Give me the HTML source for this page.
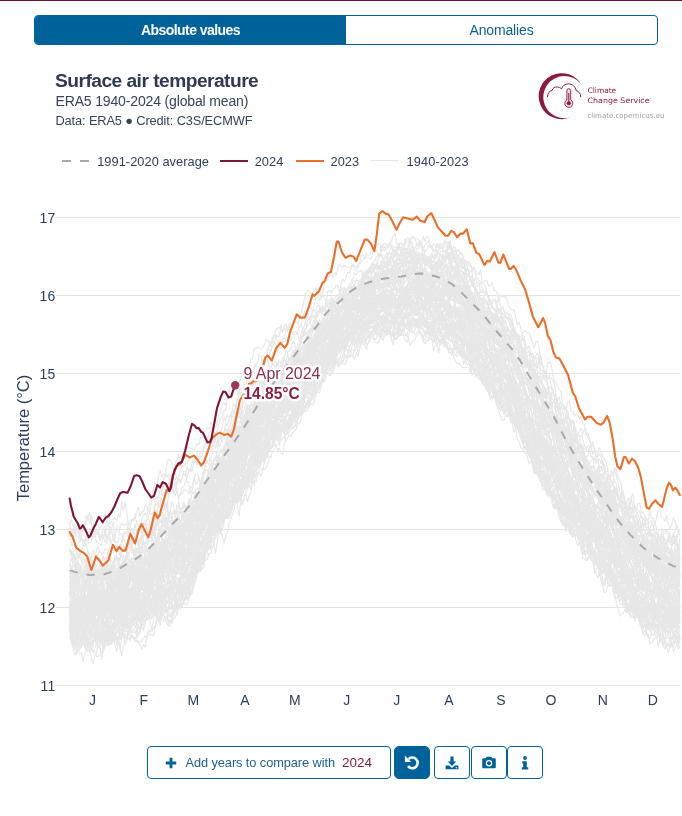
<!DOCTYPE html>
<html><head><meta charset="utf-8"><title>Surface air temperature</title>
<style>
html,body{margin:0;padding:0;background:#fff;}
body{width:682px;height:816px;position:relative;overflow:hidden;font-family:"Liberation Sans",sans-serif;color:#2a3f5f;}
.topline{position:absolute;left:0;top:0;width:682px;height:1px;background:#6e1432;}
.toggle{position:absolute;left:34px;top:15px;width:624px;height:30px;box-sizing:border-box;border:1px solid #00629b;border-radius:4px;display:flex;overflow:hidden;background:#fff;}
.toggle div{flex:1;text-align:center;line-height:29px;font-size:14px;color:#0f5f96;letter-spacing:-0.15px;}
.toggle .on{background:#00629b;color:#fff;font-weight:bold;font-size:14px;letter-spacing:-0.55px;line-height:29.5px;}
.title{position:absolute;left:55px;top:69.6px;font-size:19.2px;font-weight:bold;line-height:22px;white-space:nowrap;color:#2e3a55;letter-spacing:-0.53px;}
.sub{position:absolute;left:55.5px;top:93.2px;font-size:14px;line-height:16px;white-space:nowrap;color:#36435c;letter-spacing:-0.15px;}
.cred{position:absolute;left:55.5px;top:112.9px;font-size:12.8px;line-height:16px;white-space:nowrap;color:#36435c;letter-spacing:-0.12px;}
.legend{position:absolute;left:0;top:152.5px;height:18px;font-size:12.8px;line-height:18px;white-space:nowrap;}
.legend span{position:absolute;top:0;}
.legend i{position:absolute;top:7.5px;height:2px;}
.chart{position:absolute;left:0;top:0;}
.logo{position:absolute;left:520px;top:62px;}
.btn{position:absolute;top:746px;height:33px;box-sizing:border-box;border:1px solid #00629b;border-radius:4px;background:#fff;color:#00629b;}
.btn svg{position:absolute;left:50%;top:50%;margin:-8px 0 0 -8px;}
.add{font-size:12.8px;line-height:31px;white-space:nowrap;}
.add span{position:absolute;top:0;}
</style></head><body>
<div class="topline"></div>
<div class="toggle"><div class="on">Absolute values</div><div>Anomalies</div></div>
<div class="title">Surface air temperature</div>
<div class="sub">ERA5 1940-2024 (global mean)</div>
<div class="cred">Data: ERA5 ● Credit: C3S/ECMWF</div>
<svg class="logo" width="160" height="70" viewBox="520 62 160 70">
<path d="M582.1,85.6A23,23 0 1 0 570.7,117.3A21.1,21.1 0 1 1 582.1,85.6Z" fill="#8a1a3f"/>
<path d="M547.4,97.2C547.4,93.2 549.6,91 552,90.5C552.6,88 555,86.6 557.5,87C559,87.1 560.5,87.8 561.5,88.9C562.5,86 565,83.8 568.2,83.8C572.2,83.8 575.6,86.6 576.1,90.6C578.6,91.1 580.8,93.6 580.8,97.2" fill="none" stroke="#8a1a3f" stroke-width="1"/>
<path d="M566.9,90.6a1.9,1.9 0 0 1 3.8,0v9.3a4,4 0 1 1 -3.8,0z" fill="#f6d9e0" stroke="#8a1a3f" stroke-width="0.9"/>
<circle cx="568.8" cy="103.3" r="2" fill="#8a1a3f"/><rect x="568.3" y="93" width="1" height="9" fill="#8a1a3f"/>
<g font-family="'DejaVu Sans','Liberation Sans',sans-serif" font-size="7.5" fill="#8a1a3f">
<text x="587.6" y="93.4" textLength="28.6" lengthAdjust="spacingAndGlyphs">Climate</text>
<text x="587.6" y="103.2" textLength="62" lengthAdjust="spacingAndGlyphs">Change Service</text>
<text x="587.4" y="118.2" font-size="7.2" fill="#9e9e9e" textLength="77" lengthAdjust="spacingAndGlyphs">climate.copernicus.eu</text>
</g></svg>
<svg class="chart" width="682" height="816" viewBox="0 0 682 816">
<g fill="#e4e4e4"><rect x="56" y="685" width="624" height="1"/><rect x="56" y="607" width="624" height="1"/><rect x="56" y="529" width="624" height="1"/><rect x="56" y="451" width="624" height="1"/><rect x="56" y="373" width="624" height="1"/><rect x="56" y="295" width="624" height="1"/><rect x="56" y="217" width="624" height="1"/></g>
<g fill="none" stroke="#e7e7e7" stroke-width="1.12" stroke-linejoin="round" transform="translate(69.7,0) scale(1.67665,1)">
<path vector-effect="non-scaling-stroke" d="M0,610l1 8.3 1 7 1-4.3 1 7.9 1 .6 1-3.6 1-7 1-.4 1 10 1 1.6 1-5.7 1 1.8 1 11.6 1-7.4 1-4.5 1 7.9 1-1.2 1-2 1-6.6 1-1 1-.7 1 6.9 1-13 1-1.4 1 .1 1 2 1-.6 1-1 1-1 1-3.9 1-.4 1 7.6 1-1.2 1 4 1-8.9 1-6.2 1-9.4 1-2.6 1-10 1 .3 1 10.9 1 .9 1-3 1 .9 1-7.5 1 2.3 1-1.6 1 .5 1 5.8 1 4.8 1 .1 1-.7 1 4 1-3 1 .2 1 2.4 1-2.1 1-10.4 1 1.1 1 2.1 1-7.2 1 7.3 1-10.6 1 5.2 1-3.2 1-5.3 1 .9 1-4.7 1-2.1 1 6.6 1-2.7 1 1.7 1 .9 1-6.6 1-5.3 1-12 1 4.2 1-15.5 1-7.8 1-3.7 1-3.9 1-6.1 1-1.7 1-6.5 1-6.8 1-5.2 1-.5 1 2.8 1 13.3 1-4.3 1-11 1-3.8 1-4.5 1-.4 1 2.5 1-4.1 1-2.9 1 6.2 1-9.1 1 .1 1-4.7 1 3.4 1-3.3 1-2.6 1 .3 1-7.1 1-3 1-12 1-.7 1 2 1-4.7 1 3.4 1 6.9 1-6.3 1-7.5 1-1.8 1-6 1 3.7 1-5.7 1-7.5 1-6.9 1-5.2 1-5.8 1-3 1 3.6 1-4.1 1-6.2 1 1.3 1 7.8 1-4.5 1 1.6 1-5.8 1 9.5 1-9.7 1 1.3 1 2.8 1-3.7 1-8.8 1-10.6 1-.5 1-4 1-2.9 1-3.1 1-.1 1 2.5 1-4 1-8.5 1 7.3 1 0 1-6.6 1-5.1 1-5.1 1-6.4 1-2.1 1 2.4 1 3.6 1 2.4 1-5.2 1-9.6 1 4.7 1 4.4 1-5.3 1-9.5 1-3.8 1-7.1 1 1.9 1 5 1 5.2 1-5.4 1-2.7 1 3.7 1 2.5 1 1.1 1-5.7 1-3.8 1-1.1 1-6 1-1.4 1-3.4 1-3.6 1 4 1 1.9 1-3.1 1-3.3 1-.1 1 1.3 1-1.3 1-2.5 1 5 1-.5 1-2.8 1 3 1-.4 1-.8 1 4.2 1-2.7 1 1.9 1-3.1 1-5.4 1-2 1 2.3 1 1 1-.1 1 7.8 1-3.1 1-1.7 1 1.4 1 3.1 1-.1 1 3.9 1-8.8 1-1.9 1 7.5 1-4.2 1 4.1 1 .1 1 .9 1 2.8 1 5 1-4.9 1-1.7 1-1.5 1 8.6 1 3.1 1 .7 1 2.7 1-1.6 1 1 1 1.2 1-.1 1 7.9 1-4 1 1 1 4.3 1-1 1 1.5 1-1 1 5.7 1 8.7 1-3.1 1 10.5 1 1 1-.5 1 1.8 1 9.5 1 1 1-7.1 1 3.9 1 1 1 5.7 1 8.5 1-5.8 1-3.3 1-3.4 1 6.2 1 2.3 1 .9 1 9.8 1 .8 1 3.7 1-2.2 1 .8 1 .5 1 1.2 1 8.9 1-3.7 1 7.8 1-4.4 1-.3 1 6.8 1 1.6 1 10.2 1 4.4 1 10.4 1 1.6 1 .4 1-3.3 1 4.1 1 4.7 1-6.6 1 2.4 1 1.1 1 5.3 1 8.2 1-.9 1 4.4 1 1.5 1 5.3 1 11 1 3.1 1 5.3 1 7.1 1 0 1 2.3 1-2.7 1 2.4 1 2.5 1-2.9 1 7.2 1-3.4 1 9.5 1-1.5 1-1.6 1 4.7 1-2.6 1 14.1 1 4.7 1 2.5 1-4.5 1 .5 1 12.1 1-4.8 1 8.1 1 .8 1 .2 1 10.2 1-1.1 1-1.1 1 7.8 1 5.9 1 4.7 1 2.8 1 3.2 1-.1 1-13.2 1 5.5 1-6.3 1 4.3 1 5.6 1 8.5 1 2 1-3.9 1-3.9 1 .1 1 5.4 1-9.2 1 9.5 1 2.3 1 10.6 1-2.7 1-4.2 1 19 1-6.3 1 6.5 1 2.5 1-.8 1 8.6 1-3.7 1 1.7 1 9.2 1-8.2 1 .2 1-.4 1 2.3 1 2.7 1-11.4 1 1 1-2.5 1 2.7 1 7.3 1 2.9 1 4.5 1 1.5 1-7.9"/><path vector-effect="non-scaling-stroke" d="M0,616.2l1-3.9 1 11.1 1 3.6 1 5.4 1 3.4 1-8.7 1-14.9 1 5.2 1 1.4 1-1 1 7 1 4.8 1 3 1-8.2 1-3.4 1-2.4 1 4.2 1-2 1-.6 1 11.9 1 7.8 1-8 1 1.2 1-3 1 4 1 7.2 1 .5 1-10.5 1-.6 1-12 1 .8 1 2.3 1-9.8 1-8.8 1-.8 1-2.6 1-4.9 1-3.8 1 11.9 1 4.5 1 1.8 1 1 1-6.3 1 .4 1-11.4 1-12.3 1 7.7 1-6.9 1 3 1 4.6 1-5.2 1 3.2 1-.8 1 5.6 1 4.6 1-3 1 2.4 1-5.6 1 2.2 1-2 1-2.4 1 5.1 1 3.4 1-3.7 1-7.7 1-.1 1 2.2 1-2 1 .9 1-8.4 1 1.8 1-1.6 1-10.7 1-2.5 1 5.5 1-2.4 1-2.8 1-6.2 1 5.4 1-2.5 1-9.6 1-13 1 .3 1-5.4 1-3.7 1-.7 1-4.2 1 3.2 1-12.4 1-2 1-5.5 1-1.4 1-2.6 1-1.1 1-2.2 1-9.2 1-.2 1-.7 1-4.8 1-1.1 1-1.1 1 5.4 1 1.7 1-5.3 1 1 1-10.8 1-2.7 1-10.9 1-2.5 1-9 1-15.1 1 2.9 1-2.5 1-1.1 1 10.1 1-.9 1 1 1-5.6 1-1.6 1 1 1-8.4 1-1.1 1-3.8 1-9.5 1-2.9 1-2.6 1 1.1 1-2.6 1-6 1 4 1-4.2 1 3.1 1 3.1 1-5.4 1 2.5 1 1 1-9.7 1-4.3 1-7.4 1-1.4 1 2.8 1-.1 1-7.8 1-7.8 1-.1 1-1.4 1 .7 1-4.4 1-.8 1-.1 1-1.2 1-4.9 1 3.9 1-6.3 1-2.6 1-5.7 1-1.4 1 1.9 1-1.8 1-.5 1 3.3 1-6.1 1 2.5 1-2.2 1-5.5 1-3.8 1-1.6 1-1.5 1-1.5 1-3.6 1 .2 1-4.9 1 1.4 1-5.2 1 3.1 1-.9 1-2.1 1 1.2 1-3.2 1 2.2 1-1.6 1-5 1 .4 1-1.7 1 7.1 1 4.9 1 3.4 1-.6 1 .6 1 4.5 1-.5 1-5 1-5 1 1.1 1 2.3 1 .5 1 4.9 1 5.1 1-12.8 1-5.5 1 2.8 1-5.8 1-5.3 1-1.3 1 2.1 1-1 1-3.4 1 2.8 1 3.6 1-3.9 1 8 1 4.9 1-3.5 1-.4 1-.1 1-1.1 1 .6 1 3.9 1-1.7 1-3.3 1 2.8 1-4.3 1 8 1 1.6 1 4.8 1 1.5 1 1.2 1 2.1 1 2.5 1 2.1 1 13.2 1-5.4 1 1.2 1-.4 1-5.8 1 5.6 1-3.3 1 8.9 1 .1 1 2.1 1-2.5 1 5.5 1 5.6 1 4.7 1-4 1 4.2 1-1.8 1-.9 1 2.9 1 5.4 1-2.7 1-.2 1 1.5 1 4.2 1-4.5 1 6.5 1-2.5 1 6.4 1 3.2 1 2.8 1 2.9 1 3 1-3.4 1 5.4 1 3.5 1 11.8 1 8.1 1-5.2 1 1.4 1 6.8 1 3.6 1 .4 1 8.6 1 6.9 1 8.4 1-2.2 1-.5 1 .4 1-1 1 3.7 1 3.5 1 4.3 1-1.8 1 12.3 1-3.9 1-2.4 1 8.9 1 1.6 1 2.7 1 1.9 1 6.4 1 6 1-3.7 1 4 1 1.6 1 5 1 12.2 1 2.3 1-1.5 1 .4 1-.2 1-.8 1 2.7 1 .5 1 7.3 1-3.4 1 3.7 1 5.1 1 3.3 1-.8 1-.8 1 2.9 1-1.6 1-.2 1 10.4 1-1.9 1 2 1-2.6 1 9.5 1 3.3 1 4 1 5.8 1-9.4 1 4.5 1 14.4 1 7.7 1 2.9 1-1.7 1-3.2 1 4.9 1-.5 1 1.3 1-4.1 1 7.4 1 .6 1 8.6 1 12.3 1-4.4 1 3.6 1 5 1-9.2 1 4 1 4 1-9.8 1 .1 1-2.6 1 4.9 1 7.6 1-6.9 1-3.9 1 10.9 1-7.8 1 1.6 1 8.1 1-2.3 1 11.4 1 2.7 1 1.7 1 4.8 1-7.3 1 4.4 1 3.5 1-2.9 1-2.5"/><path vector-effect="non-scaling-stroke" d="M0,622.1l1 4.2 1-2.4 1-4.7 1-1.8 1 5.2 1 5.7 1-.2 1 .4 1 .9 1 2.1 1-9.7 1 7.1 1-2 1-1.9 1-14.1 1-.5 1-4.5 1 7.7 1 4 1-5.3 1 5.7 1-.2 1 5.6 1 2 1 1.5 1-4.9 1-6.3 1-4.5 1-2.2 1-11.7 1-8.8 1 8.8 1 11.7 1 1.7 1-2.2 1 .6 1 9.3 1-5.6 1-9.3 1 4.3 1 3.6 1 3.3 1-3.4 1-15 1 1.8 1-3 1-4.7 1-10 1 3.4 1 10.6 1-1.3 1-3.4 1-15.7 1 .6 1 9.3 1 3.1 1 2.9 1 .6 1 1 1-1.7 1-3.5 1-10.1 1 6.8 1-1 1-1.6 1 1.2 1-9 1 1.4 1 2.3 1-9.4 1-6.1 1-3.3 1 1.3 1-5.2 1 .6 1-5.6 1-10.4 1-9.7 1 1.4 1-10.1 1 6.5 1-6.9 1-11.7 1-.4 1 .3 1-8.6 1-7.8 1-1 1 0 1 3.4 1-9.7 1 2.2 1 1.4 1 5.4 1-2 1 4.8 1-6 1-7.6 1 7.4 1-8.3 1-10.6 1 1.9 1 9.9 1-7.2 1-2.9 1 .8 1-5.7 1-9.4 1-1.3 1-.6 1-11.2 1-7.3 1-9.5 1 8 1 1.2 1-2.4 1 .7 1-5.3 1-6.8 1 .6 1 .1 1-4.5 1 .3 1-.8 1-6.9 1 1.1 1-13.5 1 3.9 1-.7 1-1.1 1 5.3 1-3 1-8 1-8.3 1-.8 1-3.3 1-.8 1-.9 1-4.7 1-.4 1 .3 1-2.5 1-5.2 1 5.2 1 1 1-6.6 1-3 1 1.5 1-2.2 1 .1 1-7.9 1-5 1-4.1 1 4.6 1-3 1-5.4 1-3.7 1-4.5 1 1.5 1 0 1-2 1-2.4 1-.6 1-1.8 1-3 1-3.5 1-3.8 1-1.9 1 .7 1-2 1-2.8 1-5.8 1-.3 1-.1 1-1.6 1 .2 1-2.7 1 .3 1 3.7 1-3.7 1 5.7 1-4 1-7.1 1-2.7 1-7.7 1 2.6 1 .8 1-2.7 1 2.1 1 8.5 1 0 1-1.7 1 1.1 1 .6 1 2.2 1 1 1 .1 1 2.8 1-5.4 1 .5 1 4.8 1-2.6 1 2.1 1-4.6 1 1.6 1-.6 1 2.8 1 .2 1 4.1 1-5 1-1.3 1 6.6 1 4.5 1 4.9 1-.7 1-.9 1 1.4 1-2.8 1-5.4 1 1.2 1 9.2 1-.7 1-9.4 1 .9 1 6.9 1-.6 1-2.6 1-.1 1 4.4 1 4.8 1-1.2 1 9.2 1 .3 1-7 1 .6 1 9.8 1 4 1 7.5 1-.9 1-3.2 1 .5 1 1.9 1 1.6 1 6.5 1-2.5 1 5.4 1 7 1 5.5 1-5.4 1 14.1 1-.3 1-2 1-4.4 1 5.9 1 4.1 1 .3 1 1.5 1 .7 1 3.3 1 8 1-8.8 1 7.4 1 .2 1-3.1 1 5.4 1 8 1-2.1 1 10.3 1 1.6 1 4.5 1 4.3 1-5.6 1 3.3 1 7.7 1 .8 1 12 1-3.7 1 1.4 1-1.1 1 5.1 1 11.4 1 1.3 1 3.1 1-4.1 1 1.4 1 .8 1 8 1 10.2 1 1.8 1 4.9 1 8.6 1 4.7 1 2.1 1 2.3 1 10.2 1 1.6 1-3.9 1-2.5 1 1.5 1 1.7 1 4.7 1 6.6 1-8.7 1-3.6 1-.2 1-1.7 1 12 1 .1 1 2 1 13.4 1 .2 1-1.4 1 3.5 1 6.7 1-3.3 1 6.9 1-1.7 1 .4 1-1.7 1-5.6 1 5.5 1-11.5 1 8.2 1 4.3 1 4.4 1-.3 1 7.3 1 1.1 1 13.9 1 8.7 1-14 1 .6 1 4.3 1 3.5 1 4.2 1 7.5 1 6.1 1 3.9 1-10.5 1 1.6 1 3.3 1 1.5 1 0 1 8 1-8.8 1 3.4 1 7.1 1-2.2 1-.8 1-4.6 1 2.6 1 2.1 1 3 1-7.3 1-1.8 1 1.7 1 10.7 1-2.2 1-2.3 1 2.1 1 17.8 1 5.9 1-.5 1 3.3"/><path vector-effect="non-scaling-stroke" d="M0,616.8l1-4.7 1 14.1 1-2.1 1 12.6 1-9.6 1-7.5 1 5.7 1 12.2 1 2.8 1-2.1 1 9.8 1-.9 1-.8 1-1.3 1-9.4 1-1.5 1 6.5 1 .4 1 1.7 1-5.4 1-.1 1 .3 1-1 1-2.1 1-1.5 1-1.6 1-6.9 1-6.6 1 2.6 1-6 1-3.1 1 4.8 1 10.7 1-11.4 1-.7 1-5.7 1 2.7 1-5.4 1-3.1 1 1.7 1-2.5 1 8.1 1 4.5 1-1.3 1-13.8 1 6.4 1 2.6 1-10.8 1-5.8 1 5.4 1 13.2 1-9.4 1 1.8 1-3.2 1-6.7 1 3.2 1 9.2 1 5 1-.1 1 3.2 1 .3 1-6.3 1-5.4 1-12.6 1-2.5 1 5.5 1 .4 1-4.3 1 5.2 1-11 1-4.9 1 1.2 1-3.1 1 8.1 1-16.8 1 2.9 1 1.7 1-6.3 1-6.7 1 5.8 1-14 1-7.9 1-5.6 1-5.4 1 2.5 1-1.4 1-.4 1-1.9 1-12.4 1 .2 1-5 1-4.8 1 .9 1 2.8 1 1.5 1-.4 1-10.6 1-9.5 1-1.1 1 1.1 1-1.7 1-5.5 1-5.9 1-4.2 1-.5 1-7.8 1 7.5 1-4.8 1-3.4 1-1.2 1-5.4 1 2.1 1-6.7 1-.5 1-1.1 1 5.7 1-8.4 1-10.7 1-2.1 1 .3 1-8.5 1-1.2 1 .2 1 4.3 1 1.3 1-4 1-1.7 1 1.4 1-.8 1-4.7 1-3.9 1-1.7 1-5.3 1-5.5 1-1 1-1.6 1-2.6 1-5.2 1-2.5 1-3.6 1-.6 1-3.2 1 1.2 1-1 1-2.5 1-2 1-8.3 1-3.2 1-1.1 1 1.2 1-4.5 1-3.4 1-2.1 1-2.4 1-4.7 1-6 1-3.8 1-1.1 1-.8 1-5.4 1 1.1 1 2.6 1-2.7 1 3.7 1 .7 1-6.6 1 2.1 1-7.8 1-2.4 1 1.3 1 2.7 1-6.7 1-1.7 1 3.6 1-3.5 1 .5 1-5.7 1-1.3 1 3.3 1-.9 1 1.1 1-4.8 1 .5 1-2.9 1 .7 1 4.8 1 .7 1 0 1-1.4 1 .1 1 1.3 1 2.4 1-1.4 1-1.4 1 .3 1 1.9 1-.7 1-1.8 1 4.8 1-7.9 1-6.9 1 4.8 1-2.5 1-1.4 1-.9 1 1.8 1-3 1 8.4 1 2 1 .5 1 .8 1 4.8 1-4.1 1 3.5 1 0 1 .7 1-7.2 1 4.8 1-3.7 1 4.6 1 10 1-12.4 1-1.1 1 5.5 1-2.9 1 2.3 1-.8 1 4.7 1 2.2 1 .9 1 2.8 1 0 1 6.1 1 5.2 1-3.7 1-2 1 12.6 1 2.5 1 5.8 1 3.1 1-1.7 1-3.7 1-2.1 1 7.9 1 1.5 1 3 1 7.6 1 2.6 1 4.3 1 3.6 1-2 1-.1 1 2.1 1 1.8 1 7.9 1-.3 1-4.8 1 1 1 1.2 1 4.1 1 8.1 1-.3 1 4.8 1-3.2 1 11 1-2 1 11.7 1-8.4 1 5.8 1 0 1 11.8 1-.7 1 .9 1 8.8 1-.1 1 13.1 1 4.3 1 8.7 1 .8 1 2.8 1-3.7 1 6.7 1-1.3 1 5.2 1-.5 1 6.8 1 5.8 1 9.4 1 1.1 1 .6 1 1.3 1 8.4 1 4.8 1-8.9 1 3.1 1 6 1 4.2 1-3.1 1 9.2 1-8.4 1 12.6 1-3 1 3.6 1 5.9 1-7.1 1 1.2 1 10.1 1-1.6 1 5.8 1-3 1 .4 1 5.9 1-4.3 1 1.7 1 7.1 1 .6 1-2.9 1 3.5 1 5.7 1 5.4 1 3.4 1 4.1 1-.1 1 8.1 1 5.9 1-1.5 1-1.5 1 6.4 1 .2 1 2.9 1 5.3 1-2 1 .1 1 4.6 1 2.4 1-5.4 1 .6 1 9.7 1-1.5 1 9.9 1-8.5 1 10.4 1 1.9 1 2.7 1-.1 1-.6 1-7.1 1 3.8 1-3.8 1 7 1-6.5 1-.2 1 7.9 1 1.1 1-3.9 1 3.2 1 4.4 1-12.9 1-7.5 1 7.2 1 5.4 1-.6 1-2.6 1-3.7"/><path vector-effect="non-scaling-stroke" d="M0,632.2l1-6.3 1-4.6 1 9 1 5 1-4.9 1-8.7 1 8.3 1 .1 1 5.7 1-1.4 1-1.6 1 1 1-10 1 14.2 1 0 1 3.8 1 4.8 1-.1 1 12.9 1-12.2 1-7.9 1-3.2 1 2.7 1-1.8 1-.2 1-3.8 1 .9 1 1.7 1 6.4 1-12.1 1 .1 1 .4 1 1.3 1-.6 1-4.4 1-2.1 1 7.9 1-.4 1 .8 1-2.8 1 3.6 1-3 1-7.2 1 1.5 1-3.9 1-2.2 1-6.7 1-1.8 1 4.2 1-3.2 1-3.3 1-4.6 1-1.9 1 12.3 1 .4 1-.8 1 6.7 1-4.1 1-10.5 1 2.1 1 1 1 .7 1-.3 1-17.5 1-7.2 1 5.7 1-10.9 1-6.3 1 7.5 1-.9 1-4.9 1-.1 1-.7 1 0 1 3 1-7.1 1-7 1 6.7 1-4.7 1-14.8 1 1.4 1-4.8 1-9.8 1-3.8 1 2 1-2.8 1-7.9 1-.3 1 6.6 1 3.5 1-6.2 1-3.9 1-7.6 1 1.1 1-11.4 1-1.4 1-3.4 1 .4 1-7.3 1 8.6 1-4.6 1-7.1 1-6.4 1 .3 1-8.5 1-8.7 1-9.2 1-.6 1 5.2 1-5.2 1-1.9 1-2.6 1-4.5 1 .3 1-1.1 1 1.6 1-3.6 1-.4 1-1.6 1 .9 1 .7 1-9.4 1 1.4 1-3.4 1-.6 1-2.2 1-2.9 1-6.6 1 3.3 1-2.2 1-6.2 1-1.8 1 .8 1-2 1-4.1 1-1.9 1 6.1 1-.5 1-4.9 1-11.2 1-5.7 1-6.5 1 0 1 4.6 1 1.6 1-.6 1 .1 1 1 1 .7 1-7 1-7.8 1-4 1-5.9 1-2.3 1-2 1-10.1 1 2.2 1 4.7 1 2.6 1 1.5 1-6.6 1-5.5 1-6.2 1 .2 1 1.1 1-6.5 1-.6 1-1.4 1-4.1 1 1.5 1-6.8 1-1.1 1 .7 1 2 1-1.2 1 9 1 .4 1-1.2 1-5.8 1 2.1 1-6.7 1-4.2 1 6.3 1-7.3 1-3 1 4.5 1 .4 1-4 1-5.4 1 3.1 1-3.1 1-1.6 1 5.6 1-5.3 1-4 1 3.7 1 2.5 1-1.6 1-3.4 1-5.9 1 2.7 1 .4 1-.2 1 1.6 1 .4 1 3.3 1 1.1 1-2.8 1 2.9 1 5.5 1 3 1-2.2 1 2.5 1-1.8 1 2.4 1 1 1 3.2 1-6.4 1 .8 1 2.9 1 4.5 1-1 1-1.6 1 1.7 1-3.3 1 6.2 1 3.9 1-7.9 1-.1 1 .5 1 5.7 1 3.4 1 1.2 1 8.1 1-.6 1 7.1 1 2.4 1-2.6 1-.6 1-.1 1 8.4 1-4.3 1 4.9 1 5 1 6.8 1 4.5 1 3.5 1-.8 1 3 1 9.4 1-3.1 1 0 1 6.9 1 2.2 1 1.6 1 2.3 1-6.9 1 6.4 1-1 1 2.1 1 .4 1 .1 1 7.3 1 6.6 1 4.3 1 3.5 1 1.8 1-1.7 1 5.7 1 5.2 1 0 1 3.9 1 4.5 1 4.2 1 4.7 1 3.1 1 8.9 1 0 1 3.8 1 2.5 1 1.6 1 3.9 1-3.4 1 7.6 1 7.3 1-.5 1 4.1 1 6.3 1-4.7 1 3.6 1 5.8 1-.2 1 6.2 1 2.2 1-1.9 1 1.3 1 1.6 1 1.9 1 .4 1 1.9 1 2.1 1 4 1 1.5 1 .8 1 4.1 1 5.9 1-1 1-.2 1 2.6 1 13.2 1 5.7 1-.8 1-5.3 1 8.4 1 7.2 1-2.1 1-.3 1 1.1 1 6.9 1 3.9 1 4.6 1-3.6 1-.4 1 3.7 1 3.5 1 5.5 1 1 1-3.1 1 1.9 1 2.5 1 6.1 1-5.9 1-9.4 1 8.3 1-2.9 1 17.2 1-9.8 1 8.2 1 9.8 1-5.2 1 8.3 1-9.2 1 10.1 1-.6 1 7.3 1-2.9 1-.4 1-5.8 1 3.1 1-5.1 1 1.6 1 5 1 7.3 1 1.6 1 3.5 1-1.2 1 3.9 1-2.6 1-7.2 1 .4 1-1.5 1 1.5 1 2 1 1.3"/><path vector-effect="non-scaling-stroke" d="M0,636.7l1-3.1 1 5.2 1-9 1 14.4 1-8.2 1 3.7 1 7.8 1-5.3 1-3 1-5.8 1 .6 1 .6 1-8.6 1-4.1 1 .1 1-3.1 1 3.8 1 10.4 1 5.7 1-15.7 1 7.9 1 1.7 1 4.3 1-9.5 1-1.6 1 7.2 1 4.8 1-9.6 1-2.7 1-.4 1 1.1 1-7.9 1 2.3 1 4.3 1 3 1-1.7 1 1.8 1-5.6 1 5 1-1.5 1-14.7 1 13.1 1-6.5 1-2.9 1-9.1 1 .1 1-9.1 1-4.2 1 15.1 1-6.7 1 5.9 1 12 1-7.1 1-2.8 1 .2 1-1.8 1-6.1 1-1.2 1 5.7 1 3.4 1-2.9 1-1.7 1-.3 1 1 1-6.8 1-3.5 1-3.5 1-7.7 1 4.5 1-4.7 1 7.2 1 0 1-11.8 1 2.9 1-5.1 1-5.6 1-6.4 1-6.3 1-4.7 1-8.7 1-8.7 1 1.2 1 7.4 1 1.9 1-9.1 1-9.4 1-6.8 1-7.7 1 .1 1 1.3 1-5.2 1-3.4 1-4 1-6.4 1 3.3 1 3.7 1-4.4 1-2.5 1 3.4 1-2.8 1-7.6 1-.8 1 .9 1-1.8 1-2.3 1-11.2 1-6.8 1-3.9 1-7.4 1 4.7 1 5.7 1-.7 1-12.1 1-6.3 1 1 1-5.6 1-1.2 1 7.6 1-8 1-3.4 1 2.6 1-8.9 1-5.7 1 0 1-3 1-.4 1-1.7 1-4.1 1 9.2 1-.9 1-.6 1-9.9 1-11.6 1-7.8 1-5.4 1 2 1 4.1 1-3.5 1-4.5 1-4.7 1-1.9 1-2.4 1 2.6 1-3.5 1-13.8 1 1.4 1 .6 1-5.5 1 1.7 1-3.5 1-8.6 1-4.7 1 2.9 1 .1 1 4.1 1-5 1 1.1 1-3.5 1 2.4 1-5.4 1-3.2 1 .8 1 1.9 1 1.7 1-6.3 1 4.9 1-5.2 1-1.3 1-7.5 1-1.1 1-1.2 1-1 1-3.7 1-.2 1-2.7 1-2 1 5 1 1.1 1 4.6 1-1.4 1-5.8 1-3.2 1-1.6 1 .8 1 3 1 2.2 1-5.4 1 .2 1 .3 1-.9 1-2.4 1 3.8 1-1 1-.9 1-4.7 1-1.9 1 1.1 1 1.2 1-2.5 1-5.3 1 2.6 1-4.6 1 6 1 2.6 1 1.9 1-1.9 1 2.4 1-1.7 1 .3 1-4.5 1 7.1 1 1.8 1 .3 1 2.6 1 2.7 1 4.1 1-3.8 1-.9 1 .7 1-1.4 1 4.1 1 1.5 1 .4 1 2.8 1 4.8 1-3.6 1 .7 1-2.7 1 9.5 1-4.8 1 5.9 1-1.5 1 1.1 1 4.4 1-.7 1 3.5 1 2.2 1 8.4 1 4.9 1 2.8 1 3.9 1 4.7 1 3.9 1-1.8 1 4.3 1-2.7 1 7.6 1-.6 1 2.3 1-2.9 1 .3 1 1.5 1 4.5 1 8.4 1-2.3 1 7.5 1 6.7 1-1.4 1-1.9 1-2.3 1-2.7 1 7.4 1 1.1 1 4.5 1 3.9 1 5.3 1 5.2 1 2 1 2.5 1-3.9 1 10.9 1-3.3 1 3.7 1 2.5 1 10.9 1 4.3 1 .5 1 1.3 1 7.9 1-2.5 1 3.9 1-.1 1-7.5 1 4.9 1 .2 1 5.8 1 1.2 1 1.1 1 5.1 1 8.5 1 3.8 1-3.7 1-5 1 1.4 1 11 1 3.5 1 2.5 1 1.7 1 9.3 1 3 1 5.8 1 4.8 1 5.2 1-1.7 1 9.5 1 8 1-8.5 1 .6 1 1.9 1 3.7 1 9.6 1-4.4 1 5.6 1 5.3 1 1.3 1 .6 1 .9 1-1.4 1 .5 1-3 1 2.2 1 3.1 1 11.4 1 1.4 1 .3 1 2.6 1 7.6 1-5.1 1 2.5 1-2.5 1 7.2 1 3.3 1 5.5 1-3.5 1 2.1 1 2.9 1 5.8 1 7.1 1-7.2 1-2.2 1-1.6 1 1.1 1 12.1 1-6.1 1 1.5 1-5.2 1 6 1 6.2 1-.2 1-.4 1 .6 1 2.8 1 4.6 1 1.8 1 1.8 1-3.6 1 1.2 1 8.1 1-6 1-1.6 1 13.1 1-5.9 1-1.2 1 2.9"/><path vector-effect="non-scaling-stroke" d="M0,628.8l1-.9 1-2.1 1 8.1 1 8.4 1 8.4 1-15 1 5 1-8.8 1 14.7 1-2.4 1-1.5 1 4.3 1 12 1 5.3 1-9.5 1-.9 1-13.5 1-3.9 1-4 1 8.1 1 1.9 1-6.5 1 9.9 1-1.4 1-5.9 1-5.9 1 8.7 1-4.6 1 1.3 1-3.7 1-2 1-7.9 1-1.7 1 1.4 1-12.6 1-6.9 1 5.9 1-.7 1-5.5 1-4.6 1 5.2 1-1.6 1 5.5 1 8.9 1-1.5 1-14 1-4.5 1 6 1 7.8 1 .6 1-1.3 1-.2 1-7.4 1-3.6 1-4.7 1 8 1-5.6 1 11.9 1 12.2 1-1.8 1 3.5 1-5.3 1-.4 1-4.2 1-10.1 1 6.4 1-6.5 1-.1 1-6.3 1-6 1-3.6 1-15.5 1 1.7 1 2.5 1-1.9 1-11.5 1 4.1 1-2.6 1-.7 1-13.2 1 2.4 1-2.7 1-15.1 1-17.7 1 6.2 1-.6 1 1.2 1-3.3 1-6.9 1 4.3 1 3.9 1-3.5 1-4.8 1-16.3 1 5.7 1-.5 1-7.5 1-7.3 1-6.3 1 2.2 1-.6 1-3.3 1 3.2 1-3.5 1-4.1 1-6.7 1-2.6 1-1.6 1-2.5 1 2.4 1 .7 1-1.7 1-10 1-2.2 1-3.2 1 3 1 1.4 1 4.4 1-13.4 1-3.8 1-5 1 1.7 1 3 1-2.8 1-2.1 1-3.9 1-1.4 1 6.1 1-1.8 1 1.2 1-9 1-11.4 1-2.4 1 5.5 1-9.7 1-.7 1-1.8 1 1.3 1 6.9 1-2.8 1-4.8 1-2.5 1-.1 1-7.2 1-1.7 1-7.9 1-3.7 1 1.2 1-3.3 1-.5 1 3.1 1-10.7 1 .8 1-10 1 2.5 1-.5 1-5.2 1 6 1-7.1 1 1 1-1.3 1 .4 1 3.4 1-4 1-.5 1-1.5 1 1.2 1-7.4 1-9 1-.9 1-1 1 .3 1 2.9 1-.8 1-.6 1-1.2 1 4.6 1-.3 1-5.9 1-1.9 1 .1 1-4.8 1 2.3 1-5.5 1 3.2 1-.8 1 .6 1 1.1 1-3.6 1 0 1 3 1 2.1 1-1.6 1 2.1 1-2.5 1 0 1-5 1-.9 1-2.3 1-10.2 1 1.5 1 4.4 1 7.1 1 4.1 1 1.3 1-2.1 1-5.7 1 .8 1 2 1-4.5 1 .9 1 1.6 1-.6 1 1.7 1 1 1 3.7 1 1.6 1 .6 1-.1 1-1.7 1 1.7 1-.2 1 4.4 1-1.6 1-3.8 1 5.5 1 5.2 1-3.7 1 1.7 1 2.2 1 0 1 3.8 1 4.4 1 5.7 1 7.6 1-3.1 1-3 1 3.7 1-1 1-.5 1 1.3 1 2.5 1 .6 1 4.2 1 4 1 .5 1-2.4 1 2.4 1 12 1 1.1 1 4.1 1 1.2 1 0 1 10.1 1 5.4 1 1.5 1 2.2 1 .2 1-2 1 5.8 1 .6 1 1.4 1-1.3 1-3 1 3.9 1-1.7 1 12.1 1 5.3 1-.7 1 3.4 1 2.8 1 .6 1 8 1 4.7 1 4.1 1 7.1 1 9.2 1 1.7 1 0 1-.6 1 1.7 1-1.8 1-1.6 1 7.9 1 12.4 1-1.8 1 4.6 1 3.1 1 6.3 1 .7 1 1.7 1 1.4 1-1.5 1 6.1 1 1.7 1 14.5 1-12.9 1 4.9 1 3.8 1-5.6 1-.3 1 2.5 1 7.8 1-1 1 1.5 1-.6 1 5.5 1 8.6 1-4.3 1 1.1 1 7 1-7.1 1 .9 1-4.6 1 13 1 1.3 1 4.2 1 7.2 1-1.8 1 3.7 1 4.4 1-4.6 1 12.1 1-4 1-7.9 1 5.2 1 7.6 1 6.1 1 1 1 5.6 1 2.8 1 7.6 1 9.7 1-2 1 4.9 1 3.3 1-4.7 1-.3 1-4.9 1 1.4 1 1.7 1-.6 1 4.2 1-7.5 1-1.2 1 6.8 1 .2 1-.3 1 6.6 1 4.5 1-4 1-.3 1 2.5 1 .8 1-4 1 12.7 1-1.4 1 .6 1-7.1 1-7.1 1-3.8 1 3.5 1 2.3 1 1.3"/><path vector-effect="non-scaling-stroke" d="M0,605l1 7.8 1 12.1 1 1.4 1-2.8 1 1.2 1 8.1 1-13.2 1 3.2 1-4.7 1-.3 1-4 1 1.6 1 8.2 1 2.8 1 1.9 1-3.7 1-3.8 1 1.9 1 8.8 1-2 1 1.2 1 2.8 1 0 1-9.4 1-4.6 1-1.8 1 8.4 1-2.7 1-6.4 1-1.5 1 .3 1-5.7 1 4.7 1 4.9 1-4.3 1-8.9 1-7.2 1 6.6 1-1.2 1 5.4 1-5.4 1-8.9 1-.6 1-3.2 1 10.8 1 0 1-1.7 1-5.1 1 8.2 1-7.4 1 4.7 1 3.8 1-1.6 1-5.2 1 9.7 1-6.4 1 3.7 1-2.6 1-1.5 1-1.8 1 .3 1-2.1 1 12 1-7.9 1-2.5 1-2.2 1-1.6 1-4.4 1-1.9 1-7.6 1-7.8 1-3.8 1-6.5 1 1.3 1-11.9 1-9.3 1-5.8 1 9.3 1-4.8 1 4.4 1-8.3 1-5.3 1-.9 1-5.1 1 3.3 1 0 1-9.3 1 2.1 1-11.5 1-14.3 1 6.1 1-.6 1-13.1 1-8.7 1-1.1 1 .2 1-3.5 1-.1 1-6.6 1 1.3 1-1.7 1-.7 1-1.8 1-11.1 1-13.2 1 4 1 .2 1-1.2 1 5.7 1-12.3 1-4.9 1 7.1 1-4.2 1-3.4 1 2.8 1-6 1 1.7 1-7.5 1 3.6 1-1.8 1 3.2 1 3.5 1-4.7 1-3.4 1 7.2 1 .3 1-6.7 1-1.4 1-7.4 1-2.7 1-8 1 .2 1-2.6 1-8.8 1 5.8 1-7.5 1-2.6 1-1.6 1-1.9 1 0 1-.7 1-7.4 1-1.4 1-4.6 1 .2 1 7.9 1-4.9 1 1.6 1-8.9 1 .2 1-2.6 1-6.6 1-1.8 1-.7 1 .4 1-2.6 1-5.1 1 .6 1-1 1-6 1 1.1 1 2.9 1-3.1 1-3.8 1-.3 1-3 1 1.4 1 1 1-1.2 1-4.1 1 3 1-.6 1-7.4 1-1 1-6.9 1 7.3 1 .3 1-7.9 1-3.7 1 2 1-2.9 1 1.3 1 1.4 1 6.8 1-1.3 1-.1 1-4.1 1-4.8 1 1.6 1 4 1-2 1 .9 1-3.4 1 8.3 1 2.1 1 1.3 1-7.7 1-3.8 1-.3 1-4.1 1-5 1-3.7 1-1.5 1-.4 1 4.5 1 7.3 1 .9 1-.6 1-.8 1-1.9 1 3.2 1 4.1 1 4.2 1-1.1 1 2.5 1 2.2 1-4.5 1-1.8 1-1.4 1-3.6 1-1.1 1 2 1 4.9 1-.1 1-1.9 1 .1 1 1.6 1 1.8 1 3.6 1 .2 1 .9 1-.3 1-1.5 1 2.1 1 2.5 1-1.7 1 7.4 1-3.3 1 2.5 1 3.5 1 5.3 1-2.1 1 5.3 1 1.8 1 5.3 1 2.3 1 8.6 1-4.5 1 6.8 1-.1 1 3.3 1-2.5 1-1 1 5.9 1 8.8 1 .9 1 8.1 1-3.4 1 4.7 1-4.7 1-5 1 .9 1 5.1 1 6.5 1 6.3 1 5.7 1 10.9 1 4.4 1 .2 1-.9 1 2.1 1 6.4 1 3.4 1 4.8 1-1 1 6.1 1 7.7 1-2.6 1-1.7 1 2.9 1 14.5 1-3 1-1.6 1 3.9 1 .1 1 1.5 1 4 1 5.8 1 6.6 1 4.8 1 5.3 1-3.9 1 5.2 1-1.6 1 2.2 1 6.5 1 6.6 1 2.4 1-8.2 1 4.5 1 3.5 1 6.5 1 6.7 1-.9 1 1.1 1 1.4 1 .1 1 3.9 1 3.4 1 .8 1 1.5 1-.1 1 5.9 1 4.3 1 8.5 1-10.2 1 5.8 1-2.4 1 .9 1-1.7 1-7.7 1 7.1 1-3.2 1 7 1 4.2 1-1 1 3.5 1 11 1 5.8 1 12.9 1-3 1 16.5 1-2.3 1 6.1 1 6.5 1-5.6 1 0 1 6.6 1 1.4 1 3.7 1-3.6 1 4.6 1-11.9 1-12.6 1 10.4 1 6.5 1 5.2 1 4.9 1 2.3 1-3.7 1-3.5 1 .6 1-1.9 1 4.5 1-3.2 1-2 1-4.3 1-.6 1-.6 1 2.9 1-1.1 1 6.7 1 1.8 1-2.1"/><path vector-effect="non-scaling-stroke" d="M0,625.6l1-11.9 1 5.2 1-2.2 1 9.4 1-1.6 1 8 1-.5 1 .2 1-4.6 1 13.4 1-.4 1-1.5 1-8.6 1 6.3 1 3.4 1 1.4 1-.5 1-3.6 1 5.3 1-6.4 1 4.8 1-6 1 6.9 1-5.1 1 .1 1 1.8 1 .1 1-.5 1-.2 1-11.6 1 6.7 1-6.5 1-1.5 1 1.7 1 5 1 6.3 1-2.7 1 2.2 1-.5 1 1.1 1-3.4 1-1.2 1-13.2 1-2.1 1 4.5 1-11.7 1-.8 1-5.5 1 2.7 1 5.7 1 .6 1-2 1-18.9 1 3.2 1 8.9 1-3.3 1-7.9 1 1.6 1 2.3 1 .8 1-.3 1 .8 1 2.7 1 7.4 1-9 1-10.9 1-2 1-7.4 1-12.1 1-3.1 1 13.5 1-5.8 1-8.9 1-.1 1 4.9 1-3.1 1-7.4 1-5.5 1-.2 1-2.4 1-2.7 1-6.3 1-4.3 1-10 1-3.6 1-6.4 1-.1 1-1.1 1 .6 1-5.6 1 2.9 1-3.4 1-8.7 1 5 1 .3 1-1.5 1-4 1-.8 1-3.4 1-2.3 1 .6 1 2.8 1-5.2 1-8.6 1-7.3 1-5.9 1 6.5 1-1.8 1-5.1 1 .8 1-.9 1-5.1 1-4.2 1-.8 1 .4 1 1.8 1-6 1-6.4 1 .2 1-.2 1-5.6 1-3.5 1-1.6 1-4.5 1-9.8 1 .8 1 4.4 1 .2 1-2.8 1-1.9 1-1.8 1-3.8 1-.5 1-7.5 1 0 1 5.9 1-4.5 1-1.6 1-9.1 1-9.2 1-.9 1-2.8 1-7.2 1 2.2 1-8.9 1-2.6 1 4 1-3.7 1-1.9 1-3.6 1-1.6 1-.8 1 1.1 1-4.3 1 1.9 1-5.4 1-3.6 1 2.3 1 .1 1-7.3 1 2.3 1-3.4 1-2.7 1 5 1-4.2 1 3.8 1-4 1-4.4 1-7.5 1 3.4 1 1.5 1-6 1 3.8 1 .7 1 1.6 1-1.4 1-1.2 1-2.1 1-.3 1-3.2 1 .6 1 7.1 1-2.3 1-4.8 1 2.8 1-6 1-.1 1 2.9 1-2.2 1 .4 1-.6 1 4.2 1-.1 1 .2 1-3.7 1 4.7 1-7.5 1-8.8 1 3.9 1-9.1 1-.3 1 5.9 1-1.4 1 2.1 1-1.3 1 1.4 1-1.2 1-.1 1 .3 1-.1 1 3.8 1 2.2 1-7.4 1 1.6 1-.4 1-.3 1 .8 1 5.4 1-5.2 1-2.9 1 .3 1-1.7 1 4.2 1 2.5 1 6.2 1 4.9 1-3.3 1 4.7 1-2.7 1-2.3 1 5.3 1-.5 1 2.9 1 3.7 1 2.7 1-1.7 1-.2 1-.4 1 6.8 1 5 1 0 1 5.6 1-4.4 1 7.9 1 4.9 1 8.6 1-2.2 1 5.1 1-2.3 1 .3 1-.3 1 4.2 1 5.4 1-2.9 1 1.6 1 4.5 1 5.4 1-2.5 1 1.7 1 9.3 1-2.8 1-.3 1-2.8 1 6.2 1 2.5 1 4.3 1 4.4 1 6.6 1 8.4 1-5.9 1-3.6 1 2.1 1 3.6 1 .8 1 6.6 1 10.3 1 3 1 5 1 7.7 1 4.5 1 6.5 1-5.7 1 .6 1 3.5 1 9.2 1 5.6 1 2.3 1-2.2 1 7.1 1 .5 1-1.6 1 8.3 1 2.4 1 3.6 1-6.9 1 3 1 .9 1-5 1 5.9 1 5.1 1 1.6 1 9 1 11.7 1 6.6 1-1.7 1 2.1 1 2.3 1-.5 1 8 1 3.5 1 9.2 1 3.3 1 11.4 1-4.2 1-2.4 1 5.6 1 7.5 1 7.3 1 5.6 1-1.8 1-5.2 1-2.2 1-3.2 1 5.9 1 11.8 1-.1 1-1.8 1 5.6 1-4 1-.5 1-2 1 6.1 1-5 1 2.5 1 10.1 1-2.9 1 7.2 1-3.5 1 5.1 1-2.8 1-.7 1 8.4 1-3.6 1-.8 1-15.2 1 4.9 1 6.8 1 1.2 1-4.9 1 9.5 1-5.6 1-5.7 1 8.7 1 2.3 1 1.3 1-.8 1-6 1 10.6 1 3.3 1-10.7 1-1 1-1.5 1 13.9 1 5.5"/><path vector-effect="non-scaling-stroke" d="M0,597.3l1-2.7 1 1.4 1 .3 1-2.3 1 2.1 1 15.1 1-6.5 1 8.2 1 1.8 1 .3 1-8.5 1-7.8 1 6.1 1-6.3 1 7 1 4 1-7.5 1 9.7 1 7.5 1 4.9 1-2.9 1 1 1-3.1 1-4.6 1 6.4 1-10.5 1 2.1 1-8.9 1 5.3 1-3 1-6.9 1-3.8 1-8.3 1-4 1 9.1 1 .9 1 1 1 1.7 1-4.3 1 8.2 1-11.5 1-2 1 1.1 1-9.9 1-10.9 1 5.9 1 4.8 1-4.5 1 3 1 .1 1-2.5 1-2.4 1 4.7 1-4.9 1-10.6 1-2.7 1-2.2 1 5.9 1 4.4 1 6.5 1-11.3 1 .9 1-2.5 1-.8 1 3.1 1 1.7 1-1.4 1-.4 1 1.3 1 11.1 1-19.9 1-4.6 1-4.6 1-14.1 1-1.3 1-2.4 1 8.9 1-8.6 1-3.1 1-7.2 1-.8 1 .5 1 3.1 1-3 1-10.4 1-5.6 1 .7 1-4.3 1-11.9 1-2.3 1 2.3 1-2.5 1-4.2 1-1.5 1-1.4 1 2.2 1-8 1-8.8 1 2.4 1-3.5 1-10.5 1 2.1 1-4.5 1 0 1-14 1 6.1 1 1.3 1-.3 1-2.3 1-3.3 1-2.5 1-1.6 1-2.3 1-4.8 1 1.2 1-13.8 1-3.9 1 1.8 1-2.7 1-1 1-.5 1-2.8 1-7.3 1 6.2 1-1.3 1 1.7 1-1.4 1-4.2 1-1.9 1-4.2 1 2.6 1-2.1 1-2.4 1 2.2 1-5.3 1 .2 1-6.8 1-9.5 1-3.6 1 7.6 1 .8 1-8.1 1 1.3 1-4.8 1-5.9 1-6.5 1 .4 1-4.4 1 1.7 1-5.2 1 .3 1-.1 1-3.9 1 0 1 .6 1 1.6 1 1.9 1-10.6 1-4.4 1 5.8 1-5.8 1-7.9 1-2.1 1-4.7 1 1.2 1-7.2 1 2.4 1-1.1 1 1.1 1 .3 1 2.4 1-.9 1 .3 1 1.6 1-.9 1 4.1 1 .7 1-7.7 1-1.8 1-1.8 1 .8 1-1.2 1-2.2 1-.7 1 .5 1-5.2 1-.9 1-.1 1 3.9 1 2.4 1-1.1 1 .9 1-.5 1-4.7 1-2.5 1-4.8 1 1.7 1-1 1 2.8 1-2.8 1 2.7 1-4.3 1 .1 1-2.7 1 .7 1-1.4 1 9.2 1 4.3 1-5.9 1-4.7 1 3.3 1-4.2 1 6.5 1 5.7 1-2.8 1 5.8 1 2.5 1-2.8 1-4.6 1-3.6 1 1.6 1-6.5 1 .6 1 4.2 1-4.7 1 3.8 1 8 1-5.3 1-1.8 1 10.7 1 11 1 3.5 1-.6 1 6.4 1 4.1 1-7 1-5.1 1 6.9 1 6.4 1 4.7 1 4.9 1-1.9 1-4.4 1 8.7 1 4.2 1 2.8 1-4.4 1 5.6 1 2.5 1 1.3 1-5.2 1 3 1 3.8 1 2.7 1 9.5 1 .2 1 2.6 1-.2 1-1 1-2.2 1 3.3 1 .4 1 12.4 1-1.9 1 11.1 1 1.7 1 3.4 1 8 1-4.8 1-3.2 1 8 1 .3 1 2.7 1 2.2 1 10.8 1-1.3 1 8.7 1-1.2 1 2.5 1 4.2 1 1.1 1 10 1-3.5 1 4.2 1 6.2 1 7.1 1-8.3 1 3.8 1-2.8 1-.5 1 2.5 1 6.9 1 1.8 1 .1 1 6.6 1 17.5 1 1.6 1 9.5 1-4.2 1 11.2 1-3.4 1 .8 1 0 1 11.4 1 2.1 1-6.5 1-2.8 1 1.6 1-.3 1 3.9 1-3.5 1 12.9 1 6.6 1-1.9 1 7.3 1 2 1-3.5 1-3.9 1-7.9 1 9.8 1 5.4 1-6.3 1 13.4 1-.2 1 11 1 3.5 1-9.2 1 9.1 1-6.1 1-1.2 1 10.4 1 5.1 1 5.8 1 1.9 1-3.1 1-.4 1 3.3 1 2.7 1-.2 1-2.8 1 2.8 1 9.3 1-8.9 1-2.5 1 4.2 1-1.3 1-.6 1 2.8 1 5.5 1 9.7 1 2.2 1 1.1 1-1.2 1-4.3 1 10.5 1-1.8 1 6.3 1 .4 1-4.5 1-.1 1 9.1 1-11.7 1 .2 1-8.2"/><path vector-effect="non-scaling-stroke" d="M0,620.1l1-3.5 1-9.1 1 11.3 1-6 1 6.7 1-.9 1-.6 1-5.4 1 3.1 1-3.8 1-7.6 1 6.1 1-11.2 1 3.6 1-1.4 1-1.6 1-2.9 1 3.7 1 3.3 1 4 1 3 1-13.2 1 .3 1 4.6 1 7.8 1-3.3 1-3.2 1-1 1 0 1 2.4 1 2.5 1 6.4 1-13 1-3 1-10.4 1 1.1 1 .3 1 1.1 1-5.9 1-4.9 1-6.3 1-.8 1 3.5 1 7.6 1-4.9 1-2.2 1 10.8 1-1.9 1-10.2 1-3.4 1 5.5 1-8.5 1-1.3 1-9.1 1-7.5 1 6.3 1 1.9 1-4.5 1 7.8 1-8 1-11.6 1 3.2 1 3.9 1 2.5 1 3 1-4.8 1 0 1-5.6 1-4.7 1-2.1 1 7.8 1-4.7 1 6.5 1-10.8 1 .3 1-5.6 1-3 1-6.8 1 3.6 1-4.1 1-2.2 1-8 1-8.5 1 2.9 1-1 1 5.3 1-4.1 1-4.7 1-1.5 1-10.4 1-2.2 1-2.5 1-6.7 1-.1 1 7.5 1-6.7 1-2.6 1-6.2 1-3.4 1-6.2 1-5.5 1-.2 1 1.5 1-1.5 1-4.4 1-1.8 1-3.1 1-9.6 1 9.6 1 4.9 1-11.2 1 .2 1-8.2 1 .4 1-6.8 1 6.3 1-6.9 1 1.7 1-11 1 10 1-14.4 1-3.6 1 4.5 1-5.9 1 2.4 1-3.3 1 10.2 1-5.8 1-3.8 1 3.7 1-1.4 1-.7 1 1.5 1-5.7 1-7.1 1-7.3 1-7.9 1-2.6 1 .2 1-1.7 1-4.6 1-1 1-2.5 1-1.9 1-9.6 1-3.8 1 6 1 8 1-13.6 1 5.5 1 1.9 1 2.7 1-3.9 1-7.5 1 3.6 1-3.5 1-3.4 1-2.5 1 2.3 1-7.4 1-1.9 1-13.3 1 .1 1-2.4 1-3.2 1-1.1 1-1.3 1-2 1-1.6 1 1.4 1 7.2 1-2.7 1 2 1-8.9 1-3.2 1-5.7 1 6.6 1 1.8 1-4.2 1 6.4 1-8 1-1.3 1-9.2 1 .3 1 1.5 1-2.5 1 .3 1-4 1 5.8 1 2.1 1-1.6 1 3.5 1-6.7 1 3.1 1-3.9 1-2 1 .9 1-3.3 1-.1 1 2 1-2 1 3.5 1 1 1-4.7 1-.9 1-1.3 1 3.1 1-2.4 1 .2 1 3.6 1 3.7 1 3.6 1 4.3 1-5.8 1 .2 1 4.2 1-4.1 1 1.8 1-3.7 1 1.8 1 3.2 1-1.2 1 5.5 1 5.3 1-4.4 1 4.8 1 3.4 1 .5 1 .3 1-1.5 1 1.4 1-.9 1 4 1 5.7 1 .2 1 4.3 1 5.4 1-4.4 1-1.5 1 8.1 1-3 1 7.5 1-1.9 1 4.5 1-5.9 1 9 1-3 1 6.2 1 11.2 1-10.1 1 6 1-5.4 1 7.2 1 2.8 1 4.6 1-3.1 1 12.5 1 2 1 .2 1 1.1 1 3 1 1.1 1 6 1-.8 1 4.6 1 .8 1 1.7 1 4.4 1 1.1 1 6 1 1.4 1 10.8 1 1.3 1 3.4 1 5.8 1-.1 1 2.5 1 8.9 1-5.6 1 1.4 1 4.5 1 6.6 1 1.3 1-.6 1-3.9 1 1.6 1 8 1 11.9 1-1.7 1-3.4 1 .5 1 2 1-.6 1 2.2 1 3.7 1 9.1 1 10.8 1-.4 1 4.5 1 8.1 1 0 1-1.3 1 6.8 1 2.1 1 10 1-.5 1 1.4 1-6.2 1-2.2 1 3.1 1 8.9 1-.1 1 .1 1 6.7 1-.4 1 11.3 1-.3 1-2.8 1 3.4 1 2.7 1-2.1 1 8.7 1-4.2 1 .5 1 7.1 1 14.3 1-4.3 1 4.3 1 2 1-4.4 1 7.1 1 6.1 1 2.7 1-.6 1 7.1 1 3 1 2.3 1 .5 1 6.1 1 6.5 1 7.3 1-7.4 1 6.1 1 6 1-3.6 1-8.9 1 9.7 1-3.6 1 4.3 1 1.3 1-5.6 1 12 1 1 1-6.4 1-8.2 1 5.7 1-2.7 1 1.1 1 2.6 1 6.8 1-1.1 1-6.2 1 2.7 1-6.3"/><path vector-effect="non-scaling-stroke" d="M0,625.7l1-8.4 1 6.9 1 1.4 1 12.3 1-12.3 1-3.2 1-1.9 1 10 1 2.8 1-2.8 1-2.8 1 7.4 1-2.5 1-3.8 1 .8 1-2.2 1 1.1 1-.1 1-1.9 1 7.6 1-1.7 1-2.7 1-4 1 4.9 1 13.9 1-4.8 1 1.1 1-11.4 1 4.1 1-7.5 1-7.6 1-.2 1-2.7 1-3.1 1-3.5 1 6.7 1 .3 1-7.9 1-1.5 1 5.1 1 1.2 1-2.4 1 5.7 1-5.3 1-2.6 1-14.4 1-7.8 1-3 1 2.1 1 7 1 1.5 1-1 1 3.7 1-6 1-2 1-11.9 1 9.1 1-2.3 1-5.5 1-10.4 1 .4 1-3.8 1-.6 1 5.7 1 1.4 1-3.5 1 2.7 1-6.3 1 12.9 1-6.3 1-9.1 1 2.3 1 7.7 1-18.8 1-8.2 1-.3 1-12.6 1-1.1 1 2.9 1-6.1 1 .9 1 .6 1 .4 1-.3 1-6 1-3.9 1-8.2 1 6.9 1-.7 1-4.5 1-4.3 1-4.3 1 1.8 1-10.5 1 1.9 1-3.7 1-.8 1-7.9 1-3.8 1-4.5 1 4.1 1 6.1 1-10.2 1-4.5 1-9.3 1-5.1 1-11 1 6 1 3.5 1 3.4 1-2.3 1-9 1 2.4 1-9.5 1-9 1 2.9 1-4.2 1-9.4 1-4.7 1 5.3 1-5.8 1 3.7 1-4.1 1-1.6 1-4 1 1 1-6.9 1 1.7 1-4.3 1-8.8 1-2.6 1 .3 1 2.3 1-2.7 1-3.3 1 6.5 1-5.9 1 8 1-5.1 1-10.1 1-7.4 1-4.5 1-1.7 1-2 1-.6 1 2.1 1-3.7 1-5.5 1 7.7 1 2.7 1-1.7 1-6.1 1-6.9 1 1.7 1-5 1-1.6 1-3.6 1-8.8 1-2.2 1-.5 1-.3 1-5.6 1 2.4 1-1.9 1-5 1-.6 1 2.5 1-3.1 1-3.2 1-5.7 1 .3 1 1.4 1-1 1 1.4 1-2.2 1-2.6 1-1.7 1-2.6 1 .7 1-2.2 1 3.2 1 1.9 1-2.6 1-3.8 1 3 1 1.1 1 2.7 1-3.5 1 2.5 1-1.1 1 2.6 1-2.6 1-3 1 3.8 1 2.2 1-1.9 1-10.7 1 4.4 1 2.3 1 4.2 1-6.7 1-1 1-.1 1 6 1-3.3 1 1.3 1 2.2 1-9.1 1-2.2 1 7.1 1 4.9 1-2.2 1 4.3 1 1.3 1 1.7 1 3.4 1-.9 1-.3 1-1.8 1-1.5 1 4.8 1 4.5 1-4.2 1 5.4 1-1.9 1 .9 1 1.6 1 4.8 1 2.6 1-3.9 1 .5 1-2.2 1 2.8 1 1.8 1 5.4 1 2.9 1-1 1 7.4 1 5 1 2 1-2.7 1 6.8 1 8.1 1 1.6 1 1 1-.5 1 2.5 1 7.5 1-1.8 1 2.7 1-3 1 9.1 1-3.7 1 3.8 1 .7 1-3 1 0 1 2 1 .3 1 11.4 1-7.3 1 2.7 1-.5 1 9 1 7.8 1-2.2 1-1.5 1 6.9 1 7.1 1 4.3 1 .6 1-1.7 1 10.2 1-2.1 1 2.7 1 10.9 1 3.5 1-.7 1 5.8 1 3.1 1-4.4 1 7.2 1 3.8 1-2.2 1 5.3 1 4.3 1 11.8 1-6.4 1 .2 1 5 1 1.3 1 2.1 1 4.8 1 10.2 1 1.8 1-8.2 1-2.1 1 6.5 1-.9 1-2.9 1 14.5 1 2.2 1 8.5 1 .5 1 2.5 1 1.8 1 .7 1 5 1 4 1 6.6 1 5 1-4.1 1-3.1 1 4.5 1-7 1 7.5 1-2.3 1-4.6 1-3.2 1 7.1 1 4.6 1-1.7 1 4.9 1 11.7 1 2.4 1-.1 1 7.1 1 1 1-1.2 1-1.7 1 19.6 1-7.6 1 14.4 1 7.6 1 5.7 1-4.8 1-5.9 1 1.4 1-3.5 1 4 1-.6 1 4.4 1 10.6 1 2.2 1-5 1 2.8 1 5.1 1 4.8 1-2.7 1-1.4 1-5.5 1-.9 1 8.9 1 3.4 1-.8 1 8.4 1-11.2 1-7.9 1 5.6 1-2.8 1 5.4 1 3.1 1-2.6 1 5.6"/><path vector-effect="non-scaling-stroke" d="M0,611.5l1 3.9 1-8.6 1-.4 1 10.3 1 10.7 1-7.5 1-8.1 1 1.4 1 10.5 1-1.7 1-4.9 1-6.8 1 .2 1 13.4 1 3 1 2.4 1-1.2 1-.9 1-.8 1-7.8 1 7.2 1-7.2 1-11.8 1 7.2 1 2 1-9 1-11 1 6.4 1 6.2 1 6 1-1.4 1 2 1-9.4 1-4.5 1 .3 1 0 1 1.2 1 5.7 1-1.6 1 4 1 3.5 1-4.4 1-1.4 1 2.2 1-3.3 1-10 1 9.3 1 1.6 1-3 1-1.5 1-10.4 1 7.9 1-9.7 1-6.1 1 .1 1 6.2 1 .7 1-9.1 1-4.8 1-2.7 1 .3 1 3.2 1-1 1-1.6 1 3.5 1-4.4 1-11.4 1 .2 1 .2 1-.8 1 2.1 1-2.9 1 2.5 1 2.8 1-1.3 1-11.6 1-4.6 1-1.2 1 5.8 1-4.9 1-7.7 1-1 1-7.5 1-.5 1-1.6 1-10.5 1 5.9 1 1.1 1-12.8 1-6 1 5.7 1-3.3 1-5.6 1-8.6 1-14.4 1 6.4 1-9.9 1 6.1 1-14.5 1-.9 1-.8 1 .9 1-6.8 1 1.8 1-9.8 1 .5 1-8.3 1 .5 1-.9 1 1.3 1-1.9 1-1.6 1-7.2 1 1.8 1-9.7 1 1.5 1-3.1 1-10.9 1-4.9 1 1.7 1 2 1-1 1 .4 1-10.9 1-10.3 1 5.1 1-5.1 1 1.8 1-2.2 1-.8 1-4.8 1-2.3 1-1.7 1 2.8 1-4.2 1-2 1-.2 1-4.5 1-2.4 1 1.1 1-4.7 1 3.4 1 4.8 1-10.5 1-8.4 1-.7 1 1 1-2.8 1-1.1 1-1.6 1-.5 1-5 1 4.4 1-4.3 1-1.8 1 1.1 1-9.6 1-.6 1-5.8 1 .5 1 3.8 1-9.4 1-1.3 1-3.3 1-2.8 1 3.4 1-2.3 1-1.8 1 2.1 1-.3 1-2.4 1 3.3 1-3.1 1-3.6 1-3.7 1-1.6 1 .6 1-.5 1 6.2 1-.7 1-6.2 1-1.5 1-2.7 1-1.3 1-3.3 1-.9 1 6.6 1 3.5 1-.4 1-3.8 1 2.7 1 1.1 1-5 1-3.7 1 4.4 1 1.4 1-2.4 1 1.5 1-4.9 1-3.7 1-4.1 1-.8 1 7.8 1 3.5 1-1.5 1 4.1 1-4.8 1 3.2 1 .9 1 1.4 1-4.8 1 3.5 1-1.3 1 1.9 1 4.3 1 3.9 1-1.7 1 9.8 1-.8 1-1.3 1-4.1 1-2 1 1.6 1 4.8 1 .9 1 1.9 1 3.2 1-1.1 1-2.9 1 3.8 1 1.6 1-1.2 1 2.6 1-1.1 1-1.2 1 0 1 10.7 1 2.9 1-3.7 1-3.2 1 5.6 1 2.8 1 5 1 7.6 1-2.2 1 3.6 1-1.4 1 .1 1 5.3 1 .6 1-1.3 1 7.2 1 7.6 1 3.7 1 1.9 1-1.8 1 3.3 1 8 1-1.5 1 .3 1-1 1 1.3 1 .3 1-.2 1 7.3 1 5 1-1 1 8 1 13.2 1 2 1-2.8 1 4.1 1 5.4 1 5.9 1 1.6 1 .9 1-6.1 1 8.7 1-1 1 4.1 1 6.6 1-.7 1 4.5 1 .3 1 4.1 1 2.5 1 14.2 1 1.8 1 4 1-1.4 1 13.3 1 3.3 1 5.7 1-4.9 1 11.4 1 2.2 1 1.6 1 .1 1-5.3 1 11.2 1-10 1 7.8 1-1.4 1 1.2 1-3.1 1 3.8 1 4.9 1 6 1 3 1 0 1 5.5 1 .9 1-.2 1-3.2 1 7.9 1-1.2 1-4.9 1 .1 1-.4 1 3 1 4.4 1 8.6 1-.3 1 11.3 1-3.2 1-5.3 1 3.1 1 5.2 1 23.4 1 .4 1 2.4 1 5.6 1 1.4 1-1.4 1 .3 1-9.8 1 7.7 1 3.4 1 4.1 1-4.7 1 4.4 1-2.2 1 9 1 2.9 1 5.8 1-2.5 1-3 1 6.4 1 2.6 1-8.6 1-9.1 1 8.7 1 6.7 1-1.9 1-5.5 1 .8 1-.6 1 3.7 1-5.3 1-4.8 1 15.5 1 7.2 1 8.3 1 .9"/><path vector-effect="non-scaling-stroke" d="M0,606.8l1 10.5 1-20.3 1 6 1 1.9 1-4.7 1-2.5 1 14.1 1-6.8 1-2.6 1-5.8 1-.5 1 2.7 1 4 1 14 1-5.5 1 .9 1-7.2 1 0 1 6.7 1-6.1 1-13.3 1-2 1 5.2 1 5.4 1 8.6 1-6.4 1 .1 1-9 1 9.6 1 4.6 1 0 1-7.8 1-4.3 1-4.5 1-3.7 1 1.4 1-3.5 1 4.2 1 4.9 1 1.1 1-4.8 1-2.4 1-8.3 1 .9 1-2.2 1 .2 1 .8 1-9.6 1 4.1 1 5.7 1-16.3 1 .4 1-4.8 1-5.7 1-4.4 1 6.5 1 5.8 1-8.8 1 2.3 1 7 1-10.5 1-3.2 1 3.1 1 6.3 1-2.8 1-2.3 1-1.2 1-7.1 1 9.8 1 3 1-3.3 1-4.1 1-4.1 1-6.7 1 .7 1-7.4 1 3.9 1-10.9 1 4.1 1-8.9 1 1 1-8.5 1 1.3 1-4.9 1-3.8 1-2.4 1-13.6 1-4.5 1-1.8 1 3 1-6 1-8.2 1 .1 1-8.1 1-1.4 1 1.6 1-3.9 1-4.4 1 2.9 1-10.5 1 7.2 1-6 1-3.2 1 .7 1-6.1 1-5 1 .4 1-4 1-1 1-5.7 1 4.2 1 1 1-9 1-5.1 1-5.8 1 2.2 1-.8 1-3.5 1-3.6 1-3.5 1-.5 1-.8 1-7.3 1 8 1 2.4 1 5.5 1-4 1-6.6 1-4.3 1-.9 1 .5 1 3.5 1-8.1 1-1.2 1 .1 1-6.5 1-7.6 1-.8 1 4.4 1-8.7 1-10.1 1 1.5 1 1.2 1-4.9 1-.7 1-.1 1-5.6 1-1.2 1-3.7 1 1.3 1-5.8 1-2.2 1 4.4 1 2.2 1-4.5 1-2 1-4.1 1-.8 1-5.2 1-1.4 1-1.3 1-2.7 1 1.6 1-.1 1-.5 1-1.4 1-5.9 1 2.5 1 5.7 1 3.2 1-7.7 1 6.6 1-6 1-1.5 1 1.1 1-6.8 1-4.2 1-1.5 1-2.8 1 2.7 1-6.6 1-3.2 1-1.8 1 2 1 2.7 1-3.3 1-3.9 1 4.7 1 7.3 1-5.2 1 1.2 1-2.6 1 1.5 1 1 1-4.1 1 0 1 4.9 1-7.2 1-5.6 1-3.5 1 8.2 1-1.6 1-4.3 1-2.6 1 2.7 1 1.3 1-1.6 1 .6 1 5.7 1-2.4 1-2.5 1 4.7 1-2.3 1-.5 1 4.3 1 5.3 1 5.6 1-2.6 1-1.1 1 6 1-4.2 1-2.9 1 1.2 1 2.1 1-5.2 1 1 1 10.3 1 1.5 1-.9 1 .9 1-3.5 1 5.2 1 3.3 1-2.4 1 5.4 1 2.7 1-.2 1 2.5 1 11.3 1 2.6 1 5.4 1-1.2 1-2.8 1 .1 1 8.2 1-2.1 1 3.2 1-5.5 1 8.3 1 1.6 1 1.8 1 5.2 1 3.5 1-6 1 3 1-.6 1 3.7 1 2.6 1-.2 1-.6 1 1 1 8.3 1-2.6 1 3.8 1 8 1 5.1 1 1.9 1 9 1 1.3 1 3.1 1 8.1 1 9.9 1 2 1 2 1 4.2 1-1.7 1 6.1 1-4.6 1 4.6 1 .3 1-.4 1 2.7 1 5.3 1 .6 1 7.5 1 13.4 1 7.1 1-3.1 1-2.8 1-4.6 1-.7 1 6.5 1 17.6 1-9.4 1-.4 1 7.3 1-7.2 1 5.8 1 7.5 1 .8 1 3.3 1 9.6 1 .3 1 6.8 1 2.1 1 1.8 1 1.1 1 12.7 1-.3 1 1.9 1 4.8 1-.7 1 5.1 1 7.8 1-2.2 1-5.8 1 6.3 1-.5 1 11.1 1-1 1-5 1 6.2 1-3.2 1-3.7 1 7.5 1-2.7 1 4.5 1-7.5 1 3.5 1 4.4 1 5 1 6.9 1-3.9 1 .1 1 5.3 1-7.9 1 5.9 1-5.9 1 12.7 1-3 1 .2 1 .8 1 10.7 1-3.1 1-.6 1 9.1 1-1.1 1 1.7 1-1.8 1-1.8 1 1 1-3.1 1 9.6 1-.1 1-8.7 1 7 1 7.6 1-4.7 1-3.5 1 9.9 1-2.3 1-1.6 1 1.9 1-1.5"/><path vector-effect="non-scaling-stroke" d="M0,626.7l1-2.8 1 9.1 1 9.9 1 11.3 1-3.2 1 2.4 1-1.3 1 9.7 1-9.5 1-.6 1-2.2 1 2.7 1-5.1 1 5.6 1-4 1-6.7 1 6.5 1-5.5 1-5.2 1-1.1 1-.2 1 5.6 1 2.6 1-6.4 1-4 1 6.9 1-1.7 1 1.1 1-4.4 1 11.8 1 8.1 1-9.8 1-2.8 1-3.7 1-7 1 .8 1 1.2 1 1.8 1 4.9 1-.8 1 .6 1 .4 1-1.3 1-2.4 1-2.1 1 3.3 1-9.1 1 2 1-5.6 1-5.2 1-11.9 1 2.8 1 9.1 1-5 1-9 1 1 1 4.4 1-1.5 1 3.7 1 2.3 1-5.5 1 .5 1-1.9 1 4.5 1-10.2 1-.8 1-7 1 1.6 1 1 1-.5 1-1.6 1-3.8 1-2.4 1-18.7 1-5.5 1-15 1 1.9 1 9 1-7.6 1 6.7 1-1.7 1-.8 1-5.8 1-.2 1-4.6 1-6 1 10.7 1-11.9 1-11.2 1 2.1 1 2.4 1 8.9 1-8 1-2.9 1-8.6 1-5.1 1-4.6 1-4.8 1-9 1 2.7 1 12.5 1-14.3 1 3.2 1-5.7 1-5.7 1 8 1-5.5 1-2.6 1-12.6 1 .8 1-.1 1-5 1-5.1 1-1 1-2.7 1 2.3 1-2.3 1-2.3 1-9.4 1 1.3 1-6.4 1-1.5 1-5.6 1 7 1-2.7 1 4.4 1 2.1 1-9.6 1-11.3 1-4.4 1-1.6 1-2.2 1 3.9 1-2.6 1-5.5 1-2.2 1-4.5 1 1.1 1-11.8 1 3 1-4.2 1 1.7 1-6.4 1 1.2 1-3.5 1-1.2 1-6.9 1-9 1 4.3 1-6.3 1-3.6 1-3.1 1 2.1 1-7.2 1-.4 1 2.1 1-.8 1-10.2 1-5.5 1-4.4 1-2.1 1-.9 1 .7 1 3 1-6.1 1 .9 1-4.5 1 3.2 1 1.7 1 3.8 1 1.1 1-3.8 1-6.2 1-.5 1-3.5 1-2.4 1-6.4 1 3.9 1-1 1 .8 1 .6 1-3.7 1-1.1 1-6.7 1-.5 1 6.7 1 .8 1-.2 1-.7 1 2.2 1-4 1-4.3 1 5.3 1 7.2 1-8.1 1-.9 1 3.1 1 1.9 1-1.2 1 .7 1-3.3 1 3.3 1-2.2 1-4.1 1 .7 1 2.8 1 3.5 1 3.6 1-2.5 1-4.4 1-3.8 1 1.7 1 2.5 1 5.7 1-3.6 1 4.8 1 8.1 1 .8 1-2.7 1 5.4 1 1.4 1-6 1-2.6 1 7.4 1 7.4 1 .2 1 4.6 1 2.3 1-5 1-2.2 1 5.8 1-3.7 1 2.6 1-2.1 1 2.8 1 8.1 1-6.2 1 1.5 1 3 1 6.4 1-1.9 1-4.5 1 7.6 1 .6 1 6.5 1 9.2 1-1.4 1-1.2 1 10.1 1 1.3 1 7.2 1-4 1-.4 1 3.1 1 1.9 1 6.2 1 1.9 1 .9 1-6.1 1 .7 1 .2 1 8.8 1-4.7 1 4.8 1-.7 1 4.5 1 7 1 .3 1 5.1 1 2.2 1 5.1 1 3.8 1 3.2 1 10.2 1 4.5 1 4.4 1 2 1 4.4 1 3.4 1-.4 1 4.5 1 1.9 1 3.4 1 7.8 1 7.1 1-9.3 1 6.4 1 10.2 1 4.4 1-5.2 1 3.7 1 2.1 1 1.3 1 13.8 1-.1 1-6.7 1-2.8 1 2.8 1 .7 1 4.7 1 1.4 1 5.1 1 3.2 1 1.3 1 4.7 1 11.4 1-1.3 1 9.2 1 2.4 1-5.2 1 2.7 1 2.6 1 1.8 1-2.9 1 6 1 3.2 1 3.9 1 .4 1-1.2 1 6.6 1-5.5 1-.6 1 5.7 1 7.2 1 3.6 1 5.1 1 .2 1-2.1 1-1.3 1-2.4 1 12.3 1-.7 1-.5 1-1.3 1 7.5 1-6.8 1 1.2 1 5.3 1 .6 1 2.2 1 7.5 1-4.8 1 3.7 1-1.9 1 .6 1-1.7 1 .8 1 3.4 1 13.7 1-5.2 1 12.7 1-2.3 1 3.2 1 8.3 1 3.1 1-4.3 1 1.2 1-9.1 1 9.8 1-4.2 1-1.1 1-6.1 1 5.1 1-5.8"/><path vector-effect="non-scaling-stroke" d="M0,606l1-1.2 1 3 1 0 1-1.9 1 9.7 1 1.1 1-6.1 1-6.6 1 9.1 1 3.3 1 .6 1-12.4 1 2.9 1-10 1 6.8 1-7.2 1 10.2 1-1.5 1 5 1-1.7 1 9.2 1-6.2 1-4.8 1 5 1-6.3 1 6.1 1 5.5 1-6.4 1 1.6 1-10.7 1-2.6 1-2.7 1 .9 1 2.5 1-4 1-8.3 1 6.3 1 2.5 1-.4 1 .8 1 7 1-9.5 1 .5 1 .5 1-8.4 1 7 1-2 1-1.5 1-4.4 1-9 1-.1 1 4.7 1 6.9 1-3.9 1 1.8 1-11.2 1 .4 1-1.2 1-4.6 1-3.9 1 5.5 1 0 1 1.1 1-12.6 1 3.6 1 1.2 1-4.7 1-5 1-.6 1 5.8 1 9.1 1-8.5 1 2.7 1-24.6 1 2.2 1 2.8 1 .6 1-11.4 1-3.3 1-4.3 1-5.6 1 2.4 1-3.1 1-8.1 1-10.1 1 4.7 1 1.2 1-11.1 1 6.8 1-5 1 1.4 1 4.9 1-6.4 1-4.2 1-9.1 1-2.6 1-3.3 1-.6 1-13.1 1 .3 1-3.5 1-1.5 1 5.5 1 .7 1-7.6 1-5.3 1-1.9 1 7.9 1-2.2 1-6.1 1-3.2 1-3.8 1 2.4 1-4.2 1 .9 1-.9 1-2.8 1-5.9 1 4 1-3.8 1-3.1 1-9.7 1 1.2 1 1 1-10.2 1 .5 1 .7 1-.7 1-7.6 1-4.6 1-1 1 2.7 1 .1 1-2.4 1 3.3 1-8.5 1-3.8 1-1.2 1-3.6 1 0 1-4.8 1-3.9 1 .8 1 .8 1-2.1 1-2.7 1 .8 1-.8 1-7.1 1-6.9 1 3.3 1 1 1-4.5 1 3.3 1-8.3 1-7.5 1-2.6 1-3.8 1 2.6 1 .9 1 .8 1-2.2 1-.3 1-4.9 1 5 1 2.7 1-.5 1-5.2 1-1.2 1-4.9 1-1.1 1-4.5 1-4.9 1-10.3 1 .5 1 .5 1 .3 1 .6 1 3.8 1-2.1 1 .7 1-6.3 1 3.4 1-1.1 1 .9 1 .9 1 .2 1 1.9 1-3.7 1-3.6 1 4.4 1 2.9 1-.4 1 1.8 1 .1 1-4.5 1-7.6 1-5.9 1 3.3 1-1.1 1 4.2 1 3.5 1 4.9 1-6.3 1 .4 1 1.6 1-.8 1-8.4 1-1.4 1 1.2 1 .2 1 4.6 1 2.8 1 2.7 1-3.3 1-4.5 1 .4 1 2.2 1 3.1 1-.5 1 2.6 1 .6 1-5.4 1-2.8 1-3.6 1 5.5 1 4.1 1-1 1-.5 1 2.9 1 1.3 1-4 1 11.1 1 4.2 1 5.6 1-4.3 1 10.2 1 .9 1 1.9 1 .6 1 2.8 1 8 1 1 1-1.4 1 4 1 5.7 1 8.4 1-1.2 1 .9 1-.7 1 7.6 1 8.9 1-2.7 1-5.6 1 1.6 1 4.8 1 2.4 1 5.9 1 2.9 1-.8 1 6.9 1-3.3 1 .5 1 2.6 1 1.5 1-3.2 1 9.8 1 9.6 1-2.5 1-.8 1 8.3 1-3.9 1 9.2 1 .4 1 .1 1-7 1 6.9 1 3 1 4.4 1-1.8 1 15.7 1 1.8 1-.3 1 8.1 1 5.6 1 .8 1 6.7 1 1.8 1 9 1 .7 1 4.2 1-1.4 1 3.5 1-3.7 1 8.5 1 1.9 1 7.2 1 3.5 1-.8 1 5.7 1-9.8 1 9.8 1-4.1 1 4.1 1 1.1 1 7 1-2.2 1-1.6 1 9.2 1-2.7 1-6.4 1 8.3 1 1.4 1 4.4 1 3.7 1 3.9 1 7 1-.4 1 1.7 1 6 1 5.4 1-.1 1 2.8 1-4.4 1-.3 1-2.3 1-7.3 1 5.7 1 6.2 1 8.1 1 1.2 1 3.4 1 3 1-2.5 1 .8 1 12.4 1 7.3 1-6 1-6.8 1 6.8 1 4.4 1-11.4 1-5.2 1 16 1-11.2 1 15.8 1 10.2 1-2.8 1 11.5 1-8.6 1 4.4 1 1.9 1-2.1 1 .5 1-3.6 1-1.6 1 1.6 1 .2 1 7.1 1 6.3 1-2.8 1 4.5 1-6.3 1 7.8"/><path vector-effect="non-scaling-stroke" d="M0,632.8l1-6 1 9.9 1 9.7 1-12.3 1 6.5 1-7.9 1-1.7 1-3.7 1-1.4 1 8.8 1 7.4 1 .8 1-2.9 1 1.7 1-13.2 1-4 1 17.2 1-4.8 1 1.5 1 7.4 1-.5 1-10.2 1-5.6 1-1.3 1 4.6 1-1 1-4.6 1 3.9 1-8.7 1-2.7 1-2 1-4.5 1 18.1 1-11.6 1 8.9 1-.5 1-5.9 1-5.9 1 5.9 1 2.7 1-4.7 1-7.3 1 3.1 1-.5 1 .2 1-3.1 1 6.8 1-2.9 1-7.9 1-1 1-6.3 1 10.6 1 10.7 1-3.7 1-8.5 1 5.2 1 2.1 1 7.1 1-1.6 1-2.6 1 2.8 1-15.2 1 2.1 1-.6 1-2.2 1-4.6 1-2.2 1-7.7 1-12.1 1 6.2 1-2.1 1-2.1 1-13.2 1-3.6 1-5.2 1-6.4 1-7.6 1-1.8 1-2.2 1-2.4 1-1 1-4.1 1 7.9 1-1.7 1-4.7 1-8.4 1-9.3 1 9.9 1-2 1 2 1-13.8 1-.6 1 .1 1 4 1-4.5 1 .3 1-8 1-18.6 1 6.3 1-5.6 1-1.7 1 2.8 1-2.7 1-5 1 5.1 1 1.5 1-8.2 1-9.9 1-4.7 1-1.9 1-2.7 1-5.1 1-14.9 1 15.1 1-4.4 1-4.1 1-5.3 1 4.3 1-3 1-6.5 1-.8 1-4 1 1.4 1 1.9 1 .7 1-10.3 1-1 1 3.7 1 1 1-.6 1-6.5 1-6.1 1-8 1-.1 1-6 1 2.8 1-12.7 1 6.9 1 6.9 1-5.8 1 1.6 1 2 1-4.2 1 3.9 1 .8 1-3.2 1-11.3 1-10.6 1-2.5 1-2.4 1-5.7 1 .9 1-1.8 1-.9 1 1.9 1 0 1-1.6 1-6.4 1-8.5 1-5.3 1 .6 1-2.3 1 1.4 1-6.5 1 3.4 1-.1 1-8.7 1 4.4 1-.3 1 4.5 1-1.7 1-8.9 1 .4 1 2.1 1-5 1 .3 1 .5 1-8.9 1 1.1 1-.2 1-.3 1 2.8 1-.7 1-2.9 1 4.3 1 3.2 1-2 1-7.5 1-2.7 1 3.8 1 2.6 1-1.7 1-3.9 1 4.6 1-.2 1-5.7 1-.3 1 2.5 1-.6 1-5.5 1 4.1 1-1.9 1-3.4 1-.2 1-1 1 4.9 1-3.5 1 3.1 1 3.7 1-4.8 1 4.1 1 0 1 7.6 1 3.8 1-4.9 1 2.5 1 5.3 1-10 1 5.3 1 1.4 1-5.1 1 .7 1 2.2 1 2.2 1-5.9 1 8.6 1 3.3 1 .8 1-6.9 1 0 1 4.4 1 2.8 1-.2 1-2.6 1 2.3 1 1.6 1 11 1 0 1 5.9 1 5.1 1 7.6 1-5.9 1 10.1 1 1.6 1 5.3 1 .3 1-.5 1 10.4 1-.7 1 6.4 1-8.8 1-1.5 1 2.7 1-1.3 1 7.2 1-2.3 1-3.7 1 10.3 1 6 1 1.9 1 2.7 1 1.7 1-.3 1 4.1 1 7 1 6.9 1 .2 1 3.9 1 6.4 1 5.4 1 3 1 3.3 1-1 1 .6 1 5.2 1 .5 1 5.6 1 8 1 7.5 1-4 1 3.2 1 8.1 1-2.2 1-1.2 1 4.6 1 8 1 2 1 .7 1 4.2 1 .5 1 2 1 5.9 1 7.7 1 .1 1-3.4 1 1.7 1-4.6 1 6.3 1 1.6 1 1.8 1-1.6 1 3.7 1 1 1-2.3 1 1.2 1 12.4 1 .7 1 2.2 1 8.3 1-7 1-2.9 1 14.2 1 3.3 1-6.4 1 4.8 1 6 1 1 1 2.5 1-6.3 1 3.9 1-.3 1 4.2 1 15.7 1 2.5 1 1.4 1-4.7 1 9.1 1-.4 1 3.5 1 4 1 1.3 1 .9 1-.3 1 6.1 1-2.4 1 9.7 1 2.9 1 1.6 1 4.8 1 6.1 1-9.2 1-4.3 1 12.8 1 2.1 1-.9 1-4.2 1-6.1 1 3.5 1 5.4 1 5.8 1-5.3 1 16.4 1-1 1-7.3 1 .2 1 7.3 1 .4 1-2.5 1 4.3 1-5 1-.1 1 3.2 1 11.1 1-3.9"/><path vector-effect="non-scaling-stroke" d="M0,603.5l1 2.4 1 2.6 1 2.9 1 5.7 1 5.8 1-5.3 1-3.8 1-1.2 1 .6 1-3.8 1 5.4 1-.3 1-6.3 1 4.7 1 10.6 1 6.3 1-14.1 1-7.4 1 2.7 1 1.6 1-3.4 1 .6 1 16.4 1 1.8 1-14.7 1 5 1-5.7 1-6.5 1 .6 1-2.8 1-9.1 1 1.1 1-5.6 1 3.1 1-.1 1 9.1 1 6.3 1-8.6 1-2.8 1 3.2 1 6.4 1 5.9 1-3.9 1-4.5 1-1.2 1-10.5 1-4.8 1 10.1 1 11.6 1-11.9 1-4.6 1-9.8 1 13.4 1-4.1 1-10.3 1 3.3 1 5.5 1 3.9 1 1.3 1 3 1-7.1 1-9.3 1 4.7 1-1 1 .6 1-2.4 1-14.8 1 4.3 1 2.5 1-5.9 1-13.1 1-5.4 1-10.7 1-4.4 1 4.3 1 2.7 1-7.4 1-1 1-3 1-7.8 1-1.9 1 1.9 1 2.9 1-14.2 1 .5 1-7.8 1-1.8 1 8.1 1-5.2 1 6.5 1-3.5 1-11.2 1 2.6 1 2.1 1-3 1 2.5 1-10 1-2.8 1-4.5 1-5.3 1-5.3 1-2.8 1-2.6 1-1.8 1 2.6 1-1 1-11 1 3.1 1-4 1-1.1 1 3.8 1-1.7 1-11.3 1-2 1 4.2 1-6.6 1-7.2 1-4.4 1 1.4 1-3.1 1-1.5 1-7.6 1-6.4 1-6.5 1-8.2 1-.2 1 13.3 1-.3 1-5.6 1-4.2 1-3.9 1-10.9 1-.3 1 .6 1-.7 1 8.7 1-.5 1-3.3 1 5.4 1-9.3 1-5.1 1 4.2 1-7.3 1-3.8 1 2.8 1-1.6 1 2.5 1-4.8 1-7.7 1-1.2 1 6.1 1-10.1 1-4.6 1-3.5 1-5.5 1 7 1 1.7 1-6 1-8.4 1 .6 1-4.7 1 .8 1-1.5 1 1.1 1 .3 1-3.3 1 1 1-7.9 1 2.5 1 1.9 1-6.8 1 1 1 2.8 1 2.2 1 .3 1 2 1-2.6 1-5.9 1-.1 1-.6 1-.1 1 2.6 1-.8 1-.5 1-1.8 1-6.5 1-1.7 1 3.6 1 1 1 4.3 1-3 1-5.9 1-1 1-5.5 1-2.7 1 2.2 1 .3 1 2.2 1 2.9 1 .9 1-8.9 1-5 1 0 1-1.9 1 1 1-.1 1-1.3 1 4.6 1-1.6 1 4.7 1-.7 1 2.5 1-.5 1 1.9 1 1.1 1 2.7 1 3.4 1 6.3 1-5.2 1-.7 1-.2 1-3.2 1-.7 1 6.5 1 4 1 1.2 1-3.7 1 3.5 1 .6 1 2.5 1-3.4 1-8 1 7.3 1 .9 1 .8 1 2.6 1 5.5 1-1 1 8.4 1 7.4 1-5.8 1 4.2 1-.7 1 4.3 1 5.9 1 1.7 1 3.6 1 .3 1 2.5 1-4.2 1 12.1 1-5.8 1 1.9 1 6.8 1 0 1 2.3 1 4.6 1 6.3 1 3 1 0 1-3.7 1 7.5 1-4 1 5.9 1 2.7 1 3.3 1 4.6 1-1.9 1 6.6 1 2.7 1 3.3 1 8.8 1-.3 1 1.1 1 1.2 1 4.7 1 8.1 1 .1 1 7.1 1 6.9 1 2.7 1 6.4 1-3 1-7.5 1 4.3 1 2.4 1-1.1 1 5.8 1 2.3 1 7.1 1 .6 1 6.1 1 2.4 1 7 1-4.8 1 7.4 1 6.9 1 1.8 1 4.3 1-2.5 1 10.1 1 8.2 1-6.5 1 1.5 1-.7 1-.1 1 11.2 1 4.4 1 3.7 1-6.5 1-1.8 1 5.2 1-3.7 1 2.4 1 9.9 1 11.1 1-.1 1 4.7 1-.6 1-2.7 1-.1 1 8.2 1 1 1-3.9 1-.8 1-.5 1-4.7 1-3.3 1 19.2 1 4.8 1 6.1 1 1.9 1-2.4 1 8.5 1-12 1 9 1 4.4 1 5.7 1 6.7 1-5 1 9.4 1-1.2 1 .8 1-.7 1 7.9 1-6 1-3.5 1 .4 1 3.9 1-2 1 6 1 2.3 1-11 1 5.7 1-5.3 1 8.7 1 2.7 1 3.8 1 2.2 1 4.2 1-7.3 1 3.3 1-3.3 1-1.1"/><path vector-effect="non-scaling-stroke" d="M0,609.6l1-9.6 1 1.3 1 4.9 1 2.5 1-2.9 1-3.9 1 .5 1-.8 1-2.4 1 2.3 1 4.4 1-.8 1-1.1 1 3.5 1 7.9 1 6.9 1 .9 1 6.4 1-14.5 1 13.4 1 .5 1-8.3 1-1.6 1 15.9 1-1.2 1-7.2 1-7.2 1 4.3 1-6 1-4.2 1 2 1 3.1 1-2.4 1-9.7 1-5.9 1-4.8 1 .4 1-3.1 1-7.5 1 2.4 1-1 1-10.9 1-2 1-3.5 1 7.4 1-1.2 1-5.2 1 0 1 .4 1 3.7 1-9.3 1-.3 1 6.2 1 2.6 1-1.3 1 1 1 .8 1 3.6 1 2.1 1 4.7 1-1.3 1-2.9 1-5.5 1-6.7 1-13.5 1-1 1-5.8 1-1.2 1-8.1 1-2.3 1-5.7 1 5.1 1 3.4 1 .1 1-5.4 1 1.5 1-7 1-1.3 1-2.7 1-10.4 1-4.9 1 6.1 1-2.7 1-8.4 1-2.6 1-4.7 1-.9 1-6.2 1 4.8 1 .8 1-.7 1-11.1 1 8.6 1-11.8 1-5.6 1-7.4 1 7.5 1 2.7 1-1.7 1-5.8 1-2.9 1-8.3 1-11 1 6 1-.5 1-2.2 1-4.2 1-2.4 1-9.5 1 7 1-2.3 1-6 1-2.6 1 .4 1-2.9 1-.8 1 .4 1-14.3 1-2.1 1 4.9 1-7 1-.7 1 5.9 1-1 1-.1 1-7.8 1 1.8 1-2.9 1-6.4 1 4.6 1-10.1 1-4.3 1-1.4 1-.9 1-3.5 1-.7 1 .6 1 4.1 1 4.1 1-2.9 1-12 1-6.4 1-1 1-5.2 1-.4 1-2.8 1-.6 1-4.7 1-6.6 1-.6 1 1.2 1 4.7 1-.3 1-.2 1-6.6 1 .6 1-3 1-1.6 1-.7 1-.5 1-.7 1-.4 1 4.7 1 2.9 1-10.5 1 1.5 1-2.9 1-7.5 1-2.2 1-2.7 1 4.2 1-1 1-2.2 1 .9 1-3.4 1-1.1 1 6.3 1 4.5 1-10.8 1-7.5 1-1 1-.4 1-2.6 1 8.3 1-6.8 1-.6 1-2.5 1 4 1-4.4 1-3.4 1 2.3 1-2 1-3.5 1-1.1 1 3.6 1-2.9 1-.8 1 1.8 1-4.6 1-1.8 1 3.8 1-.4 1 .6 1 3.6 1 3.5 1-3.4 1 .3 1 5 1 3.5 1-9.3 1 1.8 1 3.1 1-.3 1 1.8 1 8 1-4 1 3.5 1-1.3 1 3.3 1 .6 1-8.8 1-.9 1 1.4 1-2.6 1 4.4 1 3 1 1.4 1 2.5 1 1.2 1 2.1 1-3.8 1 5.3 1-.7 1 1.8 1 .6 1 1.1 1 .8 1 6.6 1 .2 1 5.6 1 2.3 1 6.1 1 3.1 1 4.9 1-1.4 1-3.8 1-2.5 1-1.1 1 7 1-6.5 1 10 1-2 1 5.7 1 .2 1 .3 1 2.2 1 2 1 2.6 1 7 1-3.2 1-2.5 1 12.3 1 6.2 1 5.3 1 6.1 1 9.4 1-2.2 1 3 1-1.6 1 .7 1 1.4 1 8.6 1 2.9 1-2.8 1 4.5 1-1.4 1-2.3 1-1.7 1 8.8 1 4.8 1 2.7 1 .7 1 10.5 1 4.4 1 4 1 5.9 1-11.8 1 7.4 1 10.2 1 1.1 1 3.2 1 3.3 1 10.1 1-4.2 1-.8 1 2.8 1-.4 1 .3 1 1.2 1 10.2 1 .9 1 2.8 1 1 1 2.1 1 .5 1 3.7 1 4.3 1 7.7 1-.6 1 7.3 1 4.4 1-3 1-4.5 1 5.8 1 8.9 1 7.7 1 .7 1 3.9 1 2.4 1 1.1 1 1.2 1-1.3 1 1.5 1-1.7 1 3.4 1 0 1 2.1 1-1.8 1 5.7 1 2.2 1 4.2 1 4.6 1-1.2 1 10.8 1 1.4 1 1.5 1 3.4 1 1.2 1 7.9 1-1.3 1 9.5 1-6.6 1 6.1 1 .4 1 2 1 5.1 1-.8 1-13.3 1 8.7 1 1.7 1-8.8 1-3.4 1 3.4 1 3.5 1 1.2 1-2.8 1 1.9 1 8.4 1-8.2 1-4 1 16.7 1-3 1 10.9 1-4.8"/><path vector-effect="non-scaling-stroke" d="M0,635.8l1 5.2 1-10.1 1-10.8 1 3.3 1 13.1 1-4.5 1 .2 1-10.7 1 2.4 1 11.3 1 3.7 1 5.8 1 .7 1-5.6 1 .4 1-14.5 1 11.5 1 4 1-2.4 1 12.2 1-6.9 1 1 1-3.2 1 2.7 1-5.4 1-1.6 1 7.5 1 6.2 1-9.4 1 7.2 1-11.6 1-3.2 1 4 1 .4 1-.8 1 2.9 1-6.2 1 4.7 1-1.6 1 3.4 1 1.6 1 3.1 1 3.3 1-4.4 1 2.4 1-10.7 1-2.1 1 .7 1-.4 1 1.1 1-10.4 1-7.7 1-7.2 1 15.2 1-8.8 1-9.6 1-1.4 1 7.5 1-4.6 1 1.5 1-8.4 1-6 1 4.6 1-1.5 1-.8 1-5.5 1 4.2 1-1.5 1-7.9 1-10.4 1-3.8 1-2.7 1-5.4 1 .9 1 3 1 2.6 1-3 1 2.9 1-3.8 1 .3 1-12.3 1-2.1 1-12.2 1-3.5 1-12.5 1 7 1-.6 1-.7 1-4.1 1-3.8 1 0 1-5.5 1 .8 1-7.7 1-1.4 1-6.5 1-1 1-2.7 1-4.8 1 .2 1-2.1 1 3.9 1-.8 1-7.1 1 0 1-6.1 1 3.1 1 4.4 1-12.6 1 8.3 1-10.1 1-2.2 1-1.8 1 4.5 1-3.9 1-8.6 1-5.9 1-.7 1-7.6 1-1.4 1-2.4 1 0 1-8 1 1.2 1 2.3 1-.2 1-2.5 1-2.4 1 5.6 1-4 1-2.8 1 2.1 1-4.3 1-1.3 1-1.7 1-6 1-.2 1-4.7 1-6.2 1-5 1 .6 1-6 1 4.6 1-8.3 1-5.7 1-1.5 1-.7 1-2.3 1-5 1-3.7 1 1.3 1 .9 1-6.5 1-3.1 1 3.2 1-.6 1-3.1 1-3.5 1-7 1 5.4 1 0 1-5.2 1 3.3 1 .2 1-2.6 1-4.1 1-3 1 .5 1 1.3 1 2.2 1-6.5 1 3.7 1-9 1-4 1-2.6 1 2.9 1-3.9 1-5.8 1 4.1 1-3.1 1-5 1-3.7 1 6.3 1 3.5 1 .9 1 1.5 1 2.5 1-8.8 1 4.1 1-9.4 1 4.4 1 9.6 1 3.8 1-8.5 1-1.8 1-4.5 1 5.8 1 .1 1-1.5 1 1.2 1-.1 1 2.6 1-8.4 1 3.2 1-.6 1 3 1-1 1-3.1 1 3.9 1-2.1 1 6.4 1 1 1-7.6 1 1.5 1 .2 1-2.3 1 1.1 1-3.8 1 4 1 5.3 1 6.3 1-2.9 1 4.3 1 .8 1-1 1 6.4 1 .7 1-.8 1-3.7 1-5 1 6.8 1 .8 1 4.5 1 1.3 1-3.3 1 4.8 1 6.5 1-1 1 2.1 1 9.5 1-4.2 1 3.5 1 .3 1 4.1 1 .4 1-6.6 1-.8 1 7.7 1 1.6 1 4.4 1 1.6 1-.6 1 3.9 1 2.4 1 .9 1 3.2 1 6.4 1 4 1 6.7 1-3 1-9.3 1 .7 1 12.3 1-1.8 1 6.2 1 2.6 1 1.3 1 .7 1 10.1 1 6.3 1 1.7 1-2.2 1 9.4 1 8 1-2.2 1-2.1 1 4.6 1 6.8 1 3.2 1 1.1 1 8.4 1 8.2 1 1.2 1 3.5 1-11.6 1 13.5 1-7.7 1 6.6 1 1.6 1 4.6 1-1.2 1 1.5 1 1.5 1-1.2 1-.5 1 11.3 1-1 1 2.3 1 5.3 1 6.7 1 1.4 1 2 1 3.2 1-3.1 1 9.8 1 7.6 1 11.9 1-1.2 1-3.1 1 1.6 1 .4 1-.4 1 5.6 1 8 1 .2 1-1.3 1 7.5 1-9.5 1 11 1-.9 1-2.7 1 .3 1 3.2 1 1.9 1 12.4 1 1.4 1 1.1 1-2.8 1 0 1 1.5 1 10.9 1 2.9 1 9.4 1 2.1 1-2.6 1-10.6 1-2 1 7.2 1-7.9 1 9 1 6.9 1 4.8 1-.3 1 2.6 1 5.2 1 3.3 1-6.5 1-6.9 1-1.3 1 .8 1-4.6 1 13.2 1-.7 1 7.4 1-.2 1-7.5 1 4.1 1 1.4 1-8.9 1 4.2 1-14 1 3.3 1 4.6 1 2.2"/><path vector-effect="non-scaling-stroke" d="M0,595.3l1 9.4 1 7.5 1 2.8 1 5.9 1 2.5 1-5.2 1-1.7 1-1 1-3.2 1-7.7 1 3.2 1 4.9 1 4.4 1-3.5 1 1.8 1 .5 1-16.1 1 .1 1-10.1 1 4.1 1 1.7 1 7 1 2.2 1-11.7 1 2.9 1-12.3 1 5 1 4.2 1 4.8 1 .1 1-5.3 1-2.9 1 8.9 1 4.3 1 2.6 1 .1 1 5.9 1-8.8 1-3.1 1-6.5 1 1.4 1 1.5 1 5 1-9.1 1-13.8 1-2.9 1 5.7 1 .6 1 1.8 1-12.4 1 6.3 1 5.1 1-8.7 1-8.8 1-.6 1-3.7 1 10.4 1-4.5 1-5.1 1-.7 1-1.7 1-15.5 1 4 1-.3 1-1.4 1 1.9 1-3.8 1 7.3 1 1.7 1 3.6 1-3.6 1 4.8 1-6.1 1-3.5 1-1.9 1 6.9 1-5.2 1-6.2 1 4.8 1-10.2 1-3.2 1 1.2 1-16.5 1-4.2 1-3.7 1-1 1-5 1-1.4 1-1.3 1-.3 1-.7 1-2 1-3 1-6.3 1-2.6 1-8.8 1 1.7 1-9.4 1-2.4 1-2.3 1-12 1-4.3 1-5.4 1 1 1-7.2 1-4.7 1-7.4 1 .3 1 9.4 1-4.2 1-2.8 1 5 1 3.5 1-2.4 1-3.2 1 1.8 1-.2 1-4.2 1-1.6 1-7.8 1-1.7 1-5.9 1 7.2 1-12.1 1 .9 1 2.3 1-5.4 1-3.1 1 1.1 1-1.7 1 3.1 1-6.4 1 3.8 1-3.9 1 3.9 1 0 1-1.1 1-6 1 2.1 1-4 1-10 1-4.2 1 8.3 1-2.1 1-5 1-2.9 1-2.9 1-2.3 1 .8 1-6.8 1 .1 1-5.7 1-7.5 1 2.3 1-1.4 1-6.9 1-3.7 1-.8 1 2.6 1 .9 1-5.3 1-3.1 1-4.5 1-.6 1-.7 1-4 1 .1 1 2.8 1-6 1-1.5 1-1.4 1-.8 1 .3 1-1 1-1.2 1-4.1 1-2.8 1 6.2 1-3.4 1-2 1-.1 1-4.1 1 6.1 1 2.1 1-4.4 1-6 1 2 1-1.5 1-2.6 1 4.8 1-.4 1-2.2 1-.4 1 1.8 1 .9 1 .9 1-6.8 1-.5 1 1.1 1 4.8 1-3 1-2.8 1-4.8 1 1.1 1 2.2 1 7 1-.6 1 4 1-2.3 1-1.5 1 1.9 1-5.1 1-1.4 1 1.7 1-3.4 1 7.3 1 .9 1 2.8 1 3.2 1-.1 1 6.4 1 1 1-3.4 1 1.8 1 3.7 1 .3 1-1.4 1-.1 1-1 1 5.2 1-5.6 1 6.5 1 2.6 1 1.5 1-1.9 1 4.4 1 3.2 1-2.8 1 2.5 1 7.2 1 3.9 1-.5 1-2.2 1 1.2 1-.8 1 2.6 1-1.6 1-1.4 1 9.3 1 1.8 1 .1 1 0 1-3.1 1 6.3 1 .5 1 1.6 1 .7 1 .6 1 6.8 1 10.1 1-1.9 1 3.6 1-3.6 1 2.1 1 8.2 1 3.7 1 7.3 1 3.5 1 11.2 1 1.9 1 8.8 1 11.2 1-5.7 1-4.2 1 8.7 1-3.9 1 12.4 1 .1 1-1 1 .4 1 4.7 1-4.5 1-.5 1 6.5 1 9.3 1 4.2 1 4.5 1 1.2 1-1.6 1 7.9 1 6 1-.2 1 3.1 1 10.3 1-5.1 1-5.4 1 9.2 1 6.8 1-8.7 1 2.5 1 4.1 1-1 1 4.8 1 7.9 1-3.1 1-8.9 1 4.4 1 14.7 1 2.5 1 1.3 1-.9 1 4.1 1 2.3 1 .5 1 .3 1 1.7 1 5.9 1-5 1 2.2 1 11.8 1-2.4 1 3.1 1-1.4 1 5.5 1-.8 1 15.6 1 3.6 1-.8 1-8.2 1 6.8 1 14.2 1-1.4 1 3.4 1-6.4 1-1.9 1-2.7 1 7.7 1 4.7 1 1 1-2.1 1-1.2 1 3.6 1 5 1-5.3 1-8 1-4.3 1 6.5 1 1.6 1-1.5 1 7.8 1 4.5 1 2.7 1-9.1 1-.5 1 5.9 1 15.4 1-6.1 1 4.7 1-5 1 .9 1 6.4 1-7.9 1 .8 1-6.9"/><path vector-effect="non-scaling-stroke" d="M0,616.9l1 1.3 1-.6 1 6.2 1 1.5 1 1.4 1-7.3 1-1 1 4.6 1 1.9 1 4.5 1-5.3 1-6.2 1-6.8 1 5.6 1 3.4 1-6.9 1-1.7 1 2 1-4.6 1 1 1-4.2 1 3.3 1 3.3 1 .7 1-9.7 1-4.3 1 10.6 1-.6 1 4.5 1 5.1 1-3.5 1 1.4 1-9.4 1-.2 1-4 1-3.1 1 10.2 1-3.5 1 1.2 1-.9 1 .6 1-9.6 1 6.2 1 .2 1-20.3 1 6.6 1 2.1 1 5.2 1-8.3 1 4.7 1 .9 1-.3 1-7.4 1-2.7 1 11.4 1 5.1 1-19.5 1-5.3 1-1.8 1 9.9 1-9.3 1-3.9 1 2.2 1-1.6 1-9.4 1-1.6 1 2.3 1-1.3 1-3.2 1-2.8 1-4.5 1-2.5 1-5.7 1-1.6 1-3.6 1-7.6 1-5.3 1 8.5 1-8.8 1-12.7 1 3.5 1-6.3 1 .3 1-.7 1-.5 1-2.2 1-14.1 1-2.5 1-2.4 1-2.7 1 1.1 1 4.1 1 1.9 1-7.4 1-3.7 1 .4 1-4.9 1-6 1-2.6 1-.3 1-3 1-1.9 1 .4 1-2.5 1-1.2 1-5.3 1-3.5 1 1.2 1-3.7 1-3 1 2.3 1-10.5 1 1.2 1-1.3 1-6.3 1-2.6 1 .2 1-.3 1-.5 1-.7 1 2 1-.1 1-3.5 1-5.7 1-1.6 1-9 1-2.6 1 6.4 1-2.6 1-4.3 1-.3 1-.7 1 4.6 1-6.3 1-.6 1-4.1 1 3.4 1-5 1-5.2 1-7.1 1-5.2 1 1.3 1-3.3 1-2.5 1 1.4 1-3 1-8.1 1 .4 1-4.7 1-.5 1-6.1 1 3.9 1-4.1 1-7.8 1-1.1 1 .6 1 0 1 2.1 1 1.5 1-8.2 1 .4 1-2.7 1-2.9 1-2.7 1-.5 1-3 1-3.2 1 3.1 1 1.2 1-2.3 1-1.7 1-1.3 1-1.8 1 3.4 1 3.3 1-2.6 1-1.4 1-2.6 1-3.8 1 4.2 1-3.4 1-1.9 1 3.1 1-6.9 1 5.1 1-2 1-1.9 1 .5 1 4.3 1 .6 1 .3 1-.3 1-.5 1-6 1 1.4 1-1.9 1-6.8 1 4.5 1-1 1-1.9 1 .3 1-5.1 1-1.4 1 3.6 1-2.6 1-4.7 1-1.8 1 8.1 1-2 1-2 1 7.6 1 3.1 1 .7 1-4.7 1-4 1 .2 1 6.3 1 2.6 1 3.3 1-4.9 1-7.2 1 .3 1 1.6 1 1.9 1 9 1-4.7 1-4.2 1-.2 1 .3 1 6.6 1-1 1 5.6 1-1.2 1 9.6 1-4.8 1-.7 1 6.6 1 3.2 1 4.5 1-2.1 1 2.3 1-.8 1 1.2 1 3.3 1 11.1 1-1.3 1 1.6 1 5.8 1 .4 1 6.2 1-.9 1 .2 1 .3 1 1.7 1 1.1 1 2.9 1 6.7 1 1.1 1-3.3 1-.1 1 1.7 1 2.3 1 3 1 7.2 1 4.5 1 3.6 1 11.9 1-.8 1 8.5 1 4.1 1-.3 1 .2 1 .8 1 4.8 1 9.7 1 .9 1 6 1 1.7 1 7 1-4.8 1-3.6 1 6.8 1 6 1 4.7 1 14.1 1 2.4 1 2 1-3.7 1-10.3 1-.3 1-3 1 5.6 1 1.6 1 .7 1 4 1 3 1 .9 1 5.8 1 11.3 1 11.1 1 3.1 1 7.2 1 4.3 1-6.3 1 9.9 1 4.3 1 6.9 1 3.8 1 0 1 .5 1 2.2 1-8.4 1 5.4 1-5.8 1 13.9 1 4.3 1-.9 1 6 1-2.7 1 3 1 5.4 1-.9 1-3.6 1-3.2 1-2 1 14.6 1 4.8 1 3 1 .4 1 5.4 1-4.3 1 7.7 1 8.2 1 5 1-5.1 1 6 1-1 1 14.9 1 4.6 1-9 1 2.9 1 7 1-.6 1-1.8 1 4.7 1 2.5 1 4.8 1-6.5 1-4.3 1-5.4 1 6.1 1-5.8 1 6.5 1 2.8 1 2.2 1-.4 1-8.6 1-3.9 1 0 1 1.4 1-2.4 1-5.8 1 9.6 1 6"/><path vector-effect="non-scaling-stroke" d="M0,616.3l1 .6 1 14.1 1-2.8 1 4.3 1 5.6 1 1 1 2.2 1-5.5 1-15.7 1 3.1 1-6.3 1-1.2 1-4.2 1 12.5 1 1.2 1-.8 1 5.5 1 13.4 1-9.3 1 7.2 1-4.1 1-1.4 1-7.7 1-.8 1 1 1-2 1-4.5 1-11.4 1 11.5 1-6.9 1 1.7 1-7.3 1-3.4 1 1.4 1 11 1 6.5 1-.2 1-13.1 1 .4 1-7.7 1-3.4 1 8.5 1-4.2 1-3.4 1-8.5 1-1.9 1-5.5 1-12.3 1 5 1-1.1 1-.5 1-3.6 1 2.2 1 4.7 1-5 1-8 1-5.7 1 7.5 1 5.9 1-5.8 1 5.1 1-6.8 1-3.6 1-6.5 1 16.8 1-2.3 1-.7 1-9.1 1-3.1 1-3.9 1 1.1 1 7.7 1-3.7 1-5.4 1-18.6 1-4.5 1 1.5 1-4.1 1 9.3 1 6.8 1-8.5 1 4.1 1 8.9 1-8.7 1-9.6 1-8.5 1-7 1-2 1-4.4 1-4.7 1-3.7 1 1.4 1-4.6 1-.3 1-8.2 1-.9 1-10.3 1 5.9 1-3.2 1 11.3 1-7.5 1-2.6 1 3.6 1 1.7 1 1 1-10.7 1-3.4 1-1.9 1-4.7 1-13.6 1-3.8 1-.4 1-2.4 1-2 1-3.7 1 .7 1-12.3 1-7.5 1-2.2 1 2.1 1 7.3 1-1.4 1-3.6 1-6 1-.1 1 3 1-2 1 1.9 1-5.7 1-.9 1 .6 1-.6 1 2.3 1-5.2 1 5.9 1-7.9 1-6.5 1-3.4 1-1.7 1-4.1 1-6.3 1-7.5 1 .6 1 1.1 1-5.3 1 4.8 1 2.5 1-4 1-4.6 1-4.9 1-4 1-11.1 1 1.5 1 .2 1-2.8 1-4.8 1-2.1 1 .3 1-1.4 1-4.8 1 3.1 1-8 1-2 1-3.1 1-2.4 1-4 1 1.3 1 .7 1-.9 1-2.4 1 5.9 1-.1 1-3.6 1-6.2 1-.8 1-.7 1 .3 1 3.1 1-7.8 1 .9 1 2 1-1 1 6.1 1-5.5 1-5.5 1-1.2 1-2 1 2.3 1 5 1-2.3 1-2.4 1-2.8 1-4.2 1 5.1 1 4.3 1 5.6 1-5 1 6.1 1-.4 1-2.1 1 2.3 1 3.4 1-.2 1-.8 1 2.6 1-2.1 1 .4 1-3.5 1 1.2 1-.3 1 6.1 1-1.1 1 3.6 1 3 1 5 1-1.8 1-4.8 1 5.6 1-2.3 1-.3 1 3.3 1-6.9 1-.5 1 4.9 1-4.8 1 3.2 1-1.3 1-7.1 1 3.5 1-1.6 1 8.9 1-1.2 1-2.5 1 6.2 1 3.4 1-.5 1 4.3 1 6 1-.8 1 5 1-5.5 1 2.6 1-.7 1 9.2 1-2.3 1 .8 1-.1 1 9.1 1 1.4 1 2.2 1 3 1 3.3 1 7.6 1-5.6 1 .4 1-3 1 8.3 1 2.6 1 4.4 1-2.8 1 10.7 1-.6 1-2.1 1 0 1 8.1 1 10.8 1-4.9 1 5.2 1 9.8 1 9.3 1 7 1-8.4 1 2.7 1 10.4 1 .8 1-1.1 1-.5 1 5.8 1 2.3 1 3.4 1 .2 1 4.6 1-7.1 1 5.3 1 3.6 1 11 1 10.7 1-4.4 1-2.2 1 8.1 1 3.2 1 5 1 5.7 1 2.1 1-1.5 1 5.9 1 9.3 1-4.2 1 .3 1-3.5 1 11.4 1 7.9 1 0 1-3.2 1 .8 1 3.2 1 .4 1 2.2 1 1.3 1 1.3 1 .7 1-7.7 1 8.1 1 .7 1-4.4 1 11.5 1 2.8 1 4.2 1 6 1 9.7 1-2.6 1 1.8 1 .4 1 5.5 1 8.8 1 8.4 1-3.7 1-1.7 1 6.3 1 3.1 1 2.4 1 7.4 1 7.1 1 5.2 1 1.9 1-.5 1-3.7 1-8 1 6.4 1 6.3 1-2 1-2.4 1 0 1 10.4 1-6.6 1-.9 1 3.2 1-12.5 1-1 1 1.3 1 15.3 1 1.1 1-2.4 1 3.2 1-5.8 1-2.3 1 5 1 7.8 1 9.7 1-1.5 1-5.6 1-1.9 1-8 1-2.8"/><path vector-effect="non-scaling-stroke" d="M0,634.3l1 .6 1 7.9 1 .4 1-3.3 1-9.3 1-4.5 1 4.7 1-1 1-.3 1 10.2 1 4.8 1 1.3 1-9 1-4.2 1 1.8 1 3.4 1-3.1 1-6.8 1-2.4 1 9.5 1 .2 1-3.8 1-3.3 1 7.5 1-5.4 1-7.4 1 2.5 1 1.6 1-3.8 1-1.1 1-4.4 1-1.8 1-10.8 1-.2 1-1.1 1 5.8 1 1.7 1 1.3 1-2 1 2.9 1-6.5 1 10.7 1 2.2 1-4.9 1 .4 1 1.1 1-2 1-4.8 1-9.7 1-5 1 1.6 1-2.6 1 7.7 1 .7 1-.9 1 1.4 1-6.4 1 .4 1-1.6 1 9.2 1-1.8 1 8.5 1-16.9 1-2.8 1-1.3 1-.6 1 2.9 1 11 1-8.8 1 3.7 1-7.5 1-4.4 1-15.1 1 2 1-9.7 1 4.7 1 1.9 1-1.8 1-8.4 1-5.2 1-7.6 1 .6 1-10.5 1-6.6 1-4.7 1-1.9 1-6 1 7.9 1-.3 1-9.9 1 .2 1-3.9 1-5.5 1-7 1-3.6 1 9.1 1 4.9 1-8.9 1-1 1 2.7 1-.8 1-9.9 1 1.1 1-4.7 1-11.6 1 10.5 1-3.5 1-3.1 1 2.1 1-7.6 1-8.2 1-5.7 1 7 1-8.4 1-9 1 5 1-7.1 1-6.5 1-3.7 1-1.9 1-1.6 1 1.6 1 0 1 0 1 2.5 1-4.8 1-4.7 1-8 1 5.7 1-1 1 2.1 1-9.5 1-1.2 1 2.1 1-8.5 1-5.3 1-7 1-1.7 1 5 1-.6 1-16.3 1 2.2 1-3.4 1 5.5 1-.7 1-5.2 1-5.5 1 2.7 1-2.3 1-5.4 1-6.6 1-.7 1-.1 1-3 1-.2 1-9.8 1 1.4 1-.8 1-.2 1-.2 1-6 1-2.3 1-4.4 1-1 1-3.1 1 1.8 1-4.1 1-.9 1 .5 1-2.6 1 3.5 1 1.3 1-5.2 1 2.9 1-2.6 1-3.5 1 3.1 1-5.3 1-2.4 1-6.6 1 1.7 1-1.4 1 4 1-2.9 1-7.8 1-.1 1-1.8 1-1.3 1 3.1 1 5.1 1-1.6 1-1.3 1 3.2 1 4.1 1 0 1 1.1 1-3.9 1 .5 1 4.2 1 4.6 1 1.7 1-1.5 1-3.6 1 7.8 1-2.6 1-4.2 1 4.3 1-4.8 1 .6 1 .7 1-.8 1 2.6 1-.7 1 4.6 1 2.4 1-.5 1-6.1 1-.7 1 2.3 1 2.9 1 2.5 1 1.6 1-.5 1-5.1 1 1.3 1 3.2 1-4.5 1 11.9 1 6 1-6.9 1-1.2 1-4.1 1 6.5 1 9 1-3.3 1-6.9 1-1.7 1 3.3 1 1 1 7.9 1-1.4 1 3.9 1 6.7 1-2.7 1 6.4 1 3.4 1 2.2 1 4.8 1 5.8 1-1.3 1 4.9 1-5.4 1-3.3 1 .8 1 2.9 1 2.6 1 7.5 1 4.8 1 1.4 1-.7 1 3.3 1 .1 1 8.6 1-2.5 1 2.4 1 4.1 1-.2 1 7 1 4.9 1 .6 1 1.9 1 16.2 1 7.6 1-5.1 1 2 1-2.6 1 .2 1 10.5 1 3 1 5.7 1 9.7 1 2.9 1 10 1 3.4 1-1.9 1 5.1 1 2.4 1 1.4 1 6 1-2.1 1 2.9 1 1.5 1 4.5 1 10.1 1 7.1 1-5.7 1 7.8 1-1.6 1-.5 1 9.6 1-1.3 1 7.7 1 5.4 1-3.5 1 6.8 1 6 1-5.4 1 2.9 1-3.1 1 6.1 1 5.4 1-.4 1 3 1 1 1-.4 1 2.8 1 7.3 1-11.2 1 10.3 1 2.3 1 7.5 1-2.1 1-2.9 1 13.7 1 1 1 8.7 1 6.9 1 7.8 1-2.2 1-.5 1-3.9 1 3.5 1-1.1 1 2.4 1 1.3 1-2.2 1 8 1-9.6 1 2.3 1 7.9 1 2.3 1-3.7 1 2.5 1 12.1 1-1.2 1 9.9 1-.7 1-2.5 1-2.5 1-2.3 1 10 1-5.1 1 1.3 1 2.9 1-7.4 1-10.8 1 8.4 1-6.1 1-1.7 1 1.3 1-3.8 1-3.3 1 14.5 1-.7"/><path vector-effect="non-scaling-stroke" d="M0,602.6l1 7.7 1 7.9 1-4.1 1 15.6 1-5.6 1-6.8 1 1.7 1 .4 1-9.8 1 10.3 1 1.8 1-.6 1 1.7 1-.8 1-13.3 1-2.4 1 2.2 1 7.3 1-12.6 1 13.2 1-2.2 1-8.3 1 7.7 1-6.7 1 5.9 1 1 1 4.4 1-6.9 1-3.7 1-14 1-9.4 1 6.2 1 1.7 1-.1 1 5.1 1-.8 1-5.2 1 2 1 8 1-5.5 1 15.4 1-1.8 1-10.9 1-6.4 1-2.1 1-5.4 1 6.4 1 .9 1-11 1-2.6 1-3 1-3.7 1 .4 1-.1 1 .5 1-7.5 1 4.3 1 3.3 1 9.2 1 3.5 1-8.6 1-12 1-4.9 1-3.6 1 4.8 1 .9 1-3 1-1.4 1-3.8 1 1.5 1-10.1 1 14.6 1-6.7 1-2 1-4.4 1 3.3 1-13.6 1 .1 1-4.7 1-2 1-9.7 1-2.6 1-3.6 1 3.5 1-1.1 1-.5 1-7 1-12.8 1 6.6 1-10 1-4 1-8.8 1-4.8 1 5.7 1-7.3 1 .8 1 1 1-7.7 1-4 1-8.9 1 4.4 1-6.2 1 2.2 1-2.3 1-14.6 1 2.3 1-2.8 1 7.9 1-1.2 1 2.4 1-7.7 1-9.2 1-2.5 1 1.7 1-2.8 1-6.2 1 1.2 1-2.3 1-5.5 1 1.9 1-8.7 1-2.7 1-1.6 1 .1 1-5.3 1-3.6 1 3.4 1-8.4 1-4.6 1 1.8 1-1.5 1 1.3 1 2 1 1.6 1 2.1 1-3.7 1-5.3 1-2.3 1-3.7 1-3.9 1-9.9 1 1.4 1-.5 1-3.1 1 .5 1-2.7 1 7 1-9.8 1-4.7 1 2.1 1-8.4 1 2.4 1-.8 1-3.1 1-1.6 1-5.3 1-.3 1-.6 1 2.3 1-4.9 1 1.1 1-2.9 1-2.1 1 3.1 1-3.2 1 .8 1-3.4 1 1.9 1-.5 1-2 1-6.7 1-5.4 1 4.8 1-3.4 1-2.7 1-7.2 1 3 1 2.6 1 1 1 .5 1-1 1-2.3 1-.5 1 6.6 1-4.2 1-3.9 1 .4 1-2.1 1 3.8 1-3.3 1-.6 1 5.6 1 .3 1-4.2 1 .8 1-6 1 6.2 1-2.1 1-5.8 1 3.4 1-5.7 1 1.7 1-.2 1-2.2 1-.1 1 1.5 1-3 1-4.2 1 10.3 1 2.3 1-.9 1-3.3 1 4.4 1-.1 1-1.7 1 5.7 1-1 1 1.7 1 2.1 1 1.7 1-.1 1-6.2 1 .2 1-1.2 1 4.3 1-4.3 1 3.1 1 5.1 1-4.8 1 2.9 1 2.8 1 4.2 1-6.3 1-.2 1 .4 1 6.6 1-.3 1 4.1 1 4 1 2 1 1 1 6.9 1 4.7 1 3 1 5.7 1-3.4 1 1.6 1 12.4 1-4.7 1 .8 1 1.9 1-6.9 1 5.4 1 3.8 1 9 1 2 1 5 1 2.3 1-7.2 1-1.3 1-4.5 1 6.8 1 14.9 1 3.5 1-2 1 4.1 1 10.7 1 7.2 1-3.5 1 3.7 1 3.9 1 4.1 1 3.2 1-3.8 1 2.5 1 3 1 10.4 1-.1 1-3.3 1 5.9 1 1.5 1 6.4 1 3.2 1 1.5 1 7.5 1 1.8 1 10.4 1 3.8 1 1.6 1 1.8 1-1.8 1 1.7 1-.8 1 8.8 1 2.1 1 9.4 1 1.2 1 1.9 1-1.1 1 6.6 1 5.2 1-3.2 1 1 1 11.4 1 1.1 1 .7 1-2 1 4.9 1 1.1 1 10.2 1-4.7 1 2.4 1-5.2 1 2.5 1-1 1 9.7 1-5.5 1 4.7 1-4.2 1 13.8 1 .7 1-.3 1-1.3 1 5.1 1 1.5 1 8 1 6.3 1-3 1 1.9 1-7 1 7 1-2.9 1-2.3 1 10.6 1 4.1 1 6.9 1-.6 1-.5 1 7 1-4.1 1-1.8 1 7.4 1 1 1 6.3 1 8.7 1-.7 1-3.9 1 6.5 1-5.5 1 5.8 1 6.9 1-1 1-3.8 1 .2 1 5.3 1-.6 1-9.9 1 10.2 1-4.6 1 .3 1 5.7 1 1 1 1.8 1-7.4"/><path vector-effect="non-scaling-stroke" d="M0,619.2l1 10 1 12.5 1-1.2 1 .7 1-2.7 1 .5 1-6 1 1.1 1-.4 1 7 1-8.5 1-3.1 1-5.2 1-.4 1 1.8 1-.2 1 2.7 1 6.2 1-1.4 1 9.1 1 4.4 1-2.1 1-14.9 1-6.9 1 4.9 1 4.9 1 10.5 1-4.3 1 2 1-.6 1-4.6 1-8.7 1-6.7 1 2.5 1 1.4 1-5.9 1-1.3 1 5.2 1-12.9 1 7.7 1 3 1-6.2 1-1.6 1-11.1 1-14.8 1 9.1 1 .3 1 1.1 1 5.8 1-3.4 1-3.2 1-2.6 1-2.2 1-1 1 1.7 1 .4 1 1.5 1 .7 1 4.8 1-5.2 1-5 1-1.3 1-2.9 1 3.5 1-7.4 1-4.1 1-8.6 1 8 1 3.9 1 8.9 1-4 1-11.8 1-7.5 1-1.8 1-3 1-.7 1 1.7 1-11.6 1-5 1-1.9 1-3.8 1-8.6 1 .1 1-7.8 1 1.7 1-12 1-3.8 1-6.2 1-2.2 1-4.4 1 1.1 1-1.4 1 3.8 1 .7 1 2 1-12.6 1 4.5 1-2.5 1-3.6 1 3.1 1-4.4 1 .5 1-8.4 1-4.2 1-9.9 1 .4 1-2.3 1 .3 1-.4 1-3.3 1-3.3 1-5.2 1-1.8 1-8.2 1 6.5 1-1.6 1-7 1-3.9 1-2.1 1-1.5 1-8.3 1-2.1 1 .1 1-.8 1-5.6 1 2.4 1-3.7 1 5.4 1 1.5 1-1 1 .1 1-4.1 1-.6 1-1.1 1-2.7 1 4.6 1-4.8 1-12 1-8.2 1-10.4 1 3.9 1-2.7 1 3.9 1 1.9 1-3.6 1 4.1 1-9.5 1 5.6 1-2.2 1-8.2 1-4 1-4 1 6.9 1-3.5 1-.5 1-2.9 1-7.4 1-7.9 1-2 1 1.5 1-7.4 1-1.3 1 .5 1 .7 1-2 1-1.8 1-5.7 1 .2 1 3 1-6.7 1-4 1-2.3 1 3.1 1 5.8 1-8.5 1 1 1-1.3 1 .9 1-4.8 1 4.3 1 .4 1-3.5 1 1.6 1-3.1 1 2.4 1-1.8 1-5 1-1.1 1 3.7 1 4.9 1 .2 1 1 1-.7 1 1.2 1-.6 1 .5 1 3.7 1-5 1 .9 1 2.1 1 4.8 1-2 1-.6 1-5.4 1-2.4 1 5 1-1.4 1 7.1 1 2.9 1 2.6 1 1.7 1-4 1-.7 1-1.9 1-3.6 1 5.3 1-3.6 1-.3 1-1.1 1 4.5 1 4.6 1 .3 1 .4 1 4.2 1-7.9 1 3.6 1-5 1 2.3 1 1.4 1 2.2 1 3.8 1-4.4 1 4.2 1 2.5 1 7.4 1 3.3 1 4.9 1-.3 1 6.1 1 3 1-6.8 1 2.4 1 1.5 1 6 1 3.5 1-1.7 1-.3 1-1.6 1 .4 1-.7 1 3.6 1 10.7 1-1.8 1-2.9 1 4.5 1 2.3 1 4.8 1 1.2 1-.3 1 4.1 1 .8 1 2.1 1 6.9 1 2 1-2.6 1 1 1 3.6 1 2.2 1-1.1 1 8 1-.6 1 10.7 1 5.4 1 3.4 1 8.7 1 2.2 1 5.6 1-.8 1 .3 1 2.2 1-4.9 1 5.3 1 2.1 1-.4 1 1.3 1 8.1 1-.8 1-6.3 1 7.1 1 11.4 1 3.1 1-1.9 1-.2 1 5.4 1 5.1 1-1.5 1-3.9 1-6.5 1 3.1 1 8.1 1 4.2 1 7.9 1-3.5 1 3.9 1 2.5 1 2 1 3.7 1 8.4 1 .7 1 6.1 1 2 1 6.9 1 2.5 1 5.2 1 3.6 1 .7 1 13.7 1-2.1 1 7.1 1 2.9 1 4.6 1-13.2 1 8 1 2.6 1-7 1 4.1 1 10.5 1-2.1 1-5.9 1-4.8 1 .5 1 3.5 1 7.8 1 10 1 4.2 1 4.3 1-4.7 1-2.9 1 9.8 1-6 1 2 1 7 1-5.8 1 8.4 1 11.1 1 1.3 1-8.1 1 5 1-3.3 1 5.1 1-1.7 1 9.4 1 2.3 1-6.4 1 1.4 1 .5 1 2.7 1-5.8 1-2.7 1-7.3 1 1.4 1-4.3 1 1.8 1 2.1"/><path vector-effect="non-scaling-stroke" d="M0,636.6l1 5.7 1 6.4 1 6.3 1-2.2 1-8.1 1-1.1 1-4.1 1-6.2 1 10.7 1-.8 1-7.9 1-5.4 1-4.7 1 4.3 1-.9 1 2.7 1 3.8 1-7.4 1 5.7 1-.8 1-.5 1-3.6 1 7 1 .4 1-9.6 1 .5 1 1.7 1-10.6 1-1.7 1-.3 1 10.4 1 7.8 1 10.2 1-4.5 1-12.2 1 4.5 1-18.6 1 5.1 1-8.9 1 10.2 1-5.9 1 10.3 1-11.9 1-11.5 1-4.6 1 11.1 1-13.1 1-5.5 1-7.1 1-2.7 1-4.1 1-.6 1 7.4 1 7.5 1 5.3 1 7.7 1-5.8 1-.6 1-3.8 1 0 1-3.2 1 3.2 1 6.8 1-6.5 1 6.1 1 3.3 1-8 1-3.4 1-.5 1-4.4 1-.7 1-7.3 1-5.2 1-2.7 1-3.2 1-7.5 1-7.8 1-1.5 1-11.9 1-1.6 1 8.5 1 1.1 1-11.3 1-.3 1-5.8 1 5.4 1 5 1-6.3 1-1.9 1 2.6 1-5.6 1-7.3 1-1.7 1-5.4 1-4.7 1-4.7 1-3.1 1-4.2 1-3.1 1-4.2 1-2.4 1-7.1 1 8.1 1-8.8 1-3.1 1-1.5 1-9 1 3 1-.3 1-5.5 1-7.9 1-3.8 1-2 1 5.8 1-2.4 1 .8 1-10.8 1 5.3 1-8.6 1-10.8 1 .8 1-5.6 1 .2 1-2.3 1-7.8 1 4.4 1-2.1 1 5.7 1-.4 1 12.4 1-.5 1-5.7 1-8.1 1 2.8 1-3.6 1-8.3 1-7.7 1 .9 1 1.3 1-7.4 1-4.6 1-3.9 1 .9 1-2.4 1 8.7 1-8.8 1-3.3 1-3.5 1-6.9 1-3.8 1-4.6 1-3.4 1-1.9 1-3.6 1-4.8 1 .5 1-5.7 1-4.4 1-4.6 1 1.1 1-2.6 1-2.9 1-2.6 1 .1 1-.8 1-3.8 1 2.5 1 .3 1 .9 1-.3 1-1.2 1-5.2 1 5 1-5.4 1 .3 1 1.5 1 5.8 1-4.4 1-2.5 1-1.6 1-.4 1-3.3 1 9.1 1 .5 1 .6 1 3.7 1-1.9 1 1.5 1-2.4 1-1 1-2.1 1 3 1-.6 1 1.4 1-.3 1-3.1 1 0 1-5.9 1-7.5 1 3 1-.8 1 3.3 1-5.6 1 4.8 1 1 1 .9 1 4.1 1 2 1-.8 1-1 1-1 1 2.8 1-5.5 1 5.7 1 1.6 1 2.7 1-2.1 1 3.9 1 .9 1-3.6 1-7.9 1 1.6 1 5.9 1 0 1-.7 1 4 1 .2 1 .9 1 7.4 1 1.6 1 6 1 2.4 1-1.3 1-1.3 1-.5 1-5.1 1 1.1 1 12.9 1-4.6 1 11.2 1 5.2 1 2.3 1 .4 1 3.9 1-.5 1 3.9 1-2.3 1 .4 1 2 1-2.4 1 1.5 1 .8 1 7.7 1 4.5 1 5 1 2.1 1 1.5 1 10.1 1 2.4 1-3.3 1 5 1 3.2 1-.6 1 7.1 1-3.8 1 5.2 1 .9 1 .9 1 2.7 1-.9 1 9.1 1 2.3 1 4.9 1 7.1 1-2.9 1 6 1-1.8 1 1.5 1 8.8 1-3.8 1 5.9 1-.8 1-2.8 1 6.3 1 5.2 1 10.8 1-.6 1 2.5 1 4.2 1 7.3 1-4.6 1 12 1-.4 1 3.4 1-1.7 1 .7 1 1 1 4.4 1 7.2 1 9.5 1-3.1 1 4.1 1 3.4 1 2.5 1-5.2 1 12.2 1 .9 1-5.4 1 16.7 1 2 1-4.2 1-4.9 1 6.3 1 1.2 1-3.2 1 6 1 12.7 1-12.6 1 3.9 1 1.5 1 1.6 1 3.6 1 8.8 1-2.1 1 11.3 1 .3 1 6 1 11.1 1 .6 1 .3 1 0 1 3.8 1 0 1 1.8 1-1.7 1-1.9 1-9.2 1-6.2 1 11.7 1 6.9 1-.3 1-2.3 1 8.4 1 6.6 1-.5 1 9.1 1 2.3 1 2.7 1-4 1 .3 1-1.5 1-.8 1 10.4 1-1.6 1-.2 1 5.3 1 1.1 1 3.2 1-2.5 1-4 1-7.5 1 3.7 1 8.8 1-9.1"/><path vector-effect="non-scaling-stroke" d="M0,634.4l1 1.1 1 11.1 1-7.6 1 4.7 1 2.6 1-3.4 1-4.3 1 5.3 1 2.7 1 4.1 1-.8 1-1.5 1 1.7 1-3.8 1-10.8 1 3 1-3.5 1-5.9 1 1.7 1-.9 1 3.6 1 6.1 1 .6 1-3.7 1-5.8 1-2.6 1-4.5 1 4 1-6.8 1-8.9 1-1.9 1-4.8 1-4.2 1 7.3 1-4.6 1 5.4 1 1.4 1-.9 1 5 1-1.9 1 6 1 3.8 1-6.3 1 2.5 1-3.5 1-1.9 1-5 1-1.8 1-5.4 1 .6 1 .6 1-1 1-10 1 7.7 1-.9 1 5.3 1-8.7 1-8.4 1-4.7 1 2.2 1 5.9 1 3.2 1 2.5 1-7.9 1-1.4 1-.7 1 4.5 1 3.3 1-8.5 1 6.8 1-2.5 1-3.9 1-2 1-13 1-12.4 1-5.6 1-.2 1-5.5 1 3.2 1-7.9 1-6.1 1-5.3 1-2.2 1-1.1 1-3.8 1 2.4 1-2.1 1-1.3 1-3.4 1 12.5 1-2.2 1-7.4 1-11.2 1-3 1-12.8 1-.4 1-6.1 1-.9 1-1.7 1 2.6 1 .8 1-3.8 1-7.1 1-5.7 1-.6 1 1.4 1-2.3 1 2.3 1-8.9 1 1.1 1 1.4 1-3.4 1-8.1 1-3.4 1-.5 1-1.1 1-1.5 1-5.1 1-7.1 1-.1 1 1.3 1 2.2 1-6.1 1 6.1 1 5.4 1-8.6 1-9.6 1 6.7 1-6.2 1-3.6 1 1.7 1-3.5 1-4.4 1-3.7 1 2.4 1-7.6 1-.4 1-4.4 1 1.4 1-.3 1-.5 1-4.3 1-7.9 1 2.3 1-2.4 1-2.6 1-5.8 1-6.2 1-1.4 1 3.7 1-8.1 1 2.3 1-3.2 1-4.2 1-8.1 1 .2 1-.7 1-.3 1 2 1 4.7 1-.2 1-4.4 1-6 1-5.4 1-6.8 1-.6 1-2 1 1.3 1 3.9 1 .1 1 0 1-2.9 1-2.4 1-1.2 1-.9 1-5.4 1-.2 1-7 1 4.4 1-1.3 1-1.3 1 6.6 1-5.6 1 .5 1 4.9 1 5.3 1-10.4 1-2.2 1 4.3 1-.6 1 4.8 1-.8 1-4 1 4.4 1 .7 1-8.7 1 1.5 1-4.3 1 1.5 1 3.4 1-2.2 1-7.1 1 3.2 1 1.4 1-7.9 1-3.6 1 3.2 1-1.4 1-1.6 1 7.9 1 5.8 1 1.8 1-2.4 1 2.4 1 2.3 1-1.8 1-1.9 1 3.7 1-1.3 1 .4 1 3.2 1-3.7 1-6.4 1 1.8 1 2.1 1 0 1 3.1 1 2 1 3.3 1-4.5 1 .2 1 .6 1 1.4 1 2.1 1 6.5 1-2.1 1 4.5 1-2.4 1 11.9 1 .5 1 5.5 1 1.9 1 2.9 1 1.4 1 3 1 .6 1 6.4 1 .8 1 1.4 1 2.1 1 6.6 1-.8 1 2.9 1 6.1 1 5 1 .8 1 5 1 4 1-5.4 1 1.1 1 2.6 1 6.1 1 6.5 1-3.1 1 4.2 1-7.8 1 14.3 1 5.1 1-1.7 1 6.5 1 4.7 1 1.6 1 5.8 1 .5 1-1 1 8.8 1 11.7 1-8.8 1 4.2 1 2.9 1 4.9 1 6.5 1-1.3 1 3 1 1.9 1 9.9 1 2.2 1 10.6 1-.7 1 5 1-3.9 1-1.3 1-6.1 1 7.3 1 5.8 1-2.1 1 1.2 1 4.2 1 8.2 1-4.5 1 5.4 1-1.5 1-.2 1 1.1 1 3.6 1-4.6 1 7.7 1 5.1 1 .7 1 7.5 1 2.5 1 1.3 1 5.5 1 5.1 1 4.4 1 4.3 1-4.9 1 1.2 1 6.5 1 .1 1 7.4 1-2.6 1-1.4 1 .8 1 4.8 1 12.6 1-8.6 1 10.6 1 .5 1 2.6 1 8.6 1 1.7 1 5.3 1-3.4 1-7.6 1 7.2 1-3.5 1 12.6 1-13.9 1 1 1-.2 1 5.9 1 1.6 1-8.6 1 9.7 1-1.7 1-7.1 1 5.2 1 5.9 1-.9 1 8.6 1-6.9 1-.2 1 11.6 1-6.4 1 .6 1-6.5 1 4.1 1-2 1-2.9 1 4.4 1-6.2 1-.8 1-4.3"/><path vector-effect="non-scaling-stroke" d="M0,631.7l1 4.9 1 1.9 1 11.5 1-1 1-3.9 1-4.6 1-5.4 1-1 1 4.6 1-12.9 1-14.3 1 4.9 1-6.5 1-1.7 1 5.2 1 .3 1-6.5 1 .1 1 4.9 1 18 1-7.3 1-.3 1 12.8 1-.6 1 7.4 1-9.8 1-7.9 1-5.9 1-2.5 1-3.8 1-1.5 1 1.6 1-3.6 1 9.6 1-3.6 1-2.7 1 4.9 1 1.8 1 .6 1-6.4 1-3.5 1-.8 1 2.5 1-9.3 1-.3 1-4.9 1 2.1 1 4 1-.5 1 8.6 1-5.8 1-4.6 1 5.1 1 .9 1-6 1-10.3 1 3.9 1-6.6 1 9.8 1-9.6 1-1.6 1-4.9 1-.2 1-1.9 1-.6 1 6.5 1-14.2 1 9.6 1 6.9 1-.6 1 7.7 1-11.3 1-4.4 1-1.4 1-3.7 1-6.8 1-5.9 1-12.6 1-.7 1 2.5 1 2 1-8.6 1-5.5 1 .7 1-5.6 1-4.7 1-1.9 1 4.1 1 2.9 1-11.6 1-6.6 1-10.1 1 7.3 1 .1 1-8.6 1-.9 1-11.3 1-.8 1 1 1-10.3 1-2.4 1 4.3 1-4.1 1-2.4 1 5.2 1-3 1-4.3 1-7.6 1-7.8 1 1.3 1-12.4 1 .1 1 .1 1 4.6 1-.9 1-2.9 1-4 1-10.5 1 3.3 1-1.1 1 4.2 1-2.4 1-4.7 1-6.7 1-2.2 1-.7 1-1.1 1-4.2 1-2.2 1-6.7 1-1.8 1-1.8 1 4.2 1 .7 1-4.2 1-6.6 1-6.7 1-2.3 1 4.2 1-2.9 1-3 1-6.5 1 1 1-6.3 1-5.9 1-1.3 1-1.8 1 6.9 1-4.4 1 1.8 1-4.2 1-6.6 1 .8 1-1.9 1 1.8 1-5 1-6.9 1-3.3 1 2.4 1 .4 1 .7 1-5.3 1-1.3 1-2.7 1-1.6 1-.9 1-2.4 1-.8 1 2 1-7.8 1-.5 1-5.7 1-1.5 1 3.7 1-1.1 1-.6 1-7.4 1 8.8 1-6.7 1 2.6 1 .8 1-4.7 1 2.9 1 3.4 1 .9 1-.3 1 3.1 1-5.1 1-1.3 1-3.8 1 3.8 1 1 1-3.8 1 1.5 1-3.8 1 0 1-.6 1 1.2 1 5.6 1 2.6 1-1.2 1 .7 1-2.6 1 2.9 1-2 1 2.6 1-1.5 1-4.9 1 2.8 1 4.4 1 2.2 1 1.9 1-1.3 1 2.3 1 3.9 1-3.3 1 4.7 1 3.9 1-5.5 1 2.6 1 1.3 1 .8 1 2.4 1-3.4 1-.5 1-2.9 1 2.5 1 3.1 1-.3 1 3.3 1-3 1-.2 1-2.4 1 3.7 1 11.1 1 4.6 1-4.1 1 7 1 .9 1 6.1 1-.1 1 8.3 1-3.7 1-.2 1 7.1 1 2.1 1-7.5 1 6 1 1.9 1 4.4 1-.9 1 1.5 1 4.3 1-3 1 7.7 1 6 1-.5 1 2.6 1 3.1 1-3.6 1-1.1 1 8.3 1 .1 1 2.5 1-.3 1 2.3 1 6.6 1 4.7 1 1.7 1 5.6 1 4.7 1 3.9 1 .7 1 6.6 1 .1 1-1.1 1 3.7 1 7.7 1 4.9 1 1.9 1 4.3 1-1.1 1 5 1 9.9 1 5.9 1 3.4 1 1.9 1-1.9 1-.9 1 3.8 1 1.8 1 6.8 1-4.7 1 3.5 1 6.3 1-.5 1 6.9 1 1.1 1 11 1 3.5 1 1.8 1-9.5 1 3.2 1-.3 1 1.8 1 6.6 1 5.6 1 3.7 1 1.5 1-7.5 1 6.3 1 .3 1 6.8 1 6.4 1 7 1-3.3 1 6.9 1 .6 1-2.7 1-2.1 1-4.8 1 3.9 1 10.5 1 4.4 1 2.3 1 .9 1 4.7 1 2.4 1 7.3 1 .5 1-2 1-2.6 1-5.4 1 1.5 1 11.9 1 8.8 1 8.4 1-2.8 1 .9 1 1.9 1 2.5 1 11.4 1-3.2 1 .5 1 6.5 1 1.3 1-7.2 1-5.7 1 .9 1 2.4 1-7.7 1 6.6 1 .4 1-4.7 1-1.9 1-1.1 1 1.4 1-2.6 1 8.7 1 4.8 1 4.2 1 2.1 1-2 1 3.2"/><path vector-effect="non-scaling-stroke" d="M0,626.7l1 2 1-9.3 1-6.4 1-1.5 1 4.6 1 .7 1-10.5 1-5.9 1 7.3 1 .9 1 6.8 1-5.4 1-1.9 1-1 1 5.8 1-4.3 1 3.3 1 7.8 1-8 1 5 1 11.2 1-5.8 1 1.3 1-8.2 1 5.7 1-7.1 1 2.1 1-4.7 1 2.9 1 2.4 1-.3 1-.5 1 4.4 1-11.8 1-8 1 3.5 1 .5 1 2 1 5.9 1-.8 1-2.2 1 1.8 1-4.8 1-6.4 1 3.1 1-4.3 1 2.4 1 1.2 1-1.8 1 .5 1-9.4 1 2.5 1-7 1 5.7 1-1.2 1-3.6 1 7.4 1-11.2 1-.8 1 9.5 1-4.8 1 3.6 1-15.6 1-5.2 1-10.1 1-.8 1 1 1-9.3 1 8.8 1 .8 1-.6 1-5.4 1-8.9 1-6.3 1-7 1-5.8 1-4.8 1-4.7 1 4.2 1 2.5 1-4 1 .2 1-8.1 1-8.8 1-8.4 1-5.1 1 3.8 1-8.4 1 1 1-1.4 1-3.7 1-2.8 1 1.9 1-1.2 1 .6 1-1.4 1-2.2 1 .1 1-10.5 1 8.2 1-7.5 1-12.3 1 4.4 1 5.9 1 .1 1-7.4 1-11.2 1 0 1 4.9 1-1.7 1-5.5 1-6.5 1-3.1 1 4.2 1 .4 1 5.1 1 .1 1-8.3 1-5.4 1 .5 1-1.4 1-8.1 1-6.3 1-.5 1 1 1 1.6 1-3.5 1-6.3 1-8.4 1 .4 1 2.8 1-7.3 1-.8 1 0 1-2.1 1-.2 1-5.2 1 1.2 1-7.1 1-10.9 1-7.1 1 6.5 1-7.4 1-2.7 1-3.2 1 1.8 1 2.3 1-3.8 1 5.1 1 5.9 1-2.2 1-5.6 1-7.6 1-4.1 1-1.1 1-1.5 1-4 1-4.8 1 1.2 1-5.7 1-2.1 1 3.2 1-3.9 1-4.5 1-2.2 1 2 1 1.7 1 1.2 1-5.2 1 1.2 1-5.4 1-.8 1-9.4 1-.5 1-1.7 1 3.7 1 1.4 1-2.6 1-2.8 1-9.8 1-1 1-.5 1 .9 1 3.8 1-4.9 1-1.3 1-2.2 1 2.2 1-3.1 1 .1 1 6.5 1-3.2 1 7.5 1-1.8 1-8.3 1 1.5 1 .1 1 1.8 1-2.5 1-2.4 1 0 1 3.8 1 3.6 1 6.3 1-1.9 1-2.2 1 .2 1-2.9 1 5.4 1-3.3 1 3.4 1 5.8 1-.7 1-1.2 1-3.9 1 6.8 1-3.5 1 2.6 1 2.4 1-4.4 1-1.4 1 2.8 1 1 1 2 1 2.7 1 4.5 1-.6 1 7.2 1 8.7 1 7.3 1-.8 1-2.4 1 4.2 1 1.3 1 .7 1-2.9 1 .1 1 3.3 1 3.1 1-5.5 1-.8 1 8.1 1 1.4 1 10.2 1 3.3 1 4.6 1 .1 1-.2 1 8.4 1 1.5 1 7.7 1-5.2 1 5.7 1 3.6 1 1.7 1-.6 1-5.2 1 10.9 1 1.3 1 2.4 1 2.7 1 1.3 1-3.8 1 4.9 1-2.2 1 6.3 1 2.3 1 6.8 1 9.1 1-4.1 1 5.9 1 2.6 1 3.9 1-.7 1 6.9 1 4.5 1 7.9 1 5.8 1 1.3 1 8.1 1 .9 1 2.6 1-3 1 8 1-2.9 1 6.1 1-1.2 1 4.3 1-1.5 1 9.1 1-2.2 1-5.7 1 3.7 1-1.6 1 3.6 1 .3 1 3.2 1-3.7 1 9.6 1-.6 1-2.7 1 9.1 1 8.7 1-7.4 1 7.5 1 10.5 1 6.4 1 3.6 1-3.3 1-6 1 16.7 1 1 1-.2 1 5 1 3.2 1 3.5 1-1 1 .2 1 3.1 1-1.4 1 2.5 1 .8 1-2 1-3.6 1-2.5 1 5.5 1 6.3 1-.3 1 5.1 1 12.3 1 1.4 1 2.6 1-4.8 1 .1 1 1.7 1 6 1 11.2 1 5.4 1 3.7 1 9.6 1 0 1 0 1 1.1 1-6.5 1-2.5 1 .6 1-3.4 1-.5 1-.2 1-.3 1 4.9 1-6.9 1 9.7 1-4.8 1 8 1 1.9 1-2.4 1-2.7 1 11 1-3.8 1-1.5 1-8.9 1 1.4 1 5.2"/><path vector-effect="non-scaling-stroke" d="M0,626.1l1 13 1-.4 1 5.1 1 5.5 1-.7 1-2.4 1-6.8 1-2.3 1-1 1 6.6 1 6.3 1 1.9 1-2.9 1 2.4 1 1.3 1 4.9 1-.5 1-2 1-2.3 1 .5 1-6.7 1-6.6 1 2.4 1-1.6 1-5.4 1-4.9 1 5.5 1 10.2 1-5.5 1-4.5 1-2.1 1 1.5 1-1.3 1 4.9 1-7.5 1 1.4 1 .4 1-3.6 1 1.7 1 5.8 1-11.7 1 6.1 1-8.7 1-1.4 1-.9 1 .3 1-2.8 1-15.5 1-.7 1 13.4 1 1.7 1-9.3 1-3.7 1 2.7 1 5.9 1-1.2 1 2.6 1-14.5 1-.6 1 10 1-1.5 1 4.4 1-4.9 1-5.4 1 2.5 1 1.9 1-.1 1-3.2 1 3.1 1-.9 1-4.7 1-10.8 1 2.7 1-5.9 1-3 1-8.9 1-3.5 1-2.2 1-3.2 1-10.1 1-5.2 1-3.8 1 .5 1 3.7 1-4 1-.8 1-11.7 1-4.1 1-3.3 1-12.2 1 3.9 1-.8 1-2.9 1 5.1 1-.8 1-10.9 1-.8 1-7.4 1-3 1 .6 1-9 1 10.7 1 3.7 1-3.7 1-6.4 1-2.9 1-15.3 1 4.6 1 .6 1-8.7 1-.2 1-.1 1-1.4 1-4.1 1-5.3 1 1.5 1-4.1 1-2.7 1-7 1-3.2 1-2.4 1 2.4 1-9.9 1-9.6 1 6.3 1 2.4 1-7.7 1 1.5 1 2.5 1-2 1-3.1 1-8.1 1-4 1-.2 1 2.7 1-.8 1-7.1 1-3.8 1-4.2 1-2.5 1-.7 1-2.9 1 .2 1-7.8 1-3.7 1 6 1-6.5 1-.6 1 1.2 1-7.4 1 4.6 1-2.2 1-6.8 1 .5 1 1 1-2.7 1-1.3 1-5.1 1-6.6 1-3.8 1-8.2 1 1 1-.3 1-2.2 1-3.9 1-3.4 1 .9 1 4.6 1-.7 1 1.8 1 2.3 1-6.4 1 2.8 1-2.1 1-.2 1-3.6 1 .8 1-3.8 1 .9 1-.1 1-1.2 1 1.5 1-4.1 1-4.1 1-1.1 1-4.6 1 9.7 1 .4 1 5.1 1-.4 1 1.2 1 2.2 1-1.1 1 3.6 1 .8 1-4.5 1 .3 1-5.1 1 1.2 1-4.5 1-.6 1-2.3 1-1.9 1 .8 1 4.4 1-3.1 1 1.2 1 1.7 1 2.1 1-1.1 1 3.9 1 1.3 1-3.1 1 4.9 1 .6 1 3.9 1 2.5 1-7.2 1 7.7 1 10.5 1-9.9 1-6.6 1 5.1 1 1.1 1-.6 1 1.1 1 3.6 1 5.8 1-1.6 1 4.5 1 .8 1-2.7 1-.1 1-.7 1-1.4 1 5.9 1 2.7 1 .1 1 4.4 1-1.1 1 1.9 1 3.1 1 5.9 1 .8 1 .2 1 5.5 1 4.9 1-.6 1-2.5 1-6.1 1 11.5 1 0 1 3.2 1 5.6 1 10 1 5.5 1 3.8 1 4.8 1-.4 1-5.4 1 1.8 1-5.5 1 10.6 1 1.2 1 9.1 1-3.2 1-.7 1 .7 1 5.2 1 6.2 1 8.5 1-3.2 1 8.3 1 .7 1 2.8 1 8 1 8.3 1-3.6 1-2.1 1 5.6 1 7 1 9.1 1-1.1 1 2.1 1-.4 1-2.7 1 4.8 1-.2 1 .1 1 11.1 1 6 1 .8 1 8.9 1 6.1 1-.7 1 6.3 1-6.1 1 7.8 1 2.3 1 .2 1-3.5 1-2.7 1 9 1 0 1 2.2 1 .3 1 .6 1-2.2 1 5.5 1 2.7 1 6.5 1 2.8 1-.6 1-2.4 1-.8 1 9.2 1 7.5 1 3.3 1-4.2 1 2.7 1 .2 1-5.3 1 4 1 3.7 1 .5 1 4.6 1 2.3 1 1.4 1 .8 1 7.7 1 4.6 1 5.7 1 7.4 1-4 1-1.1 1 1.5 1 12.4 1-3.4 1-6.2 1 8.8 1 5.5 1 6.2 1-5.3 1 2.8 1-3.6 1 4.4 1 2.6 1-6.2 1 6.5 1-3.6 1 2.2 1 13.5 1-3.7 1-.9 1-8 1-4.9 1 3.6 1-5.2 1 4.6 1-5.8 1 1.4 1 8.8 1-6.5 1-3.4"/><path vector-effect="non-scaling-stroke" d="M0,624.2l1-1.9 1-1 1-4.8 1 6.6 1 5.3 1-1.9 1-2.2 1-3.1 1 .9 1 10.7 1-3.4 1 6.2 1 4.6 1 2.2 1-7 1 3.9 1-.1 1-11 1-8.6 1-1.8 1-7.1 1 14.1 1 5.1 1 .9 1 5.2 1-3.2 1-4.4 1-7.7 1-3.9 1-2.6 1-.6 1 4.5 1-4.4 1-8.6 1 .1 1 4.7 1 6.4 1 1.2 1-3.3 1-4.4 1 9.5 1-9 1-3.8 1 4.5 1 0 1-3.5 1 .5 1-11.9 1-10.4 1 17 1-5.8 1 3.6 1-1.7 1-5.5 1 11.4 1 0 1-7 1-1.3 1-10.1 1 10.7 1 .9 1-13 1 3 1-.4 1 4.3 1-9.3 1 8.9 1-4.3 1-4.8 1-3.7 1 1.6 1-1.8 1-8.7 1-6.3 1-12 1 8 1-4.8 1-9.6 1-2 1-3.6 1-8.3 1 7.2 1-9.5 1-7.6 1-4.1 1 5.5 1-3 1-10.5 1-2.4 1 .6 1 3.9 1-12 1-7.8 1 3 1-6.4 1-.1 1 .8 1-2.1 1-3 1 .1 1 5.7 1-.6 1-7.9 1-4.2 1-13.2 1 2.8 1 1.8 1 4.7 1 4.9 1-15.2 1-5.8 1-8.5 1 7.1 1-.9 1 2.9 1-8.4 1 4.1 1-2.1 1-10.4 1-3.5 1 1.6 1-4 1-7.9 1 3.8 1-1.4 1-5.2 1 7.9 1-5.2 1-10.8 1 .4 1-6.7 1 .1 1-4.1 1 6.4 1-2.2 1-9.5 1 4.1 1 5.6 1-4.5 1-7.7 1-.2 1-.6 1-5.7 1-5.3 1-.3 1-8.2 1-3.4 1-3.1 1 4.7 1-3.6 1-.3 1 1.5 1-4 1-3 1 2.6 1 .9 1-12.9 1-4.3 1-3.2 1-1.1 1-.5 1-2.3 1-4.9 1-3.7 1-1.4 1-3.5 1 5.5 1-1.2 1-3.7 1-.7 1-3.4 1-3.1 1 4.1 1-3.8 1 2.4 1-1 1 .5 1 2.4 1-12.4 1 0 1 .1 1-2.5 1 1.7 1 3.1 1-1.8 1 6.7 1-1.3 1-4.2 1 7.4 1 1.2 1-.2 1-2.5 1 1.2 1-5.4 1 .9 1 6.5 1 2.6 1-.9 1 1.5 1-8 1 3.2 1-.5 1 4.8 1-9 1-2.3 1-1 1 2.3 1-.5 1 .5 1-.3 1-4.3 1 7.6 1-.3 1 5.5 1-6.2 1-1.4 1-1.5 1 4.1 1-.8 1 2.3 1 2.8 1 4.3 1 2.1 1 1.9 1-4.7 1 8.1 1-7.4 1 2.1 1 3.9 1-4.4 1-.9 1 11.9 1 2.3 1 6 1 4 1-1.5 1 3.1 1 1.7 1 7.2 1 2 1 0 1-1.6 1 4.2 1 .1 1 3.9 1 .7 1 3.7 1 1.2 1 3.2 1-3.1 1 3.4 1-.3 1 1 1 3.6 1 4.2 1-.4 1 .5 1 3.3 1-4.8 1 4.1 1 3.8 1 2.7 1 2.9 1 3.5 1 4 1-1.9 1 8 1 3.8 1 6.4 1 3.7 1 5.3 1 2.4 1 2.1 1-2.5 1-.2 1 7.2 1 1.3 1 5 1 5.4 1-1.7 1 2.4 1-.5 1 13.6 1 2.8 1 5.6 1 10.1 1 4.7 1 0 1 1.1 1 3.7 1 3.3 1-2.2 1 1 1 6.1 1 4.1 1 2.5 1 1.6 1 9.2 1 7.7 1-3.7 1-1.6 1 .6 1-10.3 1-3.2 1-.7 1 4.2 1 5.1 1-2.8 1-.4 1 1.6 1 6.3 1 3.7 1 7.7 1 5.8 1 3.1 1 .2 1 4.9 1 3.1 1 3.1 1 7.4 1 .7 1 2.5 1 6.5 1-1.1 1-1.5 1 6.2 1 2.3 1 5.9 1 4.1 1 11.2 1-4.3 1 9.6 1-4.7 1-.7 1-.6 1 7.4 1-4.6 1-5.4 1 5.7 1 10.1 1 1.2 1 9.1 1-3 1-1.7 1 5.1 1-6.7 1 5.8 1-1.7 1 3.4 1 3.6 1-2.2 1-4.1 1-6 1-1.5 1 8.1 1 1.8 1 6.4 1-9 1 2.6 1 6.8 1-6.9 1 3.1 1-8 1-7.7"/><path vector-effect="non-scaling-stroke" d="M0,619.7l1 .5 1 .8 1-3.2 1-7.3 1 2.2 1 14.3 1-11.1 1-1.6 1 1 1-2.4 1-7.3 1-4.4 1 .5 1 9.9 1 4.4 1-2.9 1-8.3 1-.8 1-.9 1 3 1 7.2 1-9.5 1-.4 1-5 1 4.5 1 5.9 1-1.7 1 5 1-1.3 1-12.5 1-6.1 1 7.3 1 .6 1 1.4 1 7 1-6.8 1-10.8 1 4.8 1 6.6 1 3.8 1-8.1 1 9.7 1-4.6 1-1.1 1-9.8 1-3.7 1-3.8 1 1.6 1-2.6 1 4.8 1 3.5 1 6.4 1-6.4 1-1.2 1-7.2 1-3.3 1-9.6 1 3.9 1-11.5 1-1.6 1 9.3 1-3.1 1-4.4 1 3.2 1 2.8 1-5.3 1 9.7 1-10.6 1 11 1-8.9 1-5.1 1-14.3 1-4.8 1-8.8 1-4.3 1-3 1-9.3 1 2.9 1 2.2 1-4.5 1-1.5 1-2.6 1-1.4 1 3.2 1-3.2 1 5.7 1-14.5 1 .2 1-9.6 1-2.2 1 3.1 1-3.1 1-12.6 1-6.4 1 2.3 1 1.4 1-6.5 1 2.2 1 4.9 1-.1 1-5.4 1 6.4 1-5.6 1-5.4 1-.2 1-10 1-2.3 1-6.1 1-4.6 1-4.9 1 10.2 1-4.5 1-2.5 1-13 1-.4 1 5.8 1-4.5 1-5 1-3.5 1 1.4 1-5 1 2.2 1-7.4 1 3.3 1 .6 1 1.3 1 .2 1-5 1-3.2 1-1.5 1-3.2 1-9.7 1-2.5 1-2 1-6.9 1-1 1 .8 1-3.4 1 0 1 .6 1 0 1-4.4 1-10.9 1-5.7 1 5.4 1-.2 1 3.9 1-9.4 1-.6 1-4.1 1 .4 1-7 1 .5 1 1.1 1-4.6 1-3.4 1-.1 1-.2 1-.2 1 .3 1-2.9 1 .8 1-3.1 1-5.3 1 1.9 1 2 1-9.3 1 1.5 1-5.7 1-4.8 1 2.6 1-3.8 1-4.1 1 2.4 1-1.8 1-2 1 1.7 1-3.9 1 4.2 1-3.4 1-.4 1-1.8 1-4.3 1 6.2 1-6.3 1 1.1 1-2.2 1 5 1 1.3 1-3.2 1-3.3 1 4.7 1 2 1-.6 1 .6 1-2.4 1-1.1 1-2.8 1 2.4 1-9.7 1 4.8 1-1.7 1-1.8 1 3.5 1 1.7 1 4.8 1 3 1-1.9 1-1 1-.9 1 .7 1 .1 1 1.5 1-8.1 1 .4 1 2.1 1 1 1 1.9 1 5 1-3.6 1-2 1-6.3 1 7.5 1-.7 1 9.3 1 .6 1-4.2 1 2.7 1 5.1 1 3.1 1 1.2 1 2.5 1 6.5 1-6.6 1-1.2 1 4.7 1-2.3 1-1 1 8.3 1-1.1 1 3.9 1-2.7 1 1.1 1-2.3 1 3.8 1 4.2 1 2.2 1 2.3 1 4.8 1 7.5 1-2.7 1 1.7 1 4.7 1 2.6 1-2.4 1 8.7 1 2.5 1-.3 1 2.8 1 3.9 1-5.1 1 4.6 1 5 1 6.3 1 6.6 1 5.7 1 .2 1-4.1 1 .7 1 .4 1 6.9 1 2.3 1 0 1 2.3 1 1.9 1 5 1 6.5 1-.5 1 4.4 1 5 1 2.6 1 7.6 1 10.4 1 6 1 1.3 1-5 1-.2 1 3.1 1 2.6 1 1.6 1 4.7 1-5.2 1 7.2 1 3.1 1 1.7 1 1.7 1 8.6 1-2.2 1 .6 1 12.1 1 .9 1 .5 1 2.5 1 4.5 1 11.4 1-.2 1 7.4 1-3.8 1 5 1-6.5 1-.1 1 6.5 1-4 1 2.2 1 7.7 1 3.8 1 5.8 1 .7 1 .5 1 3.8 1 10.4 1 7.6 1 1.6 1-3.3 1-7.7 1 5.9 1 12.9 1-4.4 1-2.1 1 9.5 1-2.2 1 10.2 1 4.3 1-1.9 1 2.6 1-9.4 1 3.3 1-3 1 2.4 1 1.9 1 12 1 2.4 1 1.3 1-2 1 2.9 1 3 1-4.8 1-1.9 1 .1 1 3.8 1 .5 1-1 1 3.2 1 5 1 3 1-8.9 1 1.4 1-11.5 1-3.6 1 7.5 1 3.3 1 3.9 1-.5 1 9.5"/><path vector-effect="non-scaling-stroke" d="M0,613.7l1 11.3 1 11.2 1-1.8 1 7.1 1-2.5 1-14.7 1 5.6 1 7.7 1 3.8 1 4.3 1-3.6 1 4.7 1-8.8 1-3.2 1-1.3 1-3.2 1 2.9 1 3 1-4.2 1-7.5 1 2.5 1-5.5 1-1.8 1 1.6 1 1.3 1 3.9 1-6.3 1 3.3 1 .5 1-1.8 1 3.2 1-4.3 1 4.7 1-1 1 4 1-9 1 3.2 1-.7 1 3.4 1 4 1-2.1 1 1.3 1-2.8 1-4.6 1-12 1 2 1 5 1-1.3 1 4 1-7.4 1-10.5 1 2 1 7.4 1-2.6 1 4.9 1 8.6 1-2.9 1-3 1 9.9 1 .4 1-13.4 1 3.4 1-10.7 1 3.6 1-1.8 1-2.9 1 3.6 1-6.1 1-1.3 1-6.5 1-11.5 1 12.7 1-1.7 1-9 1-18.5 1-7.8 1-2.7 1-5.6 1-8 1-1.8 1-2.3 1 1.7 1-1.9 1 4.3 1-4.1 1-6.2 1-9.1 1 .8 1-.5 1-.1 1-5.5 1-5.8 1 1.9 1-4.7 1 3.7 1-3.5 1-1.2 1-6.6 1-2.7 1-3.1 1-1 1 6.8 1-6.9 1-9.2 1-2.1 1-3 1 4.5 1-3.7 1-8.3 1-1.7 1 6 1-7.7 1-9.2 1 5.3 1-8.7 1 4 1-5.8 1-6.9 1-9.5 1-2.5 1-3.3 1 2.1 1-5.4 1-.2 1-3.1 1-1 1 4.8 1-6.7 1 4.9 1-4.3 1-6.4 1 9 1 1.1 1-.2 1-1.9 1-5.3 1-4.3 1-2.5 1-3.1 1-10.7 1-3.7 1-4 1-.6 1 2.4 1-.6 1-3.8 1 5.2 1-3.1 1-4.8 1-4.9 1 1 1-1.5 1-5.8 1-3 1 4 1-5.1 1-.1 1-6.2 1-8 1-4.5 1-.5 1-3.8 1 .1 1 7.3 1 1.3 1-2.6 1-3.6 1 .8 1-1.1 1 1.2 1-2.7 1-1.9 1-4.2 1-1.2 1-4.2 1 2 1-2.8 1 1.2 1-1.9 1 1.6 1-2.7 1-1.8 1 2.4 1-1.6 1-3.6 1 0 1-.7 1-2.2 1 .8 1 2.4 1 3.7 1 6.6 1-.5 1-9.2 1-2.8 1 3.4 1-3 1 4.7 1 1.5 1 5.5 1 2.6 1-4.6 1 7.4 1-3 1-1.3 1-2.3 1-3.2 1-3.9 1-.5 1 4.9 1 6.1 1 1.7 1-3.1 1-.1 1-1.2 1-1.3 1 12.8 1-4.6 1-1.6 1-2.7 1-1.3 1 .7 1-3.8 1 8.9 1-3.1 1 6.6 1-.2 1-1.4 1 2.1 1-4.1 1 2.7 1-1.3 1 8.2 1-2.6 1 3 1 1.9 1 .4 1-5.2 1 .4 1-1.8 1 4.9 1 1.1 1 4.7 1 5.1 1 7.6 1-.1 1 1.4 1 .4 1 6.7 1 2.9 1 2.1 1 2.9 1 4.6 1-4.8 1 7.1 1-9.8 1 5.5 1 2.9 1 6.1 1 2.4 1 6 1-1.7 1-4.7 1 4.4 1 8.9 1-1 1 5.8 1 8.6 1 6.6 1 1 1 7.8 1 2.4 1-1.7 1 7.4 1-8.8 1 5.4 1-2.5 1 2.2 1 12.1 1 4.2 1 1.4 1 1.6 1 9.7 1-1 1-3.2 1 4.7 1 11.1 1-1.1 1 5.8 1-.5 1-.2 1 1.9 1 2.5 1 2.5 1 2.6 1-3.1 1 10.4 1 6.9 1-1.9 1 8.2 1-.2 1 1.8 1 9.3 1 3.3 1 3.5 1 14.5 1-.3 1 2.6 1-2.4 1-1.8 1 1.6 1-.2 1 10.1 1 5.3 1 4.5 1-6.5 1 9.5 1 4.1 1-6 1-1.9 1-2.6 1 6.5 1 1.1 1-1.6 1 5.9 1 1.7 1 9.4 1-1.6 1-5 1 5.1 1-4.2 1 10.4 1 5.1 1 4.3 1-3.1 1 5.5 1-1.4 1-1.4 1 5 1 8.2 1-13.9 1 3.4 1 10.5 1 2.4 1-1.7 1-.5 1 2.4 1-6.3 1-2 1 1.8 1 2.1 1-.9 1 4.7 1 17 1-2.1 1 3.1 1-.1 1 .5 1-3.3 1 9.5 1-1.8 1-4.4 1-.5 1-7.3"/><path vector-effect="non-scaling-stroke" d="M0,608.6l1 3.8 1-6.9 1 .9 1 12.6 1-3.8 1 12.9 1 7.2 1-13.5 1 1.9 1 2.9 1-4 1-10.1 1 6.9 1 5 1-1.6 1 9.7 1-11.4 1-4.6 1-4.5 1 .1 1 .6 1 1.1 1-4 1-7 1-7.1 1-4 1 10.8 1-1.8 1 1 1 .5 1-13.2 1 10.7 1-2.1 1-2.7 1 .9 1 4.5 1 6.7 1-9.6 1-7.6 1 1.6 1 5.3 1 7.7 1 2.7 1-12.8 1 8.6 1 .1 1 1.3 1 1.4 1-1.1 1-9 1-4.4 1-4.1 1-.6 1-11.3 1 1.7 1-4.4 1-10 1 .5 1 8.8 1-5.7 1 3.3 1 5.4 1-8.5 1-8 1 7.1 1 2 1 7.1 1-17.7 1-1.4 1-4.5 1-13.8 1-1.3 1 4.3 1-2.8 1 7.3 1 1.1 1-9.2 1-9.5 1-9.9 1-5.2 1-4.8 1 9.2 1 2.4 1-1.8 1-8.7 1 1.5 1 5.5 1-4 1 .9 1-1.9 1 .3 1-9.3 1-5.9 1-.1 1 .9 1-6.6 1-.8 1-4.5 1 .2 1-6.1 1-.8 1 5 1-11.4 1-10.8 1-13.9 1 2.1 1 5 1-4.9 1-9 1-1.9 1-3.1 1 2.1 1-.5 1 1.8 1-7.2 1 4 1-1.3 1-.8 1-5.6 1-7.8 1 6.3 1-5.1 1-1.4 1-2.4 1-8.3 1-3.5 1 8.2 1-1.3 1-5.4 1-3.2 1-6.5 1 1 1 .3 1-.4 1-9.6 1 5.2 1-3.1 1-2.6 1 4.5 1-1.9 1 1.5 1-7.4 1-5.5 1-2.8 1-7.6 1-.7 1-7.5 1 3.7 1-.6 1-7.3 1-5.1 1 8.2 1-3 1-13 1 4.9 1 1.4 1-.1 1 .4 1-6.3 1-6 1-4.7 1 2.4 1-3.2 1 2.9 1-5.2 1 2.3 1 2.1 1-4.9 1-5.6 1-1.2 1-4.4 1 0 1-2.3 1-2.9 1 4.9 1-1.2 1-3.9 1 1.4 1-6.2 1-2.9 1 1.2 1-2.9 1 1.4 1-1.4 1-2.3 1-1.9 1 3.3 1 2.9 1 1 1-1.4 1 4 1-1 1-1 1-1.2 1 .8 1-6.4 1-1 1-.1 1 5.3 1-2.3 1-2.1 1 3.9 1-9.4 1-5.1 1 .2 1 7 1 4.5 1 3.7 1-.1 1 2.4 1 2.4 1-.6 1 1.2 1-1.5 1-3.7 1 2.4 1 .5 1-.4 1-2.8 1 4.4 1-3.6 1-2.4 1 3.7 1-3.2 1 8 1-8.3 1 5 1 5 1-2.9 1 7.2 1-8.7 1-2 1 8 1 5.4 1-4.9 1-.4 1-.2 1 5.4 1 3.3 1 1.7 1-4.8 1 1.6 1 4 1 7.6 1-2.8 1 7.3 1-.8 1 4.6 1 11.7 1 .1 1 5 1-5 1 4.7 1-3.6 1 11 1 4.7 1 1 1 5.3 1 .6 1-1.9 1-.7 1 6.5 1-1 1 6 1-.3 1 5.9 1 5.6 1 4.1 1 6.7 1 3.9 1 5.8 1 3.6 1 1.3 1-7.3 1 2.3 1 5.8 1 2.7 1-3.5 1 2.2 1 7.5 1 5.7 1 1 1 2.7 1 9 1 1.2 1 5.9 1 9.4 1-.4 1 5.2 1-2 1-7.9 1 11.7 1 7.4 1-8.1 1 2.1 1 5.8 1 2.4 1 6 1 3.7 1 8.7 1-8.5 1 10.4 1 4.8 1 6.3 1 2.7 1 .4 1 6.3 1 0 1-4.6 1 6.2 1 3.7 1 2.7 1 5.7 1 9.6 1-5.8 1 .5 1 6 1-3.3 1 4.4 1-6.3 1 12.7 1 .5 1 1.6 1 4.4 1 2.2 1-5.8 1-1.7 1 8.4 1 .5 1 3.3 1 1.2 1 1.8 1-1.4 1 6.3 1-4.3 1 1.3 1-.4 1 13.3 1-8.9 1 .8 1 8 1-6.1 1 6.4 1 3.1 1-1 1-.2 1 6.8 1-5.1 1-3.7 1-.3 1-1 1 .1 1 4.4 1 2 1-9.4 1 5.1 1 2.3 1-9 1 7 1-2.6 1-4 1 .8 1 0 1 5.3"/><path vector-effect="non-scaling-stroke" d="M0,625.9l1 11.4 1-4.1 1 1.1 1-1.9 1 13.3 1 4.5 1-5.8 1-6.5 1 8.2 1 4.1 1-10 1-7.5 1 11.2 1 .1 1-7 1 7.1 1 4.2 1-2.9 1-1.1 1-7.6 1-2.7 1-3.7 1 5.8 1-.3 1-8.9 1-.8 1-5.7 1-3.9 1-2.5 1-.3 1 7.8 1 9 1-7.6 1 3.3 1 2.8 1-9.3 1-5.5 1 3.3 1-.2 1 8.1 1-12.2 1 7.5 1 5.3 1 4.2 1-7.9 1-6 1-3.5 1 8.7 1 9.5 1-4.2 1 1.1 1-7.4 1-2.2 1 .7 1-10.8 1-1.2 1-5.1 1 1.1 1 .2 1 0 1-2.3 1-4 1-8.3 1-4.7 1 9.9 1-3.2 1-.9 1 2.7 1-8.9 1 4.5 1-2.2 1-1.6 1-1.1 1-11.4 1-7.9 1-3.1 1-4.6 1-1 1 8.9 1-6 1-6 1-4.7 1-6.9 1 1.7 1 .7 1-4.3 1-8.3 1-2.1 1-5.2 1-.4 1-2.8 1-5.2 1 .8 1-2.4 1 0 1-6.7 1-8.1 1-3.6 1 6.5 1-1.6 1-6.7 1 1.5 1-6.8 1 2.3 1-3.8 1-4.3 1-3.6 1 3.4 1-.7 1-4.3 1-13.1 1-1.6 1-3.9 1-2 1-2.8 1-1 1-2.9 1-6.8 1 2.6 1 2.4 1 .4 1-5.2 1-9 1-3.7 1-3.8 1-6.7 1 2.4 1 .6 1-.4 1 0 1-6.1 1 2.7 1 6.6 1-5.2 1 2.4 1-3.1 1-6.6 1-2.7 1 4.7 1-4.3 1 1.3 1-2.8 1-6.2 1-2.6 1-.8 1-4.6 1-4.9 1-1 1-.1 1-11.2 1-2.3 1 0 1-5.2 1-6.2 1-4.8 1 .1 1-4.8 1 .5 1 3.6 1 6.5 1-.5 1-.8 1-2.5 1-6.7 1 4 1-6 1-3.5 1 7.2 1-.4 1-9.8 1 .5 1 6 1-4.9 1-5.5 1 2.1 1 .9 1 4.5 1-6.6 1-1.3 1-3.1 1-.9 1 4.9 1 .5 1 0 1-4.2 1-6.1 1 2.2 1-2.1 1-.1 1 2 1 .1 1 2 1-3.1 1 5.6 1-1.7 1-.7 1-5.1 1-2.7 1 1.8 1 1.9 1 3.7 1-6.8 1-1.4 1-2.6 1-1.6 1-3.4 1 1 1 1.3 1 .6 1 4.7 1 1.4 1 4 1 2.6 1 2.8 1-5 1-3.1 1 3.7 1 8.9 1-5.6 1 2.6 1 0 1-2.6 1 1.2 1 2.5 1 7 1 1.2 1-2.9 1 5.2 1 4.8 1 3.7 1 3.2 1-.5 1 1.7 1 2.7 1-.1 1 0 1-.6 1 0 1 6.2 1-8.6 1 7 1 2.4 1 2.8 1-3 1 3.1 1 1.3 1 3.1 1-.7 1 5.3 1 1.8 1 6.5 1 4 1-1.9 1 .7 1 3.9 1 1.5 1-.8 1 4.6 1 4.9 1-.5 1 .4 1 2.9 1-2.5 1 8.9 1 3.3 1 5.9 1 9.8 1 2.1 1 6.3 1 .8 1 3.9 1 .6 1 3.9 1 7.1 1-2.4 1 3.3 1 7.1 1-4.6 1 6.9 1 5.3 1 2.3 1 .7 1 5.3 1-2.9 1 .5 1 10.1 1 1.1 1-.6 1-.7 1 2.3 1 7.4 1 5.8 1-.1 1-1.7 1 7 1-2.6 1 7.2 1 10.4 1 3.5 1 3 1-3.5 1-7.2 1-.2 1 12.7 1-12.1 1 5.9 1 5.6 1 3.2 1 3.7 1-.6 1 4 1 8.3 1 2.1 1 4.4 1-.5 1 12 1-5.8 1 11.6 1 4.1 1-7.8 1 5.7 1 3.3 1-1.7 1-5.5 1-6.5 1 7.1 1 4.8 1 1 1 12.1 1-8.3 1 1.1 1 14.2 1 2.1 1-.6 1 .8 1 1.9 1-2.6 1 3.8 1 .2 1 11.6 1 6.3 1 5.4 1 2.4 1-5.5 1-8.5 1-.1 1 2.7 1 3.5 1 6.5 1 3.8 1-7.2 1 8.4 1-2.8 1-2.6 1 10.8 1 1.5 1 6 1-5.2 1-3.5 1 3.8 1-7.5 1 4.6 1-.7 1-4.4"/><path vector-effect="non-scaling-stroke" d="M0,604.4l1 .3 1 9.2 1 4 1-.1 1-7.7 1 12.3 1-8.5 1-2.9 1 1.4 1-9.9 1-4.3 1 5.6 1-.6 1-2.5 1-1.1 1 8.8 1 .1 1 3.4 1-3.4 1-4.8 1 13.2 1 .4 1 1.9 1-6.8 1-3.1 1 1.1 1-1.9 1 1.7 1 6.7 1-6.1 1-8.1 1 1.2 1-1.3 1 3.4 1 7.5 1-6.6 1-1.2 1-.7 1-1.6 1-2.7 1-5.1 1 6.7 1 5.7 1-.5 1-1.5 1-14.2 1 .8 1-2.3 1-.1 1 5.3 1 6.5 1-3.4 1-6.6 1 9.7 1 2.1 1-12.8 1-2.3 1-.6 1 4.1 1-6.2 1-10.4 1-3.4 1 2.6 1-3.6 1-5.4 1-2.1 1 3.4 1 3.6 1-11.1 1-1.1 1-.5 1-.7 1 1.2 1-2.9 1 .7 1-8.9 1-5.8 1-11 1-1.1 1 .1 1-12.1 1 4.2 1-9.1 1 15.6 1-.1 1-6.2 1-2.5 1 2 1-14 1-7 1-1.9 1-1.8 1 .8 1 1.9 1-3.9 1 1 1-4.1 1 6 1 5.1 1-9.6 1-13.4 1-10.1 1-4.8 1-6.1 1 .5 1 2.7 1 .1 1-6.1 1-11.4 1 .1 1 .5 1-5.3 1 .9 1-1.7 1-.1 1-4.7 1-.6 1-7.4 1-6.9 1 4.4 1-4.2 1 3.4 1 3.3 1-6.3 1-1.4 1 1 1-5.2 1 4.2 1-4.5 1-5.4 1-2.8 1-9.9 1 13 1-2.8 1-7 1-7.3 1-1.8 1 .5 1-8.5 1-.6 1 5.6 1-.4 1-2.2 1-5.5 1-7.1 1 1 1 .6 1-2.1 1-3.6 1-3.4 1-2.6 1 0 1-1.2 1-.7 1-5.4 1-4.5 1-4.3 1 .7 1-7.2 1 2.7 1-1 1 .3 1 .6 1-9.2 1 .6 1-.5 1 5.9 1-4.3 1-3.1 1-1.5 1-1.9 1-2.1 1-.3 1-3.6 1-2.5 1-5.9 1 3.2 1-5.7 1-1.1 1-2.1 1-1.9 1 .8 1 1.2 1 2.4 1 2.2 1-3 1 1.8 1-1.3 1-3.1 1 2.3 1 6.3 1-3.2 1 .2 1 5.5 1-4.6 1-2.2 1 2.7 1-5.8 1 .1 1 .3 1-3.3 1-4 1 1.7 1-3.4 1-.6 1 7.5 1 2.3 1 .2 1 2.6 1 3.5 1 2.8 1 2.7 1 5.3 1-.4 1 4.3 1 1 1-5.4 1-6 1 1.5 1-4.1 1 1.8 1-6.2 1 .8 1 4.4 1 2.3 1 .5 1 3.5 1 .1 1-2.1 1-.1 1 2.9 1-2.2 1-.2 1 8.4 1 3 1 8.4 1 2.8 1-1.1 1-2.4 1 2.7 1 2.6 1 .4 1-1.6 1 2.6 1 4.6 1 3.5 1 7.6 1 1.3 1 4.1 1-2.5 1 2.3 1-4 1 .3 1 6.9 1 6.4 1 3.2 1-2.8 1 4.6 1-1.1 1 0 1 2.2 1 .3 1 13.6 1 4.9 1 3.6 1 4.2 1 4.3 1 4.1 1-9.8 1 3.2 1 7.4 1 7.4 1 6.2 1-2.7 1 1.6 1 5.4 1-3.3 1 12.1 1-2.6 1 4.4 1 5.7 1-4.5 1-.3 1 7.2 1-13.2 1 14.9 1-.3 1 .5 1 6.5 1 9.3 1 1.1 1 3 1-.4 1 11.1 1-1 1 4.3 1 10.2 1-5.4 1 4.8 1 .8 1-.7 1 10.7 1 4.7 1 .3 1-.8 1 4 1-.7 1-.9 1-4.8 1 4.3 1 3.1 1 4.5 1 5.8 1 2.6 1-6.5 1-3.6 1 3.7 1 11.1 1 2.6 1 .1 1 2.8 1-2.6 1 4.2 1 8.6 1 4.3 1 7.6 1-8.3 1 6.4 1 4.3 1 1.7 1 4 1-1.2 1 2.1 1 5.9 1-4 1-3.6 1 1.7 1 8 1-3.8 1-1.6 1 1.7 1 19.6 1 8 1-1.9 1 4.9 1-3.9 1 6.4 1-5.3 1-5.1 1-.6 1 1.8 1 .8 1 1.2 1 1.4 1 .5 1-2.4 1 3.5 1 16.2 1-7.6 1 1 1-2.7 1-1.4 1-6.2 1 2.5"/><path vector-effect="non-scaling-stroke" d="M0,606l1 8.2 1 3.8 1-7.8 1 2.4 1 3.8 1 6.4 1-9.5 1 9.9 1-7.6 1-5.3 1-4.8 1-1 1-5.4 1 1.4 1 3.6 1 4.6 1 3.3 1-9.9 1 2.7 1 3.3 1-8.5 1 .9 1-5.6 1 2.6 1 2.9 1-3.9 1-10.7 1 14.3 1-1.5 1 4.5 1-6.7 1 5.4 1 2.2 1-2.7 1-4.5 1 .8 1 0 1-1.2 1-4.2 1 2.8 1-5.8 1-2.1 1-1.6 1-1.7 1-9.8 1-.7 1-4.8 1-1.3 1 4.7 1-2.2 1 4.8 1 3.5 1-12.7 1 1.5 1-5.4 1-.9 1-4.2 1-2.4 1 1.7 1 7.3 1 2.9 1 4.4 1-5.1 1 2.5 1-14.2 1-3.4 1-3.5 1-5.9 1 1.7 1-1.6 1 5.7 1 11 1-17 1-7.8 1 .2 1 .9 1-2.3 1-4.9 1-2.5 1-2.9 1-9.2 1-6.7 1-7.9 1 5.2 1-3.5 1-1.7 1-1.8 1-2.4 1-9.6 1-2.1 1-9.1 1 6.3 1-5.3 1-5.8 1-10.7 1-5.2 1 2.5 1-5.9 1 5.8 1-3.6 1-10.7 1-1.4 1 3.6 1-4.8 1-6.1 1-4.8 1 1.1 1 3 1 6.3 1-4.6 1-12 1 .6 1-7.8 1 3.5 1-.2 1-3.8 1-.8 1 1.1 1-5.6 1-3.4 1-5.8 1-1.1 1 .3 1-5.3 1 6.2 1-.6 1-1.1 1-13.7 1 4.4 1 5.8 1 3.6 1-7.6 1-9.8 1-.6 1-3.6 1-1.1 1-4.7 1-1.6 1 4.8 1 1.6 1-10.6 1-4.1 1 4.8 1 .9 1-3.9 1-4.2 1-1.4 1-5.2 1 .1 1 1.5 1-11.2 1 0 1-6.4 1-1.7 1 1.7 1-5.4 1-.8 1-1.8 1 1.5 1-6.3 1-.2 1-3.7 1 3.3 1-1.4 1-.4 1 2 1-2.1 1-7.1 1-2.2 1 1.8 1-.5 1-3.1 1 1.8 1 1.1 1 .7 1-2.4 1 1.4 1 0 1-.2 1-5.5 1-7 1-1 1 .8 1 .6 1-1.5 1 4.2 1-4.7 1-1 1 4.6 1-.4 1-7.6 1-3.4 1 5.8 1 4.1 1 1 1 .2 1-3.3 1 1.2 1-3.6 1-4.9 1 6.1 1-3.9 1 1.7 1-5.9 1-2.5 1 4.1 1-4.6 1 2.5 1 4.5 1 1.4 1 1 1 .8 1-.1 1 2.1 1 .6 1 5.6 1-2.1 1 4.1 1-3.9 1 1.4 1-2.9 1-2.9 1-4.4 1-.6 1-3.5 1-2.9 1 .1 1-1.1 1 6.4 1 5.3 1 3.7 1-.2 1-1.4 1 9.4 1-6.6 1 4.1 1 6.6 1 1.6 1-5.9 1-2.1 1 3.6 1-.4 1 7.5 1 6.6 1-.8 1 6 1 .1 1 2.4 1 3.5 1-2 1 .8 1 7 1 5.2 1 7.9 1 4.5 1 .5 1 3.5 1 6.8 1 .7 1-3.2 1 4.1 1 2.5 1 5.8 1 9.6 1-4.5 1-1.9 1 6 1 8.4 1 10.9 1-4.6 1 3.9 1-.3 1-4.4 1 5.1 1 .4 1 1.8 1 1.3 1 11.5 1-4.9 1 3.5 1 .3 1 3.3 1 .4 1-7 1 10.3 1 2.5 1-.8 1 4.5 1-1.4 1 7.6 1 10.5 1 1.2 1 9.1 1-4.6 1 5.4 1-3.8 1 10.3 1 .3 1-1.9 1 5.6 1 6.9 1-2.2 1 .1 1-7.2 1 9.9 1-.4 1 11.3 1-2.4 1 8.7 1-.9 1 8.6 1 .2 1 1.6 1 2.2 1-.9 1 6.1 1-.3 1 4.4 1 3.5 1 6.4 1 3.2 1 11.2 1-6.9 1 7.4 1 .8 1-11.5 1 4.3 1-5.5 1 5 1 5 1 3.5 1-3.8 1-2.5 1 4.5 1 12.7 1 7.9 1-2 1 1.4 1 7.3 1-9.1 1 2.4 1 1.8 1 2.5 1-1.9 1-4.9 1 .4 1 8.2 1-2.7 1 5.1 1-3.2 1 6.7 1-6.6 1 6.5 1 2.6 1 .2 1-.7 1 4.8 1 4.5 1-8.2 1 7.3 1 1.3 1 2.4 1-2.7 1-2.5"/><path vector-effect="non-scaling-stroke" d="M0,605.7l1 3.2 1-8.5 1 3.3 1 2.3 1 .2 1-6.3 1-6.7 1-2.5 1-2 1-4.4 1-4.5 1 14.5 1-1.9 1 1.1 1-3.6 1-2.3 1 8.1 1 5.1 1 1.6 1 .9 1 10.5 1-2.6 1-2.6 1-.3 1-.6 1 2.5 1-7.1 1-3.1 1-.3 1-16.1 1-2.7 1 2.9 1 4.4 1 4.6 1 2.2 1-2.8 1-3.1 1 4.2 1 10.2 1-9.7 1-2.1 1-2.5 1-9.7 1 2.6 1-2.3 1 6.3 1 9.9 1-7.2 1-1.3 1-15.1 1-11.3 1-3.8 1 10.2 1-8.7 1-2.3 1 .6 1-.6 1 3.6 1 .5 1-2 1-7.2 1-5.8 1-2 1 8.3 1-5 1 .2 1 2.5 1-10 1-13.5 1-3 1 .9 1-.5 1 10.1 1-3.8 1-5.5 1-10 1-11 1 7.1 1-.8 1-.3 1-1.2 1-.9 1-10.2 1-1.8 1-3.8 1-7.5 1 4.3 1-15.1 1 .2 1-5.8 1 5.1 1-.1 1-2.2 1-.1 1-2.6 1 .3 1-3 1 1.6 1-8.1 1-5.1 1 .6 1-2.6 1-5.5 1 5.9 1-7.7 1-7.8 1-9 1 10.6 1-2.6 1-2.3 1-2.2 1-6.2 1-.1 1-9.1 1-2.8 1 2.2 1-10.7 1-1.5 1 .6 1 .9 1-3.6 1 1.3 1-5.9 1-1.3 1 .8 1 3.4 1-3.7 1-2.3 1 4.9 1 1.6 1-3.7 1-8.6 1-4.8 1-2.8 1 .4 1-1.6 1 .6 1-2 1 1.2 1-1.6 1-8.7 1 1.2 1-2.4 1 .5 1-9.1 1 1 1-.7 1 1.8 1-5.9 1 2.3 1 .6 1-1.4 1-4.7 1 .7 1-1.5 1 .3 1-6.4 1-9.7 1 2.9 1-3.8 1-1.1 1-4.1 1 8.4 1-.5 1-.6 1-4.3 1-4.7 1-1.5 1 2.4 1 1.7 1-6 1-4.3 1-2.8 1 1.7 1-2 1-4.7 1 3.5 1-.4 1 1.3 1 1.7 1-4.3 1-4.2 1-4.6 1 2.1 1-3.7 1 9.6 1-2.6 1 3.5 1-5.5 1 1.5 1-12.4 1 2.1 1 1.4 1 .8 1-.4 1 .6 1 3 1 1.3 1-2.3 1-2.8 1 3.2 1-7.2 1-2.2 1-1.1 1 .2 1-2.1 1 4.6 1 .9 1-1 1 5 1 .2 1 .2 1 1.9 1 .7 1 8.5 1 5.3 1-5.3 1 .3 1-4.9 1 2.6 1 3.7 1-2.7 1-.5 1-.8 1-.6 1 4.2 1 .1 1 3.1 1 1 1 .4 1-3.1 1 2.1 1-.1 1-1.1 1-1.6 1-2.1 1 2.6 1-2.4 1 4.6 1 5.8 1 13.8 1 6.3 1 1.3 1 2.8 1 6 1 2.3 1-6.1 1 8.5 1-2 1 2.7 1-.8 1 3.6 1 3.5 1-4.4 1 1.2 1-.5 1 .2 1 2.9 1-3 1 4.8 1-.3 1 11 1 5.2 1-1.3 1-1.8 1 3.3 1 10.8 1 1.6 1 8.9 1 .4 1 1.9 1 5.8 1 2.1 1 .2 1 12.4 1-4.1 1 4.9 1 9.9 1 11 1-3 1-8.5 1-.2 1 1.9 1 7.2 1-3.8 1 11.4 1 3 1-6.6 1-4.3 1 14 1 12.5 1 .6 1 8.2 1-1.4 1 .8 1 5.1 1 3.1 1-3.5 1 10.2 1 3.9 1-1 1-1.9 1 11.6 1-2.7 1-.7 1-1 1 2.7 1 3.5 1 9.3 1 12.4 1-8.3 1-1.7 1-1.2 1 2.8 1 .6 1 8.3 1-.5 1-1.4 1-1.2 1 2.5 1-7.1 1 6.6 1 13.8 1-6.4 1 5 1 4.2 1-.1 1 13.4 1-2.5 1 .2 1-10.1 1-1.5 1 6.7 1-1.5 1 8.8 1 .6 1 3.9 1 8.3 1 6.2 1-.4 1-6.6 1 12.1 1-5.3 1 1.2 1-6.4 1 9 1 3.2 1 2.4 1 .9 1 .3 1 .2 1-8.7 1 3 1 1.6 1 1.9 1 2.7 1-.7 1 3.1 1 1.9 1 2.7 1-4.7 1-3.2 1 3.8 1 5.7"/><path vector-effect="non-scaling-stroke" d="M0,593.7l1 2.2 1 4.6 1 9.1 1-4.9 1 20.4 1-15.7 1 3 1 8.5 1 0 1-22.7 1 5.2 1 5.3 1-12.5 1-1.6 1 5.3 1-11.6 1-1.4 1 11.8 1 .7 1 8.4 1-1.3 1-3.8 1 3.2 1-1.9 1-3.4 1-4.8 1 5.5 1 3.2 1-3.6 1 4.9 1-12.2 1 0 1-9.6 1 3.3 1-8.5 1 3.5 1-4.9 1 1.6 1-3.8 1 5 1 19 1-6.2 1-10.4 1 2.5 1 9 1-14.7 1 4.5 1-6.7 1 1.7 1-11.4 1-2.6 1-3.5 1 10.6 1 9.1 1 6.2 1-18.5 1 .6 1 2.6 1-6 1 3.2 1-3.4 1 1.2 1-4.7 1-3.3 1-3.3 1-2.7 1 6.9 1-13.3 1 7.6 1 6.8 1 4.8 1-9.9 1-6.7 1-14.3 1 7.5 1-5.4 1-8.8 1-2.3 1-1.6 1-3.1 1 .4 1-4.4 1-3.3 1-1.6 1 .9 1-5.2 1-4.1 1 .9 1-1.8 1-1.7 1-1 1-8.8 1-1.8 1-2.7 1-7.1 1-6.4 1 .5 1-.5 1 10.6 1-10.9 1-2.6 1-.7 1-12.4 1 2.7 1 2.2 1 .3 1-.8 1-5.8 1-2.4 1-11 1-6.8 1-8.8 1 1.4 1 4.1 1-9.1 1-1.4 1 8.9 1 2.9 1-13.9 1-2.8 1-7.6 1 5.4 1-6.1 1 3.1 1-9.5 1 1.8 1-5.1 1-.3 1-.9 1-6.9 1 6.1 1-3 1-9.8 1 2 1-5.6 1-1.2 1 .7 1-7.2 1 .6 1-2.9 1 1 1-6 1-1.7 1 5.1 1-7.7 1-1 1-.8 1 2.6 1-1.9 1-.9 1-9.4 1 5.4 1-7.4 1 6.2 1-4 1-10.5 1 0 1-7.7 1-9.5 1 7.5 1-3.6 1-2.5 1 .7 1-5.3 1 2.8 1 1.4 1 .1 1-8.5 1 5.7 1-1 1-5.7 1-1.2 1-3.5 1 5.3 1-2.2 1 1.2 1-7.2 1 2.5 1-3.4 1 1.8 1-1.4 1 6.6 1-3.1 1-3.6 1 2 1-2.6 1-2.9 1 0 1-1.1 1 3.8 1 .7 1-.5 1-6.4 1 .7 1 .8 1-3.9 1 .2 1 1.8 1-2.9 1-3.5 1-1.9 1 1.7 1-9.6 1 3.1 1 3 1-.6 1 .6 1-2.6 1 5.2 1 1.7 1 2.5 1 1.9 1 3.8 1-4.7 1 8.9 1-.7 1 3.8 1 .5 1 1.8 1-4.5 1-2.5 1-4.4 1 2.1 1 2.6 1 4.1 1 2.9 1 3 1 4.4 1-1.6 1 0 1 1.2 1-.9 1 7.4 1-.6 1-8.2 1 5.7 1 7.1 1 2.6 1 .5 1 1.6 1 2 1 5.1 1 .7 1 6.1 1-3.6 1 .7 1 3.1 1 1.5 1 1.8 1 7.8 1 3.4 1-1.3 1 2.1 1 2.3 1 3.9 1 2.7 1 2.7 1 .7 1-1.4 1 2.8 1 2.2 1 3 1 3.5 1-1.5 1 4 1 7.9 1-.9 1 1 1 9.2 1 13.8 1 3 1 .2 1 2.5 1-.9 1 2.8 1 .9 1 5.7 1 1.2 1 6.1 1-1.3 1 10.5 1-2.6 1-1.4 1 4.8 1-3.3 1 6.2 1 .7 1 .4 1 3.7 1 14.2 1 7.4 1-2.7 1-3.7 1 6.4 1 4.7 1 10.9 1 7.4 1-3.2 1-.9 1 2.7 1 2.1 1 3.7 1 7.2 1-.6 1 .7 1-3 1 6.5 1-.7 1 6.3 1 3.3 1 .9 1 4.7 1-1.9 1 3 1 7.1 1-2.6 1 3.7 1 .8 1 9.1 1 5.3 1 2.9 1-8.2 1 12.3 1-3.4 1 5.3 1 1.2 1 7.7 1-3.4 1 9 1 3.3 1-3 1-.5 1 .3 1 11.3 1-6 1-.1 1-8.1 1 5.3 1-7.3 1-.6 1 5.9 1 4.8 1 5.8 1-4.2 1-3.2 1 4.7 1 5.5 1-.2 1-9 1 6.2 1 1.5 1 3.1 1 9.6 1-4.6 1-8.9 1 3.3 1 3.5 1 .2 1-5.2 1 4.8 1 0 1 .6 1 7 1 7.4"/><path vector-effect="non-scaling-stroke" d="M0,607.1l1 12.2 1 2.5 1-4.9 1-.1 1-10.9 1 4.3 1 7.3 1-12 1-14.3 1 10.7 1 14 1 5.6 1-9 1 1.3 1-13 1-.4 1 16.9 1-2.2 1-4.4 1-3.1 1-9.4 1-1.5 1 .2 1 5.8 1 1.5 1 2.7 1-2 1 7.3 1-14.3 1-9.6 1 12.7 1-3.4 1-5.6 1 4.1 1 4.7 1-4.3 1-5.4 1 5.6 1 2.2 1 1.9 1-3.9 1-12.2 1 5.7 1-6.9 1-.9 1-2.3 1-1 1-11.4 1-5.2 1-3.8 1-9.8 1-7.2 1 .3 1-.1 1 4 1-6.6 1 7.6 1 9.6 1-.6 1-1.6 1 9.4 1-2.9 1-10.2 1 .4 1-6.8 1 5.1 1-5.2 1 1.7 1-7.4 1-3.2 1 .7 1-4.3 1 1.6 1-3.2 1-9.4 1-7.4 1-2.3 1-4.2 1-2 1-1 1-13.5 1-7.2 1-3 1 7 1-1.5 1-1.2 1-.4 1 10.6 1-1.9 1-4.2 1-3 1-1.6 1-1.6 1-11.4 1-.4 1-1.4 1-12.8 1-1.7 1-5.8 1 5.3 1 2.6 1-3.7 1 9.4 1-5.7 1-5.6 1-6.5 1-6.6 1-4.5 1-6.2 1-7.7 1 4.5 1-7.7 1 5.9 1-5.1 1-5 1 4.6 1-6.5 1-2.7 1-7.5 1 .5 1-8.4 1-3.2 1 1.3 1-5 1 4.9 1-5.7 1 2.9 1-3.6 1-3 1-3.3 1 1.5 1 5.7 1-7.3 1 1.1 1-6.7 1 4.3 1-5.9 1-7.8 1-2.2 1 5.9 1-7.9 1-7.9 1-3.2 1 1.6 1 2.8 1 2.5 1-1.2 1-4.1 1 1.4 1-5.7 1-.3 1 3 1-7 1-7.8 1-3.1 1-3.9 1 4.3 1-2.8 1-.3 1-9.2 1 .1 1-2.9 1 7.5 1-11 1 3 1-3.6 1-6 1 .5 1 1.3 1-4.2 1 5.1 1-.1 1-1.6 1-3.3 1 5 1 .4 1-1.5 1 5.8 1-5.9 1-2.3 1-5.7 1-3.2 1 6 1 2.4 1-1.6 1 4.6 1-3.6 1-.3 1 2.3 1-.3 1-1.3 1 4.6 1-1 1-.3 1-4 1-1.6 1-10.5 1 3.7 1-3.5 1 2 1 3.1 1 2.1 1-2.7 1-2.5 1 3.4 1-1.7 1-3.5 1-3.1 1 4.1 1 5.3 1-2.3 1-7 1 6.8 1-1.7 1 6.3 1 1.1 1-3.6 1 .3 1 2.6 1-.5 1-.2 1-5.6 1 7.8 1-1.5 1 3.4 1 4.5 1 3.2 1 1.3 1-.5 1 .3 1-1 1 4.7 1 4.2 1 3.2 1-2.7 1 4.9 1-3 1 4.4 1 .7 1-3.2 1 7.9 1 2.1 1 3.6 1-1.8 1 5.1 1-2.8 1 2.6 1 8.6 1 2.7 1 4.8 1-.5 1-3.8 1 4.2 1-.5 1 3 1 1.2 1 3.9 1 3.5 1 8.6 1-3.4 1 5.6 1 .7 1 1.4 1 4.2 1-5.8 1 4.8 1 8.1 1 5.4 1 5.6 1 1.2 1 1.2 1-5.8 1 6.3 1 .7 1 2 1 8.5 1-6.7 1 4.6 1 3.7 1 11.6 1 10.9 1-2.6 1 .7 1 4.5 1-6.2 1 .5 1 2.2 1-1.7 1 6.4 1 6.4 1 2.3 1 6.3 1 6.5 1 4.4 1 2.7 1 10.1 1-8.3 1 6.2 1-4.3 1 6.8 1-2.9 1-.8 1 13 1 5.4 1-1.1 1-3.1 1 17 1-6.5 1 6.3 1 8.1 1 .2 1 7.6 1-6 1 8.8 1-1.1 1-3.3 1 4.9 1 10.3 1 3.5 1 2.1 1-.7 1 3.5 1-7.4 1 4.2 1-7.9 1-1.5 1 9 1 2.6 1-5.3 1-4 1-2.8 1 4.6 1 7.3 1 4.2 1-6 1-5.1 1 5.4 1 18.2 1 .6 1-3 1 1.8 1 .7 1-2.3 1-2.6 1 4.1 1-2.7 1-3.4 1 13.1 1 0 1-4 1 21.4 1-5.6 1 5.3 1 5.2 1-1.5 1-3.6 1-3.7 1 13.1 1 10.4 1 1 1 .2 1-11.8 1-2.6 1 5.2"/><path vector-effect="non-scaling-stroke" d="M0,573.9l1-7.1 1 3.8 1 12.3 1-4.1 1 11.1 1 3.2 1-4.3 1 1.7 1 4.2 1 4.7 1 5.7 1-10 1 8.4 1 4.1 1-2.3 1-4.1 1-.4 1-2.7 1 3.7 1-2.9 1-7.9 1 5.7 1-2.4 1-.7 1-6.2 1 10.9 1-9.7 1-6.9 1 .7 1 10.7 1-1.1 1 1.1 1 1.2 1-4.2 1-2.6 1 8.1 1-3.3 1-11.4 1 9.9 1-.4 1 1.7 1-13.8 1-7.3 1-6.4 1 4.5 1 1.2 1-2.8 1-2.4 1-4.1 1-5.8 1-9.6 1 11.8 1 5.2 1-10.7 1-1.1 1-8.5 1 .9 1 1.6 1-3.7 1 .7 1-15 1-5.6 1 11.9 1 5.7 1 1 1-5.7 1-9.5 1 1.2 1 1.6 1-.7 1-6.7 1 2.9 1-8.6 1-2.3 1 7.7 1 4.1 1-14.2 1-10 1-2.6 1-6.8 1-.4 1-1.3 1-4.3 1-.1 1-4.7 1-4.1 1-3.1 1 .6 1-4.7 1 .8 1-6.1 1 5.3 1-1.1 1-4.9 1 5.5 1-1.4 1-9.4 1-11.3 1-2.3 1 1.2 1-1.3 1-6.9 1-2.9 1-1.8 1 .9 1 4.1 1-8.8 1-5 1-4.5 1-.2 1-3.7 1 .9 1-9.1 1-4.7 1-2.4 1 3.4 1-3.4 1 1.7 1 .5 1-7.6 1 4.1 1-4.9 1-4.6 1 2.3 1-4.8 1 4.2 1-1 1-6.8 1-8.9 1 2.7 1-.4 1 2.4 1 2.2 1-8.3 1-.8 1-4.7 1-1.8 1-5.5 1-.1 1 0 1-6.8 1 .1 1-5.6 1 3.1 1-5.1 1-6.3 1-2.1 1 3.3 1-11.7 1-4.6 1-5.6 1 3 1 1.7 1-3.4 1-5 1-4.2 1 3.8 1-1.6 1 .6 1 2.6 1-5.1 1-4.3 1 7 1 .4 1-.8 1-3.9 1-.4 1 1.5 1-3.5 1-1.1 1-2.4 1-2.4 1 4.6 1-5.8 1 1.5 1-8.5 1-1.6 1-3.7 1-1.1 1-5.8 1 5.9 1-4 1-2.3 1 6 1 4 1-3.9 1-3 1 2.2 1 6.8 1 0 1 1.5 1 1.4 1-6.1 1-1.5 1 3.1 1-5.8 1 3.8 1-1.5 1 2.7 1 4.2 1-5.3 1-2 1-4.8 1 4.7 1 0 1-3.1 1-8.1 1 5.1 1-.2 1-1.5 1 1.7 1 .2 1-1 1-.1 1 8.1 1 13.1 1-5.4 1-5.3 1-3.5 1 1.4 1 2.5 1-1.2 1 3.8 1 4.5 1-4.4 1 .5 1-3.7 1 3.5 1 8 1 1.1 1-3.5 1 4.8 1 0 1-.3 1 1.3 1 4.1 1 4.9 1-4.4 1 5.3 1 2.9 1 7.8 1 7.5 1-2.5 1 5.4 1 2 1 3.1 1 6.9 1-.6 1 2.9 1 7 1 1.3 1-1.2 1-1.2 1-2.7 1 6.6 1 .9 1-6.2 1 7 1 2.8 1 3 1 2.2 1 2.9 1-5 1 2.8 1 8.2 1 11.1 1-2.6 1 3.5 1 8.4 1 1.4 1 3 1 2 1 3.6 1 8.8 1-.1 1 1.7 1 2.4 1 .1 1 2.1 1-1.9 1 9.5 1-4.7 1-.6 1 2.8 1-1.2 1 1.3 1 2.1 1 6.5 1 .7 1 2.3 1-3.9 1 7.6 1 5.9 1 7.1 1 6.2 1 3.4 1 2.7 1 4.9 1 13 1 8.1 1-5 1-3.6 1-2.7 1 10.3 1-.8 1 1.8 1 5.2 1-.5 1-4 1 2.4 1 6 1-6.4 1 10.7 1 10.6 1 1.8 1 1.9 1-.6 1 5.1 1-9.2 1 3.6 1 3 1-6.6 1 5 1 6 1 8.2 1 2.6 1-.9 1 1.1 1 6.5 1 1.3 1 1.3 1 2.5 1 6.5 1-10.4 1-2.6 1 4.3 1 4.5 1 12.3 1 1.5 1-.9 1 2.6 1 1.5 1-7.4 1-3.2 1 11.4 1 1.7 1 3.8 1 3.8 1 2.1 1-1.3 1-1.6 1 4 1-6.2 1-3.8 1 5.6 1 13.1 1 12.3 1-2.5 1-14.1 1 .6 1-3.6 1 6.1 1-9.2 1-8.9"/><path vector-effect="non-scaling-stroke" d="M0,590.2l1 2.3 1 5.2 1-13.2 1 1.8 1 7 1 4.8 1-.1 1 7.7 1-5.3 1-2.2 1-5.6 1 8.2 1-1.1 1-6.7 1 .9 1 2.9 1-8 1 7.3 1 6.3 1 5.6 1-4.1 1 4.3 1-15 1-8.7 1-3.2 1-2.1 1-4.4 1-5.1 1 7.2 1-2.7 1 4.2 1 1.4 1 5.1 1 3 1 2.9 1 5.1 1-1.9 1-7.4 1 3 1-4.4 1-1.3 1-16.5 1-1.2 1 3.8 1 10.6 1-8 1 4.5 1-2.9 1-5 1-8.3 1 5.6 1-1.4 1 6.2 1-14.8 1 4 1 1 1 4.4 1-8.9 1-.1 1 10.5 1-11.9 1 4.4 1-1.5 1-11.6 1-12.4 1-1.9 1 9.3 1 2.1 1-12.7 1-2.6 1-5.5 1 1.3 1-4.2 1-6 1-1.1 1-13.8 1 2.6 1-1 1-9.5 1 0 1-2.4 1-4.9 1-12.6 1 3.3 1-2 1 2.3 1 10.7 1 .5 1-2.9 1-10.3 1 1.2 1-1.5 1-.9 1-2.7 1-1.7 1-10.3 1-8 1-9.1 1 .5 1-7.3 1-3.7 1-10.8 1 8.4 1 3.7 1-2.1 1-2.4 1-3.8 1 2.7 1 1.4 1-10.8 1-8.7 1 4.5 1-3.7 1-4.8 1 7.5 1-6.5 1-.1 1 1.4 1-5.6 1-.8 1 .8 1 2.5 1 .4 1 .2 1-8.9 1-7.5 1 2.1 1-2.5 1-.2 1 7.2 1-1.9 1-3.4 1 10.6 1-7.6 1-3.8 1-1.5 1-2.9 1-7.5 1-1.2 1-1 1-5.9 1-2.5 1-5.3 1-11.2 1-.4 1-8.6 1 2.4 1-4 1-1.3 1-4 1-6.2 1 5.4 1 .9 1-4.8 1 2.2 1 .4 1-4.1 1 0 1-2.6 1 .9 1-3.4 1 .3 1-2.1 1-1.4 1-4.1 1 9.5 1-6.3 1-.1 1-1 1-4 1-7.3 1-1.4 1 .8 1 4.2 1-2.8 1 .6 1-2.7 1-1 1 3.8 1-8.2 1 .7 1-3.8 1 4.4 1 2.1 1 3.6 1 1.3 1-2.1 1-5.5 1-1.1 1 1.1 1 0 1 5.9 1 1.5 1-2.8 1 .1 1-3.3 1 1.2 1-1.5 1-3.2 1 1.7 1-7.1 1 2 1-2.7 1 .7 1-2.5 1 4.5 1-2 1 5.5 1-11.3 1-.3 1 6.7 1 6.3 1-6.1 1-2.9 1-2 1 5.4 1 3.5 1 1.6 1 5.9 1 1.2 1 4.6 1-1.3 1-3.1 1 1.3 1-.8 1-6.3 1 6.5 1 1.8 1 3.1 1 1.2 1 3.2 1-6.6 1 .6 1 3.5 1-6.4 1 5.1 1-4.9 1 9.9 1 5 1 2.1 1-3.5 1 9.3 1 2.3 1-.6 1-3.7 1 4.1 1 6.7 1 1.1 1 5.9 1 .7 1 4.1 1 2.6 1-3.4 1 1.8 1 1.5 1 4 1 2.4 1 5.1 1-.3 1 6.7 1 2 1 7 1-1.9 1-.9 1 3.2 1 3.6 1 .7 1 1.1 1 7.5 1 4.5 1 1.2 1 4.5 1 4.7 1 1.4 1 .1 1-.8 1 2 1 6.1 1 2.2 1 5.8 1 10 1 5.5 1 3 1-2 1 4.5 1 2.5 1 .2 1 4.2 1-1.1 1 2.5 1 10 1-3.4 1 4.6 1-6.6 1 7.9 1 2.6 1 3.5 1 7.9 1 1 1 1.5 1 2.5 1 5 1-6.8 1 1.1 1 5.6 1 5.3 1 5.3 1 0 1 3.7 1 .9 1-1 1 2.4 1-1.3 1 8.1 1-.1 1-.5 1-2.6 1 9.3 1-.7 1-1.9 1 4.3 1-5.8 1 9.2 1-1.9 1 10.2 1 2.6 1 2.6 1 2.2 1-4.8 1 1.9 1-4.5 1 17.6 1-2.7 1-2.8 1 2 1-8.5 1 0 1 1.1 1 8.9 1 5.1 1 3.9 1-1.5 1 9.7 1 1.8 1 1 1-2.2 1 0 1 1.6 1-4.9 1 7.4 1-3.1 1 1.9 1 8.3 1-5.4 1 2.1 1-2.7 1 1.9 1 3.7 1-6.6 1 .8 1 3.2 1-1.9 1-4.7 1 5.7"/><path vector-effect="non-scaling-stroke" d="M0,611.7l1-8.4 1 10.3 1 7.4 1-4.7 1-2.7 1-6.8 1-.7 1-12.3 1 3.2 1 4.8 1-11.3 1 11.9 1 11.5 1-12.2 1-4.1 1-8 1 17.3 1 5.8 1-6.3 1 3.7 1-13.7 1-.1 1-1.7 1-2.6 1-1 1 3.4 1-2.2 1 4.9 1-8.2 1 1.1 1-4.9 1 4.6 1-3.4 1 5.6 1 2.6 1-1.9 1 5.3 1-8 1-.8 1-7.9 1 3.4 1 0 1 5.5 1-5.9 1 3.6 1 7.9 1-1.4 1-1.5 1-5.7 1-2.9 1-6.7 1 10.7 1-7.7 1-9.5 1 2.2 1-2.1 1-4.6 1-6.5 1 1.8 1 13.4 1 1.7 1-.7 1-.3 1-1.5 1-3.4 1-6 1 3.5 1-9 1-2.7 1-8.2 1 3.5 1-13.4 1-1.5 1-3.5 1-.4 1-7.4 1-4.7 1-1.3 1 2.9 1-3.6 1-9.7 1 3.8 1-7.9 1 6.4 1-4.7 1 11.1 1-7.5 1-10.8 1 2.6 1-4.2 1-.4 1 2.7 1-6.2 1-9.5 1-.3 1-4 1-3.6 1-.8 1-9.7 1 1 1-8.8 1 2.8 1-4.5 1-1.3 1-7 1-4.4 1-.6 1-4.1 1-7.6 1 2.7 1-7.1 1-5 1-8.1 1 2.4 1 2.9 1-8 1 1.8 1 4.5 1 4.4 1-7.1 1-16.3 1 1.7 1 1.7 1-1.9 1-1.6 1-4.4 1 3.8 1-1.6 1-12.6 1 4.8 1-9 1-5.5 1-1.3 1 1.1 1 2.5 1 1.4 1-3.7 1-1.9 1-.2 1-6.8 1 5.3 1-4.4 1-4.9 1-.9 1 4.5 1-5.4 1-3.1 1-1.8 1-3.9 1 .1 1-4 1-1.4 1 .2 1-2.9 1-.1 1-2.4 1 3.8 1-8.3 1-6.2 1 1.9 1-8.7 1 7.1 1-10.5 1 .6 1-2.5 1 1.4 1-4.6 1-.3 1 3 1 4.2 1-2 1 .8 1-3.3 1 2.1 1-5.2 1-3.5 1-2.2 1-1.4 1 0 1-1.7 1-2.9 1 .2 1-4.4 1-4 1 3.1 1-2.5 1-2.6 1 .6 1 4.9 1 4.9 1 3.9 1-8 1 5.2 1 3.1 1-3.1 1 5.3 1-3.9 1 7.6 1-4.8 1-1.6 1-3.1 1 3.8 1-1.3 1 1 1 2.9 1-1.1 1-2.6 1 3.5 1-1.3 1-.5 1 .3 1-11.6 1-2.5 1 2.3 1 10.4 1 7.2 1-4.8 1 2.6 1-2.7 1 2.6 1 1.5 1 4.9 1 .4 1-2.1 1-10.3 1 11.4 1 8.4 1 2.9 1 3.9 1-6.7 1-4.8 1 1.9 1-.7 1 2.3 1-3.2 1-1.5 1 8.6 1 2.2 1 3.4 1 4.4 1 7.5 1 2.9 1 4.2 1-.7 1 2.6 1 .3 1 3.9 1 2 1 5.1 1 .3 1-4.2 1 7.3 1 .2 1 3.4 1-1.5 1 3.5 1 7.2 1-4.5 1 4.1 1 3.3 1 5.6 1 13.3 1-3 1-1.4 1-.2 1 7.5 1-2.8 1-4.4 1 8.9 1 9 1-5.7 1-.9 1 .9 1 13 1 1 1-.8 1 7.6 1 4.7 1-6.8 1 11.3 1-2.7 1 6.3 1 3.1 1-.9 1 5.5 1 2.1 1 1.6 1 2.6 1 10 1 6.6 1-.8 1 8.2 1-2.6 1-7.4 1 1.4 1 5.5 1 1.9 1 9.5 1-5.5 1-1.5 1 7 1-1.1 1 1.1 1 1.7 1 2.8 1 2.8 1 3.8 1 2.6 1 3.6 1 3.3 1-4.2 1-2.3 1 12.1 1 1.6 1 1.8 1 5.7 1 1.4 1 5 1-1.9 1-4.9 1 5.8 1 1.8 1 5.6 1 1.1 1-1.6 1 1.9 1 1.2 1 4.4 1-.7 1 4.6 1 11.4 1 4.2 1-1.7 1-4.2 1 5 1 1.8 1-2.3 1 .7 1 6.1 1 1.3 1 13.5 1 3.2 1-.3 1-1.4 1-8.3 1 5.9 1 7.1 1 5.6 1-7.2 1 1.8 1-1 1 1 1-1.8 1 4.7 1 9.8 1-13.1 1 4 1 9.5 1 .2 1 8.1 1 13.9 1-1.7 1-9.6 1 4.6"/><path vector-effect="non-scaling-stroke" d="M0,586.7l1-1.3 1-1.5 1-4 1 5.4 1 8.7 1-7.4 1 7.4 1 6.7 1 5.5 1-2.2 1 13.4 1-1.9 1-11.6 1 3.6 1-8.4 1-6.6 1 2 1 2.5 1 3.8 1 1.9 1 1.6 1-4.1 1-9.2 1-3.2 1 5 1-11 1 .4 1-6.2 1 5.6 1-1.2 1 .2 1 1.5 1-5.3 1-.5 1-5.3 1 .6 1 .7 1-1.2 1-3 1-5.2 1 9.8 1-1.1 1 2.3 1 1.3 1 1.9 1 1.3 1-3.4 1-4.5 1-.7 1-3 1-14.5 1 4.5 1-4.2 1 1.2 1 .1 1 5.3 1-.2 1-6.7 1 3 1-3.1 1 1.2 1-2 1-4.6 1-12.9 1 6.7 1 9.8 1 .9 1-14 1 1.4 1 7 1 .8 1-6.7 1-4 1-12.2 1 4 1-2.6 1-6.6 1-5.4 1-1 1-5 1-3.1 1-.4 1-3.6 1 1.9 1-5.3 1-17.9 1-1.9 1 4.1 1-7.1 1-6.7 1 3.1 1-3.7 1 .2 1 .4 1-4 1-11.3 1-10.9 1-6.9 1 .5 1-3.8 1-.2 1-4.4 1-1.9 1-4.7 1-.8 1 4 1-1.4 1-4.7 1 5.2 1-2.9 1-.1 1-5.9 1-3.3 1 3.1 1 1.4 1-10.5 1 4.1 1-14.1 1-12.5 1 1.9 1-.8 1-1.9 1 3.4 1-1.2 1-2.3 1 2.9 1-6.4 1-4.3 1 5.9 1-3.2 1 8.5 1-7.5 1-5.1 1 .7 1 .3 1-2.9 1 4.3 1-3.2 1 1.1 1-5.4 1-7.8 1-3.2 1 1 1-3.7 1 .1 1-8.4 1 1.7 1-9.7 1 4 1-3.5 1 .1 1-5.6 1-.7 1-5.7 1-5.7 1 1.8 1 2.7 1-4.4 1-2.6 1-3.2 1-3.6 1-1.2 1-6.5 1 7 1 2.7 1 0 1-.3 1-5.3 1 .9 1 .4 1-.4 1-3.8 1 2.5 1-5 1 3.4 1 0 1 5.9 1-3.7 1-4.9 1-6.2 1 9.3 1-1.2 1-2.4 1-1.6 1-1.5 1-2.9 1-1.5 1-1.2 1-10.8 1-1.5 1-2.2 1 2.5 1 .8 1-2.2 1 2.3 1-3.6 1 .9 1-.8 1-5.1 1 .9 1 6.3 1-4 1 .4 1 1.8 1 1.2 1-8.1 1 7.9 1 4.3 1-6 1-2 1-3.9 1 .9 1 4.6 1 1.7 1 1.4 1 1.7 1-6.3 1-.6 1-.3 1 5.4 1-4.4 1 1 1 6.7 1-1.7 1 1.1 1 9.2 1-11.7 1 2.6 1 6.5 1-3.2 1 .4 1 1.8 1 7.9 1-3.2 1-.2 1-.6 1 2.4 1 2.6 1 7.1 1 3.6 1 .3 1 2.4 1 6.2 1-2.7 1 4 1-.8 1 6.7 1-2.9 1-4.9 1 10.1 1 .9 1 1.8 1 8.5 1 3 1 2.5 1 4.3 1-2.6 1 2.3 1 7.4 1 7.4 1-6.5 1-1.6 1 3.8 1 2.6 1 14.2 1 .5 1-2.4 1 7.3 1 1.8 1 5.7 1 8.5 1 .6 1 4.6 1-3.4 1 3.6 1 .3 1 8.6 1 1.1 1-.8 1 4.5 1-1.1 1 6.3 1 10.2 1-4 1 5 1 .9 1-.3 1-3.5 1-.5 1 4.8 1 4.4 1 7.6 1 6.9 1 1.1 1 .2 1-3.3 1 1.1 1 10 1 7 1-.4 1 5 1 4 1-1.5 1 .2 1 4.6 1 4.1 1 3.6 1-2.1 1 4.6 1 5.7 1-.6 1 3.9 1 8.9 1 1.8 1-.2 1-2 1 2.4 1 0 1 4.9 1 5 1 3.1 1-2.2 1-1.4 1 2.4 1-2 1 7.9 1 12.1 1 4.1 1-3.6 1 3.2 1 1.6 1 13.4 1-5.4 1-5.4 1-4.1 1 6.9 1 3 1 9.8 1-3.1 1 2.5 1-4.7 1 10.3 1-3.1 1 4.4 1-8.3 1 5 1 4.3 1-1.9 1 7.2 1-.1 1-1.9 1-4.1 1 10.4 1 .3 1-1.9 1 .8 1 11.7 1-10.1 1-4.4 1-1 1-10.2 1-10.6 1 6.9 1 7.4"/><path vector-effect="non-scaling-stroke" d="M0,608l1 8 1-12.7 1 5 1-9.8 1 9.8 1-5.5 1 3.1 1 2.2 1-2.7 1 5.5 1 5.6 1 8 1-15 1-5.1 1 9.7 1-9.8 1 12.2 1-16.4 1-1.8 1 11.7 1-3.8 1 4.7 1-.6 1 8.4 1-5.7 1-5.6 1 .1 1-5.2 1-8.6 1-10.5 1 8.5 1 1 1-6.2 1-5.3 1-8.8 1 8.3 1-2.1 1-3.8 1 8.5 1 1.3 1-7.2 1-17.2 1-2 1 1 1-4 1 4.1 1 10 1-7.3 1 .7 1-7.5 1 3.5 1-.5 1 0 1-4 1 3.4 1-2.9 1-.3 1-.1 1 4.1 1-7.7 1 1.5 1-4.7 1 2.1 1-6.5 1 7.7 1 1.7 1-12 1-2.1 1-15 1 .5 1-7.7 1 12 1-13 1 16.9 1-3.4 1-8.2 1-9.3 1-5.1 1-6.2 1-2.3 1-5.9 1-1.1 1 8.9 1 5.7 1-19.8 1 1.2 1-1.3 1 0 1-7.1 1-2.2 1 4.5 1-1.6 1-9.1 1-.5 1-8.9 1-7.1 1-2.9 1-13.2 1 2.8 1-11.4 1 3 1 9.3 1-3.9 1-4 1 4.3 1 3.9 1-10.1 1 5.7 1-9.1 1-8.1 1 .3 1 .3 1 1.9 1-5.1 1 7.5 1-9.3 1-4.9 1-1.8 1 5 1-6.1 1-3.8 1-2.8 1 1.3 1 .7 1-1.8 1 3.6 1-5.9 1-1.6 1-6.2 1 2.3 1-3.6 1 4.3 1-6 1-7.9 1-5.3 1-.1 1-3.7 1-3.5 1-8.3 1-5.4 1-6.9 1 9.5 1 2.4 1-.9 1-1.1 1-5.1 1-.5 1-.6 1 3.8 1-3.3 1-2.7 1-3.8 1-5.9 1 1.3 1-.1 1-5.2 1-8.6 1 1.6 1-1.2 1-3.5 1 1.5 1 .9 1-.5 1 .8 1 1.1 1 .2 1-4.4 1-.1 1-1.9 1-10 1 .6 1-.4 1-.7 1-1.5 1-6.9 1 4.1 1-5.8 1 4.1 1 5.3 1 .1 1-6.4 1-1.9 1-3 1 3.5 1 1.7 1-3 1-5.8 1 8.2 1 1.8 1 1.1 1-2.8 1 3 1 1.1 1-8.5 1 .4 1-1.1 1-1 1 3.8 1-4.8 1-2.3 1-6.5 1-3.2 1-.6 1 2.4 1 .4 1 1.1 1-8 1 .5 1 5.5 1 4.6 1 .9 1 0 1 3.2 1-1.7 1 1.4 1 1 1 1.9 1 .9 1 3.4 1-2.5 1-1 1 9.5 1-7.6 1 4.7 1-2.7 1 3.7 1 10.6 1-1.5 1-8.5 1 .5 1 4 1 4.9 1-4.2 1 6.7 1-2.7 1 5.4 1-.9 1 4.1 1-1.7 1 1.5 1 4.3 1 1.2 1 3 1 3.6 1 7.4 1 .7 1 4.7 1 8.5 1 4.5 1 3.5 1 .3 1-3.4 1 4 1 .5 1 2 1-1.9 1 6 1 6.4 1-5.5 1 .5 1 8 1 10.1 1 2.2 1-6.3 1 .4 1-2.1 1 7.1 1 10 1 1 1 5.2 1-.3 1-7.9 1 11.4 1 3.7 1 1.9 1 3.3 1 .7 1 3.6 1 1.3 1-4.5 1 5.9 1 7.6 1-.3 1-1.6 1 2.2 1-.2 1 8.7 1 10.4 1 1.2 1 5.8 1 1 1 1.3 1 4.5 1-6.1 1 11.4 1-6 1 5.3 1 7.7 1 3.6 1 5.7 1 7.6 1 6.7 1 8.9 1-1.4 1 .5 1 2.1 1-1.3 1-4.4 1 3 1-6.5 1 12.4 1 6.2 1-.2 1-5.8 1 3 1 11.8 1 .2 1 6.2 1 1.6 1 2.2 1-.1 1-.7 1 6.7 1 0 1 6.2 1-3.1 1-1.1 1 6.6 1 1.8 1 5.4 1 .4 1-6.3 1-2.8 1 3.9 1 8.1 1 7.6 1-2.7 1 10.2 1-.9 1 7.3 1-6.1 1 5.1 1 .3 1 1.5 1-3.4 1 .4 1-4.6 1 4.4 1 5.4 1-5 1-.2 1 5.4 1 2.9 1-.2 1 1.4 1-.3 1-3 1 9.8 1-1.5 1-1.2 1-2 1-1.3 1-5.6 1 14.5"/><path vector-effect="non-scaling-stroke" d="M0,615.3l1 6.6 1 2.4 1-5.5 1 8.7 1-11.8 1 .7 1-.5 1-1.5 1 8.6 1-12 1-.4 1 .5 1 1.6 1-9.4 1-4.6 1 3.2 1 1.8 1-7.3 1 .7 1 5.2 1 3.3 1-7.6 1-4.1 1 7.6 1 6 1-1.2 1-.4 1 6.6 1-1.7 1-2.7 1-7.8 1-2.2 1-5.9 1 7.9 1 2.2 1-4 1-10.6 1 .6 1 1.7 1-2.7 1-12 1 11.6 1 2.9 1-15.8 1 0 1 2.1 1 3.1 1-15.1 1 1.2 1 1.2 1-3.8 1-4.2 1-4.1 1-10.5 1 2.6 1 3.1 1-5.7 1 4.6 1-1.8 1 .4 1-19.3 1 5.2 1 4.6 1 3.1 1-6 1 6.6 1-9.8 1 8.3 1 1.8 1-6.5 1-12.6 1 4 1 4.4 1-15.7 1-.5 1-8.1 1-7.1 1 3.3 1-14.3 1-8.7 1 13.6 1-1.3 1-1.9 1-.7 1-6.6 1-.6 1-9.8 1-4.3 1 7.8 1-4.9 1-10.8 1-2.1 1 2.5 1 8 1 10.4 1-6.2 1-7.1 1 2.8 1-5.8 1 8.4 1-13.7 1-4.1 1-3.4 1-7.4 1 .6 1 1.5 1-10 1-3 1-3.8 1-11.2 1-1.6 1 3 1 .3 1 1.1 1 4.7 1-1.9 1-.9 1 5.1 1-6.5 1-8.8 1-9.8 1 7.3 1-8.1 1-.9 1 1.4 1-6.9 1-2.4 1-4.1 1-1.5 1-7 1 .5 1-.2 1-7.6 1-5.9 1 11.3 1-.9 1-7.4 1 6.9 1-8.8 1-3.2 1-1.6 1-8.5 1 1.7 1-10.4 1-.9 1-5.2 1-5.8 1-.8 1 7.7 1 3.1 1-1 1-2.1 1 .1 1-.6 1-1.6 1-1.5 1-6.3 1 1.9 1 .8 1-6 1 3.3 1-7.9 1 0 1-2.8 1-8 1 2.9 1-2 1-4.1 1-.6 1 3 1-6.2 1-3.8 1 2 1 5.6 1-1.8 1 1.7 1-1.6 1-6.8 1-1.1 1 1.4 1-2.3 1 1.1 1 1.3 1 1 1-7 1 .7 1-3.4 1 2.2 1 7.3 1-1.7 1-3.9 1-4.1 1-1.4 1-1.3 1 1.1 1 1.5 1-2.3 1-2.9 1 7.1 1 0 1-1.4 1 4.4 1-5.1 1-1.1 1-.6 1 .2 1-2.9 1-2.7 1 1.5 1-5.8 1-.3 1 3.7 1 2.9 1-1 1 8.4 1 .5 1-3 1-1.3 1 3.1 1 4.1 1 4.4 1 .3 1-1.3 1-11.3 1-3.9 1-1.4 1 7 1-.1 1 .1 1 2.2 1 10.9 1-2.1 1 4.5 1 2.8 1 5.4 1 1.8 1 2 1-.2 1 2.3 1-1.2 1 9.4 1 2.5 1-1.8 1 2.5 1 3.7 1 .6 1 2.8 1 3 1 8.7 1-.2 1-3.3 1 2.3 1-1.7 1 6.1 1-1.2 1 8.4 1-2.8 1 9.4 1-5.1 1 4.5 1 4.8 1 5.8 1 1.1 1 8.4 1 1.2 1 2.5 1 7.1 1-.6 1 7.3 1 2.7 1-3.2 1 10.9 1 5.4 1-5.8 1 8.9 1 4.1 1 4.9 1 5.6 1 1.9 1-1.9 1 4.8 1 2.2 1 5.6 1-.9 1 1.8 1 2.2 1 5.8 1 .5 1 10.3 1-4.3 1-7 1 2.6 1 1 1 1.8 1-3 1 1.7 1 5.7 1 6.6 1 3.4 1 4.2 1 5.5 1-6 1 6 1 3.8 1 6.2 1 4.7 1 4.5 1 2.8 1 4.5 1 8.6 1-2 1-9.5 1 4.1 1 8.5 1 3 1-2.6 1-2.8 1 3.2 1 1.9 1 2 1 5.3 1 2.1 1 7.2 1 7.3 1-8.1 1 9.9 1-2.5 1-7.7 1 1.1 1 4.5 1 6.4 1 4.6 1-1 1-3.3 1 .6 1-.6 1-6.8 1 9.7 1 8.7 1 .5 1 11.3 1-4.9 1 7.9 1-.7 1 4.9 1 2 1 2.4 1 0 1-3.6 1 10.6 1-5.4 1 8.9 1 2.9 1 1.5 1 1.5 1-4 1-1.4 1 9.9 1-5.6 1-4.8 1-8.9 1 3.1 1-6.5 1 8.3"/><path vector-effect="non-scaling-stroke" d="M0,583.2l1-.2 1 5.9 1-3.4 1-4 1 4.2 1-.8 1 1.6 1 1.4 1-7.5 1 4.8 1 4.1 1-3.5 1 2.4 1-1.1 1-2.5 1 10 1-3.6 1-1.8 1 .5 1 3.2 1 7.2 1 0 1-9.3 1 6.7 1-.7 1-6.8 1-.4 1-11.9 1 5.1 1 2.3 1-9.3 1-6.2 1 .5 1 1.4 1-2.9 1 2 1 8 1-.1 1 0 1 6.7 1-5.5 1 1.2 1-8.3 1-1.9 1 .4 1 12.4 1-20.7 1 .7 1-3.2 1-4.8 1 8.6 1-5.2 1-.7 1-.3 1 .1 1-5.4 1 .7 1 7.7 1-1.3 1-2.4 1-6.9 1 6.4 1-10.3 1 3.9 1-6.7 1 .8 1 8.7 1 3.2 1 3.1 1-3.1 1-12.1 1-7 1-1.7 1-7.1 1-3.9 1 4.1 1 1.4 1-2.8 1-5.5 1-3.7 1-1.4 1-9.9 1-1.9 1-2.4 1-4.8 1 2.5 1 10.4 1-11.8 1-15.7 1-3.4 1 2.4 1 4.5 1-4.3 1-7.4 1-1 1-9.5 1 1 1-7.5 1 9.7 1-3.1 1 3.3 1-7.6 1-.9 1 1.7 1-7.2 1-2 1-2.9 1-7.7 1-6.1 1-4.8 1 3.8 1-.3 1-6.8 1-12.1 1 4.1 1-4 1-4.3 1-1.6 1 7.3 1-2.6 1-5.2 1-5.1 1-4 1-9.9 1 5.7 1-3.1 1-3.2 1 7.8 1 1.5 1-2.9 1-12 1-9.7 1-.5 1-1.2 1 6.2 1-5.8 1 1.1 1 2.1 1-9.1 1-4.5 1-3.3 1-7 1-4.6 1 2 1-5.2 1 5.3 1-6.5 1-1.6 1-13 1 7.8 1 5.1 1 1.1 1-.2 1-9.2 1-.8 1-4 1-7.2 1 3 1 1.1 1 .1 1-1.8 1-6 1 4.3 1-5.3 1-8.2 1 2.9 1-3.9 1 .9 1 .1 1 .4 1-.6 1-4.3 1-1.2 1-1.9 1-4.7 1 4.5 1 0 1-.1 1-5.9 1-3.2 1 3.6 1-5.8 1-3.5 1-.1 1-.2 1 1.5 1 2.6 1-6.9 1-2.6 1-8.8 1 3.4 1 1.7 1-4.1 1 5.7 1 4.4 1 1.3 1 1.9 1-4.1 1 3 1-2.4 1-1.7 1 .2 1-.1 1-1.7 1 6.5 1-5.5 1 5.9 1-3.7 1 5 1 2.1 1-3.6 1-.4 1-3.9 1 3.8 1-2.2 1 2.5 1 1.7 1 .9 1 2.6 1-5.1 1 4.8 1 3 1-2.4 1-.8 1 4.4 1-5 1-.2 1 .2 1 6.3 1 3.1 1-2.8 1 .1 1-.4 1 4.4 1 6 1-.7 1 5.9 1 3.7 1 5.5 1 4.2 1 2.5 1 1.3 1-.2 1 3.3 1-1.4 1 2.7 1 .8 1 1 1 0 1 4.4 1 4.1 1 3.8 1-1.9 1 4.4 1 1.8 1 .4 1-2.5 1 5.9 1 .1 1 6.9 1-1.4 1 .1 1-.9 1 5.7 1 .3 1 3.3 1 3.6 1 .6 1 2.8 1 8.2 1 4.5 1 2.7 1 9.1 1-.2 1 .3 1 3.2 1-3.8 1 1.9 1 1.9 1 .7 1 16.2 1 4.3 1 4.1 1 3.6 1 7.6 1 2.5 1 5.7 1-.7 1 4.4 1-1.8 1 7.8 1-3.9 1 .8 1 7 1 .8 1 5.1 1 1.6 1 4.6 1 3.5 1 2.9 1 .8 1 4.3 1 0 1 6.7 1-.1 1-1.2 1 9.9 1 1.6 1 2.5 1 3.5 1-.9 1 4.1 1 4 1 1 1-4.9 1 3.4 1 12.3 1-2.7 1 3.4 1 6.4 1 5.5 1-.8 1 .4 1-.6 1 7.3 1-2 1-5.6 1 7 1-5.8 1 3.2 1 10.6 1 .8 1-5 1 4.9 1-6.3 1 9.8 1 .8 1 12.2 1-11 1 7 1 5.6 1-2.3 1 7.9 1-7.1 1-1.9 1 1 1-6.6 1 14.6 1 2.2 1 .8 1 14.1 1 6.8 1-10.3 1-6.5 1-3.1 1-5.1 1 .1 1-6.2 1 10 1 2.2 1-3 1-5.1 1 7.2 1 .1"/><path vector-effect="non-scaling-stroke" d="M0,593.6l1 .9 1 11.4 1-1.7 1-6.2 1 5.5 1 4.4 1-6 1 11.4 1 4.4 1-4.9 1 2.3 1 8.9 1-1.9 1 3.7 1 .5 1-7.3 1 3.4 1-14.2 1-.1 1 .5 1-12 1 10.5 1-10.8 1 4 1-3.2 1 1.8 1-5.7 1 0 1 4.3 1 10.4 1-10 1 5.2 1 5.6 1-1.7 1 .5 1-4.2 1-.6 1 2.3 1-4.7 1 6.8 1-4.9 1-1.2 1 3.2 1-3.9 1-1.7 1-1.6 1-2.9 1-6.8 1-3.7 1-6 1-2.3 1-6 1 10.3 1-1.3 1-1.3 1-2.8 1-4.4 1-2.6 1-3.5 1-4.7 1-10.8 1 .5 1-4 1-1.2 1 0 1 2.6 1 6.5 1-4.6 1-8.4 1 7.5 1 .5 1-5 1-5.6 1-5.3 1-1.3 1 1.6 1-11 1-7.8 1-1.9 1 4.5 1-2.7 1-5.2 1-4.8 1 1.6 1-8.3 1-2.8 1 1 1 2.8 1-8.1 1 2.4 1-7.4 1-5.3 1-1.3 1-.1 1-3.2 1 .6 1-4.6 1 4.4 1-3.6 1 .2 1-1.5 1 5.7 1-9.7 1-3.6 1-6.1 1-1.5 1-1.1 1 0 1-4.3 1-7.6 1 .7 1-5.5 1-2.7 1-3.7 1 2 1 1.7 1 .1 1-4.4 1-4.9 1 9.1 1-10.5 1 1.1 1-7.5 1-5.4 1-8 1 2.5 1-1.2 1 3.8 1-5.7 1-9.8 1-4.7 1-.9 1 0 1 2.1 1-.3 1-1.5 1-12.1 1 1.2 1-3.8 1-.5 1-8.1 1-4.3 1-.8 1-3.8 1-2.7 1-4.2 1-1.7 1-9.9 1-1.7 1-1.9 1 6.1 1-.2 1 .7 1-5.9 1-1.1 1-1.2 1-1.9 1-2.7 1-5.6 1-.6 1-2.5 1-2.3 1-.7 1 2.8 1-7.4 1-.8 1-3.2 1 4.8 1 3.5 1-2.9 1-6.8 1-1.4 1 .6 1-2.1 1 2.8 1 .4 1 .3 1-4.7 1-6.4 1-.4 1-1.3 1 1.3 1 5.6 1 4 1-5.5 1 3.2 1 .5 1-7.1 1 3.6 1-.6 1-3.2 1 1.4 1-4.8 1 4.2 1-4.7 1-1.9 1-1.8 1-2.5 1 .6 1 2.4 1-2.5 1 3.1 1 2 1 1 1-4.5 1 3 1 3.2 1-.8 1-2.8 1 1 1 .8 1 1.6 1 4.9 1-3.1 1-2 1 .8 1 1.1 1 7.4 1-2.6 1 2.3 1-.3 1 5.1 1-3.5 1 3 1-.4 1-1.4 1-.2 1 4.2 1-3.2 1 8.7 1 12 1-2.7 1-.3 1-2.1 1 .5 1 4.7 1-1.6 1 1.7 1 3.3 1-2.8 1 10.6 1-1.5 1 .3 1 4.3 1-.3 1 4.9 1 .2 1 4.4 1 7.3 1-3.9 1 4.7 1 7 1-.5 1 6 1-.3 1 3.2 1 3.9 1-2.9 1 4.4 1-.5 1 4.2 1 7.1 1 2.4 1 3.6 1 1.6 1-5.3 1 13.2 1 2.8 1 8.4 1 5.1 1-3.2 1 7.1 1 3.8 1-7.7 1 4.4 1 6.2 1 4.8 1 7.1 1 10.8 1 .3 1 8.1 1 .6 1-1.8 1 2.4 1 5.9 1-7.9 1-1.5 1 7.1 1 6.9 1-6.5 1 4.3 1 4.2 1-7.4 1-1.6 1 5.4 1 7 1 3.2 1-3.9 1 8.4 1-.2 1 11.6 1 2.6 1 5 1 4.7 1-1.4 1-1.5 1 4 1 4.6 1-.3 1-5.8 1 6.6 1 2.6 1-1.7 1-.5 1 1.3 1-2.3 1-2.2 1 5.4 1 13.4 1 4.7 1 .3 1-.6 1 4.1 1 3.8 1-3 1-5.3 1 13 1-4.6 1 10 1-1.3 1 1 1 3 1-7.7 1 9.8 1-5.9 1-6.4 1 9.2 1-2.2 1 8.8 1 7.3 1 5.4 1 8 1 .2 1-2 1 11.2 1-.7 1 7.2 1-7.5 1-2.2 1-10.6 1-1.8 1 7.3 1-4.9 1-1.2 1 7.2 1 8.5 1-.7 1-8.5 1-1.7 1-10.1 1 2 1-.2 1 3.1 1-.8"/><path vector-effect="non-scaling-stroke" d="M0,601.6l1 6 1 .1 1-9.8 1 .4 1 3.5 1 .3 1-7.4 1 2.4 1 .7 1 1.1 1 7.8 1-5.1 1-2 1-7.4 1 7.3 1-6.8 1 6.2 1 4.4 1-1.3 1 4.5 1 3.7 1 1.8 1-5.1 1 1.8 1-8.2 1-3.7 1 5.7 1-3 1-.9 1-6.1 1 .8 1-7.7 1 6.7 1-2.4 1-2.5 1-5.9 1-1.4 1 3.7 1 2.3 1-14.9 1 8.9 1 3 1-5.4 1 1.1 1 8.3 1 4 1-7.8 1-6 1 2 1-2.7 1-1.7 1-5.3 1-2.9 1-8.4 1 .3 1-7.9 1 7.3 1 .2 1-5.9 1 2.9 1-.4 1-6.8 1-1.9 1-15.8 1 1 1 1.6 1-1.8 1 2.9 1-10.9 1-7.7 1 2.5 1 4.8 1-1.2 1 1 1-8 1-4.9 1-8 1-5.6 1 12.9 1-10.6 1 2.1 1-9.7 1-4.9 1-4.7 1 .7 1-5.7 1-1.6 1-.4 1 2 1-.6 1-.2 1 1.1 1-8.1 1-7 1-4.1 1-.6 1-6.4 1-5.4 1 1.4 1 2.2 1-3.4 1-10.8 1 4.4 1-4 1 1 1 1.9 1-5.6 1-4.4 1-4.7 1 .7 1-1.1 1 .6 1-2.3 1-5.5 1 2.7 1-11.5 1-3 1 .8 1-8.9 1 5.8 1-2.4 1 .3 1-2.4 1-6.5 1 1.9 1 .4 1-7.7 1-1.7 1-3.5 1 4 1-11.8 1-1.7 1 4 1 .8 1-5.5 1 .6 1-.5 1-4.8 1-8.1 1-3.5 1-3.5 1 1.6 1-2.5 1-1.8 1 3 1-.5 1-1.9 1-4.5 1 .4 1-6.2 1-1.2 1-5.8 1 5.9 1-.6 1-3 1 7.3 1-3.5 1-6.6 1-2.5 1-6.6 1 .9 1 4.9 1-9.2 1-2 1 2.2 1 3.3 1-2.9 1-8.3 1 1.1 1 0 1-2.7 1 3 1-2.2 1 .6 1-6.3 1 2.5 1-1 1-4.8 1 4.7 1-4.2 1-1.6 1 4.4 1-4.7 1-.4 1 0 1 2 1-5.1 1 .7 1-.1 1-.4 1 8.1 1 .2 1-2.9 1-.1 1 1.6 1-4.1 1-4.8 1 1.7 1 1.9 1-6.9 1-2.3 1 3.1 1-3.6 1-.4 1-.5 1-.2 1 1.3 1-3.9 1 3.1 1 .5 1 3.3 1 4 1-.4 1-6.2 1 3.7 1-4.8 1-.4 1 9.6 1-.1 1-4.4 1 2.9 1-2.3 1 7.2 1 6.9 1-7.1 1-4.3 1 1.7 1 4.5 1-.6 1 6.3 1 6.7 1-1.1 1 1 1 1.3 1-3 1 3.1 1 3.4 1 5 1 2.1 1 7.9 1 7.1 1 1.3 1 5.4 1 .7 1 .1 1-.3 1 4 1 4.2 1 .3 1-.3 1 2.8 1 7.8 1-.3 1-1.7 1-8.7 1 8.2 1-3.8 1 2.6 1-5.6 1 5.3 1 6.5 1 5.8 1-4 1 3.3 1 3.2 1 4.1 1 4.3 1 1.8 1 6.3 1-3.6 1 2.2 1 4.6 1 5.5 1 2 1-2.2 1 3.4 1 2.2 1 7 1-1.6 1-.8 1 5.2 1 3.9 1-3.9 1 10.1 1 5.7 1-.5 1 .1 1 3.6 1-1 1 1.6 1 9 1 4 1 9.3 1 4.5 1 3.6 1-3.7 1 2.4 1-2.5 1 .4 1 10.9 1 3.2 1-.6 1 10.5 1-2.1 1 3.1 1 1.7 1 3.5 1 6.4 1-2.2 1 4 1 8 1-3.8 1-2.7 1 1.8 1 3.1 1 1.7 1-1.1 1 5.4 1 2.2 1-4.8 1 7.6 1 .1 1 2.5 1 6.7 1 6.4 1 2.5 1-3.1 1-.8 1 4.2 1-2.1 1-4.5 1-6.8 1-1.2 1 3.9 1 4.3 1-2.9 1 14.9 1 5.4 1 1.9 1 2.1 1 6.7 1-6.1 1 3.3 1 4.3 1-1.2 1 2.3 1 4.5 1 1.7 1 .6 1-2.3 1 1 1 1.9 1 6.7 1-6.3 1 5.4 1 6.7 1-5.8 1 4.7 1-4.2 1 8.5 1-1 1 .3 1-1.3 1-5.1"/><path vector-effect="non-scaling-stroke" d="M0,601.4l1-.2 1-2.2 1-1.5 1 3.4 1-9.3 1 13.7 1 8.3 1-6.6 1-4 1-5.9 1-5.7 1 6.7 1 2 1-2.9 1-1.1 1 2.1 1-.9 1 10 1-7.4 1 2.3 1-1.4 1-6.1 1-5.7 1 1.4 1-.7 1 4.1 1-8.6 1-1.6 1-3 1 9.4 1 2.2 1-15 1 3.4 1-10.4 1 5.6 1-3.4 1-6.3 1 1.9 1 4 1 8.5 1-6.5 1 7.5 1-7.2 1 2.9 1 .1 1 3 1-14.9 1-8.4 1-9.6 1 13.7 1 10.2 1 1.2 1-9.4 1-2.6 1-8.6 1 .8 1-1.2 1-6.7 1 7.7 1 4.1 1-15 1-5.4 1 7.3 1-3 1 10.1 1-13.7 1 1.4 1-1.8 1-6 1 .8 1-4.7 1-.4 1-7.1 1-14.3 1 1.8 1-7.9 1-6.8 1-3.2 1 .4 1-4.3 1 1.3 1 8.4 1-.9 1-1.3 1-3.9 1-1.2 1 5.7 1-6.8 1-4.1 1-6.5 1-11.6 1 3.9 1 5.4 1-9.2 1 1.1 1-9.5 1-3.2 1-6.4 1-5.5 1-4.8 1 .4 1-4.3 1-2.1 1 1.8 1-4.1 1 1 1-11 1 7.3 1-11.3 1-7.1 1-4.5 1 3.9 1-3.5 1 5.3 1 1 1-9.8 1-3.3 1-2.4 1 1.5 1-5.1 1 5.8 1-2.2 1 3.5 1-11.5 1 .5 1-1.8 1-.3 1-1.9 1-6.9 1 2 1-3.5 1-7.3 1 6.8 1-.2 1 .5 1 1 1-4.1 1-.9 1 3 1-2.4 1 1.5 1-7.6 1-4.6 1-3.5 1-1.8 1-6.1 1-4.7 1-2.8 1-4.5 1 3.2 1 2.3 1-7.4 1-1.6 1-4.6 1 .1 1-.3 1-7 1 .8 1 3.8 1-.4 1-3 1-1.6 1-2.5 1-9 1 3.7 1-3.1 1-6.3 1 6.9 1-.8 1-4.3 1 6.1 1-8 1 .3 1-2.4 1-3.9 1 3.1 1-.5 1 1.1 1-3.1 1-4.8 1 1.5 1-2.7 1-3.9 1-6.1 1 1 1 2 1 .6 1 1.7 1 .5 1-3.8 1-2.5 1 2.8 1 2.5 1 .7 1 .7 1-1.3 1-7.3 1-.8 1-9.7 1 4.4 1-1.1 1 2.8 1 1.6 1-8 1 1.8 1-1.4 1 .1 1-.3 1-.5 1 3.8 1 6.2 1-.8 1 .1 1 3.8 1 2.4 1 3.4 1-7 1 9.9 1 5.8 1-3.6 1-1.4 1 5.3 1-2.4 1-3.7 1 6.2 1 3.8 1-5.2 1 .4 1-2.8 1-2.6 1 10.6 1-2.2 1 6.1 1-10.6 1 13.5 1 1.4 1 12.5 1 1.1 1 .1 1 3.9 1-.4 1 2.2 1-5.8 1 10.1 1 1.1 1-4.6 1 1.5 1 5 1 2.9 1 8.6 1-2.8 1 2 1 2.4 1 1.3 1 4.7 1-4.5 1 1 1 2.3 1 1 1-2 1-1.1 1 11.5 1 5.5 1 5.9 1 7.4 1 7.2 1 2.2 1-2.9 1 4.5 1-2.1 1 .7 1 3.6 1 4 1 5.2 1-3 1 3.4 1 6.9 1-2.7 1-5.7 1 8.4 1 7.6 1-.2 1 9.1 1 4.8 1-1.9 1 4.4 1 7.1 1 7.7 1-2.4 1 7.5 1-4.6 1-4.6 1-6.1 1 9.8 1 1.5 1 5.7 1 .5 1 2.5 1-1.1 1 7.4 1 .1 1 5.7 1-.8 1-.1 1 4.2 1 5.2 1 .4 1-.2 1 7.6 1 12.1 1 .1 1-.3 1 3.1 1 7 1-2 1 3.3 1 3.4 1 7 1 1.6 1-2.6 1-4.6 1 7.6 1 5.3 1-8.5 1 3.1 1 5.1 1 5 1 10 1-1.6 1 7 1 5.1 1 3.9 1-1.6 1-7.3 1-3.9 1 1.2 1 5 1-.2 1 8.9 1 8.8 1-.9 1-1.4 1-5 1 5.2 1 4.5 1-.6 1 1 1-8.1 1 2.2 1-1.4 1 2.4 1 4.1 1-1.1 1 12.7 1 4.6 1-3.6 1-1.5 1-2.2 1-6.1 1-.9 1 6.6 1 9.3 1-4.7 1-1.2"/><path vector-effect="non-scaling-stroke" d="M0,616.8l1-.1 1 6.7 1-14.9 1-3.9 1-14.2 1-3.7 1 3.9 1 8 1-2.4 1 12.3 1-19.7 1 2.7 1 1.1 1 .3 1-6.7 1 10.8 1 .5 1 6.6 1-4.6 1-1.9 1-6.9 1 8.5 1-3.1 1-.4 1-2.5 1 6 1-1.6 1-1.2 1-1.7 1-5.6 1 7.6 1 8.6 1 5.6 1-10.5 1 .6 1-1.9 1-7.8 1 2.3 1-9.2 1-1.7 1 7 1 2.5 1-4.3 1 2.9 1-3.3 1-.9 1-5.6 1-2.9 1-7.5 1-1.3 1-7.3 1 .8 1-8.4 1 3.9 1-7.2 1 8.4 1-.5 1-12.6 1 .6 1-4.4 1 8.4 1 1.3 1-7 1-.8 1-2.1 1 1.4 1 1.2 1 2.4 1-9.2 1-3.4 1-3.6 1 4.8 1-9 1 1.4 1-1.9 1-1.6 1-11.3 1 2 1-7.5 1-3.4 1 3 1-3.8 1-4.3 1 3.5 1 1.6 1-5.3 1-4.3 1-6.9 1-11.7 1 3.1 1 .3 1-6.5 1-.9 1-1 1-5.9 1-1.3 1-7.7 1 5.4 1 1.3 1-1.2 1-.5 1-13.6 1-8.8 1-4 1-2.5 1 1.9 1-8 1 2.2 1-10.8 1-1.3 1 .8 1-3.6 1-3.7 1-.4 1-7.3 1-8.9 1 7.6 1-7.7 1 1.3 1-1.4 1-6.9 1-4.1 1 3.6 1-3 1-.5 1-7.6 1-.9 1 3.3 1 2.6 1-8 1 4 1-3.5 1 6.2 1-.7 1-2.2 1-8.2 1-2.6 1 .3 1-9.9 1-2.8 1-2.5 1-5 1 3.8 1 .4 1-1.9 1-2.6 1-4.8 1 10 1-7 1-3.8 1-2.4 1-2.2 1-5.6 1-4.1 1-.5 1 8.6 1-5.4 1-2 1 2 1-.5 1-8.3 1 2.2 1-3.5 1-4.4 1-2.2 1 4.9 1-.5 1-3.1 1-4.6 1-1.7 1-3.8 1 8.9 1-4.8 1-.3 1-3.8 1-1.3 1-7.7 1-3.5 1 3 1 .7 1-3.5 1 3.2 1-.2 1-1.6 1-.8 1-3.7 1 4.2 1-7.8 1 .2 1 3.2 1 .7 1-.3 1-3.3 1-7.2 1 4.6 1 .8 1-.5 1 2.2 1 6.3 1 2.4 1-2.2 1-10 1 5.4 1-3.9 1 2.1 1 0 1 1.2 1 5.5 1 4.1 1-5.8 1-5.1 1 9.3 1-.8 1-1.7 1 2.9 1 1 1-3.8 1 1.3 1-2.9 1 1.6 1 5.2 1 .4 1 1.7 1-9.9 1 0 1 .4 1-5.6 1 0 1 3.7 1 .6 1-1.7 1-1.1 1 8.3 1 4.5 1 7.2 1 5.7 1-.5 1 .9 1 .9 1 6.3 1-1 1-3.8 1 6.6 1 2.4 1 5.1 1-3.5 1 11.4 1 5.7 1-6.9 1 7.7 1 1.6 1 6.1 1 .5 1-1.5 1 .2 1 2.2 1 4.1 1 1.1 1 5 1 5 1 6.7 1-10.4 1 4.3 1 4.1 1-2.9 1 1.9 1 4.3 1 6.9 1 8.4 1 6.3 1-.4 1 1.6 1 8.4 1 4.1 1-6 1 4.4 1 1.4 1 14.7 1-2.2 1 10.2 1 2.5 1 .2 1 4.4 1 1.9 1 7.9 1 1.6 1 .9 1-.2 1 3.6 1-.1 1 .7 1 2.7 1 10.4 1 3.8 1 2 1-1.4 1-.6 1 .6 1 10.7 1-5.2 1-1.3 1 2.8 1 4.3 1 9.2 1-4.3 1 7.7 1 3.6 1-1.7 1 2 1 6.8 1 1.2 1 5.7 1-8.7 1 5.6 1 3.1 1 9.1 1-5.5 1 2.9 1-4 1 3.8 1-.1 1-1.1 1 6 1 4.6 1-.4 1 10.9 1 2.3 1 20.2 1-4.3 1 11.9 1 4.6 1-11 1-5 1 3.5 1 3.1 1-3.4 1 4.9 1-5.3 1 2.2 1-1.9 1 8.3 1 1.2 1 8.1 1 1.2 1-4.5 1-7.3 1-2.3 1 5.6 1 1 1 5.6 1-3.7 1-1.4 1-4.9 1 11.5 1-2.6 1-.5 1 7.3 1-1.4 1 3.8 1-3.9 1-1 1 5.2 1 .8 1 3.9"/><path vector-effect="non-scaling-stroke" d="M0,614.7l1-.4 1 9.6 1 1.4 1-6 1-.5 1-16.6 1 4.8 1-5.3 1 10.8 1-7.3 1 11.6 1-9.5 1-12.1 1 1.9 1 5.1 1-1.1 1 7.3 1-9.6 1-8.8 1-1.9 1 6.2 1 5.5 1 4.1 1 2.8 1-2.5 1-11.5 1 1.8 1 2.4 1-4.5 1 2.2 1-3.2 1-1.9 1-8.3 1-3.5 1-.7 1-4.8 1 6.6 1-3.3 1 5.5 1-9.6 1 9.9 1-1 1 8.1 1-7.2 1-9.8 1-1.2 1 4.8 1-12 1 6.5 1 2.9 1 1.3 1 2.9 1 .2 1-1.4 1-6.6 1-14.4 1 .3 1 3.3 1-3.7 1 7.1 1 8.4 1-4.3 1-2.5 1-8.3 1 3.5 1 4.1 1-1.1 1-5.5 1 5.3 1-5 1-3.5 1 3.1 1-13.7 1-2.5 1-3.6 1-14 1-9.1 1 7.5 1 11.6 1-6.1 1-10.6 1 1.7 1 2 1-7.3 1-3.7 1-3.2 1 1.6 1-4.5 1-13.3 1-1.7 1 4.3 1-5 1 3.6 1-4.9 1-10.5 1 .6 1-4.2 1-2.9 1-12.9 1 4.3 1-5.8 1-4.4 1-4.8 1-10.3 1-5.9 1-12.4 1 7.3 1-3.1 1 3.4 1-4 1 6.2 1-6.3 1 5.2 1-1.9 1-1.7 1 1.5 1-11.5 1 1.6 1-1.5 1-3.4 1 1.3 1-2.1 1-2.1 1-3.7 1 2.9 1-10.1 1 .6 1-1.7 1-.7 1 2.5 1-2.6 1-4.2 1 6.5 1 2.5 1-.9 1-6.5 1-10 1-3 1-3.9 1-8.7 1-6.8 1 4.1 1-3.4 1-7.3 1-3.5 1-.6 1 2.7 1-1.6 1-14 1-2.2 1-5.9 1 3 1 0 1 2 1 7.5 1-.4 1-7.3 1 1.3 1-3.3 1-4.2 1-1.2 1 2.2 1-2.8 1 4.2 1-2.8 1-8 1 3.2 1-8.7 1 5.5 1-.8 1-3.8 1 2.3 1-2.7 1 2.6 1-.3 1-5.1 1-1.5 1-3.6 1-4.9 1 3.5 1-3.5 1 .7 1-.1 1 4 1 3.1 1-3.7 1-3.4 1-.1 1 4.6 1 .4 1 2.3 1 1.2 1 0 1-1.3 1-1.1 1-2.8 1-4.1 1-5 1 .5 1 5 1 8.2 1-5.7 1-4.3 1 1 1-4.5 1 4.7 1 1.7 1 3 1-3.9 1-.2 1 4.1 1 5.7 1-4.5 1-2.1 1 2 1-4.1 1-1.8 1 5.2 1 3.3 1 .2 1 2.2 1-1.3 1 2.1 1-3.6 1 6.7 1 4 1-4.3 1 1.2 1-5.9 1 3.2 1 6.2 1-2.7 1 2.8 1 .6 1-.9 1-.6 1 1.9 1-1.1 1 11.5 1 6.2 1 4.3 1 0 1 1 1 4 1 .7 1 3.2 1-5.9 1 6.5 1 7.9 1 2 1 1 1 5.2 1 4.5 1-5.4 1 7.5 1-1.9 1 2 1 4.8 1 .1 1 3.6 1-5.1 1 3.5 1 6.2 1 6 1 4.2 1-3.8 1 6.7 1 3.6 1 3.8 1 8.2 1 .4 1 7.3 1 8.2 1 3.3 1 0 1-5.6 1 1.7 1 7.8 1 1.1 1 5.1 1 4.3 1-.3 1 4.1 1 3.6 1 0 1 2.8 1 5.9 1 .1 1 4.8 1 2.9 1-3.7 1 4.8 1 .3 1 3.4 1 6.6 1 7.3 1 7.5 1-.3 1-3.5 1 8.4 1-3 1 1.5 1-4.5 1 12.9 1 11 1-3 1-8.1 1 5.1 1 6.3 1 4.9 1-.6 1-2.3 1 4.9 1 10.4 1-2.1 1 3.4 1-1.3 1-3.9 1 3.6 1 4.4 1-2.8 1 6.3 1-.1 1 .9 1 6.4 1-7.4 1 8.4 1 9.7 1 6.3 1-2.7 1-.1 1-3.2 1 6.7 1 2.5 1 3.2 1 8.4 1 1 1-.4 1-4.5 1-9.1 1 10.6 1 3.6 1-10.2 1 3.6 1 3.9 1 6.8 1 3.9 1-5.7 1-4.1 1 7.3 1 6.3 1 1.5 1 4.8 1 .3 1-5 1 2.7 1-14.4 1 .8 1 2 1 5.3 1-.8 1 13.1 1 2.4 1-1.7"/><path vector-effect="non-scaling-stroke" d="M0,587.7l1-15.4 1 .7 1 10.6 1 .1 1-6.6 1 14 1 4 1 1.9 1-4.9 1-1.1 1-2.8 1 1.6 1 4.3 1-4.1 1 1.9 1 1.9 1-2.7 1 14.6 1-4.1 1-.6 1-4.2 1-7.2 1-.8 1-8.1 1 7.1 1 .5 1 4 1-5.5 1-11.9 1-.9 1-.5 1-6.2 1 8 1 1.3 1-9.9 1 9.9 1 3.3 1-2 1-6.4 1-4.9 1 2.8 1 2.8 1 3.4 1-6.3 1 4.8 1-2.3 1 3 1-3.3 1-4.1 1-11.5 1-5.4 1 6.2 1 9 1-7.4 1-7 1-10.5 1 2.2 1-2.6 1-3.8 1-2.1 1-6 1 9.3 1 1.3 1-6.5 1-11.3 1-1.3 1 6 1 .4 1-.6 1-12.9 1 9.9 1-1.1 1-.4 1-8.1 1-6 1-2 1-3.5 1 3.8 1-2.7 1-6.3 1 .8 1-1.4 1-2.9 1-6.6 1 2.6 1-5.6 1 3.9 1-.3 1-4.2 1-4 1-8.7 1-10.6 1 5.5 1 3.7 1-7.1 1 1.5 1 .8 1-7.6 1-7.9 1-.2 1-6.8 1 4 1-11.2 1-4.2 1-9.4 1-1.3 1-.7 1-8.2 1 3.7 1-6.1 1 2.4 1-4.6 1-9.3 1 3.7 1 1.7 1-7.6 1 4.1 1-5.4 1-2.7 1-4.9 1 4.8 1-3.5 1-8.2 1-1.5 1-1.8 1 13.5 1-9.9 1 1.6 1 .7 1-7.4 1-.5 1-1 1-5.7 1 4 1-6.2 1-6.4 1 1.6 1-10.7 1 .7 1-.6 1-3.7 1 .4 1 4.6 1 1.2 1-6.1 1-2.4 1-2.1 1-.3 1-.9 1-5.6 1-1.4 1-7.5 1-.3 1 1.1 1-7.2 1-2.5 1-11.3 1-1 1 4.2 1 2.3 1-.8 1-.1 1-5 1 5.4 1-3.4 1-1.8 1-4.4 1 1.2 1-6.9 1-5.5 1 2.3 1 2.8 1-.7 1-1.2 1-6.3 1 3.9 1-4.4 1 2.6 1-1.6 1 .3 1 .2 1-1.4 1-.6 1-8.6 1-1.8 1-4.5 1 2.3 1-.6 1 5.3 1-2.4 1 1.7 1 3.2 1-.7 1-3.2 1 4.5 1-5.1 1-2.9 1 2.6 1-2.8 1 2.4 1-1.4 1 .6 1 4 1-3.6 1-5.6 1-.9 1 9.2 1-.1 1-5.8 1 .2 1-3 1-.3 1 3.4 1 4.2 1-1.5 1-.3 1 9.5 1 2.3 1 1.4 1-1.5 1-1.8 1 1.8 1 2 1 1.4 1 1.8 1 .9 1-.7 1-1.4 1 3.7 1-2.7 1 .3 1 3.4 1 2.8 1-3 1 2.2 1 1.5 1 3.8 1 2.5 1-1.6 1 2 1-.5 1 5.2 1 9.8 1 4.3 1-1.5 1 5 1 3.1 1-.1 1 3.1 1-3.3 1 3.9 1-.2 1 9.8 1-.1 1 2.4 1-5.3 1 3.5 1 2.6 1-2.7 1 5.9 1-.4 1 5.1 1 4.6 1 .7 1 8.3 1 2.6 1 4.1 1-3.8 1 4.5 1 1.4 1 6.9 1 6.7 1 8.3 1-1.9 1-7.5 1 7.1 1 10.5 1-4.4 1 1.6 1 8.3 1 17.7 1-.2 1-.7 1 6.7 1-1 1 .1 1 8.5 1-5.6 1 2.7 1 8.3 1 .9 1-1.7 1-8.6 1 12.8 1 2.8 1-.2 1-3.5 1 3.4 1 4.1 1 9.8 1-1.2 1 3.7 1 4.5 1-6.2 1 8.6 1 .2 1 3.6 1 4.3 1 .8 1 6.5 1 4.3 1 2.5 1 7.1 1 2.2 1-6.1 1 6.5 1 1.2 1-.6 1 1.4 1 11 1 4.7 1-7.9 1-4.9 1 .1 1-1.5 1 17.5 1-2 1 6.8 1-6.1 1 3.9 1 2.9 1 6.3 1-3.1 1 5 1 .8 1 1.8 1 5.4 1-.9 1-2.1 1 3.2 1 .6 1 7.1 1-3.1 1 .7 1 4.8 1 3.7 1 6.1 1-.5 1-2.9 1 4.5 1-11.3 1 .5 1-1.6 1-3.4 1 13.5 1-10.2 1 .7 1 5 1-5.6 1 18.4 1-6.3 1-6.2 1-2.3 1-6.9"/><path vector-effect="non-scaling-stroke" d="M0,594.6l1-5.9 1 6.3 1-3.9 1 8.1 1 5.6 1-2.6 1-6.8 1-3.7 1-2.2 1-5.9 1 13.4 1 4.5 1-4.1 1-9.7 1-4.8 1 10.3 1-3 1 2.6 1-2.2 1-1.7 1 .6 1 5.9 1-1.2 1 16.1 1-13.5 1 6.2 1-12 1-7.7 1 4.3 1-.5 1 10.1 1-4.9 1-3.2 1-2.8 1 2.6 1-7.8 1 7 1-3.7 1 1.3 1-8.4 1 1.4 1-6.1 1-3 1 2.4 1 4.6 1 8.8 1-2.4 1-9.6 1 3.9 1 8.3 1-7.7 1-12.8 1 6.1 1-1.4 1-3.9 1-3.7 1 3.9 1-5.3 1 .1 1-6.5 1 4.5 1-3.9 1-2 1-.6 1 6.1 1-1.9 1 3.6 1-6.6 1-10.5 1-4 1-3.6 1-7.3 1-11.9 1-6.4 1 11.3 1 .5 1-3.1 1 1.3 1-3.5 1-8 1 2.2 1-8.2 1 2.2 1 5.3 1-12.9 1-4.1 1 .2 1-8.7 1 4 1-1.9 1 8.8 1-6.7 1-2.2 1-11.4 1 1.6 1-7.6 1-6.1 1 1.6 1-7.4 1 4.8 1 7 1-.5 1-10.6 1-8.1 1 3.4 1-7.6 1 1.8 1 2.7 1-12.5 1-5.6 1-.9 1-3.6 1-5.5 1-1.8 1-.1 1-6.1 1-3.9 1 9.5 1-5.9 1-3.8 1-2.8 1-3.4 1-.7 1-4.7 1 4.7 1 2.7 1-14.1 1 .3 1-5.7 1-1.5 1-8 1-2.3 1-1.2 1 2 1 1.9 1 3.4 1-1 1-7.6 1 5.6 1-7.2 1-11.1 1-2.4 1-1.2 1 3 1 1 1-8.2 1-6 1-2.4 1 .2 1-1.1 1-1.8 1-.1 1-2.6 1-.8 1-4.3 1 5.5 1-2.6 1-9.3 1 4.5 1-5.7 1-1.9 1-5.3 1-2.3 1-2.6 1 2.1 1-6 1 2.4 1-2.5 1-1.2 1-8.7 1 2.3 1-5.7 1-.8 1-.9 1 .4 1-3.8 1 .6 1-8.2 1 3.3 1-1.6 1-1.3 1 2.6 1-.3 1 4.9 1-4.2 1-1.9 1-.4 1 1 1 1.8 1-2.7 1 .3 1-2 1 1.4 1-1.8 1-2.3 1 3.2 1-.3 1-.1 1-3 1-2.5 1-2 1-.5 1-.7 1-.1 1-.1 1-.8 1 7.5 1 .4 1-1.7 1 3.9 1-.1 1-1.8 1-2.7 1 2.9 1 2.6 1 9.4 1-5.5 1 2.3 1 .6 1 3.1 1-2.3 1-5.5 1-3.9 1 10.2 1 1.5 1-3.4 1-.5 1 .6 1 1.1 1 8.1 1-6.4 1-4.7 1 3.8 1-3.7 1 6.6 1-2.1 1 8.3 1 8.1 1-2.8 1 1.2 1 9 1-.2 1-.1 1-1.8 1 12.2 1-2.5 1 6 1-1.5 1-.3 1 7.4 1-2.9 1 3.5 1 2.8 1 .9 1 1.6 1 .2 1 .7 1 13.1 1-4 1 8.9 1-2.3 1 .3 1 3 1 1.5 1 6.1 1-2.4 1 8.2 1 3.7 1-.5 1 9 1 3.3 1 1.3 1 3.9 1 1.7 1-3.3 1 5.4 1 5.5 1 2.9 1-.1 1 15.4 1-.6 1 6.1 1 6 1-4.7 1 2.1 1 .1 1-1.4 1 .4 1 13.6 1 8.3 1-3.4 1-2.1 1 8.9 1-4.8 1 1.8 1-1.9 1 4.8 1 1.4 1 3.5 1 6.3 1 2.3 1 10.1 1-2.6 1 3.6 1-4.6 1 6.3 1 6.7 1-1.3 1 8.1 1 6.7 1-.6 1 .8 1 13.6 1-1.6 1 9.9 1 6.5 1-7.4 1 7.6 1-.9 1-8.9 1 2.1 1 6 1 5 1-4.8 1 3.5 1 5.3 1 2.3 1 1.2 1 11.3 1 2.3 1 7.5 1-3 1 .7 1-6.1 1 3.3 1-4.4 1 2.8 1 .9 1-10.5 1 3.8 1 7.7 1 3.7 1-.9 1-6.3 1-5.8 1 5.6 1 10.8 1 2.7 1 7.3 1-.5 1-.3 1 5.3 1-.9 1-4.7 1-.5 1 7.5 1-3.5 1-5.1 1 7 1-5 1-7.7 1-.1 1 .6 1 3.4"/><path vector-effect="non-scaling-stroke" d="M0,588.6l1-.1 1 5.2 1-3.4 1 5 1-3.7 1-4.8 1 6.4 1-1.9 1 3.1 1 4.2 1 1.9 1-6.4 1 3.6 1-4.5 1-5.5 1-.8 1 1 1 3.4 1 .4 1 3.5 1 3.3 1-6.8 1-.7 1-9.2 1-2.3 1 9.6 1-3.7 1-2 1-7.9 1 6.6 1 3.1 1 .9 1-1.4 1 2.5 1-18.7 1-.7 1-1.6 1-1.4 1-4.8 1 2.1 1 7.4 1-.4 1-13.4 1 6.4 1 5 1-6.7 1 7.6 1-9.3 1 4.7 1-9.5 1-2.4 1 2.7 1-1.3 1 3.1 1-11.2 1-1.5 1-5.7 1 8.1 1-3.1 1-1 1 2.6 1-9.8 1-6.6 1 1.2 1 3.8 1 1.4 1 5.2 1 .7 1-1 1-1.5 1-1.4 1-9.6 1-4.1 1-7.4 1-2.2 1 5.6 1-1.3 1 7.2 1-21.4 1-4.8 1-8.3 1-5.5 1 .3 1 .5 1 .2 1-6.6 1-5.9 1 8.8 1-5.4 1-5.5 1-8.4 1 6.3 1 .2 1 1.8 1-2.1 1-.3 1-7.9 1 5.5 1-.7 1-1.4 1 .6 1-14.4 1 2.1 1-6.6 1 1 1-5.5 1-8.5 1-6.3 1 7.6 1-3.6 1 1.2 1-4.9 1-5.6 1-6.4 1-1.8 1-5.9 1-4.9 1-3.4 1 0 1-1.5 1-1.7 1 3.6 1-5.6 1-3.6 1-1.4 1-7.4 1-3.2 1 .9 1 1.3 1-2.1 1-6.9 1 2.9 1-.5 1-1.6 1 5.6 1-7.1 1-4.5 1 5.3 1 1.6 1-5.4 1-.6 1 4 1-11 1-8.9 1-2.1 1-3.5 1-5.6 1-5.4 1 .2 1-1.3 1-7.6 1 .3 1 .9 1-4.9 1-.8 1-3.4 1-4.2 1 3.2 1-3.4 1-6.8 1 .4 1-.5 1-1.4 1-1.3 1 1.9 1-5.8 1 2.1 1 1 1-4.6 1 .3 1-.6 1 2.4 1-.6 1-1.8 1 .4 1 4.3 1-7.6 1-.1 1-5 1-1.1 1-1.9 1 1.3 1-.9 1-4.9 1-3.6 1 2.2 1 .2 1-2.1 1-1.6 1 11 1-5.3 1 9.1 1-.5 1-4.3 1 6.3 1-5.2 1 3.4 1-6.5 1-1 1-9.5 1 1.7 1 5 1-.2 1 2.9 1-4.3 1-3.4 1-2.1 1-2.9 1 .9 1 1.9 1 3.5 1 3.3 1 8.5 1-2.5 1-1.4 1-5 1 4.2 1-.3 1-13.6 1 4.2 1 2.1 1 6.4 1-1.4 1-2 1 4 1 2.2 1-3.1 1 2.7 1 3.5 1-3.9 1 1 1-.5 1 4.4 1 6.7 1 4.3 1 3.9 1 8.2 1 4.4 1-2.1 1 8.4 1 6.5 1 1.5 1-1.4 1-2.7 1 1 1-5.6 1 3.8 1 4 1 0 1-1.3 1 6.5 1-.3 1 .3 1 5.7 1-1.7 1-4.2 1 7 1-4.3 1 10.9 1 1 1 8.5 1 2.8 1-4.5 1 1 1-3.1 1 2.7 1 9.4 1 6.4 1 1.7 1 1.7 1 .3 1 .7 1 .2 1 6.1 1 .7 1 1.2 1 1.4 1 4.6 1 5.5 1-2.9 1 2.8 1 2.1 1 1.6 1 4.7 1 1.5 1 5.3 1 4 1 1.7 1 6 1 5.6 1 3.7 1-1.9 1 1.9 1 5.1 1 .3 1 2.8 1 6.4 1 3.8 1 2.4 1 4.3 1 4.9 1 7.4 1 4.6 1 8.1 1-6 1 2.7 1 1.5 1 3.5 1-2.6 1 2.9 1 2.3 1 8.3 1-.4 1 .4 1-.9 1 7.1 1 2.8 1 4.6 1-9.2 1 1 1 4.7 1 9.9 1-2.5 1 10.7 1-1.8 1 .6 1 .4 1 5 1-4 1 7.2 1 4.5 1 6.2 1 2.6 1 .2 1-1 1 5.4 1-4.3 1-3.1 1 3.9 1 2.7 1-4.8 1 7.7 1 3.1 1 5.5 1 2.3 1-5.5 1-1 1 6.2 1 5.6 1 6.7 1-15.2 1 9.9 1-1.8 1 3.8 1-4.4 1 3.5 1-4.1 1 2.5 1 5.1 1 4.7 1-3.7 1-6.6 1 5.2 1 3.9"/><path vector-effect="non-scaling-stroke" d="M0,562.7l1-4.2 1 7.6 1 1.8 1 2.3 1-8.6 1 7.6 1 3 1 5.5 1-1.8 1-4.1 1-4.6 1-1.5 1 1.9 1 11.8 1-4.1 1 5.1 1-6.4 1 2 1-3.3 1-3 1 5.4 1-2.1 1 4.5 1 6 1 1.2 1-2.5 1-3.8 1 4.3 1-3.4 1-10.6 1-1 1-3.7 1-5.7 1-3.2 1 6.5 1 0 1 7.6 1-3.9 1-2.7 1-.7 1-4.6 1-10.3 1 0 1 4.2 1 4.5 1-6.2 1 4.7 1 5.5 1-4.3 1-3.8 1-6.7 1-.2 1 .7 1-12.7 1-7.6 1 1.4 1-5.2 1-3.8 1 14.3 1 4.8 1-4.5 1-5.4 1-6.2 1 9.9 1 .4 1 .8 1 .9 1 5.5 1-8.8 1-6.2 1-5.2 1 1.5 1-4.8 1-3.2 1 5 1-3.4 1-10.6 1-4.3 1-9.4 1 2.7 1-7.1 1-5.2 1 4 1-5 1-4.9 1-2.2 1-3.4 1-2.6 1 4.8 1-7.6 1-4.7 1 1.1 1-8.7 1 4.1 1-5.1 1-1.6 1 0 1-3.7 1-.6 1-9.6 1-1.6 1 .4 1-14.4 1-2.9 1 3.6 1-5 1-7.6 1 3.9 1 4 1 3.4 1-7 1-2.5 1 3 1-3.9 1-5.2 1-.9 1-8.7 1-5.7 1 2.8 1-.6 1-3.5 1-3.2 1 2.7 1-7.7 1 3.7 1 5.9 1-10.6 1-2.4 1-.6 1-2.3 1-1.8 1 1.6 1-1.6 1-8.9 1-3.4 1-1.6 1 .9 1 7.7 1-6.3 1-2.8 1-4.3 1-5.7 1-.7 1 2.7 1-.3 1-5.4 1 1.1 1-4.2 1-2.2 1 2.8 1 0 1-1.1 1 3.5 1-4.4 1-1.3 1 3.3 1-2.5 1-8.2 1-3.4 1-5.8 1-2.3 1 2.5 1 .7 1 .1 1-7.5 1-5.5 1 2 1 2.8 1-1.3 1-5.7 1-2.1 1-5.9 1-5.9 1-6.2 1-4.6 1 5.6 1 2.7 1-1.1 1 .1 1-2 1-5.2 1 1 1-2.1 1 6 1-3.3 1-2.7 1-.5 1-1.1 1 .8 1 1.8 1-1.1 1-1.4 1-.8 1-1.5 1-2.5 1 .5 1-3.3 1-4.3 1-.2 1-3.9 1 8.4 1 .5 1 2.8 1 1.6 1-2.2 1-1.1 1 0 1-3.2 1 3.4 1 2.8 1 3.5 1-2.5 1 5.3 1-3.3 1-4.6 1-.9 1 2.4 1-6.3 1 2.8 1 3.6 1-1 1-2.6 1 2.2 1 .2 1-3 1-2.6 1 3.1 1-1.6 1 4.2 1-.2 1-1.2 1 10.7 1-1.8 1 2.3 1-3.3 1 3.4 1-.3 1 5.3 1 4.9 1 1.2 1 1.9 1 2 1 4.5 1 5.2 1 8.9 1 3.3 1 1.9 1-4.3 1-1 1 1.5 1 3.2 1 2.2 1 3.6 1 4.6 1-1.2 1 4.9 1 1 1-1.3 1 7.5 1 3.1 1 3.3 1-1.9 1 5.4 1-1.9 1-1 1 .7 1 1.5 1 1.9 1 7.1 1 4.4 1 6.7 1 2.7 1 8 1 1.6 1 .7 1 1.6 1 7 1 2.1 1 1.3 1-.3 1-1.4 1 5.4 1 6.6 1-2.4 1 10.6 1 3.8 1 1.3 1 8 1-8.1 1-.4 1 7.5 1 6 1 1 1-3.4 1 .8 1 2.5 1 0 1 .1 1 18.7 1-7.5 1-7.5 1 18 1 5.3 1 4.7 1 5.4 1 11.5 1-1.6 1 1.3 1 4.1 1-5.2 1 5.8 1 2.2 1 4.7 1-1.8 1 6 1 5.3 1-3.5 1 5.2 1-13.9 1 6.2 1 9.4 1 7.1 1 2.5 1-7.4 1 12.4 1 1.8 1-9 1 8.4 1 .6 1-1.3 1 .6 1 7.1 1 6.5 1-6.5 1 1 1 2.5 1 5.9 1-.4 1-2.3 1-.8 1 2.6 1 7.6 1-5 1 12.2 1-6.2 1 7.4 1-4.2 1 2.8 1 13.9 1-3.8 1 6.8 1 1.1 1 5.4 1-.2 1-2 1 2.9 1-3 1-.1 1-3.1 1-1.6 1-7.3 1-4.8 1 1.2 1 .5"/><path vector-effect="non-scaling-stroke" d="M0,551.1l1 3.4 1 7.6 1-1.5 1-3.4 1 12.8 1-2.8 1 2.1 1-10.9 1 2.9 1-2.3 1 3.6 1 11.4 1-2.5 1 6.3 1 .4 1 5.5 1-4.8 1-9 1 7.5 1-5.7 1-8 1-1.3 1 9.2 1 .2 1 3.5 1 1 1 9.3 1-.8 1 .8 1-4.5 1-12.6 1-1.2 1-1.2 1 3.7 1-6.4 1-1.4 1-.5 1-2.7 1-8.6 1-1.3 1-.6 1 3.7 1-6.4 1-9.7 1-1.6 1-.1 1 .5 1-4.1 1 10.8 1-7.9 1 4.9 1 2.2 1-3.5 1-3.5 1 .6 1-2.4 1 1.5 1 1.6 1 .9 1 4.2 1-1.7 1-8.4 1 .5 1 6.4 1-2.5 1-3.6 1-4.7 1-7.1 1-4.4 1 10.6 1 5.3 1-14.1 1-6.5 1 0 1 2.1 1-1.7 1-4.3 1 .6 1-15.7 1 3.5 1 4.6 1-5 1 7.4 1-12.2 1-6 1-7.4 1-7.4 1 5.5 1 .1 1-6.3 1-5.3 1 8.3 1-6.7 1-9.1 1 1.3 1-8.2 1 3.8 1-10.1 1 4.7 1-3 1-5.4 1-4.1 1-5.2 1-7 1 8.4 1-18.3 1 3.6 1 .9 1-5.3 1 2.9 1-7.4 1 3 1-6.2 1-2.5 1-2.2 1-3.3 1 3.3 1-1.5 1-3.3 1 .2 1-8.6 1-10.3 1-2 1-2.6 1 8 1 3.1 1 7.9 1-4.7 1-6.3 1-3.9 1-2.8 1-4.5 1 4.6 1-2.9 1-8.1 1-7.3 1 9.2 1 4.6 1-3.9 1-2.4 1-7.7 1 3.1 1 2.4 1 1.5 1-6.9 1-.3 1-5.1 1-1.7 1-3.8 1-.5 1-5.1 1 3.9 1-4.8 1-3.6 1 2.9 1-2.8 1-6.9 1 1.9 1-.7 1-.7 1-.1 1-.8 1-6.4 1 7.4 1-7.6 1-.4 1-7.3 1 1 1-1.5 1-2.6 1-2.2 1-3.2 1-.6 1 .2 1 .2 1-2.1 1-2.1 1-.8 1 3 1-11.5 1 .2 1-.6 1 0 1 .6 1-.8 1-4.1 1 .6 1-4 1 1 1 .9 1 1.4 1-6.4 1 9.2 1-3.5 1-6.8 1 2.6 1 1.8 1-4.2 1-2.3 1-1.1 1 .1 1-4.2 1-2.2 1 4.8 1 .1 1-1.8 1 1.1 1 2.8 1 3.3 1-1.4 1 5.2 1 .6 1-.2 1-3.9 1 .5 1-2.1 1 .1 1-.7 1-1.3 1-2 1 1.7 1 1.7 1 2.8 1-3.7 1 2.4 1 8.3 1-14 1 9.8 1-1 1 8.9 1 1.7 1 7.2 1-3.8 1-1.3 1 2.8 1-4.5 1 6.3 1 .7 1 2.5 1 3.9 1 5.6 1 7.6 1 5.1 1 .4 1-2.6 1 8.4 1-3.6 1 7.9 1 8.3 1-10.2 1 7.9 1-2.5 1-2.9 1 3.5 1-3.8 1 .2 1 4.1 1-4.6 1-.3 1 7.3 1 9.2 1-.8 1 6 1 3.7 1 3.5 1 1.5 1 .2 1 7.5 1 .5 1 4.9 1 4.7 1-1.5 1 .3 1 2.4 1-4.5 1 20.4 1-2.5 1-1.8 1-5.8 1 6.8 1 7.4 1 12.2 1-8.7 1 10.9 1 1.4 1 5.3 1 1.6 1 8.9 1-.9 1 .7 1-6.1 1 14.9 1-.5 1-1 1 7.9 1-3.4 1 7.9 1-.3 1-7.2 1 5.9 1 1.6 1 18.7 1-.5 1-.9 1 2 1-1.1 1 5.4 1 3.9 1-3.6 1 9.7 1 .4 1-.8 1 8 1 .4 1 1 1 1.5 1-2.1 1 2.3 1-.2 1 5.9 1-2.9 1 5.3 1 3 1-3.8 1-6.3 1 3.3 1 3.7 1-4.2 1 1 1 16.8 1-.8 1-.8 1 12.6 1 1.2 1-5.2 1 3.2 1 1.7 1 5.7 1 6.3 1-4.3 1 7.4 1 3.6 1 1.3 1 6.3 1-5.3 1-2.8 1-7 1 3.7 1 5.8 1 7.3 1 1.4 1 1.9 1-9.5 1 2.4 1-.5 1-6.1 1 5 1-.1 1-3.8 1 8.6 1 2.6 1 1.8 1-2.4 1 1.9"/><path vector-effect="non-scaling-stroke" d="M0,592.3l1-1.2 1-5.5 1-8.5 1-3.3 1 .4 1 12.7 1 1.2 1 2.5 1-3.6 1-1.6 1 .1 1 7.9 1 5.1 1 3.4 1-3.5 1-7.6 1 .7 1 1 1 1.6 1 1 1-3.9 1-1.2 1-4.1 1 4.8 1-12.5 1 2 1 5.7 1-2.9 1 7.8 1-2.5 1-8.1 1-4.5 1-3.4 1-4.5 1 1.2 1 3.8 1 2.2 1-1.1 1-1.3 1 3.4 1 2.7 1-8.5 1 .2 1-3.7 1-2.3 1 1.3 1-6.8 1 3.4 1 7.9 1-3.7 1-13.4 1 3.2 1 5.2 1 3.3 1-4.1 1-5.5 1-5.9 1-7.8 1 1.4 1-.7 1-.2 1-3.2 1 3.8 1 11.6 1-8.4 1 7.7 1-2.3 1-2.9 1 3 1-.6 1-.7 1-.7 1-6.1 1-1.3 1-1.9 1-6 1-6.9 1 1.1 1-11 1-4.4 1-9.2 1 .3 1-11.8 1-1.6 1-2.5 1-2.3 1 .7 1-1.3 1 .5 1-7.3 1-1.7 1-5.6 1-6.3 1 2 1 1.1 1-9.8 1 2.1 1-2.6 1 6.5 1-6.8 1-2 1-12 1-2.8 1 1.8 1-8.5 1-6.9 1-2.2 1-1.9 1-3.5 1-10.5 1 .1 1-2.4 1-2.8 1 3.7 1 2.4 1-5.7 1-2.8 1-11.2 1-2.1 1-3.4 1-4.8 1 6.3 1 10.4 1-6.2 1-9.1 1 2.8 1 4 1-.1 1-10.4 1-.8 1-5 1 .7 1-1 1-1.7 1-4.2 1 3.5 1-7 1 5 1-6.2 1 4.4 1-5.2 1-4.8 1-18.7 1 4.6 1 5.6 1-4.4 1-.3 1-4.6 1-4.9 1-3.6 1 2.5 1-2.5 1 1.2 1-2.5 1-2.4 1-2.6 1-3.7 1-1.8 1 1.7 1-1.9 1-10.5 1 1.5 1-.8 1-.1 1-6.1 1 1.9 1-.1 1 0 1-2.3 1 0 1 2.5 1 4.7 1-2.9 1-.8 1-8.8 1 .3 1-7.9 1-.7 1 1.1 1-2.9 1 1.7 1-3.2 1-3 1 .3 1 3.7 1 1.2 1 .8 1-8 1 2.2 1 2.9 1-3.4 1-3.5 1-3.2 1 9.4 1-.8 1-1.3 1 .1 1-5.2 1 .8 1-1.3 1 3.4 1-2.5 1 3.2 1 1.1 1-2.1 1-2.5 1 1.5 1 3 1 1.8 1-3.2 1-2.6 1-1.7 1 2.1 1-3.2 1 2.7 1 4.4 1 5.5 1-1.6 1-2.1 1 1.4 1-6.5 1-.9 1-4.3 1 .6 1-.9 1 8.1 1 9 1 1.1 1-6.6 1-.2 1 5.7 1 6 1 6.1 1 .7 1 5.2 1 6.5 1 2.2 1 1.5 1-1 1-1.8 1 1 1 .1 1 3 1 6.2 1 .7 1 4.8 1 1.5 1 2.2 1-1.6 1 3.6 1 1 1-1.3 1-2.5 1 4.3 1-2.1 1 10.2 1 .7 1-8.3 1 4.1 1 5.1 1 2.6 1 12 1-3 1 2.2 1 1.1 1 5.5 1 8.6 1-5.2 1-2.1 1 8.3 1 9.8 1 2.2 1 6.3 1 4.9 1 5.2 1-1.7 1-2 1 4.5 1-3.6 1 9.1 1-2.6 1 3.8 1 2.5 1 9.3 1 1 1 1.2 1-.6 1 3.8 1-5.1 1 2.9 1 9.7 1-3 1 5.2 1-1.2 1-4.1 1 2.8 1 9.7 1 5.4 1 3 1 2 1 3.4 1 5 1 1.7 1-4.1 1 5.6 1-3.6 1-1.6 1 .2 1 8.3 1 4.2 1-1.9 1 .3 1 4.8 1-8.8 1 3.9 1 12.2 1 4.6 1 5.3 1 8.2 1-1.2 1 15.3 1-4.2 1 3.3 1-8.9 1 3.2 1 11.8 1-.8 1-1.1 1-1 1-1.7 1-2.6 1 2.6 1 3.7 1 9.6 1-2.5 1 4.2 1 2.9 1 6.6 1 7.2 1 1.8 1-1.5 1 .5 1 2 1 9.4 1-3.3 1-3.8 1 1.8 1 .9 1 1.4 1-9.5 1 1.5 1 8.8 1 6.8 1-6.5 1-1 1 2.7 1 0 1 3.7 1 3.9 1 .3 1 5 1-5.4 1 15.9 1-.7"/><path vector-effect="non-scaling-stroke" d="M0,582.8l1 4.7 1-3 1-6.2 1 8.4 1-15.3 1-1.7 1 5.3 1 7.3 1-3 1 1.6 1 6.3 1 .7 1 1.5 1 2.9 1-.6 1-2.6 1-1.4 1 3 1 1.6 1 5.1 1 .4 1 .7 1-5.1 1 15.9 1-5 1-10.5 1 6.7 1 8 1-9.7 1 11.6 1-2.8 1-9.5 1-3.8 1 3.5 1-1.9 1 4.1 1-4.7 1-3.9 1-3.7 1 5.1 1-8.5 1-9 1-6.4 1 5.5 1 8.8 1-1.5 1-15.8 1-5.1 1 3.3 1-2.3 1 8.5 1-2.7 1-2.4 1 5.8 1-2.2 1-6.9 1-7.1 1-1.6 1-5.7 1 11.2 1-7.7 1-3.9 1 3.4 1 1.6 1-1.2 1-4.6 1 10.4 1-2.6 1-6.7 1 3.4 1-11.4 1-8.4 1-9.8 1-.2 1-5.9 1-1.3 1 5.7 1 3.1 1 .9 1 2.6 1-10.8 1-4.9 1-3 1-6.6 1-6.6 1-1.4 1 .5 1-11.1 1 2.4 1-6.3 1-2.4 1-10.3 1 5.1 1 .1 1-2.6 1-8.4 1 .2 1-12.6 1 4.9 1-5 1-1 1-5.4 1 6 1 5.4 1-2.2 1-7.8 1-9 1-7.6 1 5 1 .5 1-9 1-11.3 1 6.1 1-3.5 1-1.4 1-1.1 1 9.7 1-9.6 1-13.4 1 3.2 1-1.4 1-4.4 1-1.1 1-7.5 1 8.4 1-3.2 1-3 1-8.6 1-3.8 1-3.4 1-3 1-.3 1-2.3 1 1.5 1 1.3 1 6.4 1 1.5 1-7.1 1 2.8 1-2.2 1-4 1-5.7 1-1.9 1 3.1 1-4.5 1-5.3 1-8.2 1 3.5 1-4.1 1-6.1 1 8.3 1-5.7 1-6.7 1-.2 1 2.6 1-1.6 1 1.2 1-5.2 1-3.3 1-2.9 1-4.5 1-.5 1-3.7 1 .8 1-8.5 1 2.1 1 2.7 1-3.9 1-8.2 1-.1 1-2 1-6.2 1-3.4 1 4.9 1 5.9 1-3.7 1-.4 1-1.6 1-4.7 1-4.5 1 3.2 1-2.1 1-4.3 1-4.2 1 3.6 1 3 1 4.9 1-5.2 1-.3 1-1.5 1-4 1-9.4 1 8.2 1-3.6 1 2.1 1-1.6 1-1.9 1-1.9 1 2.8 1-.3 1 3.6 1 1.5 1-2.9 1-.2 1-2.4 1 1.4 1 2.1 1 1.9 1 5.2 1-1.4 1 .2 1 2.9 1-.4 1 .6 1 2.1 1 1.9 1-6 1-.7 1-6.8 1 8.7 1 4.6 1 1 1-1.8 1-1.3 1 1.4 1-.1 1 5.9 1-7 1 1 1 .1 1 2.6 1-.9 1 1.4 1 4.5 1 3.5 1-.4 1-1.2 1 7 1-2.8 1 2.1 1 3.7 1 8.9 1 1.1 1 5.6 1 5.9 1-2.1 1 3.6 1 1.2 1 5.5 1 .6 1 1.7 1 3.1 1-.4 1 9.4 1 2.8 1-.3 1-5.1 1-.6 1-.6 1 1.1 1 2 1-3.2 1 10.7 1 3.9 1 4.9 1 3.4 1 1.3 1-2.3 1 4.9 1 7.9 1 2.6 1 7.9 1 6.6 1 5.4 1 0 1-3.7 1 6.2 1 5.2 1-1.4 1-5.2 1 4.9 1 2.9 1 12 1 4 1 4.6 1-.8 1-2.8 1-1.9 1 6.4 1-.4 1-4.7 1 6 1-3.1 1 11.1 1 2.9 1-3 1 3.4 1 .7 1 12.3 1 18.5 1-9.4 1 .8 1 8.7 1-1.8 1 .9 1-9 1 6 1 17.1 1-.9 1-4 1 2.6 1 1.2 1-4.4 1-1.6 1 2.1 1 12.6 1 2.3 1-3.6 1 8.9 1 8.5 1 5.9 1 1.7 1-.7 1 8.8 1 5.5 1-3.3 1 .7 1 6 1 1.2 1-4 1 4.1 1-1.3 1-3.1 1-2.5 1 7.9 1-.2 1 4.2 1 2.8 1-.2 1-2.8 1 7.8 1-9.4 1 9.5 1 .5 1-7.1 1 3.1 1 5.9 1 .3 1-1.4 1 4.2 1 10.4 1-2.4 1 3 1-2.3 1-14 1 8.1 1-4.5 1 2.5 1 7.3 1-1.7 1 11.4 1 1.8 1-14 1 3.2"/><path vector-effect="non-scaling-stroke" d="M0,575.8l1 5.6 1-6.2 1 7.6 1-3.9 1-3.7 1-1.5 1-4.9 1 9.9 1 6.5 1 2.9 1-11.4 1-8 1-1.2 1 13.1 1-11.1 1 10.3 1-2 1 0 1-3 1-4.2 1 4.2 1 .8 1 5.6 1-7.1 1-4.9 1 5.2 1 5.6 1 6.1 1-6.5 1-14.8 1 9.7 1 .5 1-7.8 1 23.2 1-5.2 1-4.9 1-.3 1-8.7 1 2.5 1 .7 1-3.5 1-2.9 1-.4 1-1.6 1-7.2 1 4.6 1-2.7 1 11.2 1-8.5 1 3.8 1-4.1 1-6.3 1-1.6 1 3.4 1-3.4 1-3.3 1-10.3 1-10.2 1-10.8 1-.1 1 9.3 1-2.5 1 12.8 1-.7 1-2.1 1-17.1 1 4.9 1 4.4 1-4.8 1-11.2 1 18.1 1-8.3 1 3.3 1-7.6 1-7.6 1-8.9 1 1.8 1-6.2 1-2.5 1 1.9 1-3.1 1-2.9 1-2.9 1-13.3 1-4.9 1-.5 1 2.7 1-3.1 1 4.9 1-7.3 1-.2 1 .1 1-3.4 1-8.6 1-.5 1 1 1-7.3 1 .4 1 1.3 1-1.4 1 4.9 1-2.9 1 1.6 1-.1 1-10.5 1-5.5 1-2.7 1 .7 1-9.2 1-1.2 1 .4 1 0 1 1.2 1-5.7 1-7.3 1-2 1-6.8 1 1.4 1-5.2 1 3.4 1-8.4 1-1.4 1-2.3 1-3 1 3.9 1-.3 1-5.4 1 .7 1-7.3 1 8.2 1 .3 1-2.4 1 8.3 1-9.7 1-4.5 1-3.9 1-5 1-1.8 1-3.7 1-4 1 .4 1-9.3 1 1.4 1-4.2 1-6.3 1-3.1 1 7.1 1-1.1 1-4.2 1-7.3 1 4.3 1-2.6 1 3.1 1-4.5 1-1.4 1-6.9 1 1.8 1-7.2 1-1.5 1-.4 1-3.3 1 1 1-3.2 1 2.6 1-4.2 1-4.3 1-2.7 1 3.6 1-5.7 1 .3 1-1.2 1-1.4 1 1.5 1-7.5 1 3.4 1 .4 1-5 1 .9 1-3.6 1 .4 1-1.1 1-2.4 1-3.8 1 1.6 1-5.8 1-.9 1-1.9 1 6.2 1-6.4 1-5 1 2.3 1 2.8 1 1.6 1-2 1 1.7 1 4.5 1-2.8 1-5.2 1-2.7 1-3.3 1 2.3 1 3 1-6 1 2.4 1 .4 1 .8 1 4.4 1 3.6 1-5.1 1-4.2 1 2.2 1 3.8 1-3.9 1 2.5 1 1.4 1-4.7 1-4.6 1-1.8 1 3.1 1 4 1 5 1-6.7 1 2.8 1 2.2 1-5 1 2.9 1 2.9 1 .1 1 2.4 1 .1 1-5.9 1 7.4 1 5.6 1-1.6 1 2.5 1 3.7 1 1.4 1 10.4 1 6.6 1 5.5 1 6 1-5 1 0 1 1.4 1-5 1 3.8 1 2.6 1-2.9 1 8.1 1-3.8 1 5.8 1 5.4 1 5.1 1-8 1 2 1-2.4 1 5.2 1 2.9 1 1.9 1 4.3 1 1.2 1 .6 1 4.9 1 7.3 1 2.3 1 5.8 1 1.5 1-1.1 1 1.8 1-.2 1 7.7 1 5.2 1-1.7 1 11.4 1-3 1-3.7 1 1.5 1 .4 1 2.6 1 2.8 1 .3 1 7.9 1 5.6 1 0 1 6.4 1 7.8 1 .1 1 7.7 1 3.6 1 4 1 3.2 1 .4 1 2.6 1 5.3 1 2.3 1-2.5 1 .6 1 .8 1-1.5 1 6 1 .4 1 7.7 1 2 1-1.5 1-1.9 1 3 1 3.4 1 2.2 1 5.6 1 3.4 1 8.8 1 .2 1-7 1-1.1 1 1.6 1 7.3 1 1 1-2.5 1 7.7 1 12.3 1 2.8 1 4.5 1-3.5 1 0 1-5.2 1 4.8 1 7.2 1 5.4 1-.2 1 2 1 8 1-2.8 1 3.5 1 7.7 1 4.7 1-6.8 1 5.3 1-3.6 1 10.6 1 2.9 1 1.5 1 1.4 1 3 1-6.6 1 9 1-3.2 1-5.7 1-.9 1 14.1 1-16.4 1 7.6 1 4.9 1 5.3 1 6.7 1 2.9 1-8 1 6.5 1 3.1 1-6 1 .6 1 .6 1-7.1 1-2.8 1 3.9"/><path vector-effect="non-scaling-stroke" d="M0,592.9l1 .2 1 5.8 1-5.8 1-3.2 1-2.7 1 0 1 2.1 1-1.2 1-4.3 1 2.7 1 1.5 1-6.4 1-13.4 1 9.6 1 5.9 1 2.3 1-2.2 1 3.1 1-13 1-4.1 1 8.1 1 1.7 1-9.9 1 .1 1 16.5 1-.5 1 1.8 1-13 1 3.6 1 3.1 1 6.6 1-5.8 1 7.2 1-4.2 1-1.3 1-7.5 1 4 1 5.8 1 1.8 1-8.2 1-1.8 1-4.1 1-6.1 1 1.9 1 .9 1-9 1-2.1 1 .5 1 9.4 1-6.2 1 8.1 1-7.1 1-6.8 1 9.2 1 5.4 1-6.5 1 2.6 1-8.5 1-1.8 1 .3 1 .2 1-7.4 1 1.8 1 4 1-4.5 1 3.4 1-4.6 1-7.8 1-10.9 1-4.3 1-.6 1-2.9 1 .6 1-3.4 1-10 1 10.4 1-4.5 1-5.2 1-5.3 1-.3 1 7.5 1-8.7 1-1.8 1-10.6 1 3.5 1-6.6 1-.7 1-6.7 1 .6 1-1.6 1 .3 1-9.8 1-3.4 1-3.7 1-9.5 1 2.4 1 3.2 1-1.6 1-4.2 1-.1 1-6.3 1-4.6 1-4.9 1-7.2 1-6.3 1-3.3 1 2.4 1-5.1 1-11.9 1-.7 1 .9 1-4.8 1-2.7 1 6 1-5.8 1 5.2 1-1.4 1-4.2 1 8.3 1-6.1 1-4.5 1-9.9 1-3.4 1-4.1 1 6.7 1 9 1-1.7 1-7 1-5.3 1-2.1 1 1 1 3.3 1 3.3 1-10.7 1-.7 1-3.9 1-4.3 1-7.3 1 1.8 1 5.3 1-1.5 1-7.9 1-.8 1-9 1 6.1 1 1.1 1-9.8 1-4.5 1-3.3 1-4.1 1-1.2 1-4.5 1 2.5 1-6.9 1-1 1-1.4 1 .5 1 5 1-2.3 1-4.1 1-2.4 1 2.8 1 3.3 1-2.2 1-1.9 1-8.2 1-2.1 1-.1 1-3.7 1-2.5 1-1.4 1-2.3 1-1 1-3.6 1-.6 1-.6 1-2.6 1-.4 1 .6 1-2.3 1 5.9 1-5.8 1-4.7 1 2.3 1-4.8 1 .6 1 4.4 1-6.7 1-7.2 1 3.7 1 1.1 1 0 1 0 1 1.2 1-5.9 1-2.6 1-.5 1 .8 1-.7 1-1.3 1 4.2 1-3.6 1-2.6 1 3.1 1-5.8 1 2.7 1 6.3 1 7.2 1-.8 1 4.5 1-2.2 1 0 1-3.2 1 6.4 1 4.4 1 3 1-.7 1 1.4 1 .4 1 5 1-7.5 1-1.4 1 4.1 1-5.4 1 3.5 1 7.5 1-5.7 1-2.7 1-7.3 1 .6 1 6 1-1.7 1 8.5 1-1.1 1 5.2 1-.7 1 9.3 1 2 1-7.5 1 3.7 1-2.9 1 2.5 1 3.2 1 3.1 1 4.5 1-4.6 1 1.9 1 5 1 7.6 1-2.8 1-1.9 1 .2 1 5.3 1 5.2 1 .7 1-7 1 7.4 1 3.1 1 1.7 1-2.6 1 6.8 1-.3 1 3.4 1 5.8 1 7.3 1-3.2 1-.4 1 11.3 1 1.2 1 12.9 1-6.7 1 1.8 1 3.9 1-4.1 1 2.9 1 5.8 1 9.3 1 1.2 1 3 1 5.6 1 4.9 1 13.4 1 1.5 1 2.6 1 3.9 1 1 1-14.8 1 5.1 1-3.6 1-.8 1 11.4 1 11.1 1-.4 1 1.9 1-1.2 1 2.6 1 4.4 1-7.2 1 13 1 6.8 1 2.3 1 5.6 1 4.6 1 4.7 1-6.1 1-.7 1 1.5 1-1.1 1-3.8 1 1.1 1-3.9 1 6.8 1 1.3 1 4.3 1 2.6 1 11.9 1 4.2 1 4.7 1-3.6 1-4.1 1 4.6 1 5.1 1 1.2 1 14.3 1 1.9 1-1.3 1 6.2 1-.1 1-4 1-4 1 3 1 2.3 1 9.9 1 6.8 1 2 1 .5 1 7.8 1 4.4 1-1 1-2.2 1 3 1-3.3 1 4.1 1-1 1-3.1 1 12.3 1 4.5 1 5.1 1 .7 1 1.2 1-4.5 1-3.7 1 5.3 1 .5 1-6.7 1 5.4 1 5.9 1-13.3 1 2.5 1 9.7 1-3.4 1 .4 1-1 1 3"/><path vector-effect="non-scaling-stroke" d="M0,593.8l1-8 1 10.6 1 10.5 1-9.1 1 2.6 1-1.7 1-5.6 1 5.3 1 2.8 1-5.4 1 .9 1-15.1 1 4.6 1 4.2 1 5.3 1-2.8 1 1.9 1 3.3 1-2.9 1 5.6 1-6.3 1-6.3 1-8 1-3.8 1 4.1 1 8.1 1 7.3 1-11.1 1 8.3 1 6.5 1 8.6 1-5.1 1-5 1-10.3 1 4.7 1 4.9 1-6.7 1 11.5 1-4.6 1 1.8 1 .1 1-5 1-1.5 1 2.7 1-10.7 1-4.2 1-16.4 1-9.9 1 9.8 1 7.5 1-1.5 1 0 1-11.2 1-.6 1-3.4 1 3.8 1 3.8 1-1.7 1-4.8 1 4.1 1-3.1 1-.6 1-1.8 1-2.4 1 8.8 1-8.8 1 5.5 1 8.4 1-8.6 1-.1 1-11.1 1-10.8 1 5.9 1-4.3 1 2.2 1-16.7 1-4.2 1-7.4 1 4.6 1-2.7 1-1.8 1-6.8 1-1.9 1 1.2 1-3.5 1-4.9 1 15.9 1-15.2 1-4.4 1-3.4 1-4 1-4.2 1-.9 1-11 1-4.1 1-5 1-3.5 1-3.3 1-5.7 1-11.4 1 4.6 1 1.3 1-1.1 1 4.2 1-12.2 1-1.6 1 0 1 7.5 1-7.3 1 2.9 1 3.4 1-12.2 1-12.9 1-3.4 1-1.3 1 2.5 1-1.2 1 2.1 1 5.6 1 1.1 1-6.2 1-.8 1-10.9 1-4.4 1-5 1 2.8 1 1.5 1-2.4 1-1.2 1-.2 1-8 1-3.6 1-2.5 1-6.4 1-1.9 1-4.1 1 7.1 1-3.3 1-2.3 1-12.2 1-2.1 1 2.3 1 5.5 1 .6 1-6.8 1-1.6 1-6.5 1-4.1 1 1.4 1-6.5 1-2.7 1-6.6 1-5.2 1-4.6 1-.8 1 2.3 1 4.9 1-1.9 1 .3 1 4.7 1-7.3 1-1.5 1-7.8 1-9.4 1 2.6 1-1.9 1 4.6 1 .4 1-.7 1-.6 1 .4 1-1 1-4.8 1-2.2 1 .8 1 3.1 1 .7 1-5.5 1-1 1-5.2 1-.1 1 .5 1-4.7 1-1 1 2.1 1 1.5 1-.3 1-2.9 1 .3 1-2.6 1-.2 1 1.4 1 1.8 1 1.4 1-9.9 1 1 1-1.5 1 .5 1-7.6 1 5.3 1-.6 1 5.7 1-5.3 1 2.6 1 4.5 1 .7 1 .4 1-6.2 1 2 1 1 1 7.1 1 1.8 1-4.8 1-4.6 1 6.5 1 .5 1 3.5 1-.3 1 3.8 1 2.1 1 .5 1-1.8 1-3 1-2.4 1-.9 1 1.1 1 .3 1 0 1 5.6 1-4.9 1 9.4 1 3.1 1-2.9 1-.4 1 6.8 1-.7 1-1.9 1 5.9 1 3.4 1 2.1 1-5.2 1 7.2 1 1.7 1 2.3 1-2.2 1 12.7 1 .8 1-1.6 1-1.2 1 6.1 1 .6 1-8.8 1 5.5 1 4.1 1 7.3 1 1.6 1 5.4 1-1.5 1 1.5 1-3 1 4.9 1-2.1 1 4 1 5.3 1-1.9 1 13.4 1 .7 1-2.7 1 6.8 1 3.9 1 .9 1 3.5 1 1 1-3.8 1 .5 1 3.8 1 7.1 1 1.1 1 5.4 1 13 1 3.1 1 1.4 1-.5 1 4.8 1 5.3 1-2.2 1 2.4 1 .8 1 3.7 1 5.7 1 6.1 1 .2 1 7.6 1-1.6 1 3.7 1 3.3 1 6.1 1-4.5 1 4.8 1 5.3 1 7.7 1 6.4 1-3.9 1-.2 1 3.9 1 0 1 9.6 1 8.5 1 7.2 1 .4 1 4.6 1 1.1 1 8.4 1 .3 1-.2 1-.1 1 3.8 1-2.2 1-5.1 1 2 1 .7 1 2.7 1 2.1 1 4.9 1-11.5 1 6.1 1-6.2 1 3.7 1-2.9 1 4.3 1 5.7 1 5.3 1 7.4 1 5.1 1-3.7 1-2.2 1-8.9 1 6.1 1 21.6 1 6 1-8.1 1-1.1 1-4.3 1 7.4 1 2.2 1 9.8 1-7 1-7 1-3.7 1 6.1 1 3 1-3.4 1 3.4 1 .8 1 1.1 1 4.3 1-.8 1-4 1-.8 1 1.7 1-2.5 1 1.3 1-.2 1 12.1"/><path vector-effect="non-scaling-stroke" d="M0,579.6l1 5.1 1-7.5 1-3.3 1-1.4 1 5.8 1 .5 1-7.9 1 3 1-3.9 1-2 1 .6 1 2.5 1-7.9 1 .3 1-.3 1 9.5 1-4.3 1 10.5 1-8.6 1 10.8 1-2.3 1-5.6 1 2.1 1-.4 1-7 1 9.2 1 2.6 1 2.7 1-10.7 1-7.5 1 .9 1-3.7 1-.3 1-8.4 1-8.2 1 3.1 1-1 1 10 1-3.1 1 6.8 1 1.5 1-8.8 1-.7 1 .2 1-9.2 1-6.1 1 5 1-1.6 1 .6 1-1.2 1-1.8 1-18.9 1 5.2 1 10.2 1-6.3 1-9 1 6.1 1-2.6 1 7.6 1-2 1-8.3 1-9.5 1 4 1-10 1-3.1 1 8.5 1 8 1-6.4 1 .9 1 2 1-16.1 1 19 1-5.3 1-.9 1-7.3 1 .6 1-11.1 1-12.5 1 5.1 1 2.4 1 3.2 1-16.4 1 4 1-8.7 1-6.4 1-2.7 1-1.2 1-8.4 1 0 1 .1 1-.4 1-5.8 1 1 1-6.3 1-2.3 1-7.5 1-5.4 1-5.6 1 3.8 1 5 1-2.1 1 7.4 1-5.3 1-7.8 1-5.9 1-5.7 1 1.1 1 5.6 1-8.6 1-3.1 1 4.6 1-5.3 1 2.1 1-2.7 1-9.3 1-9.1 1-7.2 1 9.2 1-6.9 1-3.6 1-2.2 1 1.5 1-4.9 1 7.4 1 .1 1 .8 1 .8 1-9.1 1-1.4 1-.2 1-1.6 1-2 1-6.4 1-.5 1-3 1-1.4 1 1.5 1-1.2 1-1.4 1-6.7 1-9.9 1-2 1-4.1 1-1.5 1 .3 1-2.3 1-8.5 1-4.3 1-3.2 1 1.7 1-3 1 1.2 1-8.3 1 4.9 1 .7 1-8.5 1 .4 1-.6 1-3.7 1 .3 1-3.1 1-4.5 1 5.3 1 2 1-1.1 1 .6 1-1.2 1-1.9 1-3.6 1-5.3 1-.2 1 .9 1 1 1-3.8 1-3.5 1-2.5 1-3.5 1 6.6 1 .2 1-4.3 1-3.1 1-1.9 1-.7 1-1.8 1 3.2 1-4.8 1 .5 1 .4 1-6.5 1-6.7 1 1.5 1-1 1 2.8 1 1.1 1-3.3 1 6.1 1 2.3 1-3.7 1 2.9 1-5.5 1 2.4 1-.6 1-5.2 1 1.7 1-3.7 1 5.6 1-3.5 1-.1 1 5.1 1-.2 1 3.3 1 5.4 1-3.7 1-1.1 1 3.1 1 4.6 1-1.9 1 .5 1 2.7 1 .8 1-6.2 1-1.5 1-2.1 1-2.2 1-6.4 1-.1 1 6.9 1-.6 1-.6 1 2.3 1 2.4 1 6 1 3.2 1 .5 1 8.7 1 .9 1 5.6 1 0 1 6.8 1-1.9 1 .7 1 3 1 6.4 1 .6 1-.4 1 2.5 1-1 1-2.8 1 2.8 1 4.1 1 3.2 1 6.4 1-1.9 1-3.1 1 5.8 1-2.3 1 9 1 6.5 1-3.3 1-.3 1-1.9 1 4.8 1 5.9 1 4.4 1-2.6 1 .4 1 .4 1 6.8 1-3 1 5 1 8.7 1 3.4 1 7.3 1-4.7 1 6.5 1 2.3 1 3.5 1 6.7 1 5.7 1-2.5 1 7.5 1-.6 1-3.9 1-.2 1 7.6 1 3.2 1 7.1 1 4.7 1 7.4 1 2.5 1-2.5 1 5.2 1 7.7 1-4.2 1 3.6 1-2.3 1 5.8 1-2 1 12.1 1 5.2 1 2.6 1-3.5 1 .9 1 1 1 1.7 1-1.4 1 8.1 1 11.7 1 2.5 1-2.1 1-.1 1 4.1 1 1 1 2.9 1 7.3 1 3.3 1-6.9 1 1.5 1-2.5 1 8.4 1 3.6 1-7.6 1 7.8 1-.4 1-4.7 1-.7 1 8.3 1 4.3 1 .5 1 8.6 1-3.2 1 6.5 1 6.5 1 4.1 1 3.2 1 3.5 1-7.8 1 1.8 1 .9 1 4.2 1-1.1 1-10.3 1 2.4 1 8.1 1-.8 1 2.1 1 4 1 3.1 1 11.8 1-6.7 1 2 1 1.7 1-5 1-6 1 12.7 1 5.2 1-5.7 1 6.8 1 2 1 1 1-7.6 1 3.3 1-3.6 1-10.3"/><path vector-effect="non-scaling-stroke" d="M0,564.9l1 4.6 1 4.3 1 .7 1 2.4 1-8.5 1 5.3 1-1.2 1 3.8 1 5.1 1 2.4 1-3.5 1 3.1 1-12.4 1 10.1 1 2.2 1-3.5 1-4.4 1 1.5 1 6.5 1 2.7 1-13.2 1-5.2 1 3.3 1-3.7 1 .7 1-6.4 1 4.4 1-.7 1-3.6 1-4 1-5.1 1-1.8 1-1.1 1 1.5 1-3.4 1-5 1-3.4 1 .9 1-4.6 1 .9 1 7.1 1-3.5 1 5.1 1-4 1 2.8 1-1.2 1-4.3 1-.4 1-3.2 1-10.3 1 18.2 1-5.6 1-6.5 1-1.7 1-4.8 1-6.7 1-2.6 1-13.4 1 14.2 1-3.5 1-10.5 1 3.5 1 11.8 1-9.3 1-2.4 1 3.1 1-.6 1 .4 1-2.8 1 4.6 1-9.5 1 1.2 1 3.2 1-6.7 1 3.7 1-6.3 1-3.5 1-4.7 1-5.8 1 .3 1-1.5 1 .9 1 4.5 1 1.5 1-.3 1-8.2 1-.2 1-11.5 1-11.2 1 3.6 1-3.3 1-6.6 1-6.9 1-5.7 1-7.2 1 4.1 1-6.6 1 1.5 1-2.4 1-7.6 1-9.6 1 3.9 1 3.6 1 1.7 1-3.1 1-10.7 1 1.2 1-1.2 1-7 1 .3 1-7.7 1 2.3 1-2.3 1-4 1-7.7 1 5.9 1-6.3 1-.1 1 .4 1 3.7 1 .9 1 2.5 1-10.4 1-1 1-.2 1-9.6 1-3.4 1 4 1 4 1-.2 1 6.5 1-8.9 1 4.6 1 .4 1-3.7 1 2 1-6 1-6.5 1-.1 1-5.4 1 .4 1-2.2 1 1.3 1-10 1-.1 1-5.8 1 5.6 1-4.9 1-11 1 .7 1 6.2 1-1.9 1 1.9 1-1 1-1.1 1-7.2 1 6.6 1-7 1-9.1 1-3.1 1-4.1 1-1 1-2.9 1-6.1 1 5.6 1 .1 1-3.5 1 .6 1-1.5 1-.5 1-4.4 1 1.5 1-5.4 1-.2 1-2.6 1 3.5 1-5 1 1.7 1-3.4 1-4 1-2.6 1 1.7 1-5 1-1.4 1-4.1 1-6.8 1 7.2 1-2 1 1.9 1-3.7 1-6 1-.8 1 4.8 1 3.8 1-.1 1-1.5 1-.6 1 1.2 1-3 1 .6 1-1.2 1-1.3 1 3.6 1-2.6 1-2.5 1-.7 1-3.8 1 1.3 1 1 1-2.6 1 2.2 1 2.6 1 1.2 1 .3 1 3.1 1 3.2 1 .3 1-3.9 1 .8 1-.8 1-1.5 1 2.6 1 .1 1 1.4 1-.1 1-1.1 1-5.5 1 7.1 1 7.4 1-2 1-4.8 1 6.7 1 9.9 1-1.3 1 2.6 1 13.7 1 7.6 1-5.3 1 .3 1-2 1 7.5 1-5.5 1 3 1 8.7 1-1.6 1 3.6 1 2.9 1 2 1 6.6 1-6.2 1-1.5 1 3.8 1 3.6 1-7.3 1 11.1 1 9 1-.3 1-1.2 1-5 1 2.9 1 .5 1 8.5 1-.7 1 1.9 1 1.3 1 7.7 1-.7 1 2.3 1 0 1 8.1 1-5.1 1 10.8 1-2.7 1 2.5 1-5.7 1 6.7 1 5.7 1 9.1 1-1 1 2.7 1 8.4 1-1.3 1 5.4 1-6.3 1 13.4 1-4.7 1 2.3 1 8.9 1 1.3 1 5.6 1 .7 1 7.8 1 7.1 1-6.4 1-3.8 1 7.1 1 9.1 1 2.2 1-1.1 1-2.1 1-1.3 1 2.4 1 6.8 1-1.6 1-2.3 1 5 1 6 1 4.3 1 10.6 1 1.9 1 8.3 1-1.7 1-1.3 1 2.6 1-12.7 1 8 1 9.3 1 7.3 1-6.9 1 9.7 1-6.4 1 6.3 1 4 1 2.6 1-4.1 1 17.2 1 3.5 1 6.8 1-1.3 1-2.5 1-3.1 1-3.1 1 1.8 1 7.7 1-1.5 1 6.9 1-2.7 1 4.4 1 11.1 1-6.1 1 1.6 1-3 1 5 1 6.7 1-11.8 1-3.9 1 4.5 1 11.2 1 7.5 1-.5 1-3 1 3.6 1 0 1 5.8 1 2.7 1-6.1 1 2 1-4.9 1 0 1 4.3 1-4.5 1 8 1-7.2 1 7.1"/><path vector-effect="non-scaling-stroke" d="M0,592.3l1 4.3 1-.6 1 10.3 1-.7 1 .6 1-1.7 1 6.1 1-5.9 1-4.6 1 .3 1-.4 1-8.6 1 6.7 1 .3 1-2.3 1-11.3 1 5.6 1-8.1 1 .6 1 6.5 1 10.1 1-6.6 1-13.3 1-8.7 1-1 1-6.5 1 16.8 1-1.2 1 8.3 1-11.7 1 4.1 1 3.2 1 3.5 1 .2 1-4.5 1-1.4 1-1.3 1 1.9 1-12.8 1-3.9 1 2.7 1 1.4 1-2.8 1-4.5 1-5.3 1 6.1 1 8.4 1-24.4 1 13.1 1 5 1 2.2 1-12.1 1-6.6 1-.4 1 5.2 1-2.9 1 3.9 1-8 1 10.9 1-3.5 1 .5 1 .1 1-8.8 1-1.8 1-1.3 1-2.8 1 2.6 1-11.2 1-.1 1 1.9 1-6 1-5.2 1-3.4 1 2.4 1-5 1-2.6 1-2.1 1-5.7 1 4.8 1-2.4 1-8.2 1 1.6 1-2.5 1 .2 1-4 1-2 1-1.6 1-2.2 1-9.7 1 2 1-5.2 1-5.5 1-.2 1-.4 1-.5 1-3.1 1-14.4 1 .4 1-6.5 1-6.4 1 3.1 1 3.9 1-4.6 1-1.1 1 .6 1-5.7 1-8.7 1-13.5 1 4.6 1 4.2 1 .5 1 4.5 1 .6 1-3.2 1 1 1-3.8 1-3.3 1-5.9 1 1.5 1-9 1-1.1 1-7.3 1 1.8 1-4.6 1-.9 1-8.9 1 4.5 1-5.3 1-1.2 1-5.8 1-1.7 1 1.4 1 .6 1-6.7 1 2.3 1-7.7 1 3.7 1-1.3 1 3.4 1-5.4 1-11.9 1-7.2 1 .2 1-3.8 1 3.7 1 .1 1 .3 1-8.4 1 2.1 1-1.6 1-7.4 1-3.2 1-4.7 1-10.1 1 .3 1 2.6 1 .3 1 1.2 1-1.8 1-.4 1-4 1-3 1-.8 1-5 1 .1 1 3.4 1-1.3 1-6.4 1 1.9 1 1 1-.8 1 .4 1 7.6 1-6.4 1-.4 1-.2 1-4.3 1 2.9 1-3 1-3.9 1-2.4 1-2.4 1-7.4 1-5 1 1.9 1-.2 1-7 1-2.6 1-.5 1 3.9 1-.3 1 3 1 2.2 1-5.7 1 1.6 1-.6 1-4.2 1 .1 1-6 1 3.2 1-3 1 .2 1 4 1 5.5 1 5.2 1 1.4 1-4.1 1-1.3 1 2.7 1 1.5 1 8.2 1-.2 1-3.3 1-2.8 1 3.7 1 5.2 1-.5 1 5.7 1-1.5 1-2.4 1 1.2 1 6.6 1-10.5 1-7.3 1 2.4 1-2.8 1 1 1 .7 1-5.3 1 .7 1 9.8 1 6.4 1-1.7 1 1.2 1-3.2 1 5.1 1 2.3 1 2.7 1 4.5 1 4.6 1 .4 1 2.4 1 4.9 1 .7 1 6.8 1-1.3 1 1.5 1 5.7 1-2.8 1 1.5 1 4 1 2.1 1 11.9 1-1.4 1 1.7 1-6.9 1 8.7 1 4.8 1-5.5 1-.7 1 7.6 1 1.2 1 5.8 1 3.9 1 3.5 1 9.3 1 2.1 1 .9 1 6.1 1-12.1 1 9.2 1 .2 1 1.4 1 8.8 1-4.3 1 .9 1 8.3 1 4.8 1-4.3 1 11.4 1 .7 1 8.3 1-2.7 1 5.9 1 2.2 1 .7 1-.6 1 2.4 1-2.8 1 4.1 1 3.4 1 .4 1-.1 1 2.1 1 6.8 1 3.1 1 .3 1 8.6 1 8.1 1-8.2 1 4.7 1 4.2 1 1.5 1-4.5 1 3.1 1-4.3 1 6.2 1 7.8 1 14 1 1.6 1-6.2 1 11.9 1 2.3 1 1.4 1 2 1-.1 1 2.8 1-2.1 1 3 1 1.1 1-.4 1-6 1 17.2 1 8.2 1 1.3 1 3.9 1-10.2 1 5.5 1 7 1 6.2 1-9.3 1-1.2 1 8.3 1 7.8 1-2.4 1-.2 1 7.1 1 .6 1 11 1-1.8 1 5.9 1-.2 1-.9 1 8.5 1-4.1 1-1.9 1 14 1 7 1-7 1-3.6 1-3.1 1 7.6 1 12.7 1 .6 1 5.2 1-6.8 1-3.9 1-3.3 1-1.6 1 5.6 1 5.5 1-9.6 1 .6 1-.1"/><path vector-effect="non-scaling-stroke" d="M0,564.3l1 6.1 1-.7 1 5.7 1 4.7 1 4.3 1-8.8 1 1.4 1 1.1 1 .7 1 4.5 1 4.9 1-.1 1 3.9 1-5.3 1-10 1 3.7 1 6.3 1 11.7 1 2.1 1-5.8 1-10.5 1-2.1 1 5.4 1-3.3 1 8 1-1.9 1 .5 1-5.7 1 1.5 1-6.2 1-4.4 1-5.3 1 6.3 1 5.2 1-8.1 1-7.3 1 7.5 1-1.3 1 3.5 1-13.6 1-6.4 1 4.6 1 3.2 1-4.5 1 1.6 1-.1 1 3.2 1 1 1-11.6 1-2.8 1 6.4 1 14.8 1-9.6 1-7.4 1-8.9 1-6.5 1 3.4 1-4.6 1 3.6 1 5.2 1-2.6 1 .5 1-6.3 1-.4 1-7.9 1-6 1 6 1 5.6 1-12.6 1-1.9 1-5.8 1 3.3 1 4 1-7.3 1-9.9 1-5.7 1 1.1 1-1.3 1-.1 1-2.4 1-2.5 1-1.7 1 .4 1-5.6 1 6.3 1-4.8 1-4.1 1-2.7 1 .4 1 2.5 1-6.8 1-3.7 1-9.1 1-5.8 1 .3 1-6.3 1 6.2 1 2.8 1 .4 1-16.9 1 4.2 1 2.9 1-5.2 1-7.4 1-3.1 1 1.9 1-2.1 1-7.9 1-5.9 1-10.1 1 .1 1 .2 1-5.6 1 2.1 1-3.6 1-3 1-2.4 1 2.9 1-5.8 1-1.3 1-2.3 1-4.1 1-2.3 1 1.9 1-1.3 1 3 1-4.8 1-2.4 1-12.1 1 4.6 1-4 1-8.9 1 .2 1-7.1 1 8.2 1-10.3 1-.6 1-5.6 1-3.4 1-5.4 1-.8 1-2.7 1-.9 1-7 1-2.2 1 .9 1-2.1 1-2.4 1-4.4 1 5.5 1-2.2 1-3.2 1-1 1 2.7 1 0 1-4.7 1-3.3 1-4.2 1 5.1 1-5.5 1 2.1 1-1.5 1-4.5 1-2.8 1 .8 1 3.4 1 1.4 1-2.4 1-1.3 1-.8 1-4.1 1-2.4 1-1.2 1-1.1 1-6 1-3.1 1-1.1 1 2.5 1-5.2 1-3.6 1 1.9 1-.3 1-2.8 1 3.8 1-4.4 1-.5 1 2.8 1-7.8 1 .4 1-5.6 1-3.5 1 .7 1-4.4 1 7.9 1 8.1 1-1.6 1-1.3 1 .1 1 2 1-3.2 1-.9 1 1.2 1-7.4 1-3.3 1 11.8 1-6.3 1 1.2 1 6.9 1-2.3 1 2.4 1-2 1-.4 1 2.8 1 .4 1 8.2 1-5.8 1-3.2 1 1.7 1-2.8 1 4.6 1-1.9 1 1.4 1 4.5 1 4.1 1 1.6 1 .2 1 3.7 1-7.5 1 1.8 1 2.4 1 5.5 1 1.7 1 .1 1 3.9 1 1.8 1 6 1 2.2 1 3.8 1-3.5 1-.5 1 8.8 1 3.1 1 6.8 1-7.9 1 8.7 1-1.8 1 4.5 1 7.9 1-2.6 1 6.1 1 3.6 1 1.1 1 13.6 1-6.4 1-2.6 1 4.4 1-4.3 1-1.7 1-5.4 1 8.7 1 3.7 1-1.7 1 1.7 1 4.3 1 1.3 1 4.2 1-4.1 1-4.1 1 3.2 1 6.5 1 3.3 1 3.6 1 5.4 1 1.8 1-4.6 1 6.4 1 3.7 1 5.5 1-6.8 1 6.4 1 2.4 1 11 1 9.4 1-7.1 1-5.3 1 10.3 1 7.5 1 2.7 1-.1 1 6 1 4.5 1-.2 1-3.8 1 3.2 1 5.3 1-2.2 1 6.9 1 5.4 1 5.1 1 3.7 1 10.9 1 1.5 1-4.7 1 2.1 1 7.3 1-1.2 1 5 1 1 1 4.8 1 2 1-.2 1 5.8 1 2.1 1-3.8 1 2.2 1 8.3 1 5.2 1 4 1-4 1-.5 1 .5 1 .3 1 3.6 1-3.5 1 6.3 1-3.5 1 4 1 6.9 1 7.5 1 4.8 1 5.1 1 1.7 1-5.9 1 4.3 1 9.8 1-4.9 1 2.6 1 5.7 1-4.3 1 5.4 1-7.4 1-5.3 1 3.6 1 9.5 1 1.6 1 5.3 1 2.7 1 3.7 1-11.6 1 10.7 1 6.7 1-6.7 1 5.1 1 3.6 1 6.5 1 4.1 1-12.1 1-4 1-.4 1 1.9 1 9.2 1 1.3 1 3.5 1-6.8"/><path vector-effect="non-scaling-stroke" d="M0,563.2l1 4.3 1-1 1-.6 1 4.2 1-.5 1 1.8 1 7.3 1-3 1-2.9 1 .4 1-5.4 1-6 1-4.3 1 7.6 1-4.1 1 18.6 1-1.7 1-3 1 5.5 1-4.1 1-9.7 1 5.4 1-11.7 1-2 1 10.4 1 3.5 1-8.5 1-8.8 1 10.6 1 .3 1 8.1 1-2.3 1 2 1-7.9 1 .7 1 1.4 1 3.6 1 5.3 1 .3 1-7 1-8.3 1 3.2 1-3.4 1 4.4 1-3.5 1-7.2 1-3.9 1-4 1-4.5 1 3 1 6.4 1-8.6 1-3.2 1-10.5 1-.7 1 4.4 1-3.2 1-4.7 1 4.7 1 8.2 1-11.6 1-4.9 1-6 1 2.2 1-4.1 1-3.2 1-2.5 1-6.6 1 5.2 1 2.7 1-7.5 1 5.7 1-5.9 1-.6 1 1.7 1-4.1 1-1.8 1-8.8 1-3.7 1 2.7 1-1.3 1-2 1-4.4 1-7.5 1-2.9 1-11 1-1.3 1 0 1 6 1-3.3 1-2.8 1-7.2 1-6.2 1-4.3 1 7.9 1-6.4 1-11 1 9.3 1-1.8 1-8.2 1-2.9 1 6.6 1-3.8 1-7.4 1-10.9 1-4.7 1 4.1 1-1.6 1 3.9 1 3.8 1-11.9 1 2.5 1-1.3 1-8.5 1 4.5 1-7.1 1-7.1 1 2.6 1-9.7 1-1.3 1-5.3 1-5.6 1 3.1 1 6 1-1 1 1.4 1 .5 1-8.8 1-.1 1-8.2 1 8.2 1-6.2 1 3.7 1-6.8 1-6.3 1-.7 1-5.2 1-5.9 1-11.4 1 5 1-1.2 1 5.5 1-7.5 1 0 1-8 1-4.3 1 1 1 .2 1 5.5 1-4.5 1-2.4 1-3.1 1-2.6 1 1.4 1-6.2 1-6.2 1-3.7 1 6.7 1 2.7 1-3 1 2.4 1-2.6 1 2.2 1-1.7 1-2.3 1-9.7 1-8.5 1 4.6 1-1.8 1 4.8 1-4.7 1 1.2 1-3.8 1-3.5 1-4.4 1-3.9 1 1 1-3.1 1-2 1-1.9 1 .4 1-4.1 1 .1 1 4.9 1-1.4 1-1.3 1-5 1 4.4 1 2.4 1-1.6 1 2.9 1 2.4 1-.6 1-2.3 1-2.3 1 3 1 .7 1-9.4 1-2.5 1-.6 1 9.4 1-.9 1-5.9 1 2.7 1-4.7 1 4.5 1 2.2 1-6.2 1 2.3 1 6.7 1-7.3 1 3 1-1.7 1 6.1 1-.4 1 3.6 1-5.7 1-1.7 1-.2 1-4.3 1 3.6 1-4.2 1-1.7 1 2.9 1-5.9 1 4 1 .8 1 7 1 .9 1 3 1-.4 1 2.4 1-1.8 1 1.4 1 1.6 1 9.2 1 3 1 .8 1 1.1 1-3.6 1 .1 1-.8 1 3.2 1-.3 1-2.8 1 4.6 1 3.7 1 2.4 1 1.2 1 1.2 1 8.3 1-4.6 1-.7 1 3.2 1 4.2 1 5.7 1 1.7 1 5.7 1-2.9 1 1.1 1 1.1 1-.7 1 2.3 1 8.1 1 5.2 1 3.3 1 3.8 1 15.6 1 .5 1-2.1 1 5 1-7 1 8.1 1-.6 1 4.9 1 9.9 1-.1 1 8.9 1-4.8 1-3.2 1 6 1 5.6 1 5.7 1-2.8 1 1.7 1 2.6 1 4.1 1 4.6 1-3.2 1 7 1 .9 1 11.2 1-.3 1 9.5 1-4.8 1 8.1 1-.7 1-4 1 10.1 1 1.3 1 4 1-1.6 1 1.6 1 4.7 1 2.2 1 10.6 1 1 1-5 1 5.9 1 2.4 1-3.8 1-1 1-.8 1 4.5 1-2.4 1-1.9 1 5.2 1-4.5 1 11.1 1 3.8 1 4.5 1 11.4 1 5.6 1 1.1 1 9.3 1 1.7 1 2.4 1-7.9 1 7.6 1 2.4 1 3.8 1-9.2 1 0 1 2.7 1-.9 1-.3 1 13.1 1 1.9 1-4.3 1 10.2 1-.5 1-.1 1 1.4 1 3.7 1 8.4 1 4.3 1-3.3 1 .1 1 1.9 1 4.5 1-5.4 1 9.7 1 5.4 1-6.2 1-.9 1 3.4 1 1.6 1 1.9 1 .8 1 2.1 1-6.8 1 1.9 1-3.4 1-9"/><path vector-effect="non-scaling-stroke" d="M0,555.6l1-3 1 4.4 1 5 1 3 1 13.3 1 7.2 1-2 1-5.1 1 1.9 1-1.7 1 .5 1 4.6 1 14 1-8.9 1-3 1 3.2 1-5.3 1 .2 1-5.3 1 1.4 1-3 1 6.5 1-.9 1 4.6 1 5.1 1-3.6 1-2.8 1 .1 1-9 1-.9 1 2.5 1-10 1-9.4 1 10.6 1-6.2 1 4 1-6.9 1 12.8 1-8.1 1 4.5 1-19 1 7.8 1 2.9 1 4 1-5.7 1-3.7 1-.3 1-6.3 1 1.5 1-3.6 1-4.8 1 1 1-2.8 1-4.9 1 3.3 1-8.7 1-7.3 1 0 1 2.7 1 14.5 1-5.4 1-7.8 1-1.5 1-6.5 1-4.7 1 10.2 1 4.5 1 7.6 1-4.4 1-7 1-8.1 1-12.1 1 5.6 1 2.8 1 .1 1-1.8 1-7.2 1 4.9 1-1.3 1-4.9 1-4.6 1 1 1-15.4 1-1 1-11.5 1 2.4 1-3.8 1 1.4 1-5.9 1-4.2 1 7.2 1-1.2 1 3.3 1-8.1 1-4.9 1 1.1 1-9 1 5.7 1-3 1-3.4 1 8.7 1-8.9 1-4.8 1 2.2 1-5.1 1-5 1-7.4 1 5.4 1-6 1-5.5 1-1.1 1-2.5 1-5.5 1 1.1 1-5.1 1-3.6 1 2.9 1-2.9 1-1.3 1-3.7 1-2.1 1-.6 1 2.6 1-8.1 1-4.8 1-2.4 1 1.2 1 5.2 1-7.3 1-.5 1-2.6 1 3.3 1-6.9 1 3.3 1-2.6 1-2.4 1-12.7 1-2.4 1 1.2 1-5.1 1 .6 1-5.5 1 5.1 1-7.6 1-10 1-1.1 1 1.4 1 .5 1-.6 1-.4 1 4.8 1-1.7 1-10.1 1-1.8 1-1.1 1-3.3 1-10.3 1 7.2 1-6.9 1-5.9 1 1 1-2.7 1-1.7 1 1.6 1 1 1-4.1 1 5.2 1-5.6 1-.5 1 1.6 1-.6 1-1.1 1 .2 1-10.8 1 1.6 1 2.3 1-4.1 1-8.3 1 5.7 1-4.2 1 5.8 1 0 1-8.5 1-1.1 1 1.3 1 .8 1-1.6 1 1.2 1 5.5 1-.4 1-.6 1 .6 1-2.7 1-2.7 1-1.6 1-4.2 1-1 1 .9 1-1.6 1-1.6 1-2.2 1-1.5 1 2.1 1-3.6 1 3 1 1.1 1 7.8 1-.3 1 .4 1 .1 1-.6 1 1.3 1-2.5 1-5.8 1 4.1 1-3.6 1 3 1 2.3 1-2.2 1 4.6 1 1 1-3.6 1-5.1 1 10 1-4 1 2.3 1-.2 1-.9 1 4.8 1-3.7 1 2.6 1 2.3 1-2.8 1 4.2 1 1.8 1-3.5 1 .4 1 2.4 1 9.5 1 5.1 1-1.9 1 7.7 1 3.6 1 6.5 1 3.6 1-3 1 .6 1 4.6 1 3 1-2.5 1-1.1 1 1.5 1 9.5 1-4.3 1-3.8 1 5.2 1 .4 1 .3 1 4.3 1 5.8 1-4.5 1 7.7 1 4.8 1 5.9 1-1.1 1-3.2 1 6 1 3.5 1 11 1 4.9 1 2.7 1-1.8 1-.2 1-1.8 1 4.7 1 1.2 1-2.1 1 7 1 3.1 1-4.8 1 5.6 1 1.1 1 8.5 1 5.8 1 2.4 1 .9 1 6.5 1 5.1 1 8.4 1 .1 1 8.8 1-9.5 1-.8 1-3.3 1 7.6 1 5.5 1-.1 1 8.8 1 3.5 1-3 1-1 1-3.2 1 1.4 1 .7 1-2.9 1-.9 1 10.7 1 6.7 1 1.5 1 6.9 1 3.3 1 3.4 1 1.3 1 11.7 1-.3 1-3.2 1 10.5 1-2.7 1-.6 1 2.9 1 4.3 1-6.8 1 8.8 1 5.4 1-2.2 1 3.2 1 4.4 1 6.2 1 12.3 1 4.3 1-12.7 1 4.9 1 2.4 1-.7 1 2.1 1-4.8 1 3.7 1 11.3 1-14.9 1 3.8 1 2.9 1 17.9 1 1.1 1 8.3 1-7.7 1 1.4 1 7.4 1 4.3 1-5.8 1 2.3 1-11.6 1 3.6 1-3.7 1 .9 1 4.4 1 5.2 1-.7 1 8.8 1-6.9 1-8.1 1 1.4 1-.7 1 8 1 1.7"/><path vector-effect="non-scaling-stroke" d="M0,576.5l1 2.8 1-5.4 1-2.3 1-8.9 1 10.7 1-4.3 1 7.1 1 1.7 1-1 1-15.7 1 8.4 1 7.4 1-4.6 1-3.3 1 12.8 1-2.6 1-7.9 1-7.1 1 1.8 1 4 1 5.1 1-4.2 1-9 1 12 1 5.9 1 1.5 1-4 1-7.4 1-3.2 1-.9 1 6.8 1-9.5 1 .1 1 1.4 1-4.3 1-1.8 1 1.1 1-.4 1-1.6 1-8.9 1 3 1-4.6 1-1 1 1.3 1-.4 1 0 1-10.3 1-1.8 1 .4 1-2.7 1-3.1 1-4.1 1-1.5 1-4.6 1 3.2 1-24.9 1 7.3 1 4.7 1 8.5 1 4.7 1 3 1-3 1 6.6 1-5.1 1-11.8 1-1.8 1 8.1 1-3.1 1-4.6 1-1.8 1 2.2 1-1.7 1 1.7 1-5.6 1 2.3 1-10.5 1 2.3 1-11.1 1 8.2 1 1.5 1-8.2 1-5.3 1-3.8 1 1 1 .1 1-9.9 1 4.1 1-5.4 1 9.4 1-6 1-6.8 1 1.7 1-7.5 1-9.4 1-9.5 1 2.3 1-3.2 1-1.1 1 7.5 1-6.6 1-10.4 1-4.4 1-1.9 1-6.2 1-3.4 1-8.4 1 4.9 1-3.7 1 3.6 1-8.6 1-3 1-1.7 1 7.1 1-4.6 1-3.8 1-8.5 1 3.4 1 1.4 1-.3 1-5.2 1-4.8 1-3.5 1-2 1-6 1 0 1 3.2 1 1.8 1-8.6 1 3.7 1-.7 1-6.7 1-3.9 1-2.7 1-5.5 1-.6 1 3.4 1-4.6 1-9.1 1-3.6 1-7.2 1 2.3 1-2.1 1-1.3 1-1.9 1 3.6 1-3.4 1 3.9 1-6.6 1-.7 1-3.3 1-1.3 1-1.9 1-4.5 1-.3 1 2.1 1-5.7 1-1.6 1-1.1 1-.2 1 .8 1-6.8 1 .6 1 .9 1-4 1 2 1 2.8 1-5.7 1-5.1 1-1.9 1-2 1-.9 1-3.1 1-2 1-2.4 1-6.9 1 2.6 1-2.4 1-3 1 2.4 1-9.4 1-.3 1 6.1 1-5.7 1 2.2 1 4.2 1-.5 1-1.9 1 5.6 1-1.6 1-7 1-8.1 1-.2 1 2.4 1-5.1 1 7 1-2.6 1-3.5 1 1.4 1-.7 1-1.4 1-2.6 1-5.7 1-4.6 1 6.4 1 .2 1 .6 1-5 1 .6 1 3.1 1 .4 1 2.3 1 6.1 1 1.9 1-.9 1 .2 1 7.5 1 2.3 1 .2 1-4.3 1 0 1 6.9 1-4.5 1-6.2 1-1.9 1-5.2 1 1.2 1 2.3 1-1.5 1-.5 1-2.8 1 4.9 1 1.1 1 1.6 1 6.6 1-2.7 1 6.2 1 1.9 1 1.4 1 8.3 1 2.6 1 3.8 1 7.2 1 1.6 1-.5 1 5 1 2.6 1 .8 1-3.1 1 1.2 1 3.2 1 6.5 1 2 1 6.6 1-7 1 1.3 1 4.5 1 1.2 1 4.6 1-4.4 1 10.7 1-1.6 1 1.4 1 1.2 1 5.9 1 4 1 1.6 1 5.4 1-.3 1-2 1 4.6 1 1 1 2.3 1-1.3 1 0 1 9.6 1-2.8 1 7.5 1 7.8 1 7.5 1 4.8 1 3.3 1 7.7 1 3.7 1 3.8 1 6.9 1 1.9 1 2.6 1-1.2 1 1 1 .8 1 0 1 9.4 1-4.4 1-2.6 1 12.6 1-4.3 1-.5 1 1.1 1 6.1 1-2.3 1 5.4 1 2.5 1 5.6 1 13.5 1-5.7 1 7.7 1 5.1 1 3.1 1 2.2 1 5.4 1-1.6 1-.6 1 3.6 1-4.5 1 9.7 1-6.4 1 5.6 1 .1 1 1.1 1-2.8 1 8.7 1 7.3 1-1.6 1-.4 1 2.9 1 3.7 1 15.7 1-.3 1 7.5 1 .9 1 9.8 1-5.3 1 4.7 1 4.2 1-.2 1-.9 1 1.2 1-1.7 1-.5 1-2 1-.7 1 3 1 .7 1 15.6 1-2.4 1 2.8 1 3 1 .1 1-4.4 1-5 1 10.5 1-7.2 1-5.2 1-4.1 1 5.1 1 12.4 1 9 1-7.8 1-3.8 1 7.4 1-8 1-7.2 1 4.9 1 3.1"/><path vector-effect="non-scaling-stroke" d="M0,592.8l1-5.3 1-6.7 1 4.4 1 6.5 1-5.2 1-7.9 1 4.4 1 3.4 1-14.5 1 6.4 1-.3 1-3.7 1-6.7 1 6 1 4.1 1-4.6 1-2.2 1 5.3 1-4.3 1 3.2 1-1.7 1-8.5 1 6.9 1-2.2 1-1.9 1-6.9 1 6 1 2.3 1-.5 1 6.1 1 8.2 1 2.3 1-1.6 1-2.9 1 4.1 1-5.4 1-6.2 1-9.5 1 9.9 1 .8 1-3.1 1 9 1-2.7 1-6.7 1-6.7 1-2.3 1-5.5 1 2.3 1 1 1-1.8 1 .8 1-4 1 3.3 1 .3 1-3.6 1 2 1-4.5 1 .6 1-12.5 1-10.5 1-3.3 1 4.7 1-10 1 1.3 1 4.7 1 7.2 1-16 1-1.6 1 11.5 1 .2 1-1 1-1.6 1-2 1 2.1 1-1.4 1 4.1 1-7.3 1-4 1 2.2 1-13 1-.4 1-4 1-6 1 2.7 1 1.5 1-9.6 1 2.1 1-8.8 1-.9 1-5.3 1-4.2 1-1.8 1-5.6 1-2.5 1-2.9 1 12.6 1-.7 1-2 1-8 1-2 1-3.4 1 1.1 1-11.8 1-.2 1-5.7 1-12.9 1 2.1 1-5.8 1-2.1 1-6.7 1-2.1 1-3.5 1-12.1 1 2.6 1 2.4 1-1.8 1 .1 1 0 1 .1 1-9.5 1-11.7 1-.4 1 1.8 1 2.2 1 2.7 1 .6 1 1.4 1-3.7 1 6.6 1 1.9 1 1 1-6.9 1-5.9 1-4.3 1-5.4 1 .4 1-3.1 1 4.3 1-7.3 1-7.8 1-3.5 1-5.8 1-7.5 1-1 1-3 1-.7 1-3 1-2.4 1-3.1 1 5.1 1-4.8 1 7.9 1-4.7 1-3.6 1-3.2 1 .1 1-.1 1-10.2 1 1.2 1-1.2 1 .1 1-4.8 1-3.5 1 1.1 1-.2 1-2.9 1 1.8 1-4.4 1-7.7 1 2.4 1-2.6 1 .9 1 1.5 1-1.1 1-3.5 1-4.7 1 1 1-.1 1-3.4 1-.3 1-2 1-3.9 1-4.2 1-.2 1 3.7 1-3.3 1 3.1 1-3.6 1 3 1 5.1 1-3.3 1-2.3 1-9.9 1 6.5 1 1.9 1-6.2 1 1.8 1-2.9 1-4.3 1-8 1-2.6 1 1 1 4.6 1-1.6 1 3.8 1 6.4 1-1.1 1 2.3 1 .6 1 1.7 1 2.3 1 7.5 1-4.2 1 7.8 1-6.8 1-1.8 1 4.6 1-7.2 1-4.1 1-1 1-5.4 1-.9 1-.9 1-.1 1 8.6 1-.6 1 8.4 1-1.8 1 3.8 1-3.7 1 2.8 1 4.8 1 1.2 1 3.4 1 3.5 1 7.6 1 3.1 1 4.7 1 1.7 1 4 1 0 1-.5 1-1.4 1 4.9 1 1.4 1 3.7 1-1.3 1 2.8 1-1.9 1 .9 1 3.2 1-1.8 1 1.8 1 4.8 1 3.2 1 1.1 1-1.1 1 7.2 1 7.7 1-.9 1-1.5 1 .7 1-5.9 1 2.8 1 7.1 1 10.8 1 10.6 1 5.6 1 10.8 1-5.3 1 .7 1 .9 1 3.6 1 4.1 1-1.5 1 14 1-3.8 1 5.3 1 7 1-4.3 1 .1 1 3.3 1 1.6 1 5.2 1 5.2 1 .4 1 3.3 1-2.1 1-8.6 1 9.7 1 9.1 1 4.6 1 8.3 1 10.1 1 3.3 1 8.4 1-8.2 1 5.8 1 3.1 1 6 1 1.3 1-3.6 1 3 1-1.1 1-1.9 1 2 1-1.5 1 8.7 1 3.7 1-.9 1 .5 1 2.7 1 7.7 1-5.2 1-2.5 1 12.9 1 .2 1 5.5 1-2.4 1 3 1 5.2 1-5.8 1 9.1 1-1.2 1 5.2 1 6.4 1 10.8 1 0 1 4.9 1-3.3 1 .4 1-9.3 1-7.2 1 8.3 1-5.3 1-3.6 1-2.9 1 18.3 1 8.7 1 2.4 1-2.1 1 14.2 1 2.1 1-4 1-6.7 1 10.6 1 7.6 1-1.5 1-6.4 1-2.7 1 5.3 1 2.2 1 2.1 1 4.2 1-5 1-2.1 1 4.3 1-1.2 1-.9 1 11.4 1-1.7 1 .9 1 6.1 1-14.5"/><path vector-effect="non-scaling-stroke" d="M0,548.3l1 5.7 1 0 1 12.4 1-4.5 1 13.2 1-11.4 1 8.2 1 1.4 1-9.1 1 4.1 1 10.2 1-3.7 1 .5 1-9.1 1-6 1-11 1-2.3 1 5.7 1 .2 1 .2 1-3.6 1-.2 1 5.6 1 6.5 1-.2 1 2.9 1-5.7 1 1.9 1-2.4 1 7 1 1 1-5.9 1 1.2 1 7 1-4.2 1 3 1 1.4 1-4.7 1-2.5 1-8.5 1-.7 1-.7 1 2.5 1-3 1 4.2 1 .2 1 2.9 1-2.1 1 .5 1 1 1 3.6 1-20.3 1-6.9 1 .8 1-4.8 1-14.7 1 2 1 6 1 2.7 1 2 1 3.2 1 3.4 1 8.5 1-6.4 1-1.9 1-9.1 1 5.4 1-2 1 3.3 1-5.1 1-2.8 1-6.1 1 5.8 1-14.9 1 .1 1-12.9 1 3.3 1-6.6 1 1 1-2.9 1 1.5 1 1.2 1-4.1 1-10.3 1-13.6 1-2.2 1 1.9 1-7.1 1-.6 1 2 1 3.6 1-2.5 1 3.2 1-9.1 1-11.3 1 3.4 1-1.4 1-5.1 1-5.6 1-3.7 1 2 1 .1 1-5.1 1-8.4 1-5 1 6.8 1 3.4 1-3.7 1-3.7 1-1.4 1-3.1 1-.9 1-5 1-13.5 1 4.1 1 4.4 1 3.7 1-1.4 1-4.3 1-10.6 1-5.2 1-2.2 1 3.8 1-8.8 1 .1 1 2.8 1-8.1 1-3.1 1 2.5 1-.4 1-.6 1 .5 1-7.4 1 2.3 1-6 1 6.6 1-5.6 1-2.8 1 7 1-4.3 1-2.9 1 .9 1-10.4 1 0 1-5 1-2.5 1-2.2 1-3.1 1-.2 1-1.2 1-5.3 1 2.6 1-4 1-2.4 1-1.8 1-3.1 1-3.9 1 4.2 1-.8 1-4.6 1-6.7 1-3 1-9.9 1 1.8 1 2 1-2.7 1-.1 1-2.8 1 6.7 1-5 1-2.8 1-.4 1-1.3 1-2.6 1-.1 1 3.2 1-2.6 1 1.2 1-2.7 1 1.1 1-5 1 3 1-1.4 1-1 1-.9 1 .3 1 1.8 1-6.3 1 5.9 1-.7 1-5.4 1-5.8 1 2.8 1-5.7 1-7.7 1 3.8 1-1.5 1-4.1 1 7.1 1-1.1 1-1.1 1-4.7 1 .7 1 .8 1 5.3 1 1.6 1-1.2 1-7.7 1 6.7 1 2.6 1 5.5 1-9.7 1-1.1 1 2.1 1 .2 1 .5 1 3.4 1 .1 1-1.5 1 .9 1-.2 1 .4 1-.6 1-4.4 1 6.7 1-4.7 1-2.1 1 3.2 1-.8 1-1.6 1 3.5 1 5.6 1-.9 1 7.5 1 .7 1 3.2 1 10.2 1-4.8 1 .3 1 2.7 1 7.1 1-.2 1 2 1 3.7 1-1.3 1 .2 1 4.2 1 5.2 1-8.2 1-.8 1 8.3 1 .3 1 7.2 1-3.3 1 14.4 1-4.4 1 6.2 1-6.3 1 4 1-1.4 1-.4 1 10.8 1-.8 1 2.2 1 1.8 1 2 1 2.8 1 .7 1 8.1 1 7.5 1-2.6 1-3 1 3.9 1 8.2 1-8.1 1 1.7 1-.6 1 10.1 1 2.9 1 14.2 1 5.1 1 4.1 1 6.2 1 3.3 1-1.8 1 6.9 1 .6 1-.7 1-2 1 4.8 1 9.2 1-2.6 1 8.1 1 4.7 1 1.1 1 4.3 1-6.9 1-1.8 1 11.3 1 5.4 1-.1 1-2.6 1 12 1 5.7 1 2.8 1 1.1 1-.4 1 5 1 6.9 1 1.6 1 0 1 .1 1-2.5 1 5.7 1 3.2 1 5.2 1-2.5 1 2.8 1-1.5 1 1.5 1 13.3 1-2.5 1-8.1 1 4 1 4.3 1 5.5 1 7.9 1-.1 1 5.7 1 2.9 1 7.1 1-1.1 1 .6 1-4.3 1-6.5 1 2.9 1 11.6 1 4.9 1-1.1 1 10.6 1 .4 1 .5 1-1.9 1-.9 1-.1 1 3.9 1 6.1 1 5.6 1-6.2 1-5.4 1-1 1 1.2 1-1.7 1-2.4 1-4.3 1-2.3 1 4.3 1 2.4 1 9.1 1-7.3 1 1.6 1 1.1 1-.5 1-.3"/><path vector-effect="non-scaling-stroke" d="M0,550l1 2.3 1-1 1 5.2 1 2.1 1-4.9 1 4 1-.4 1 1 1-.1 1 7.3 1-6.2 1-1.3 1-1.7 1 12.9 1-3.3 1 5.3 1 2.5 1-1.1 1-9.5 1-8 1 6.4 1 4.5 1 6.7 1-2.1 1-6.2 1 5.3 1 3.9 1-4.4 1-2.9 1 1.5 1-3.5 1-9.6 1 6 1-5 1-9.1 1-4.1 1 10.5 1-1.2 1-1.3 1-1.1 1-.2 1-9.3 1-.8 1-17.4 1 2.5 1 3 1 8.4 1-10.2 1 3 1 2.9 1-8.8 1 2.4 1-10.9 1 2 1-2.4 1-3.2 1-7.2 1 2.6 1 6.8 1 .6 1 .7 1-1.9 1-1.6 1 3.5 1-5.2 1-.2 1 7 1-10.2 1 2.6 1 2 1-5.9 1-2.3 1-9.4 1-.4 1 9.8 1-4.8 1-3.4 1-2.3 1-3.5 1-12 1-6.3 1 .5 1 3.7 1 6.1 1 0 1-11.6 1 1.1 1-10.1 1-4.4 1-2 1-3.3 1 .8 1-3 1-3.8 1-2.5 1-1.6 1 1.1 1-3.8 1-8.3 1-9.2 1-3.2 1 2.8 1-.9 1 1.5 1 0 1-5.2 1-5.2 1 2.5 1 1.3 1 3.8 1-7 1-7.7 1-3 1-3.1 1-3.9 1-1.1 1-5.9 1 7.9 1-5.6 1-6.2 1-1.7 1-6.3 1-3.1 1 2.5 1-3 1-3.8 1 1.8 1-2.6 1-1.5 1-9.4 1 7.1 1-2.5 1-8 1 2.7 1 4.9 1-1.7 1 .2 1 1.6 1 .7 1-1.8 1-6.2 1-5.6 1-2.6 1-3 1-.7 1-1.9 1-3.1 1-1.9 1-8.3 1-1.4 1-2.4 1-3 1-2.8 1 1.9 1-2.3 1 .8 1-8.2 1-5.1 1 1.7 1-.8 1-4.2 1-.5 1 2.2 1-1.4 1-4.1 1 3 1-1.6 1-1.7 1 3.1 1-1.6 1-5.5 1 3.1 1-6.2 1-5.2 1-1.6 1 .1 1 6 1-1.1 1-6.6 1-5.7 1-4.9 1 5.1 1 3.3 1-2.7 1-5.8 1 1.4 1-2.3 1 .8 1-4 1-4.7 1 .5 1 9.3 1-3.5 1-.6 1-4.8 1 .2 1-2.3 1-5 1 .2 1 1.6 1-3.9 1-4.5 1 6.9 1 .7 1 3.3 1-2.8 1-6.2 1 1.2 1-6.6 1 4.8 1 12.1 1 3.5 1-5.4 1 .9 1 .9 1 3.3 1-2.5 1-5.8 1 3.1 1 .7 1 3.2 1-2.8 1-3.5 1 5.2 1-5.2 1 1.7 1 1.7 1-9.5 1 .7 1 8.2 1 6.1 1-.7 1 .4 1 3.6 1-1.2 1 5.1 1-.2 1-1.5 1 1.8 1 .6 1 13.8 1 1 1 8.9 1 0 1 2.4 1 5.6 1-8.1 1 9.6 1-2.2 1 1.8 1-4.3 1 7.3 1 .8 1 2.4 1 .1 1-.8 1 2 1-4.8 1 2.7 1 2.5 1 1.4 1 0 1 13.3 1 4.1 1 5.6 1-1.2 1 1.3 1 1.3 1 4.3 1-4.8 1 4.5 1 8.2 1 5.8 1-1.3 1-1.1 1 4.2 1-.9 1 2.4 1 6.7 1 1.8 1 1.3 1 1.8 1 6.5 1 4.2 1 4 1 7 1 7.1 1-10.8 1 6.9 1-.3 1 7 1 .2 1 7.4 1-1.7 1-2.4 1 3.2 1 2.3 1 6.6 1 5.6 1-3.8 1 1.9 1 11.7 1 .1 1 2.7 1 9.6 1 7.5 1 9.4 1 4.6 1-1.9 1 3.1 1 9.3 1-2.2 1-2.9 1-3 1 2.4 1 6.8 1-6.3 1 2.9 1 2.4 1-.5 1 3.5 1 5.9 1-1.2 1-1.8 1 4.8 1 7.2 1-.6 1 .2 1-.5 1 9 1-2.1 1 6.5 1 .9 1 10.9 1-5.2 1 5.6 1-3.5 1-3.4 1 15.6 1 2.1 1 2.9 1 4.4 1-5.3 1-.1 1 .6 1-.5 1 3.5 1-3.3 1 2.3 1 9.3 1 1.4 1 7.4 1-7.1 1 4.7 1-6 1 5.9 1 1 1-2.2 1-3.6 1 8 1-8.3 1-5.1 1 7.7 1 7.5"/><path vector-effect="non-scaling-stroke" d="M0,591.7l1 2.7 1-3.5 1-8.4 1-8.1 1 2.4 1-7.6 1 2.7 1 11.5 1 3.7 1 1.5 1 0 1-9.9 1-1.9 1-.7 1 4.3 1-2.3 1 .5 1 4.5 1 7.3 1-6.7 1 12.7 1-10 1-2.2 1-3.9 1 1.7 1 7.8 1-5.5 1-7.8 1-6.5 1 1.5 1-.5 1-.7 1-2.7 1-8 1-7.5 1 10.9 1-6.2 1 8.8 1 10.9 1-2.6 1-7.8 1 2.3 1 7.1 1-10.9 1-12.5 1-4.4 1 11.9 1-6.7 1 .8 1 1.9 1-1.6 1 7.9 1-5.8 1-12 1-1.1 1 5.9 1-5.4 1-5.7 1 .5 1-5.2 1 4.5 1 7.7 1-4.4 1-.7 1-2.4 1-11.5 1 5.6 1-4.3 1 2.3 1-9.8 1-5.5 1-.4 1 6.8 1-13.9 1-1.9 1 6.1 1-7.2 1-.7 1 2.3 1 8.8 1-11.4 1-13.8 1-7.7 1 1.7 1-10.4 1 4.4 1-9.2 1-3.4 1-4.6 1 .5 1-1.8 1-3.2 1-2.2 1-4.1 1-3.8 1-.4 1 5.9 1-3.2 1-4.5 1-6.2 1-2.5 1-1 1-5.2 1-7.7 1-2.2 1-2.9 1-7.5 1-2.6 1-.2 1-6.4 1-.4 1 3 1-3.3 1 5.4 1-1.3 1-7 1 7.8 1-.9 1-3.5 1-5.2 1-7 1-8.7 1 8.3 1-3.7 1 5.3 1-1.9 1-6.8 1-4.8 1 5.4 1-.1 1-2.5 1-4.3 1-6 1-4.2 1 4.4 1-8.5 1 9.4 1-5.4 1 5.8 1-10.4 1-5.9 1-6 1-4.7 1 .9 1-.2 1-1 1-6.8 1 1.9 1 3.6 1-7.7 1-.7 1-4.1 1-3.2 1 7.2 1-4.4 1-2.9 1-6.6 1 2.2 1-2.4 1-.7 1-1.5 1-3.3 1-6.4 1-3.1 1 1.5 1-4.7 1 .7 1-1.8 1 5.2 1-6.2 1-5.7 1-3.5 1-3.9 1 1.1 1 2 1 7.7 1-8.7 1-5.1 1-.2 1 2.8 1-1.7 1-.4 1 .4 1 1 1-6.2 1-2.7 1 .6 1-1.1 1-4.7 1 1.6 1 .5 1 1.9 1-7.7 1-2.1 1-2 1 4.9 1-5.5 1-.7 1-6.9 1 4.8 1 4.3 1-6.5 1-3.9 1-4.3 1 1.2 1 3.8 1 5.7 1 5.4 1-4.2 1 .7 1 3.6 1 .8 1-4.1 1 3.7 1-5.8 1-4.5 1 4.5 1 .6 1-5.7 1 .6 1 1.4 1 5.8 1 5.2 1 6.4 1 2.1 1-2.9 1 1 1 4.2 1-1.8 1-3.1 1 6.9 1 4.5 1 5.5 1 .9 1 1.3 1-4.2 1 3.4 1 4.5 1 .8 1 5.5 1 3.3 1-2.2 1 9.3 1-2.1 1 5.9 1-1 1-4.1 1 7.7 1 7.3 1-1.2 1 2.2 1-5.1 1-4 1 5.4 1-.1 1 4.8 1 6.7 1 2.1 1-5.3 1 14 1-6.9 1-2.5 1 7.9 1 10.7 1 .9 1 5.9 1 7.9 1-1.7 1-1.3 1-1.5 1-2.2 1 2.6 1-.3 1 8.2 1 .7 1 7.3 1 .8 1 6 1 7.7 1 2.8 1 4.4 1 4.9 1 0 1 0 1 4.7 1 13.2 1-1.9 1-1.2 1 5.8 1-.4 1-3.5 1 1.7 1 4 1 .1 1 5.8 1 6.6 1-5.8 1-1.9 1 12.1 1 11 1 .1 1 3.1 1 5.8 1 2.1 1-2.4 1 4.6 1 .9 1-4.3 1 7.5 1 2.2 1 8.1 1-9 1 1.8 1 3.8 1 1.2 1 6.6 1-9.2 1 7.6 1 1.4 1-5.5 1 4 1 5.9 1 3.6 1 9.8 1 4.9 1 5.6 1-1.7 1 1.8 1 1.6 1 9.7 1 1.8 1 4.6 1 7.3 1-5.4 1 4.8 1-12.2 1 6.9 1 2.9 1 6.3 1 1.7 1-4.7 1-3.4 1 8.8 1-7.5 1 .1 1 4.3 1 9.3 1-8.1 1 6.4 1 8.8 1-2.3 1 2.8 1 6.8 1-.3 1 5.1 1-4.9 1 4.2 1-6.9 1-13.7 1 2.9 1-.3 1 1.1 1 .7 1-6.8"/><path vector-effect="non-scaling-stroke" d="M0,574.5l1 6.5 1 1.7 1 3.9 1 4.1 1 .8 1-6.1 1 5.8 1 10.6 1-9.1 1-8.9 1-8.2 1 7.5 1-4 1 9.2 1-8.5 1-2.8 1-8.1 1 6.2 1 6 1-2.7 1-3.2 1 3.7 1-5.9 1 4.7 1-.8 1 6.4 1 4.4 1-3.8 1-12.9 1 7.1 1-.4 1 1.5 1-.1 1-10.2 1 .2 1-1 1 1.3 1 2.9 1 3.8 1-7.5 1 3 1 6.8 1 3.2 1-2.4 1 1 1 8 1-.7 1-6.3 1-2.5 1-6 1-19.1 1 2.4 1-13.5 1 1.9 1-5.9 1 4.3 1 1.2 1 .5 1-4.5 1-.2 1-8.8 1-3.8 1-6.6 1 8.7 1-9.9 1 1.4 1 3.4 1 5.1 1 .9 1 1.7 1-17.6 1-3 1-3.9 1 3.9 1 1.3 1-9.6 1-11 1 9.3 1-9.6 1 2.8 1-2.8 1 8.6 1 0 1-8.4 1-1.3 1-9.6 1 6.4 1-5 1-10.7 1-6.6 1-4.5 1 .8 1-15.2 1-2.3 1 4.3 1-3.3 1-5.4 1-4.8 1 2.8 1 1.9 1-7.8 1 1.6 1 3.9 1-14.3 1-2.4 1 3 1-3.4 1-9.1 1 5.6 1-11.4 1 1.6 1-.8 1-12.7 1-2 1-.3 1 4.2 1-1.3 1 4 1 3 1 1.7 1-8.7 1-6.1 1-2.7 1-1 1-8.7 1 5.5 1-3.6 1 6.5 1-3.7 1-6.2 1-6.1 1 .1 1-4.9 1-.2 1 2.8 1-3.2 1-8.2 1-4.8 1-5 1 .2 1 2.1 1 .7 1-2.6 1 3.1 1-2.8 1-3.2 1-3.5 1-6.4 1-6.4 1 1.9 1-4.1 1-.4 1-3.7 1-.7 1-.7 1 1.8 1 3 1-6.3 1-1.7 1 0 1-4.5 1-.4 1-3.6 1-3.1 1-3 1-1.9 1-4.1 1 2.3 1-2.8 1 .2 1-.7 1-3.5 1-3.9 1 1.4 1-3.8 1 2 1-2.9 1 .3 1 6.5 1-1.6 1-6.3 1-1.8 1-7.1 1 2.4 1-2.2 1-.7 1-1.6 1 8.2 1-4.5 1-6.1 1-3.9 1 1.3 1 1.2 1-5.4 1-1.7 1-.1 1-.2 1 4 1-.2 1 2.2 1-4.1 1 2.6 1-2.4 1-6.3 1 6.5 1 0 1 .5 1-4.6 1 1.7 1-1.1 1 4.9 1-.8 1 1.4 1-.1 1-2.4 1 4 1 1.2 1-2.7 1 2.7 1-5.9 1-6.9 1 4.6 1 1.2 1 1.6 1-2.3 1-4.9 1 3.1 1 2.8 1-3.6 1 3.2 1 10.1 1 3.8 1 3.7 1-.2 1-4.4 1 6.1 1 2.7 1 2.4 1 11.2 1 4.2 1 2.8 1 4.8 1 .4 1-2.3 1 .4 1 1.6 1 1.9 1-.7 1 4.8 1-1.4 1 5.7 1 4 1 4 1 3.3 1 6.3 1 .4 1 1.4 1-1.9 1 1.7 1-.1 1 9.5 1 2.4 1 3.9 1-3.7 1 6.4 1 6.4 1-3.1 1 2.3 1 4.1 1-2.4 1 5.3 1 .7 1-2.2 1-.6 1 5.4 1 4.1 1 10.7 1 1.6 1 9.2 1-.2 1-1.7 1 4.5 1 9.4 1 1.8 1 7.6 1 2.6 1-.9 1-.3 1-.9 1 3.6 1 6.1 1 3.7 1 12.3 1-7.6 1 3.3 1 6.1 1 4 1 6.1 1 2.8 1-2.8 1-3 1 .6 1 12.9 1 15.7 1 .3 1 7.1 1-.5 1-2.5 1-8.8 1 2.8 1 4.9 1-8.5 1 3.6 1-.1 1 13.7 1 9.8 1-.8 1-2.2 1 0 1 6.8 1-.4 1-8.3 1-1 1 4.7 1 1 1 3.5 1 4.4 1 5.8 1-.3 1 10.1 1-.6 1 2.3 1-5.8 1 3.8 1-.1 1 9.5 1 3 1-2.7 1 15.9 1-1.2 1-2.2 1-7.9 1 11.5 1-5.6 1 9.9 1-5.1 1-3.2 1 1.3 1-4.9 1 7.2 1-.8 1 8.5 1 .3 1 .5 1-.5 1-5 1 7.5 1 1.7 1 6.2 1 6.4 1-4 1-7.2 1-1.4 1 5"/><path vector-effect="non-scaling-stroke" d="M0,595.3l1-12.1 1 13.5 1-1.7 1 3.6 1-4 1 2.6 1-10.9 1 .9 1 5.8 1-10.4 1 8.1 1-4.3 1-9.6 1 .7 1-6.3 1 6.9 1-.4 1 .5 1-1.1 1-4.4 1 3.3 1-4.8 1 4.6 1-2.2 1 2.6 1 .6 1 3.4 1-3.6 1 3.5 1-2.6 1 2.5 1-4 1-1.3 1-6.2 1-1.3 1 6.5 1-6.9 1 2.1 1 1.8 1 .6 1-1.5 1 2 1 3.7 1-9.8 1 .3 1-3.5 1-4.2 1-2.7 1 9.3 1-1 1-6.6 1-.2 1 .3 1-2 1-9.2 1 1 1-8.4 1-6.5 1 2.2 1 3.8 1-7.5 1 3.2 1 .6 1 1.2 1 4.1 1-.7 1-1.7 1 0 1 .6 1-1.1 1-6.6 1-5.9 1-4.4 1 .3 1-1.3 1-7.9 1-4.4 1 1.8 1 1.6 1-7.2 1-17.3 1 5.7 1-6.6 1-3.5 1 3.6 1-4.4 1-8.2 1-.6 1 3.3 1-6.9 1-4 1-.4 1-3.8 1-3.2 1-3.9 1-5.1 1-11.5 1 3.4 1-8.9 1 2.8 1 .4 1-4.8 1 .4 1 1 1-2.6 1 .3 1-11.5 1-.1 1 7 1-7.3 1-2 1-7.3 1-5.1 1-.5 1-1.5 1-5.6 1-8.2 1-1.2 1-4.4 1-1.4 1 3 1-6.1 1 2.5 1 .8 1-1.1 1-1 1-1.6 1 4.7 1-.7 1 .3 1-4.1 1 .7 1-7.3 1-2.7 1 4.5 1 .1 1-.9 1-12.4 1-3.6 1-2.1 1-5.1 1-8 1 1.8 1 .2 1-.7 1-3.5 1 2.6 1 1 1-2.3 1 2.4 1-6.1 1 .1 1-3.8 1-2.2 1 0 1-2.6 1-6.5 1-4.3 1 3.5 1-6.9 1 2.9 1-4.8 1-1.4 1-3.8 1-1 1 2.4 1-6.5 1 0 1 1.9 1-1.3 1-2.5 1-4.2 1-.7 1-4.5 1 1 1-2.1 1-3.5 1-6.6 1 4.7 1 2.4 1-4.8 1-3.5 1 2.2 1-4.5 1 3.3 1 .4 1-5.7 1-.3 1 .2 1-.2 1-1.9 1-1.9 1-2.3 1-2.8 1 .7 1 3 1 5.7 1-.5 1-.4 1 0 1 .2 1-4.5 1 .8 1-2.2 1-1.3 1 2.4 1-4.4 1 .9 1 3.4 1-.2 1 4.8 1-1.6 1 3.5 1 .7 1 3.2 1-7.2 1 4.9 1 3.4 1 4.6 1-.1 1-.8 1-10.2 1-2.9 1 2.9 1 1.8 1 .5 1 1.1 1-4.7 1-2.7 1 .5 1 1.5 1 5.9 1 .2 1 1.3 1 3.2 1 8.8 1-3 1 11.3 1 1.4 1 2 1-5 1 9.9 1-7.8 1-4 1 5.8 1-.6 1 8.5 1 9.4 1 2.6 1 1.7 1-2.5 1-3.2 1 0 1 2.6 1 2.6 1 1.7 1-.6 1 6.4 1 3.1 1 9.2 1-1.2 1-3.8 1 1.7 1 .2 1 2.2 1-.9 1 5.2 1 .3 1 4.7 1 3.6 1 2.6 1 11.3 1-.7 1 1.7 1 1 1 5.6 1 3.8 1 6.2 1 4.9 1 4.5 1 2.8 1 4.5 1 8.6 1-1.5 1 1.7 1 3.1 1 1.7 1-3.2 1 9 1 9.3 1 1.4 1-4.9 1-1.1 1-5.5 1 5 1-3 1 8.9 1 2.8 1 7.7 1 2.2 1 5.8 1 4 1 1 1-2.7 1 2 1 9.3 1 5.6 1-3.7 1 4.9 1 6.4 1 8.3 1-2.6 1 .2 1-4.3 1 4.9 1 5.4 1-.5 1-4.1 1 .6 1 3.5 1 5.2 1 7.8 1 3.2 1-4.3 1-6.8 1 9.8 1 8.8 1 .7 1 0 1 6.1 1 8.9 1 3.3 1-.7 1 5.8 1 2.2 1 .8 1 5.7 1 14.1 1 2.2 1 3.7 1-4 1-9.9 1-.1 1 3.4 1-2 1-2.6 1-2.9 1 7.4 1-2 1 8.2 1-1.9 1-1.4 1 2.3 1 2.8 1-9.8 1 11.3 1-4.4 1 5.1 1 3.7 1 3.9 1 3 1 5.2 1-6.1 1-9.9"/><path vector-effect="non-scaling-stroke" d="M0,570.7l1 5.8 1 5.3 1-2.1 1-8.8 1 .9 1-1 1 6.4 1 4.5 1 2.1 1 1.8 1 8 1-5.1 1-4.1 1 3.1 1-4.6 1 4.4 1-8.4 1 1.8 1 7 1-9 1-.5 1 5.8 1-3.2 1-2.4 1-3.3 1-10.5 1 .4 1 9.7 1-3.4 1 1.6 1-3.2 1 .9 1 1.1 1 .9 1-1.6 1 9.3 1-8.8 1-9.8 1 9.3 1 7 1-7.7 1-10.1 1-9 1-9.9 1 9.2 1 .3 1 3.4 1-2.5 1 4.3 1-12.1 1-2.8 1 1.4 1-9.1 1-1.3 1-3.6 1 6.5 1-3.5 1-13 1-3.9 1 3.8 1-2.4 1 9.7 1 7.6 1-.2 1-3.9 1-.4 1 3.9 1-9.6 1 .5 1-10.6 1-9 1 1.3 1-1.6 1-4.3 1-9.7 1-2.1 1 1.4 1 1.6 1-2 1-.5 1-.7 1-5.8 1 1.5 1-3.8 1-9.7 1-1.6 1 .4 1-1.4 1 4.5 1-6.6 1-4 1-8.5 1-6.7 1-3.8 1-5.3 1-7.6 1 3.2 1 2.5 1 5.1 1-4.8 1-5.6 1 .9 1-3 1-1.3 1-9.2 1 3.7 1-9.3 1 6 1-3.1 1-4.9 1 1 1-4 1-4 1-6.4 1 .1 1-9 1-2.6 1 3.8 1 3.8 1-8.7 1 6.1 1-3.5 1-5.9 1 1.6 1 6.1 1-4.5 1 4.3 1-5.6 1 4.2 1-6.3 1-2.8 1 1.2 1-7.4 1 0 1-2.5 1 2.7 1-9.2 1-3.9 1 .3 1-3.1 1-3.2 1-3.3 1-7 1-3.4 1 .8 1-5.5 1-4.3 1-2.4 1-1.8 1-.7 1 .6 1-2.3 1-1.4 1 5.5 1 1.1 1-5.9 1-9.8 1-7.2 1 6.2 1 3 1 3.1 1 3.7 1-1.2 1-5.8 1-2.4 1-2.4 1-8 1-1.6 1-3 1-1.5 1-3.7 1 3.6 1-1.1 1 6.8 1-9.6 1 2.4 1-7 1-3 1 2.4 1-.4 1-.5 1-3.9 1-2.3 1 5.7 1-4.8 1-2.6 1 2.8 1-.9 1-5.2 1-3.7 1 2.8 1-4.3 1-2.1 1-.7 1 4.2 1 0 1-1.6 1-1.7 1-1.6 1 1 1-9.5 1-4.2 1-.2 1 .5 1 9.9 1 3.6 1-5.4 1 .8 1 1.5 1-4 1 0 1 6.9 1-.8 1-3.7 1 5.3 1 4.1 1-2.7 1-5.7 1 1.4 1-1.4 1-1.3 1 5.1 1-3.1 1-5.6 1-.9 1 3.6 1 5.7 1 0 1 4.1 1-.8 1 6.5 1-.4 1 1.6 1 4.1 1 2.4 1 4.9 1 2.7 1 4.5 1 5.5 1 3 1 4.7 1 .4 1-4.6 1 2.6 1 4 1 3.6 1 3.2 1-3.3 1 7 1 3.5 1 7.4 1-11.7 1 3.4 1-6.8 1-3.9 1 7.6 1-4.7 1 2.1 1 2.3 1 0 1 9.8 1-.6 1 2.4 1-3.4 1 1.1 1 6.2 1 5.9 1 4.6 1 5.5 1 4.6 1 .4 1 4.3 1-1 1 3.1 1 6.1 1-2 1 3.6 1 1.7 1 2 1 9.3 1 4.4 1 1.2 1 .7 1 9.7 1 2.9 1-.9 1 11.6 1-.4 1 5.2 1-1 1-.4 1 4.2 1 6.9 1 4.3 1-1.1 1 7.2 1 .5 1-1.3 1-2.3 1 13.9 1 2.5 1 7.4 1 8.5 1 1.7 1-2.2 1 1.1 1-11.8 1 2.8 1 9.2 1-.1 1 .6 1-3.6 1 4.4 1 11.1 1 2.5 1 8.3 1 3.6 1-5.1 1 5.7 1-4 1 5.4 1 6.2 1-4.7 1 2.6 1 4.8 1 9.6 1 2 1 4.7 1 5.4 1 2.2 1-3.6 1 .4 1 15.3 1 5.3 1-5.9 1 4.1 1 7.2 1 4.5 1-6.1 1 5.6 1-1.7 1-.5 1 5.6 1-.5 1-3.3 1 1.6 1 2.7 1 6 1-12 1 2.8 1-2.1 1 7.8 1 1.9 1 6.7 1-2.7 1 5.3 1-3.3 1-3.2 1-7.5 1-3 1 8.3 1-4.6 1-8.1 1 7.9"/><path vector-effect="non-scaling-stroke" d="M0,548.4l1 2.6 1 3.5 1 6.1 1-8.6 1-10.3 1 .5 1-2.4 1 .8 1-1.1 1 6.2 1 6.6 1 11.6 1-8.5 1-5.7 1 6.6 1-.3 1-3.8 1-.5 1 2.4 1 5.8 1-2.4 1 2.4 1-9.8 1-2.4 1 .8 1 4.1 1-6.8 1 .8 1 1.6 1-3.5 1-.6 1 .2 1 3.4 1-1.4 1-5 1 4.2 1-1.4 1 7.9 1 .9 1-4.7 1 1.1 1-6.3 1-4.5 1-8.2 1-3.1 1-4.7 1 3.6 1-3.2 1-1.6 1-9.9 1-8 1 1.6 1-2.5 1 2.6 1-1.3 1 .9 1-.4 1 1.5 1-9.5 1-11.6 1 5.4 1 1.6 1-10.6 1 9.9 1 9.4 1-8.5 1 2.4 1-4.9 1 1.3 1-.2 1 3.5 1-7.3 1 1.2 1-10.1 1 5.4 1 .7 1-5.7 1 6.5 1-6.3 1-4.1 1-14 1 .9 1-1.1 1-3.4 1 8 1-3.1 1-1.8 1-10.5 1-7.4 1-2.3 1-2.8 1-4.2 1-4.3 1 6.4 1-6.1 1 9.2 1-4.4 1-9.3 1 6.2 1-11.3 1-7.2 1-6.3 1 9 1-4.4 1-4.7 1-8.7 1-2.2 1-1.2 1-4.2 1 1.8 1 4 1-4.4 1-6.3 1 5.3 1-7.7 1-5.9 1-.3 1 2.7 1-7 1-1.2 1-8.2 1 .2 1-.4 1 8.7 1 1.4 1 .7 1-7.3 1-7.4 1 5.6 1 1.1 1-7.2 1 1.3 1-3.7 1-4.7 1-.3 1-.4 1-4.2 1-3.4 1-7.2 1-2 1-3.8 1-3.7 1-2.5 1-2.8 1-3.4 1 .6 1 5.8 1-10 1 0 1-6.3 1 2.6 1 1.9 1-.6 1 3.5 1-.6 1-2.7 1-6.5 1 2.6 1 2.5 1-7.6 1-2.5 1-4.4 1-1.6 1-6 1 7.8 1 2.3 1-7.6 1 .3 1-.5 1-5.5 1 4.9 1-4 1-5.1 1 .4 1-6.3 1 6.1 1-3.4 1 .1 1 .8 1-2.6 1-7.9 1-1.9 1-1.5 1-5.3 1-3.9 1-.1 1 3.4 1 4.6 1 1.5 1-9.8 1-3.1 1-5.5 1 1.9 1-.2 1 1.3 1 7.9 1-2 1-3.8 1-4.2 1 1 1 4.6 1-.4 1-1.7 1-.5 1 2.3 1 4.5 1 2.8 1 3.4 1 .3 1-3.1 1-3.9 1 4.7 1 3 1-.5 1 2 1 .4 1 3.6 1-2 1-.1 1 1.6 1-4.4 1 7.1 1-5.1 1 1.4 1-1.8 1 3.9 1-1.4 1-5.9 1-.3 1 .4 1 .7 1 3.7 1 9.2 1 .5 1 9.9 1 7.6 1-4.4 1 1.3 1-1.7 1 6.1 1 10.1 1 1 1 1.5 1 3.1 1-3 1 3.8 1 2 1-2.7 1 6.8 1-5 1 .9 1-1.3 1 2.1 1 .2 1 7.3 1-1 1 5.1 1-.7 1 2.3 1 2.2 1 4 1 4.6 1 5.1 1-4.6 1-11.8 1 4.4 1 6.8 1 5.5 1-.7 1 4.7 1 6.3 1 9.4 1-5.5 1 6.7 1 1 1-4.4 1 1.1 1 2.5 1 6.4 1 .6 1 4.1 1 7.2 1 3.1 1 4.5 1 3.5 1-7.3 1 .2 1 3.8 1 4.8 1 4.7 1 7 1 4.9 1 4.7 1-5.7 1 7.6 1 .5 1-3.1 1 3.5 1 6.6 1 8.3 1 6.1 1 .1 1-6 1 2.1 1-2.4 1 4.3 1 6.3 1 3.5 1 3 1-4.2 1 9.6 1-.5 1 12.6 1 7.6 1 3.3 1-3.3 1-2.3 1 5.2 1-8.2 1 2.2 1 6 1 6.3 1 17.6 1-13.9 1-3.1 1 6.4 1 7.3 1-1 1-3 1 3.4 1 9 1 .1 1 5.9 1-7.9 1 7.8 1 .4 1 6 1 4.1 1-4.5 1-1.7 1-4.1 1 9.2 1 1.4 1 3 1 2.7 1-1.5 1-6.6 1 2 1 6.8 1 .8 1 5.2 1 2.4 1-6.4 1 7.9 1-4 1 6.2 1-8.1 1 7.4 1-4.2 1-6 1 7.2 1 3.1 1 4.7 1 2"/><path vector-effect="non-scaling-stroke" d="M0,534.1l1-.5 1 1.9 1 10.6 1 3.8 1 7.8 1-4.9 1-.3 1-8.1 1 2.6 1-8.1 1 1.5 1-5.5 1 3.5 1-2.2 1 1.1 1-4.9 1-1.8 1 10.9 1-6.1 1 3.3 1-9.7 1 14.9 1-7 1-10.7 1 2.6 1-7 1 18.8 1-15.1 1 6.9 1 .3 1 2.7 1 1.7 1-4.7 1 2.3 1 1.6 1 11.5 1-7.6 1-8.7 1 3.7 1 .7 1 10.4 1-7 1-7.8 1-3 1 2.4 1-11.1 1-3.3 1-4.7 1-14.5 1-9 1-6 1 4.4 1-10.2 1-5.8 1 6.7 1-3.1 1 1.5 1 .9 1 .2 1 8.5 1 1.9 1-11.3 1 3.1 1 4.8 1-4.9 1 4.2 1-4.2 1-8.1 1 .4 1 10.9 1-.2 1 11.2 1-3.4 1-9 1-7 1 0 1 3.3 1 6.1 1-6.9 1-6.6 1-5.1 1-3 1 2.9 1-6.4 1-3.8 1-10.8 1-2.9 1 3 1-4.1 1-4.9 1-8.4 1-9.2 1 3.4 1-4.6 1 1.5 1-2.2 1 1.5 1-4 1-6.6 1-10.1 1-6.6 1 4.7 1-2.3 1 .3 1 3.6 1-2.2 1-8.4 1-4.6 1-7.9 1 .3 1 3.5 1-4.6 1 3.2 1-8.7 1-7.7 1 3.9 1-2.8 1 .7 1 6.9 1-.4 1-3.5 1 1.9 1 2.8 1-2.8 1-4.4 1 2.7 1-5.6 1-1.4 1-6.2 1 2.3 1-1.6 1-2.1 1-7.7 1 1.2 1 9.7 1-8.7 1 1 1-11.1 1-6.1 1-1.5 1-5.6 1-1.1 1-1.5 1-1.8 1-5 1-.5 1 2.1 1-.9 1 .5 1-2.9 1-3.9 1 6.4 1-10.3 1-1.1 1 0 1 3 1-2.8 1 3.7 1-4.3 1-1.8 1-4.3 1 4.1 1-3.8 1-.8 1-4.9 1-.4 1-.5 1 .9 1-1.9 1 .3 1 1.6 1-4.3 1-2.5 1 3.2 1-2.2 1-6.5 1 2.4 1-4.9 1-5.2 1-3.1 1 .3 1 2.8 1 1.4 1-3.8 1 3.5 1-8.1 1 0 1-4.2 1-.4 1 8.6 1-1.9 1-6.5 1 1.4 1-4.9 1 .6 1 .3 1 1.5 1 .5 1 .5 1-3.4 1 6.5 1-3.4 1-3.4 1 6.5 1 1.4 1-3.4 1 1.7 1 1.8 1 .5 1 2.6 1-1.5 1-2.8 1 .3 1 1 1-3 1 4.5 1-.1 1-1.3 1 1.6 1 4.3 1 .2 1-11.1 1-.8 1 1.6 1-5.1 1 2.6 1 1.2 1-.9 1-.2 1 9.8 1 3 1 .4 1-5.2 1-3.9 1 2.6 1 2.6 1 2.5 1 5.3 1 7.1 1 1.5 1 5.9 1 3 1 1.5 1 3.9 1-4.6 1 1.2 1 1.6 1 .2 1 1.6 1 3.9 1 4.7 1 2.4 1 4.4 1-.5 1 6.1 1-4.2 1 3 1-1.3 1 2 1 1.3 1 .4 1 4.6 1 5.7 1-4.3 1 7 1 4 1 4.2 1-3.1 1 7.4 1 10.8 1-5.4 1 5.9 1 8.7 1-3.8 1-.8 1-1.3 1 5.4 1 4.7 1 .9 1-8.1 1 13 1 3.2 1 4.5 1-3.7 1 .2 1-1.6 1 9 1 7.5 1 6.4 1 9.3 1-.9 1 2.1 1 5.8 1 12 1-8.3 1 3.5 1 2.8 1 9.1 1 2.5 1 0 1 9.1 1 7 1-4 1 3 1 2.6 1 5.2 1-1.3 1 2.8 1 0 1 5.4 1 7.8 1 1.1 1 1.7 1 6.9 1-6.4 1-2.8 1 1.4 1 5 1-.4 1 2.9 1 .2 1-5.6 1 2.6 1 5.4 1 5.2 1 3.2 1 1.1 1 12.1 1 2.9 1-1 1 4.9 1-12 1 15.9 1-9.6 1-.6 1 4.6 1-.4 1 1.5 1 16.6 1 .3 1-7.2 1 4.7 1-5.5 1 .8 1 2.5 1 10.4 1-4.3 1-2.5 1-6.8 1 7.5 1 18 1-11.9 1 15.8 1-6.1 1-.1 1-4.3 1-1.7 1 3.8 1-1.8 1-6.4 1 6.5 1-2.5 1 23 1-2.3"/><path vector-effect="non-scaling-stroke" d="M0,521.3l1 14.5 1 3 1-14.3 1 7.5 1 1.2 1-9.3 1 14.2 1 6.4 1-1.4 1-10.4 1 10.5 1-.9 1-1.3 1-11.7 1 5 1-1.9 1 2.5 1 3.9 1-4.9 1 3.4 1-3 1-6.5 1-5 1 12.1 1-5.5 1 10.6 1 2.6 1 .2 1 7.6 1 6 1-14.8 1-9.2 1-.6 1 3.1 1-7.2 1 4 1-3.2 1 4.3 1-8.9 1 9.6 1-3 1-4.7 1-2.4 1 1.3 1-4.4 1 0 1-1.7 1 4.4 1 5.7 1-13.1 1-3.4 1-2.8 1-3.6 1 1.2 1-13.8 1-.1 1-1.7 1-.1 1 4 1-10.5 1-.7 1 9.7 1 1.9 1-5.2 1 7.7 1-3.1 1-7.5 1-1 1-4.9 1-4.1 1-5.6 1-3.5 1 3.4 1-10 1-.9 1 3.2 1-6.2 1-4.5 1-1.7 1-5.4 1-3.2 1-3.5 1 1.9 1 1.9 1-3.4 1-5 1 .4 1-.3 1 11.3 1-2.8 1-5.5 1-2.4 1-4 1-1.1 1-3.9 1-1.6 1-16 1-5 1 3.1 1-7.1 1-6.7 1-5.2 1 0 1-4.2 1 4.7 1-3.4 1 7.4 1-.9 1-13.6 1-12.7 1 .4 1 8.9 1 7.9 1-9.9 1-6.6 1-6 1-2.5 1 1.8 1-4.8 1-4.8 1-3 1-5 1 2.3 1 7.6 1-4.2 1 .7 1-7.2 1 .6 1-1.6 1-.2 1 .2 1 .7 1-6.8 1 .2 1 .5 1-2.8 1 9.6 1-.6 1-5.8 1-5.8 1-1.5 1-8.1 1-.6 1-2.4 1-1.9 1 2.8 1-8.4 1-4.3 1 .5 1 4.6 1 1.7 1 .1 1-5.3 1-.9 1-3.3 1 3.2 1 .6 1 .5 1 5.3 1-5.9 1-5.4 1-2.7 1 2.7 1-4.1 1-5.1 1-4.2 1-2.7 1-3.8 1-2.7 1-5 1 1.8 1-3.1 1-.8 1-.4 1 5.2 1-5 1 .8 1-2.6 1-.1 1-3.3 1-3.6 1-1 1-4.2 1-.7 1-1.3 1 2.2 1 2.1 1-1.8 1-4.4 1 .6 1 .5 1-.2 1-2.7 1-.6 1 3.1 1-5.2 1 1.5 1 3.8 1-4.8 1-.6 1 1.4 1-2.3 1-2.8 1-2.8 1 7.2 1-1.3 1-2.6 1-.2 1-4.3 1 5 1 3 1 3.2 1-2 1-4.4 1 2.5 1-1.6 1-2.5 1 2.9 1 5.7 1-3.6 1-2.1 1-1.3 1-3 1-1.4 1 1.7 1 7.1 1-9.5 1 10.6 1-4.4 1 1.3 1 4.6 1-3.1 1 4.1 1 2.1 1 7.6 1 5.6 1 7.1 1 .8 1 2.2 1-3.2 1 5.7 1-3.4 1 5.7 1-1.3 1 10.1 1-.2 1 .2 1-1.8 1 1.5 1 9.9 1 .8 1 1.4 1-3.7 1-1.6 1 12.2 1 1 1-5.1 1 6.5 1 1.1 1 3.1 1 .2 1-2.2 1-1.9 1 6.1 1 10 1 7.8 1-3.5 1 5 1-2.9 1-.7 1 .8 1 10.7 1 1.2 1-2.4 1 9.3 1-2 1 3.9 1-1.4 1-2.6 1 5.7 1 2.8 1 4.6 1 7.4 1 2.2 1 7.1 1 8.4 1 2.8 1-1.7 1 3.2 1-1.1 1 9.4 1 3.3 1 .2 1-2.3 1 5.7 1 3 1 4.2 1 .7 1 2.3 1-.8 1 9.1 1 9.6 1 2 1 3 1 1.3 1 1 1 9.6 1 .9 1-.7 1-8.5 1 10.2 1-.2 1 .6 1 3 1-2.3 1 12.8 1-1.5 1-7 1 2.1 1 10.3 1-.9 1 4.6 1-4.5 1 1.9 1 4.4 1 2.9 1 9.8 1 5.3 1-5.2 1-3.2 1 12.3 1 5.9 1 .4 1-9.1 1-3.4 1-2.7 1 15.6 1 .1 1-6.5 1 .2 1 9.8 1-1.1 1 3.8 1 2.8 1 2.9 1 13.4 1 3.3 1-5.1 1 10.4 1-1.1 1-.2 1-2.3 1-8 1-1.5 1 .7 1-1.3 1 3.4 1 1.2 1 7.7 1 1.9 1-1 1 2.2 1 1 1-3.9"/><path vector-effect="non-scaling-stroke" d="M0,529.2l1-10.6 1 6.6 1 6.5 1-4.8 1-1 1 10.2 1-7.6 1 2.4 1-4.8 1-2.7 1-6.8 1 7.3 1-8.3 1 6.7 1 4.2 1-2.6 1 1.8 1 3.8 1-3.9 1-3.2 1-9.9 1 12.8 1-12.5 1 11 1-3.3 1-1.8 1-.8 1 2.9 1-7 1 3.7 1-15 1 8.3 1-7.9 1 7.6 1 15.7 1-5.6 1-1.2 1 1.2 1-5.4 1-3.2 1-5.1 1 9.4 1-4.6 1 .1 1-6.9 1 2.1 1 4.6 1-13.5 1-.8 1 1.1 1 2.3 1-2.4 1-2.3 1-6.5 1 1.5 1-11.6 1-5.1 1 1.9 1-2.5 1 3.1 1-2.9 1-.8 1-.2 1 6.3 1-2.7 1-6.5 1-5.2 1 2.1 1-3.5 1 1.3 1-5.7 1-1.8 1 3.2 1 1.2 1 .6 1 2.6 1-4.7 1-3.4 1-.4 1-7.5 1-4.1 1-3.1 1-7.3 1-4.5 1-2.4 1-3.8 1 16.7 1-9.5 1-7.5 1-4.8 1-1.7 1-6.8 1 .6 1-13.6 1-7.9 1 8.4 1-2.7 1-7.2 1-2.6 1 2.3 1-5.3 1-3.6 1-3.9 1 4.6 1-4 1-6.2 1-.9 1-9.2 1-.3 1-9.1 1-1.7 1-.3 1 .6 1 .4 1-.7 1-2 1-5.3 1-.6 1 2.6 1 4.5 1-9.3 1-3 1-4.9 1-1.5 1-.7 1 1.9 1 3 1-4.6 1 2.9 1-1.5 1-1.8 1-2.2 1-.5 1-5.1 1 2.3 1 2 1-3.3 1-7.4 1-7.3 1-7 1-6.2 1-2.2 1 .9 1 2.1 1-1.7 1-1.2 1-1.7 1 6.4 1-7.2 1 10.2 1-6 1-9.1 1-1.9 1-2.1 1-5.6 1-3.9 1 7.9 1-4.2 1 1.5 1-7.5 1-2.9 1 2.1 1 .4 1-1.7 1 1.4 1 .5 1-.5 1 2.2 1-4.9 1 2 1 2.1 1-3.4 1-1.7 1-8.3 1 .5 1 3.3 1-4.7 1 1.6 1-.9 1-5.2 1 .2 1 .3 1-4.3 1-2 1 1.1 1 6.2 1-5.9 1-1.3 1 1 1 3.7 1-5.9 1-1.4 1-5.8 1-1.9 1 10.3 1 3.2 1-3.7 1 1.3 1 1.6 1-.9 1-6.8 1-.1 1 3.7 1-3.1 1-1.7 1 1.6 1-.5 1 2.1 1 1.9 1 4.3 1 2.7 1-4.8 1-.7 1-2.9 1 6.2 1 1 1 5.2 1-3.6 1-3.5 1 1.4 1-4.5 1 3.4 1 5.1 1-.5 1-3 1-4.4 1 5.4 1 .2 1 6.9 1 1.6 1 1.4 1-2.6 1 4.3 1 .8 1-1.4 1 .1 1 1.6 1 4.3 1-1.2 1 6.9 1-5.1 1 2.6 1 3.4 1 1.9 1-5.3 1 12.4 1-.1 1-1.5 1 1 1 5 1-.4 1-3.4 1 7.9 1 .4 1 1.9 1 9 1-6.2 1 .7 1 .8 1-.4 1 4.1 1 6.4 1 2.5 1 .4 1 .2 1 7.6 1 7.3 1-2.9 1 6.2 1 5.9 1-2.9 1 .1 1 1.3 1 .2 1 5.2 1 3.6 1 6.5 1-5.9 1-1.3 1 7.4 1 16 1 1.1 1 5.6 1 2.9 1-11.4 1-.2 1 .6 1 10 1 8 1 1.8 1 3.8 1 3.3 1 1.4 1 13.9 1 1 1 4.1 1-8.5 1-.4 1 9.9 1 .2 1 4.2 1-1.7 1 .6 1 5 1-3.2 1 7.7 1 .1 1 11.1 1-2.5 1 5.1 1 7.9 1 8.7 1-4.8 1 8.9 1-5.8 1-5.2 1 5 1 3.8 1 2.6 1 3.1 1 9.8 1 5.9 1-6.8 1 3.5 1-6.5 1 8.1 1 5.6 1 10.6 1 3.8 1-3.8 1 8.4 1 2.3 1-4.8 1 3.3 1 13.6 1-5.8 1-1.6 1 3.6 1 2.4 1 6.7 1 10 1 .5 1-9.8 1-1.7 1 1.2 1-10.1 1 8.2 1-.8 1 6.6 1-7.4 1-6.8 1-.3 1 7.2 1 1.5 1 2.5 1-5.6 1 8.7 1 4.3 1-3.2 1-7.9 1 3.8 1 7.8 1 .8 1 .4"/><path vector-effect="non-scaling-stroke" d="M0,542.1l1 .1 1 8.8 1 6.2 1 5 1 .4 1-12.4 1 12.1 1 1.2 1-1.3 1-3.8 1-7.4 1 11.2 1-2.2 1 10.6 1-1.6 1-3.3 1-5.8 1-2.2 1 12.3 1-3.5 1-.5 1-6.5 1 3.9 1 2.5 1 4.9 1-4.9 1-9.8 1 2.7 1-1.5 1 3.2 1-5.5 1 8.5 1-3.2 1-1.3 1-3.6 1-5.4 1-13.6 1 17.4 1-5.7 1-8.8 1 .3 1 1.9 1-4.9 1-1.2 1-1.8 1-3.5 1 7.6 1-3.3 1 .4 1-9.8 1-7.4 1-2.9 1 2.9 1 3.9 1 1.8 1-5.5 1 1.9 1-1 1 1 1-9.5 1 9.7 1 6.6 1-2.8 1 1.4 1 5 1-3.5 1-7.7 1-6.7 1-2.2 1 2.2 1-7.1 1-6.4 1 8.9 1-4.5 1-11.3 1 2.8 1 11.9 1-19.6 1-2.3 1-.5 1 4.1 1-11.4 1-6.7 1-5.9 1 4.4 1-.2 1 .2 1-2.1 1-9.4 1-7.2 1 .6 1-1 1 3.4 1-4 1-7.2 1-5.1 1-8.4 1-3.7 1-12.5 1-.7 1 .6 1 6 1-10.4 1-6 1-.9 1-5.2 1 3.4 1-7.5 1-6.4 1-4.3 1 2.9 1-3.6 1 3.4 1-1 1 4.8 1-4.3 1-3.8 1 .1 1 .1 1 1.7 1-1.9 1-8.7 1-2.8 1-4.9 1 5.5 1 3.5 1 6.6 1-5 1-3.1 1 2 1 .6 1-4.2 1-5.9 1 1.3 1-5.6 1 3.9 1-6.9 1 3 1 1.2 1-8.1 1-.6 1-7.3 1-3.5 1-2.9 1-6.4 1-8 1-4.6 1-3.5 1-7.2 1 5.1 1 2.3 1 .8 1-4.8 1-1.8 1-1.3 1 .4 1-6.8 1 3.2 1-4.3 1-2.2 1-4.2 1 .1 1 3.7 1-.3 1-1.7 1 2.1 1-3.6 1 .3 1-6.4 1-1.1 1 6.4 1 1.2 1-6.9 1-.1 1-6.8 1-6 1 1 1-.3 1-4.3 1 .9 1-5 1-.9 1-.2 1-5.9 1-5.7 1-2.6 1-1.8 1-3.4 1 1.9 1-3.6 1 1.5 1 1 1 3.4 1-1.5 1 4.9 1-8.4 1 2 1 2.1 1-.9 1 1.1 1 1.3 1 2.9 1-2.1 1-2.3 1 3.6 1 .9 1 1.8 1-.8 1-2.1 1 .7 1 1.6 1 7.1 1-1.9 1-.7 1 3.6 1-5.3 1-2.5 1-1.2 1-2.7 1-1.3 1 .8 1 .1 1-1.3 1 2.8 1-4.6 1 8.2 1-4.5 1 3 1 4.3 1 .6 1-1.9 1 1.9 1 1.8 1 .2 1 6.8 1-1.4 1 9.2 1-4.6 1 8.9 1 5.5 1-4.4 1 9.1 1-.4 1 6.9 1 8.9 1 2 1 4.4 1-.6 1-.6 1 6.2 1-.2 1 1.4 1-4.8 1 .9 1 1.5 1 6 1 .4 1 .8 1 4.5 1 1.2 1 .6 1-1.2 1 3.2 1 5.5 1-1.2 1-.7 1 2.3 1 3 1 7 1 3 1 1.3 1 3.4 1 5.4 1 7.1 1-2.9 1 7 1-3.2 1 8.5 1-2.9 1 5.3 1 2.1 1 3.8 1 1.5 1 3.5 1-2.4 1 1.6 1 6.3 1 2.4 1 2.4 1 9.1 1 10.6 1-1.3 1 2.2 1-1.2 1 6.9 1 2.8 1-.9 1 10.4 1-2.3 1-3.5 1 0 1 6.7 1 1.8 1 11.7 1 1.2 1-7.3 1 12.5 1 4 1 2 1 4.4 1 4.1 1-4.5 1 10.6 1 6.9 1-8 1 3.4 1 7.9 1-.2 1 4.2 1 4 1-6.6 1 2.3 1 .7 1 .8 1 2.9 1 6.9 1 6.5 1 7.4 1-3.4 1-2.3 1-1.8 1 1.9 1 3.7 1-.1 1-1.7 1-.3 1 7.1 1 5.4 1 2.5 1-1.7 1 2.5 1 2.8 1 1.6 1 4 1 8.2 1-3.3 1-3.9 1 2.3 1 6.6 1 5.3 1-4.1 1-5.4 1-4.3 1 4 1 4.3 1 10.5 1 .6 1-3.5 1-11.4 1-1.9 1-8.7 1 2.8 1-7.2 1 4.8"/><path vector-effect="non-scaling-stroke" d="M0,536.1l1-4.9 1 2 1-2.6 1 6.2 1-.6 1 5.9 1-5.3 1 4.8 1 2.1 1-6.3 1-5.7 1-.6 1 2.6 1 .7 1 .7 1 7.3 1 .5 1 1.4 1 1.3 1-8.7 1 4.4 1 .3 1-4.2 1 3.9 1 4 1 2.2 1-2.2 1 2.4 1 2.7 1-1.8 1-4.5 1-7.2 1 5.7 1 4 1-8.7 1-9.7 1-7.9 1-.3 1-4.1 1 8 1 2.5 1 4.5 1-4.6 1-2.3 1 2.1 1 3.4 1-2 1 2 1-3.1 1 6.9 1-3.7 1-13.4 1-15.4 1-.3 1-7.6 1-8 1 5.5 1-.1 1-7.9 1-4.6 1 4.6 1 12 1-4.2 1-6.3 1-4.9 1 1.5 1-2.6 1-4 1 2.4 1-9.8 1 3.6 1 1 1-8.9 1-.9 1-2.3 1-4.9 1 6.3 1 5.7 1 1.7 1-4.7 1-9.4 1-3.7 1-3.3 1-.1 1 .6 1-8 1 9.2 1-6.3 1-4 1-2 1 5.9 1-9.6 1-9.1 1 2.9 1-5.9 1-5.3 1-3.7 1-.3 1-4.6 1 2.8 1 .9 1 .5 1-4.7 1-18.1 1 1.9 1-4 1 2.7 1 3.1 1-4.7 1-5.1 1-8.9 1-4 1-.6 1 1.5 1-1.3 1-1.8 1-7.3 1-11.1 1 2.2 1 1.3 1-10.2 1-7.3 1 2.2 1 6 1 2.3 1 .3 1-7.6 1 2.3 1-11.2 1-.7 1 2.1 1 1.2 1 1.6 1-.7 1 .3 1-.9 1-3.9 1-1.9 1 3.5 1-2.6 1-6.2 1-2.4 1 1.8 1 5.5 1 5.5 1-5 1-10.9 1-1.2 1-2.8 1 1.8 1-3.3 1-.5 1-3.3 1-3 1 1.1 1-7.2 1 4 1 .9 1-.7 1-.4 1-5.9 1-4.3 1-2.4 1 1.6 1 3.1 1 2.2 1-1.7 1-6.9 1-6.1 1 2.4 1-2.3 1 1.4 1 2.2 1-.6 1-4.1 1-1.1 1-.5 1-6.2 1-4.1 1 1.6 1 1.1 1 5.1 1-2.7 1 1.2 1-8.4 1-1.4 1-1.8 1 1.8 1 1 1-.6 1-2.3 1-7.8 1-4.6 1 3.4 1-3.1 1-6.3 1 5.8 1-2.2 1 3.5 1 2.4 1 1.1 1-.2 1 .4 1-.3 1 6.8 1 .1 1-1.8 1-2.8 1 4.6 1-7.1 1 .9 1 1.5 1 5.6 1-4.1 1 1.2 1-2.4 1 2.9 1 .3 1-3.4 1-3.4 1 3.4 1 1.4 1-6.4 1 .9 1 1.1 1 5.8 1 5.9 1-2.3 1-3.8 1-.8 1-2.1 1 9 1 1.3 1 3.1 1-1.7 1 4.8 1 8.8 1 .3 1-.7 1 4 1 3.1 1-1 1 8.3 1 6.6 1-1.6 1-1.6 1 7.1 1 1.7 1 3.1 1-2.8 1 9.5 1-.4 1 2.6 1-5.4 1-4.1 1-.6 1 2.1 1 5 1 11.9 1 6.4 1 2 1-.9 1 3.7 1 .6 1 5.9 1 3 1 1.9 1 3.1 1-2.3 1 6.4 1 3.4 1-6 1 3.6 1 2.9 1 1.6 1 5.1 1 8 1 6.3 1 3.8 1 6.4 1 5.7 1-8.1 1 6.6 1-3.4 1 2.3 1 3.6 1-.2 1 7 1 1 1 3.7 1 7.7 1 3.6 1-2.9 1 1.6 1 2.6 1-8.4 1 5.2 1 7 1-4.6 1 11.1 1-7.8 1 8.6 1 4.5 1 6.5 1 2.7 1-1.4 1 2.7 1-1 1-3.1 1 0 1 1.7 1-2.3 1 3.3 1 6.1 1 7.4 1 6.5 1-2.3 1 5.6 1 5.7 1 2 1 2 1 .1 1 11 1-2.5 1 4.6 1-4.4 1 8.2 1-.5 1 5.3 1 5.9 1-1.7 1-3.7 1 5.2 1 8.4 1-2.5 1 3.9 1 8.3 1 1.2 1 13 1-4.4 1 .6 1 6.8 1 7.2 1-17.6 1-1 1 9.4 1-2.8 1 11.3 1-3.2 1-1.7 1-14.6 1-.2 1-2.8 1 5.3 1 .4 1-2.5 1 3.9 1 8.7 1 1.3 1-4.9 1 1.7 1-4 1-8.6 1 6"/><path vector-effect="non-scaling-stroke" d="M0,540.3l1-7.4 1-4.4 1 4.9 1-7.9 1 5.2 1 7.3 1-2 1-7.9 1-3 1-9.5 1 1.7 1-5 1 12 1 6.1 1 2.9 1-4.4 1 2.6 1 4.1 1 2.8 1-9.9 1-1.9 1 11.1 1-2.8 1 2.3 1 5.7 1-8.3 1 7.4 1-.1 1 .7 1-16.1 1-3.6 1 2.8 1-1.3 1-.9 1 10.1 1-1 1-.7 1 1.3 1 .8 1 5.6 1-6.4 1-9 1-4.5 1-5.1 1-1.1 1 2.6 1-7.8 1 6.2 1-1.1 1 3.1 1-10.7 1-6.4 1-2.5 1-6.8 1-4.6 1-7 1-3 1-13.1 1-3 1 .5 1 4.3 1 6.4 1-7.6 1-4.2 1-5 1 11.9 1-6.8 1-10.9 1-.3 1 .7 1-1.9 1 2.5 1-.6 1 1.6 1-2.4 1-4.1 1 1.7 1-7.3 1-2.1 1-3.5 1-1.8 1-2.9 1 1.6 1-7 1 2.4 1-2.2 1 5.4 1-5 1-8 1-2.3 1-7.2 1-2.8 1 3 1-8.2 1-4 1 3.4 1-6.2 1 .1 1-1.4 1 2.6 1 1.4 1 2.2 1-.4 1-7.8 1 .8 1-11 1-4.9 1 .8 1-3 1-1.7 1-4.7 1 .2 1-9.1 1 1.6 1 5.6 1-3.4 1 1.6 1-8.7 1-7.1 1-2.4 1-.3 1 1.2 1-8 1 2.6 1-1.1 1-11.1 1 6.8 1-5.6 1-2.1 1 7.9 1-9.3 1 3.9 1-1 1-6.3 1 3.3 1 .7 1 2.3 1-.5 1-7.4 1-6.6 1 5 1-3.2 1-6.5 1 2 1 2.2 1-7.5 1-6 1-.8 1 4.6 1-3.1 1-3.7 1 4 1 3.7 1-10.7 1-1.3 1 3.4 1-4.5 1 .4 1-4.2 1 1.5 1 7.1 1-11.1 1-3.6 1 3 1-6.1 1-3.7 1 1.3 1-7.3 1-1.8 1 5.5 1 1.1 1-4.3 1-2.2 1-2.7 1-2.2 1-1.7 1-.6 1 0 1 1.5 1 .5 1-8.2 1-4.9 1 4.3 1 5 1-1.6 1-7.2 1-2.8 1 7 1-3 1 .1 1-5.1 1 3.2 1 8.5 1-3.3 1 .7 1-5.2 1-3.6 1-.2 1 2.8 1-6.5 1 2.8 1 .4 1-4.7 1-1 1 .1 1 3.1 1 3.7 1 1.9 1-3.1 1-.5 1-5.3 1 5.3 1-5.7 1 .8 1 8.9 1-.3 1 4.6 1 .6 1-7.8 1 3.3 1 2.6 1-2.7 1 1.7 1-8.8 1 9.8 1-7.7 1 3.5 1 10.4 1-2.5 1 2.3 1-.2 1 1.3 1-3.5 1 1.3 1 4.8 1 3.3 1 2.3 1-2.9 1 2.8 1 4 1 1.9 1 4.1 1 3.7 1 3 1 1 1 1.7 1 .2 1 3 1 8.5 1 4 1 3.7 1 6 1 0 1 3.7 1-12.2 1 1.6 1 3.4 1 .6 1 5.4 1 3.8 1 2.5 1 .5 1 1.1 1 5.3 1 1.7 1 6.9 1 .4 1 7 1 .3 1-2.8 1-1.6 1 9.5 1 2.9 1 2.5 1 3 1-1.1 1 5.3 1-1 1 1 1 1.7 1-4.6 1 8 1 6.9 1 3.3 1 5.2 1-1.9 1 .7 1 1.9 1 2 1 12.5 1 6.8 1-4.2 1 7.4 1-1.6 1 6.2 1-.5 1 7.2 1 2.5 1 4.6 1 .2 1 4.3 1 2.2 1 7 1-5.2 1-2.8 1 5.6 1-5.3 1 4.9 1 3.5 1 3.4 1 4.3 1-3.2 1 9.6 1 4.1 1 1.1 1-2.7 1 3.7 1 7.2 1 6.1 1 .7 1-.3 1 7.1 1 3.5 1 4 1-17.9 1 2.6 1 6.3 1 2.4 1 6 1 12.2 1 .6 1 7 1 3.4 1 .3 1-11 1 12.1 1-5.3 1 5.7 1-.2 1 2 1 4.6 1 1.2 1 2.2 1 .3 1 1.5 1 1.1 1-2.4 1 6.6 1 6.2 1 8.1 1-6.8 1 2 1 11.3 1-.5 1 0 1 1.5 1-9 1-6.9 1 7.7 1-6.2 1-2.3 1-7.7 1 5.4 1 2.2"/>
</g>
<path d="M69.7,570.4 74.7,571.9 79.8,573.1 84.8,574.4 89.8,574.9 94.8,574.8 99.9,574.5 104.9,574.0 109.9,572.4 115.0,570.3 120.0,568.0 125.0,565.2 130.1,562.4 135.1,559.4 140.1,556.0 145.1,552.0 150.2,547.3 155.2,542.2 160.2,537.0 165.3,531.6 170.3,526.2 175.3,521.0 180.4,516.0 185.4,510.6 190.4,504.4 195.4,497.2 200.5,489.7 205.5,482.3 210.5,475.1 215.6,468.0 220.6,460.8 225.6,453.7 230.7,446.6 235.7,439.6 240.7,432.4 245.7,424.7 250.8,416.5 255.8,408.2 260.8,400.5 265.9,393.3 270.9,386.5 275.9,379.8 281.0,373.2 286.0,366.7 291.0,360.1 296.0,353.4 301.1,346.6 306.1,339.9 311.1,333.4 316.2,326.8 321.2,319.7 326.2,313.1 331.3,308.1 336.3,304.4 341.3,300.3 346.3,295.1 351.4,290.8 356.4,287.6 361.4,285.0 366.5,283.1 371.5,281.5 376.5,280.1 381.6,279.1 386.6,278.2 391.6,277.6 396.6,277.0 401.7,276.4 406.7,275.5 411.7,274.5 416.8,273.8 421.8,273.6 426.8,274.2 431.9,275.4 436.9,276.7 441.9,278.6 446.9,280.9 452.0,284.2 457.0,288.2 462.0,293.1 467.1,298.4 472.1,303.3 477.1,308.2 482.2,313.5 487.2,319.7 492.2,326.1 497.2,332.0 502.3,337.9 507.3,343.6 512.3,349.5 517.4,356.2 522.4,364.4 527.4,373.0 532.5,381.4 537.5,389.7 542.5,397.9 547.5,406.0 552.6,414.4 557.6,423.8 562.6,433.7 567.7,443.1 572.7,451.8 577.7,460.1 582.8,468.2 587.8,476.2 592.8,484.1 597.8,491.7 602.9,498.9 607.9,506.0 612.9,513.4 618.0,520.5 623.0,526.7 628.0,532.3 633.1,537.6 638.1,542.8 643.1,547.5 648.1,551.5 653.2,555.0 658.2,558.2 663.2,561.1 668.3,563.7 673.3,565.9 678.3,567.8" fill="none" stroke="#a9a9a9" stroke-width="2" stroke-dasharray="8.3,8.93"/>
<path d="M69.7,532.2 72.5,536.6 74.5,542.5 76.2,547.6 79.9,550.6 83.5,552.8 87.2,556.5 89.0,562.5 91.3,570.0 93.5,564.0 96.0,556.5 99.7,560.9 102.9,565.6 105.0,563.5 107.1,561.6 108.5,560.1 110.5,553.0 112.9,544.7 116.6,551.3 119.3,546.9 122.5,550.6 125.4,550.6 127.8,543.0 130.3,533.7 132.6,538.5 135.0,543.5 137.0,536.5 138.7,530.0 141.6,524.1 145.0,531.0 148.2,537.4 150.0,532.5 152.5,522.0 154.9,512.4 157.8,518.2 160.0,514.6 160.6,511.2 163.5,501.0 166.8,490.0 169.4,490.9 172.9,475.9 176.5,466.2 180.9,463.5 185.3,454.7 189.7,457.4 194.1,455.6 197.6,460.0 201.2,465.3 203.8,462.6 208.2,450.3 211.8,438.8 216.2,434.4 219.7,432.6 224.1,434.9 227.6,433.9 231.2,436.7 233.8,430.0 236.5,415.9 240.0,400.0 243.0,395.5 246.0,393.5 249.0,384.0 251.5,383.2 253.5,381.0 255.9,381.5 258.0,379.5 260.5,373.0 262.6,367.6 265.3,357.4 267.9,355.6 271.8,360.6 276.2,348.2 280.3,342.9 284.7,347.9 287.4,343.8 290.0,332.4 293.5,323.0 296.7,314.4 300.6,317.7 305.0,317.4 308.5,307.6 312.6,294.4 314.4,295.8 319.1,290.9 322.6,282.6 324.4,281.7 327.9,273.2 330.9,272.0 334.1,256.5 336.8,241.5 338.5,241.5 341.2,250.3 342.6,253.4 345.6,257.8 349.7,255.6 353.2,256.4 356.2,260.9 360.3,250.7 364.7,239.6 367.4,239.6 370.9,243.6 374.4,251.1 376.7,234.8 379.2,213.6 382.4,211.0 385.5,213.6 388.5,214.2 392.1,220.7 396.5,229.9 400.0,222.5 403.2,217.2 407.9,218.4 412.4,219.8 416.8,216.6 420.3,220.7 424.7,222.1 427.4,216.3 431.4,213.1 434.4,219.8 437.9,227.4 442.4,232.2 445.5,235.7 448.0,235.7 451.2,230.8 453.8,232.2 457.1,237.2 460.6,233.6 463.2,233.6 466.8,229.2 470.3,243.4 472.9,243.4 476.5,253.1 479.1,253.9 484.4,265.1 487.1,261.0 489.7,261.5 494.5,252.2 498.5,262.8 500.3,262.8 503.3,254.5 509.1,268.9 510.9,268.9 513.5,265.9 516.2,269.8 520.6,280.4 525.0,289.2 528.5,300.7 532.9,316.6 538.2,327.2 543.2,318.0 545.3,323.6 547.9,336.0 550.6,340.4 553.2,351.5 555.9,357.4 559.4,358.5 563.8,366.5 568.2,375.3 572.6,392.1 575.3,396.5 578.8,407.9 585.0,419.4 587.6,416.8 591.2,416.8 596.5,422.9 600.9,424.7 603.5,422.6 607.1,415.9 609.7,422.9 612.9,440.0 615.1,456.2 617.4,466.3 620.4,469.2 623.9,457.1 625.7,457.1 628.9,463.5 632.0,458.7 635.1,461.2 638.3,468.0 640.8,476.8 643.8,492.9 646.7,507.6 648.9,508.8 651.9,504.0 655.5,500.3 658.5,504.0 662.1,506.9 666.6,488.5 669.1,482.6 671.0,484.9 672.9,490.3 675.4,487.8 677.6,490.7 679.8,495.1" fill="none" stroke="#e8702a" stroke-width="2.1" stroke-linejoin="round" stroke-linecap="round"/>
<path d="M69.7,498.6 71.0,506.0 72.5,511.6 73.5,516.0 74.7,518.4 77.6,523.0 79.9,528.6 81.0,528.0 82.8,525.2 85.7,530.5 88.8,537.4 90.5,535.5 93.4,528.5 96.0,523.5 98.8,516.8 100.5,519.0 102.6,522.3 105.6,517.7 108.5,516.0 111.5,512.0 114.4,506.5 117.5,499.0 120.3,493.0 123.2,492.0 127.6,492.6 130.6,486.5 134.1,476.0 136.5,475.3 139.4,476.0 142.0,481.0 145.3,489.0 148.5,493.5 151.2,497.5 154.1,495.8 157.3,485.0 160.0,487.5 162.6,482.2 165.9,483.8 169.4,491.0 171.0,487.5 173.0,475.5 174.7,469.7 178.2,463.5 181.8,462.0 185.3,450.3 188.8,435.3 192.0,423.8 195.0,425.8 196.5,428.3 198.5,427.9 201.2,431.8 202.9,432.6 205.0,437.0 207.4,442.4 210.0,442.0 211.6,438.0 213.2,429.1 215.5,416.5 217.1,407.9 220.6,397.4 223.2,391.5 225.5,392.1 228.5,397.4 231.2,396.5 232.9,391.2 235.2,385.5" fill="none" stroke="#7d1738" stroke-width="2.1" stroke-linejoin="round" stroke-linecap="round"/>
<circle cx="235.2" cy="385.3" r="4.2" fill="#a1365b"/>
<g font-family="'Liberation Sans', sans-serif" font-size="14" fill="#2a3f5f" letter-spacing="0.3"><text x="55.6" y="690.7" text-anchor="end">11</text><text x="55.6" y="612.7" text-anchor="end">12</text><text x="55.6" y="534.7" text-anchor="end">13</text><text x="55.6" y="456.7" text-anchor="end">14</text><text x="55.6" y="378.7" text-anchor="end">15</text><text x="55.6" y="300.7" text-anchor="end">16</text><text x="55.6" y="222.7" text-anchor="end">17</text><text x="92.7" y="704.6" text-anchor="middle">J</text><text x="144" y="704.6" text-anchor="middle">F</text><text x="193.5" y="704.6" text-anchor="middle">M</text><text x="245" y="704.6" text-anchor="middle">A</text><text x="295" y="704.6" text-anchor="middle">M</text><text x="347" y="704.6" text-anchor="middle">J</text><text x="397" y="704.6" text-anchor="middle">J</text><text x="449" y="704.6" text-anchor="middle">A</text><text x="501" y="704.6" text-anchor="middle">S</text><text x="551" y="704.6" text-anchor="middle">O</text><text x="603" y="704.6" text-anchor="middle">N</text><text x="653" y="704.6" text-anchor="middle">D</text></g>
<text transform="translate(29.3,438) rotate(-90)" text-anchor="middle" font-family="'Liberation Sans', sans-serif" font-size="17" fill="#2a3f5f" textLength="126.5" lengthAdjust="spacingAndGlyphs">Temperature (°C)</text>
<g font-family="'Liberation Sans', sans-serif" stroke="#fff" stroke-width="5" stroke-linejoin="round" paint-order="stroke">
<text x="243.4" y="378.8" font-size="16" fill="#8f2d4f" textLength="77" lengthAdjust="spacingAndGlyphs">9 Apr 2024</text>
<text x="243.4" y="399.4" font-size="16.4" fill="#862043" font-weight="bold" textLength="56.4" lengthAdjust="spacingAndGlyphs">14.85°C</text>
</g>
</svg>
<div class="legend">
<i style="left:62px;width:9px;background:#a9a9a9"></i><i style="left:80px;width:9px;background:#a9a9a9"></i>
<span style="left:97.2px;letter-spacing:.05px">1991-2020 average</span>
<i style="left:220px;width:28px;background:#7d1738"></i><span style="left:254.7px;letter-spacing:.05px">2024</span>
<i style="left:296px;width:28px;background:#e8702a"></i><span style="left:330.5px;letter-spacing:.05px">2023</span>
<i style="left:371px;width:28px;background:#e6e6e6;height:1px"></i><span style="left:406.5px;letter-spacing:.12px">1940-2023</span>
</div>
<div class="btn add" style="left:147px;width:244px;"><svg viewBox="0 0 12 12" width="12" height="12" style="left:23.2px;top:16.3px;margin:-6px 0 0 -6px"><path d="M4.55,0.8h2.9v3.75h3.75v2.9h-3.75v3.75h-2.9v-3.75h-3.75v-2.9h3.75z" fill="#00629b"/></svg><span style="left:37.5px;color:#1d5f8f;letter-spacing:-0.08px">Add years to compare with</span><span style="left:194px;color:#7d1738;font-size:13.5px">2024</span></div>
<div class="btn" style="left:394px;width:36px;background:#00629b;border-radius:5px"><svg viewBox="0 0 16 16" width="16" height="16"><path d="M4.48,4.08A5.4,5.4 0 1 1 3.99,11.15" fill="none" stroke="#fff" stroke-width="2.6"/><path d="M0.9,0.6L0.9,6.9L7.1,6.9Z" fill="#fff"/></svg></div>
<div class="btn" style="left:434px;width:36px;"><svg viewBox="0 0 16 16" width="16" height="16"><path d="M6.4,1.6h3.2v5h2.7L8,10.9L3.7,6.6h2.7z" fill="#00629b"/><path d="M1.6,10.4h3.6l2.8,2.6l2.8,-2.6h3.6v3.9h-12.8z" fill="#00629b"/><circle cx="12.3" cy="12.7" r="0.7" fill="#fff"/></svg></div>
<div class="btn" style="left:470.6px;width:36px;"><svg viewBox="0 0 16 16" width="16" height="16"><path d="M1.2,4.6a1.3,1.3 0 0 1 1.3,-1.3h2.3l0.7,-1.5h5l0.7,1.5h2.3a1.3,1.3 0 0 1 1.3,1.3v7.4a1.3,1.3 0 0 1 -1.3,1.3h-11a1.3,1.3 0 0 1 -1.3,-1.3z" fill="#00629b"/><circle cx="8" cy="8.2" r="3.2" fill="#fff"/><circle cx="8" cy="8.2" r="2" fill="#00629b"/></svg></div>
<div class="btn" style="left:507.2px;width:36px;"><svg viewBox="0 0 16 16" width="16" height="16"><circle cx="8" cy="3" r="1.9" fill="#00629b"/><path d="M5.2,6.3h4.6v6h1.4v2.3h-6.4v-2.3h1.4v-3.7h-1z" fill="#00629b"/></svg></div>
</body></html>
